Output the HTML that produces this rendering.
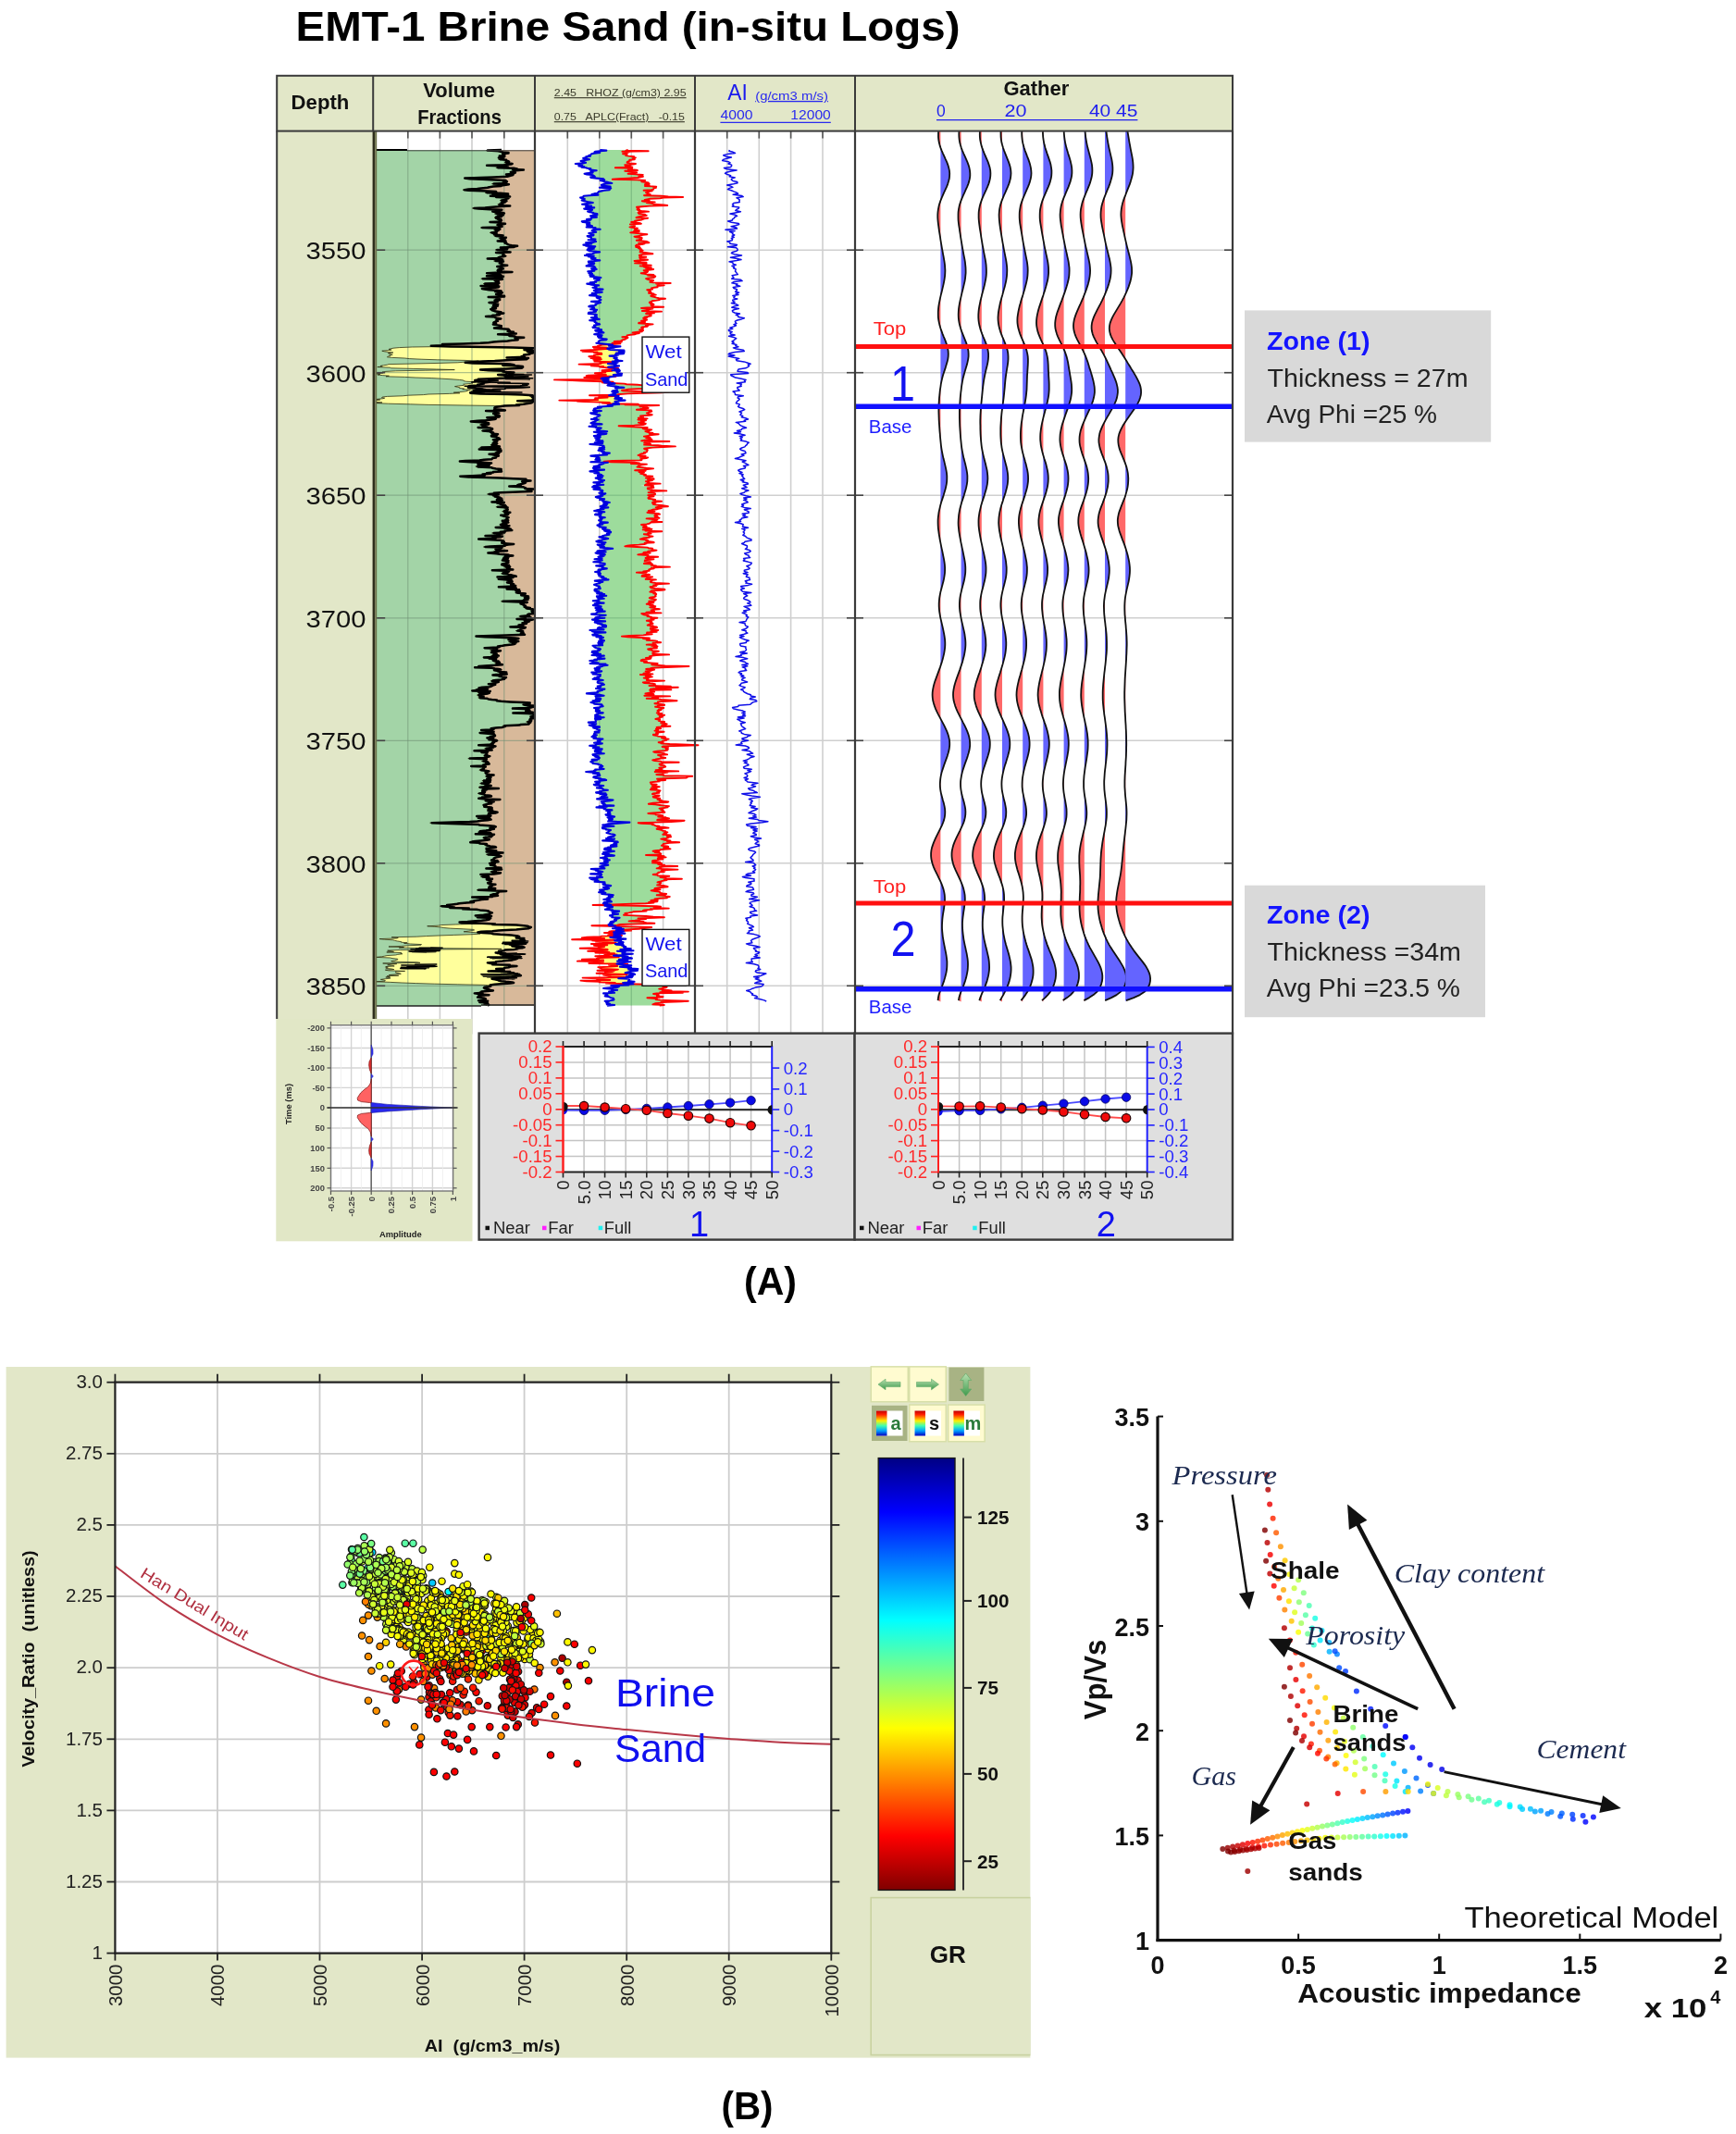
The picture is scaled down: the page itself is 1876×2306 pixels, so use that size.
<!DOCTYPE html>
<html lang="en"><head><meta charset="utf-8"><title>EMT-1 Brine Sand (in-situ Logs)</title>
<style>
html,body{margin:0;padding:0;background:#fff;}
body{width:1876px;height:2306px;overflow:hidden;font-family:"Liberation Sans",sans-serif;}
svg{display:block;filter:blur(0.55px);}
</style></head><body>
<svg width="1876" height="2306" viewBox="0 0 1876 2306">
<rect width="1876" height="2306" fill="#fff"/>
<text x="319.5" y="43.8" font-size="44" fill="#000" font-family='"Liberation Sans", sans-serif' font-weight="bold" textLength="718.0" lengthAdjust="spacingAndGlyphs">EMT-1 Brine Sand (in-situ Logs)</text>
<rect x="299.2" y="81.8" width="1032.8" height="59.8" fill="#e2e7c8" stroke="none" stroke-width="1" />
<rect x="299.2" y="141.6" width="104.0" height="959.4" fill="#e2e7c8" stroke="none" stroke-width="1" />
<rect x="403.2" y="141.6" width="928.8" height="976.0" fill="#fff" stroke="none" stroke-width="1" />
<line x1="403.2" y1="270.2" x2="1332.0" y2="270.2" stroke="#cfcfcf" stroke-width="1.6" />
<line x1="403.2" y1="402.7" x2="1332.0" y2="402.7" stroke="#cfcfcf" stroke-width="1.6" />
<line x1="403.2" y1="535.2" x2="1332.0" y2="535.2" stroke="#cfcfcf" stroke-width="1.6" />
<line x1="403.2" y1="667.8" x2="1332.0" y2="667.8" stroke="#cfcfcf" stroke-width="1.6" />
<line x1="403.2" y1="800.3" x2="1332.0" y2="800.3" stroke="#cfcfcf" stroke-width="1.6" />
<line x1="403.2" y1="932.8" x2="1332.0" y2="932.8" stroke="#cfcfcf" stroke-width="1.6" />
<line x1="403.2" y1="1065.3" x2="1332.0" y2="1065.3" stroke="#cfcfcf" stroke-width="1.6" />
<line x1="440.8" y1="141.6" x2="440.8" y2="1117.6" stroke="#cfcfcf" stroke-width="1.6" />
<line x1="475.4" y1="141.6" x2="475.4" y2="1117.6" stroke="#cfcfcf" stroke-width="1.6" />
<line x1="510.0" y1="141.6" x2="510.0" y2="1117.6" stroke="#cfcfcf" stroke-width="1.6" />
<line x1="544.8" y1="141.6" x2="544.8" y2="1117.6" stroke="#cfcfcf" stroke-width="1.6" />
<line x1="613.3" y1="141.6" x2="613.3" y2="1117.6" stroke="#cfcfcf" stroke-width="1.6" />
<line x1="647.8" y1="141.6" x2="647.8" y2="1117.6" stroke="#cfcfcf" stroke-width="1.6" />
<line x1="682.3" y1="141.6" x2="682.3" y2="1117.6" stroke="#cfcfcf" stroke-width="1.6" />
<line x1="716.6" y1="141.6" x2="716.6" y2="1117.6" stroke="#cfcfcf" stroke-width="1.6" />
<line x1="785.7" y1="141.6" x2="785.7" y2="1117.6" stroke="#cfcfcf" stroke-width="1.6" />
<line x1="820.3" y1="141.6" x2="820.3" y2="1117.6" stroke="#cfcfcf" stroke-width="1.6" />
<line x1="854.6" y1="141.6" x2="854.6" y2="1117.6" stroke="#cfcfcf" stroke-width="1.6" />
<line x1="889.0" y1="141.6" x2="889.0" y2="1117.6" stroke="#cfcfcf" stroke-width="1.6" />
<rect x="403.2" y="162.0" width="174.8" height="925.0" fill="#fff" stroke="none" stroke-width="1" />
<rect x="406.4" y="162.0" width="171.1" height="925.0" fill="#a3d4a7" stroke="none" stroke-width="1" />
<path d="M542,162l-17,.6 15,.6-1.6,.6 3.4,.6 7.7,.6 0,.6-6.3,.6 2.1,.6-1.5,.6 1.5,.6-5.5,.6 5.5,.6-4.1,.6-2.3,.6 5.2,.6-4.1,.6-1.4,.6 8.5,.6-.2,.6-.4,.6 3.6,.6-3.4,.6-1.5,.6 4.9,.6 3.5,.6-3.6,.6-5.2,.6-18.7,.6 19.3,.6 .4,.6 3.4,.6-13.3,.6 17.3,.6 5.5,.6-4.7,.6 11.9,.6-7.9,.6-2.8,.6-.9,.6-2.5,.6 5.1,.6-2.6,.6 .8,.6-8.1,.6 7.4,.6-1.8,.6-4.6,.6-.1,.6-14,.6-17.4,.6-14.2,.6 5.3,.6 12.1,.6 15.8,.6 9,.6 2.1,.6 1.3,.6-4.1,.6 1.8,.6 1.6,.6-15.7,.6 18.4,.6-3.2,.6-5,.6-2.2,.6-6.5,.6-6.1,.6-.1,.6-8.7,.6-4.5,.6-7.4,.6-6.2,.6 6.5,.6 18,.6 11.5,.6 .3,.6-12.3,.6 14.5,.6 10.6,.6-16.7,.6 16.7,.6-1.8,.6-17.4,.6 21.2,.6-15.1,.6 13.2,.6 .3,.6-4.1,.6 1.7,.6-1.1,.6-5.9,.6 7.4,.6-3.6,.6 2.1,.6-4.2,.6-.4,.6 1.9,.6-5.5,.6 1.9,.6 4.6,.6 6.9,.6-12.4,.6-6.6,.6-8,.6-13.9,.6 6.7,.6 12.7,.6 12.7,.6-3.1,.6-2,.6-5,.6 4,.6 4.1,.6 4.5,.6-10.5,.6 8.9,.6 .6,.6-.9,.6-4.9,.6 3.9,.6-5.8,.6-2.2,.6 2.1,.6 1.6,.6 3.7,.6-4,.6 4.6,.6-1.5,.6 .7,.6-11.7,.6 11.6,.6-3.3,.6 8.2,.6-2.9,.6-7.1,.6 2,.6 2.5,.6 2.1,.6-5.4,.6-18,.6 15.9,.6 3.4,.6 1.8,.6-6.8,.6 5.2,.6-2.4,.6-2.3,.6 2.7,.6-7.5,.6 4.2,.6 1.1,.6-.6,.6 2.8,.6 6.9,.6-9.7,.6 8,.6-.5,.6 5.5,.6-8.1,.6 3,.6 1.5,.6 .5,.6 2.4,.6-8.5,.6 8.5,.6-1.5,.6 .7,.6 .4,.6 2.2,.6 .3,.6 2,.6 2.6,.6 6.2,.6-4.5,.6-1.6,.6-12.1,.6 7.7,.6-3.8,.6 3.2,.6-12.9,.6 10,.6-1,.6 .4,.6 7.1,.6-15.6,.6 8,.6-.4,.6 .5,.6-1.5,.6 .8,.6 2.9,.6-2.9,.6-5.6,.6 .9,.6 0,.6-11.9,.6 15.9,.6-1.6,.6-2.6,.6-4.9,.6 10.3,.6-3.4,.6-.5,.6-.2,.6 2.7,.6 .4,.6-1.2,.6 6.5,.6-5.8,.6-5.1,.6 2.1,.6 3.1,.6-.7,.6 0,.6-.3,.6-3.3,.6-.5,.6 4.1,.6-1.4,.6 13.1,.6-13.7,.6-13.7,.6 13.8,.6-2.6,.6 1.1,.6 3.5,.6-15.9,.6 18,.6-1.3,.6-.6,.6-4.8,.6-17.5,.6 23.2,.6-6,.6-2.4,.6 .9,.6 3.3,.6-2.2,.6-.6,.6 3.3,.6-17.2,.6 16.1,.6-4.3,.6-2.8,.6-11.6,.6 19.8,.6-2.5,.6-1.6,.6-7.2,.6-7.1,.6 1.2,.6 6.3,.6 8.5,.6 4.7,.6-6.6,.6 4.9,.6 .7,.6 1.4,.6-4.8,.6-1.1,.6 5.2,.6-3.4,.6 7.1,.6 .1,.6-17.4,.6 10.8,.6-1.2,.6-.9,.6-1,.6 4.8,.6-5.6,.6 1.5,.6-.2,.6-.4,.6-7,.6 4.8,.6 1,.6 3.9,.6-3.6,.6-1.6,.6 4.9,.6-3.5,.6-1.1,.6-1.3,.6 4,.6-2.6,.6-3.2,.6 1.3,.6 .5,.6 2.3,.6-.3,.6 5.4,.6-.6,.6 3.4,.6-1.7,.6-3.5,.6 2.8,.6-7.5,.6-1.1,.6-6.2,.6 10.2,.6 .2,.6-.8,.6 6.7,.6-3.8,.6-.9,.6-1.3,.6 .6,.6-1.9,.6-1.2,.6 .6,.6 2.5,.6 .2,.6-3.2,.6 3.1,.6 2.4,.6 3.4,.6-.8,.6 .7,.6-1.5,.6-6.2,.6 8.1,.6 7.5,.6 .3,.6 .7,.6-1.7,.6-1.5,.6 7.6,.6-2.6,.6-.9,.6 6.3,.6-19.7,.6 9.9,.6 2.4,.6 .1,.6 6.2,.6 .7,.6 6.7,.6-7.6,.6 1.9,.6-1.7,.6 2.9,.6-8.4,.6-2.7,.6-9.3,.6-6.1,.6-7.1,.6-7.1,.6-18,.6-23,.6-.1,.6-.1,.6-11.9,.6 21.1,.6-41.5,.6-14.1,.6-6.3,.6-2.7,.6-2.2,.6 3,.6-3.5,.6-6.8,.6 2.6,.6 4.2,.6 5.3,.6-5.6,.6 .9,.6 2.2,.6 1.8,.6-3.3,.6 1,.6-2.8,.6-.7,.6 5.1,.6 13.8,.6 5,.6 12.8,.6 17.7,.6 29.2,.6 15.3,.6-4.6,.6-11.1,.6-6.8,.6-20.7,.6-25,.6-29.1,.6-1.5,.6-4.1,.6-3.3,.6 2.2,.6-5.5,.6 14,.6 .5,.6 23.8,.6 25.3,.6 19.9,.6-32.1,.6-31.5,.6-10.8,.6-3.7,.6 1,.6-.3,.6-7.5,.6 4.5,.6-2.9,.6 5.5,.6 6.9,.6-3.4,.6 20.3,.6 11.8,.6 17.8,.6 10.9,.6 10.2,.6 8.4,.6 4.5,.6 .2,.6 2.4,.6 10.6,.6-4.6,.6 1.5,.6-4,.6-6.3,.6 .9,.6-.4,.6-5.7,.6-4,.6 2.7,.6 2.7,.6-.4,.6 5,.6-1.7,.6 8.7,.6-3.6,.6 .3,.6-2.5,.6-6,.6-6.5,.6 6.7,.6-11.2,.6-22.7,.6-5.5,.6-16.3,.6-6,.6-16.7,.6-5,.6-1,.6 3.2,.6-2.5,.6-6.3,.6 3.9,.6-4.4,.6 .1,.6 .1,.6-.2,.6 6.6,.6-6.6,.6 13.1,.6 23.8,.6 19.8,.6 39.9,.6 42.1,.6-4.9,.6-5.5,.6-.3,.6 .9,.6 .7,.6-1.9,.6 7.3,.6 4.5,.6-20.8,.6 10,.6 .3,.6-.7,.6 4.6,.6-6.2,.6 3.7,.6-1.6,.6 1.3,.6 3.4,.6-.2,.6-.4,.6-13,.6 7.4,.6 .2,.6 .7,.6-6,.6-3.8,.6-8.7,.6-7.3,.6 7.4,.6 7.3,.6 4.6,.6-5.3,.6 5.5,.6-10,.6 2.4,.6 2,.6-1.4,.6 5.2,.6-9.9,.6 13.3,.6 .2,.6 0,.6-.4,.6 .5,.6-10.2,.6 10.2,.6-.2,.6 .9,.6 2.4,.6-1.7,.6 6.4,.6-1.9,.6 .7,.6-5.9,.6 .4,.6 5.1,.6 .4,.6 2.5,.6 .4,.6 .5,.6-7.3,.6 4.1,.6 .4,.6-3.1,.6 2.3,.6-1.7,.6-2.1,.6 4.4,.6-.9,.6-6.4,.6 1.9,.6 4,.6 4.1,.6-.3,.6-21.1,.6 15.2,.6 6.9,.6-22.8,.6 17.9,.6 5.8,.6-1.6,.6-.5,.6-2.8,.6-2,.6 4.8,.6-.9,.6-9.9,.6 6,.6-2,.6 6.3,.6-2.6,.6 0,.6-.3,.6-3.6,.6-.4,.6-.7,.6-8.2,.6-5,.6-15.2,.6-6,.6 9.7,.6 14.1,.6 10.4,.6-3.8,.6-10.8,.6 11.4,.6 .8,.6-3.1,.6-11.8,.6 1.1,.6 14.6,.6 2.4,.6 2.1,.6 7.6,.6-.2,.6 .2,.6-2.9,.6 3.3,.6-9.1,.6 .1,.6-7,.6 4.5,.6-8.9,.6 2.4,.6-.3,.6-15.7,.6-10.7,.6 9.1,.6 16.6,.6 17.7,.6 14.2,.6 13.5,.6 0,.6-1.2,.6 4.3,.6-7.3,.6 .2,.6 3.8,.6-3.1,.6-1.7,.6-.5,.6-2.7,.6-1.1,.6 1.7,.6-10.5,.6 15,.6 1.5,.6 1.4,.6-.8,.6 7.3,.6-5.1,.6 .4,.6 1.2,.6 1.3,.6-12.2,.6-18.7,.6-7.8,.6 1.4,.6-8.7,.6 12.3,.6-6.1,.6 4.1,.6-2.3,.6 3.2,.6 .8,.6-.9,.6 4.6,.6-1.3,.6-4,.6 5.8,.6-.2,.6-.9,.6-10.2,.6 13.4,.6-7.6,.6 2,.6 1.4,.6 2.6,.6 2.8,.6-1,.6 2,.6-11.1,.6 12.7,.6-2.2,.6-.9,.6 3.2,.6-2.1,.6 .8,.6-2.2,.6-2.6,.6 1.8,.6 6.9,.6-5.5,.6 2,.6 1.5,.6-.6,.6-7.4,.6 2,.6 3.3,.6 .2,.6 2.8,.6-1.1,.6-.8,.6 .2,.6-1.5,.6 2.8,.6-6.4,.6-.1,.6 5.9,.6-1.4,.6-3.8,.6 4.3,.6-6.7,.6-.1,.6 3.4,.6 4.1,.6 .3,.6-3.1,.6-9.9,.6 7.1,.6 5.3,.6 3.8,.6-3.3,.6 4.7,.6-7.7,.6 .6,.6-5.4,.6 2.6,.6-11.8,.6 11.5,.6-7.1,.6 4,.6-2,.6-13.5,.6 16.3,.6 .2,.6-8.7,.6 1.5,.6-8.9,.6-7.7,.6 11.4,.6 9.8,.6 5.4,.6 .6,.6 .4,.6-2.6,.6 .1,.6 3.7,.6 9.2,.6-6,.6-4.4,.6 .9,.6-17.7,.6-5.6,.6 20.3,.6-.8,.6-2.9,.6-5,.6 7,.6-3.6,.6 10.7,.6-14.6,.6 5,.6-5.3,.6-5.8,.6 9.1,.6 3.4,.6 9,.6 1.3,.6 2.1,.6-6.3,.6 3.8,.6-4.9,.6-.5,.6 4.5,.6-5.1,.6 0,.6-.9,.6 6.6,.6-5.2,.6 4.3,.6 .8,.6-1.7,.6-.2,.6-5.1,.6-.2,.6 7.8,.6-7.2,.6 4.8,.6 3.5,.6-5.6,.6 4.4,.6 .5,.6-1.6,.6 5.5,.6-22.4,.6 13.9,.6 2.3,.6-1,.6-.8,.6-2.7,.6-2.1,.6 7,.6 1,.6 1.8,.6 4.6,.6 1.9,.6-20.3,.6 17.2,.6-5.2,.6 2.9,.6-13.7,.6 10,.6-1.8,.6 4.3,.6-.7,.6 3.1,.6-5.6,.6 1.9,.6 2.6,.6 2.7,.6-3,.6 .6,.6 4.4,.6-1.9,.6-16.4,.6 16.3,.6 2.6,.6-.2,.6-9.9,.6 13.5,.6-4,.6 1.9,.6 .7,.6-1.7,.6-.3,.6 2.4,.6 7.6,.6-4.6,.6 2.4,.6-2.3,.6 4.2,.6 1.4,.6 .7,.6-2.7,.6 2.4,.6-2.1,.6 .5,.6 2.8,.6-6.6,.6 3.2,.6-25.7,.6 20.2,.6 8.2,.6-6.4,.6-.7,.6-1,.6 2.3,.6 .1,.6 3.9,.6 0,.6-1.4,.6 1.1,.6 5.2,.6-5.6,.6 8.2,.6-.6,.6 1.9,.6-2.3,.6 .8,.6-.3,.6 2.5,.6 0,.6 0,.6-6.2,.6-1.1,.6-.1,.6-2.3,.6-7,.6 11.3,.6 1.5,.6-3.3,.6-3.5,.6-8.3,.6 15.3,.6-1.8,.6-5.2,.6 5.3,.6-1.7,.6-1.2,.6-4.7,.6 4.4,.6-2.4,.6-2.6,.6-3.3,.6 4.8,.6-2.6,.6-11.4,.6 16.5,.6-.7,.6-2.5,.6-3.8,.6-.3,.6 1.1,.6-4.5,.6 5.9,.6-.4,.6 2.2,.6 .7,.6-2.9,.6-.2,.6 4.5,.6-19.9,.6-18.3,.6-14.3,.6 9.6,.6 16,.6 14.4,.6 5.9,.6-2.9,.6-8,.6 1.7,.6 4.8,.6 4.3,.6-10.8,.6 8.6,.6-4.4,.6 3.3,.6-1.1,.6-3,.6-7,.6-2.8,.6-5.1,.6 2.1,.6-4.7,.6-11.8,.6 13.6,.6-4.6,.6 1.4,.6-4.3,.6 11.3,.6-5.4,.6-5.7,.6 1.1,.6 3.1,.6 2.5,.6-2.9,.6-1.9,.6 3.7,.6 3.3,.6-8.8,.6 7.5,.6-14.6,.6 13.5,.6-7.8,.6 5.4,.6 .1,.6-1.4,.6 .8,.6 3.1,.6-2,.6 5.2,.6-1.8,.6-3.3,.6 5.1,.6 3.1,.6-8.4,.6-10.3,.6-6.9,.6 6.6,.6-10.8,.6 18.4,.6 3.4,.6 4.2,.6 2.2,.6-7.3,.6 1.8,.6 .2,.6 4.6,.6 6.6,.6-1,.6-7,.6 8.6,.6-13.9,.6-1.4,.6 7.3,.6-.5,.6 2.9,.6 4.8,.6-.9,.6-1.5,.6 .3,.6-3.3,.6-5.5,.6-5.7,.6 1.5,.6 4.9,.6 .4,.6-4.4,.6 .6,.6-5.5,.6 7.3,.6-2.1,.6-1.3,.6-.8,.6-1.7,.6-10.5,.6-1.3,.6 .4,.6 7,.6-11.5,.6 3.3,.6-6.4,.6 19.5,.6-5.9,.6-8,.6 11,.6 .3,.6-4.5,.6-6.8,.6-.5,.6 3.2,.6 4,.6-5.8,.6 5.8,.6-5.7,.6 9.6,.6 1.3,.6 3.6,.6 5.5,.6-.1,.6 4.8,.6 9.4,.6 14.1,.6 7.6,.6-1.5,.6 1.3,.6-6.9,.6 2.5,.6 8.3,.6 1.1,.6-1.2,.6-4.1,.6-3.1,.6-15.1,.6 14.1,.6 2.6,.6-.4,.6-2.1,.6 4.3,.6-1.1,.6 4.4,.6-21.4,.6 16,.6 5.2,.6 1.9,.6 0,.6-.1,.6-.9,.6-3,.6 .4,.6 2.4,.6-2.3,.6-1.1,.6-.4,.6 1.5,.6-1.8,.6 .4,.6-4,.6 2.9,.6-.2,.6 .7,.6-.5,.6-8.8,.6-1.5,.6-17.9,.6 1,.6 .2,.6-2,.6-6.8,.6-5,.6 3,.6-3.5,.6-10.1,.6 12,.6-7.9,.6 7.4,.6-2.9,.6-10.1,.6 6.5,.6 8.8,.6 .1,.6 .8,.6 .2,.6-.6,.6-4.9,.6 .5,.6-3.6,.6 6.9,.6-3.8,.6-1.1,.6 7.6,.6 1.1,.6-3.8,.6-.6,.6 1.3,.6-2.1,.6 .9,.6-2.3,.6 2.1,.6-15.4,.6 15.1,.6 1.1,.6-3.7,.6 3.6,.6-4.1,.6-5.6,.6 5.2,.6-.4,.6 1.2,.6-17.1,.6 14.8,.6-.3,.6-6.6,.6 3.7,.6 1.1,.6 .1,.6 1,.6-1.5,.6-1,.6 5.5,.6-1.6,.6-5,.6 2.1,.6-19,.6 18,.6 1.8,.6-.6,.6-1.3,.6-3.3,.6 6.1,.6 1.1,.6-2.1,.6-.5,.6 3.7,.6-5,.6-1.7,.6 0,.6-12.8,.6 15.6,.6-2.6,.6-1.1,.6 1.7,.6-2.1,.6-2.3,.6-.5,.6 6.7,.6 3.9,.6-2,.6-1.7,.6-1.4,.6 1.7,.6 1.7,.6 2,.6 4.8,.6-5,.6-2.9,.6 3.5,.6-.7,.6 1.5,.6-1.8,.6-2,.6 2.3,.6 1.6,.6-9.2,.6 2.2,.6 6.7,.6-.7,.6-1.1,.6-9.5,.6 8.9,.6-2.8,.6 3.7,.6 .4,.6-4.9,.6-.5,.6-6.3,.6 6.5,.6 13.3,.6-11.6,.6 .9,.6-4.6,.6 .9,.6-1.2,.6 .1,.6 .4,.6-.9,.6-4.7,.6 5.4,.6 1.9,.6 .9,.6 5.7,.6-1.1,.6-2.8,.6-5.1,.6-1.4,.6-2.3,.6 8,.6 15.1,.6-11.3,.6-4.4,.6 1.9,.6 5.1,.6-3.5,.6-.1,.6 3.1,.6-4.5,.6-2,.6-2.1,.6-.2,.6 3.2,.6-2.3,.6 7.4,.6 1,.6-3.6,.6-1.6,.6-.3,.6 3.8,.6-2.5,.6 2.3,.6 5.3,.6 .5,.6-1.8,.6-5.8,.6 1.1,.6 .7,.6-2.4,.6 1,.6-13.2,.6 14.2,.6-8.7,.6-3.9,.6 7.4,.6 5.2,.6 1.2,.6-3.6,.6-6.6,.6-6.5,.6-8.4,.6-15.7,.6-25.1,.6 12.9,.6 25.2,.6 14.5,.6 .9,.6 10,.6 5.8,.6 1.8,.6-7.3,.6 3,.6-2.1,.6 4.5,.6-3.2,.6-.8,.6-4.8,.6-6.3,.6 .1,.6-1.2,.6 11.4,.6 1.7,.6-16.9,.6 18,.6-.7,.6 1.1,.6-3.6,.6 2.3,.6-6.7,.6-1.5,.6 2.7,.6-1.1,.6 4.5,.6-2.9,.6-8.1,.6-4.2,.6-3.5,.6-2,.6 10.2,.6 0,.6 7.5,.6 .2,.6-2.7,.6 1.5,.6 4.8,.6 3.3,.6 3,.6-4.8,.6-5.6,.6 1.3,.6-1.2,.6 .3,.6 10.2,.6-.4,.6-10.2,.6 12,.6 3.9,.6-12.2,.6 6.6,.6-10.6,.6 14,.6-.4,.6 2.7,.6-2.6,.6-2.6,.6-1.6,.6-1.2,.6-.2,.6 .4,.6-2.8,.6 6.5,.6-3.4,.6 4.4,.6-8.5,.6 5.2,.6-6.1,.6 5.6,.6-1.4,.6-3.3,.6 1.2,.6 2.1,.6 1.8,.6 .5,.6 5.9,.6-16.1,.6 11.2,.6 5.5,.6-8.5,.6 1.7,.6-1.6,.6-4.1,.6 4.4,.6 7,.6-4.3,.6-3,.6-14.3,.6 5.9,.6 2.6,.6-1.9,.6-6.7,.6 9.2,.6-2.9,.6 .3,.6 4,.6-4,.6 4.6,.6-3.3,.6 1.7,.6 1.3,.6-.9,.6-2.2,.6 3.4,.6-3.9,.6 8.8,.6-5,.6 1.5,.6-3.6,.6 .5,.6-.3,.6-.3,.6 7,.6-.2,.6-1.3,.6-18.6,.6 20.1,.6 12,.6-9.3,.6 .9,.6-2.6,.6 1.2,.6-3.8,.6-1.5,.6-1.9,.6 7.8,.6-6,.6 0,.6-21.8,.6 14.4,.6-3.8,.6 6.4,.6-6.7,.6-2.5,.6-6.5,.6-2.6,.6-.8,.6 3.8,.6-9.4,.6-6.1,.6-2.5,.6-5.2,.6-5.6,.6 3.9,.6-11.7,.6 8.1,.6 7.5,.6-4.6,.6 18.4,.6-4.9,.6 15.2,.6 3.5,.6 6.4,.6 3.1,.6-1.3,.6 3,.6 .1,.6-.9,.6 .8,.6-4.1,.6-3.1,.6-8.7,.6 17.3,.6-2.6,.6-12.7,.6 8.9,.6 5.5,.6-4.8,.6 3.4,.6-3.7,.6-4.7,.6-11.3,.6-3.9,.6-8.6,.6 2.4,.6 21.8,.6-9.8,.6-18.2,.6-16.1,.6-3,.6-12,.6 8.2,.6 6.7,.6 3.2,.6 7,.6 13.3,.6 11.3,.6 1.2,.6-2.3,.6-4,.6-5.2,.6 7.7,.6 9.4,.6 1.3,.6-.5,.6-10.7,.6-17.6,.6-15.8,.6-14.4,.6-10.2,.6-27.1,.6 7.1,.6-1.8,.6-18.4,.6 5.2,.6 9.5,.6 1.7,.6 2.9,.6 4.1,.6-.2,.6 6.8,.6-3.5,.6 6.9,.6 12,.6-.6,.6-14.2,.6-7,.6-13.7,.6 16.5,.6-5.2,.6 50.8,.6 60,.6-70.9,.6-39,.6-13.5,.6 4.7,.6 2.1,.6-7.7,.6 15.9,.6-.9,.6 2,.6-5,.6-2.2,.6-9.5,.6-2.5,.6-3.3,.6-5.9,.6 15.1,.6 2.5,.6 5.6,.6 .4,.6-2,.6-1.2,.6-4.1,.6 1.5,.6 26.6,.6 3.2,.6-40.3,.6 15.1,.6-6.7,.6-3.4,.6 4.7,.6 2.8,.6-9.5,.6 2.6,.6-2.7,.6 .5,.6 6.2,.6 2.5,.6-9.4,.6 3.3,.6 17.9,.6-10.4,.6 .5,.6 0,.6 3.7,.6 1.9,.6-6.5,.6-6.5,.6 10.5,.6-12.7,.6 3.3,.6-4.6,.6 4.8,.6 .2,.6-5.6,.6-4.8,.6 3.3,.6 1.7,.6-.4,.6-9.6,.6 15.4,.6 12.3,.6 15.4,.6 19.7,.6 25,.6 30,.6 6.3,.6-2.1,.6-.1,.6-4.6,.6-.8,.6 .6,.6 1.5,.6 3.5,.6-.1,.6 4.5,.6-6.5,.6-8,.6 .8,.6 2.3,.6-8.7,.6 4.6,.6 .3,.6 10.8,.6-11.1,.6 2.8,.6-3,.6-1.1,.6 4.8,.6 2.8,.6 1.2,.6-2.9,.6 2.6,.6-7.6,.6 10.2,.6-7.2,.6-1.7,.6 7.7,.6 1,.6-3.5,.6 2.5,.6 .1,.6-1.1,.6 2,0 1.2-.6-.2-.6-4.5-.6 3.5-.6-1-.6-7.7-.6 1.7-.6 7.2-.6-10.2-.6 7.6-.6-2.6-.6 2.9-.6-1.2-.6-2.8-.6-4.8-.6 1.1-.6 3-.6-2.8-.6 11.1-.6-8.8-.6-2.3-.6-4.6-.6 8.7-.6-.2-.6-.9-.6 6-.6 6.5-.6-4.5-.6 .1-.6-3.5-.6-1.5-.6-.6-.6 .8-.6 4.6-.6 2.2-.6 0-.6-.8-.6 4.8-.6 6.6-.6 10.4-.6 3.6-.6-1.6-.6-6.7-.6-5.3-.6-2.5-.6-1-.6-3.3-.6-3.1-.6 11.4-.6 6-.6-2.4-.6 6.1-.6 4.1-.6 6.1-.6-4.6-.6 3-.6-4.6-.6-1-.6-1-.6-5.6-.6 2.1-.6-23.6-.6 14.3-.6 2.8-.6-4.9-.6-3.6-.6 8.3-.6 .6-.6 5.1-.6 1.3-.6 7-.6-8.5-.6 .9-.6-18.8-.6 3.7-.6-5.8-.6-3.1-.6 9.3-.6-.3-.6 6.9-.6 4.4-.6 6.4-.6 2.3-.6 2.1-.6 1.2-.6-10-.6 12.3-.6-7.4-.6 0-.6-2.1-.6-5.5-.6-4.7-.6-1.4-.6 5.8-.6-10.5-.6 5.9-.6-.3-.6-2.3-.6 6-.6 .5-.6 9.8-.6 4.3-.6-1.7-.6 7-.6 1.7-.6-2.2-.6-11.1-.6 7-.6-5.7-.6-3.8-.6 13.6-.6-11.6-.6 5.9-.6 5.2-.6-1.5-.6 3.6-.6 1.3-.6-1.6-.6-3.2-.6 2.9-.6 1-.6-8.6-.6 2.4-.6 1-.6-1.3-.6-4.1-.6-3.6-.6-11.6-.6-7.5-.6-2-.6-9.6-.6-5.2-.6 3.7-.6 12-.6 6.7-.6 8.5-.6 10.7-.6 7.2-.6 6.3-.6 1.4-.6 1.1-.6-2.1-.6-1.8-.6-4.4-.6-7.6-.6-26-.6 3-.6-14.2-.6-21.8-.6-2.4-.6 8.6-.6 6-.6 9.2-.6 4.7-.6 3.7-.6-1.3-.6 2.7-.6-3.5-.6-10.9-.6 12.7-.6 2.6-.6-17.3-.6 8.7-.6 3.1-.6 4.1-.6-.8-.6 3-.6-2.2-.6-.9-.6-.8-.6-3.1-.6-6.4-.6-3.5-.6-15.2-.6 7-.6-20.5-.6 4.6-.6-7.5-.6-6.1-.6 9.7-.6-3.9-.6 5.6-.6 5.2-.6 2.5-.6 8.1-.6 7.4-.6-3.8-.6 2.9-.6 2.6-.6 4.4-.6 2.5-.6 6.7-.6-6.4-.6 3.8-.6-14.4-.6 21.8-.6 0-.6 6-.6-7.8-.6 1.9-.6 3.6-.6 1.7-.6 .8-.6 .6-.6-.9-.6 9.3-.6-12-.6-18-.6 16.5-.6 1.3-.6 .2-.6-7-.6 2.3-.6-1.7-.6 1.5-.6 1.6-.6 .5-.6 3-.6-6.8-.6 1.9-.6-3.4-.6 2.2-.6 .9-.6 .8-.6-1.7-.6 1.2-.6-4.6-.6 6.1-.6-6.1-.6-.3-.6 2.9-.6-7.1-.6 4.6-.6 1.9-.6-2.6-.6-5.9-.6 14.3-.6 5.1-.6 2.2-.6-7-.6-2.4-.6 4.1-.6-.4-.6-1.7-.6 8.5-.6-3.5-.6-13.2-.6 16.1-.6-5.9-.6-.5-.6 .3-.6-2.1-.6-3.3-.6 3.3-.6 1.4-.6-5.6-.6 6.1-.6-3.2-.6 6.5-.6-2.3-.6 1.3-.6-6.5-.6 2.8-.6-.4-.6 .2-.6 1.2-.6 1.6-.6 2.6-.6 2.6-.6-2.7-.6 .4-.6-11.9-.6 8.5-.6-4.5-.6 12.1-.6-5.9-.6-12-.6 10.2-.6 .4-.6-8.1-.6-2.4-.6 1.2-.6-1.3-.6 5.6-.6 4.8-.6-.9-.6-5.4-.6-2.7-.6-1.6-.6 .7-.6-.2-.6-7.5-.6 0-.6-10.2-.6 2-.6 3.5-.6 6.3-.6 6-.6 2.9-.6-4.5-.6 1.1-.6-2.7-.6 1.5-.6 6.7-.6-2.3-.6 3.6-.6-1.1-.6 2.8-.6-20.1-.6 16.9-.6-1.7-.6-11.4-.6 3.3-.6-2.2-.6 6.3-.6 4.8-.6 .8-.6 3.2-.6-4.5-.6 2.1-.6-.9-.6 5.2-.6-1.8-.6-5.8-.6-10-.6-.9-.6-14.5-.6-23.2-.6-12.8-.6 23-.6 17.7-.6 8.5-.6 4.4-.6 6.6-.6 3.6-.6-1.2-.6-3.1-.6-9.5-.6 3.9-.6 8.7-.6-14.2-.6 15.2-.6-3-.6 2.4-.6-.7-.6-1.1-.6 7.8-.6 1.8-.6-2.5-.6-5.3-.6-2.3-.6 4.6-.6-3.8-.6 .2-.6-.4-.6 3.6-.6-1-.6-7.4-.6 2.3-.6-1.2-.6-1.8-.6 2.1-.6 2-.6 4.5-.6-3.1-.6 2.1-.6 3.5-.6-5-.6-4-.6 4.4-.6 11.3-.6-15.1-.6-8-.6 4.3-.6-.6-.6 5.1-.6 4.9-.6-1-.6-5.7-.6-.9-.6-1.9-.6-3.4-.6 4.7-.6 1-.6-.4-.6-2.2-.6 3.3-.6-3-.6 4.6-.6-.9-.6 13.7-.6-15.4-.6-4.5-.6 4.3-.6 .5-.6 6.9-.6-2.4-.6-3.7-.6 2.8-.6-6.9-.6 7.5-.6 1.1-.6 .7-.6-6.7-.6-.1-.6 7.1-.6-1.6-.6-2.3-.6 2-.6 1.8-.6 .5-.6-1.3-.6-3.5-.6 2.9-.6 5-.6-4.8-.6-2-.6-1.7-.6 .4-.6-.7-.6 1.7-.6 2-.6-3.9-.6-4.7-.6 .6-.6 2.2-.6 .1-.6 .4-.6-1-.6 2.6-.6-15.6-.6 12.8-.6 0-.6 1.7-.6 5-.6-3.7-.6 2.5-.6 .1-.6-1.1-.6-4.1-.6 1.3-.6 1.3-.6 .6-.6 .3-.6-18.1-.6 17-.6-.1-.6 3-.6 1.6-.6-5.5-.6 1-.6 1.5-.6-1-.6-.1-.6 1-.6-5.8-.6 6.6-.6 .3-.6-14.8-.6 19.2-.6-3.3-.6 2.5-.6-5.3-.6 3.6-.6 4.1-.6-3.6-.6 5.8-.6-3.2-.6-15.1-.6 15.4-.6-2.1-.6 2.3-.6-.9-.6 2.1-.6-1.3-.6 2.7-.6 1.7-.6-1.1-.6-7.6-.6 3.1-.6 1.8-.6-6.9-.6 3.6-.6-.5-.6 4.9-.6 .6-.6-.2-.6-.8-.6-.1-.6-8.8-.6-6.5-.6 12.1-.6 2.9-.6-7.3-.6 5.8-.6-12-.6 10.1-.6 3.5-.6-3-.6 5-.6 6.8-.6 2-.6 1.8-.6-1-.6 15.9-.6 1.5-.6 8.8-.6 .5-.6-.7-.6 2.2-.6-2.9-.6 2-.6 1.6-.6-.2-.6-1.5-.6 .4-.6 3.1-.6 .3-.6-2.4-.6-.4-.6 3-.6 .9-.6 .1-.6 0-.6-1.9-.6-5.2-.6-16-.6 21.4-.6-4.4-.6 1.1-.6-4.3-.6 4.2-.6-1.7-.6-.5-.6-16.2-.6 15.1-.6 5.1-.6 2.1-.6 1.2-.6-1.1-.6-8.3-.6-2.5-.6 6.9-.6-1.3-.6 1.5-.6-7.6-.6-14.1-.6-9.4-.6-4.8-.6 .1-.6-5.5-.6-3.6-.6-1.3-.6-7.5-.6 3.6-.6-3.7-.6 3.7-.6-4-.6-1.2-.6 .5-.6 4.8-.6 4.5-.6 1.7-.6-11-.6 6-.6 5.9-.6-19.5-.6 8.5-.6-3.4-.6 11.6-.6-7-.6-2.5-.6 3.3-.6 8.5-.6 1.7-.6 .8-.6 1.3-.6 2.1-.6-7.3-.6 7.5-.6-.6-.6 2.4-.6 1.6-.6-6.9-.6 .6-.6 3.6-.6 5.5-.6 3.3-.6-.3-.6 1.5-.6 .9-.6-4.8-.6-2.9-.6 2.5-.6-9.3-.6 3.5-.6 11.8-.6-6.6-.6 5-.6 1-.6-6.6-.6-2.6-.6-.2-.6-3.8-.6 7.3-.6-2.2-.6-4.2-.6-3.4-.6-18.4-.6 12.8-.6-8.6-.6 6.9-.6 12.3-.6 6.4-.6-3.1-.6-3.1-.6 1.3-.6 1.8-.6-3.2-.6 2-.6-5.1-.6-.8-.6 1.4-.6 2-.6-7.5-.6 7.8-.6-13.5-.6 14.6-.6-5.5-.6 6.8-.6-1.2-.6-3.8-.6-.1-.6 2.9-.6-.4-.6-5.2-.6 .9-.6 5.7-.6 3.4-.6-9.2-.6 4.3-.6-1.5-.6 2.6-.6-13.6-.6 13.9-.6 2.6-.6-2.1-.6 5.1-.6 2.8-.6 7-.6 3-.6 1.1-.6-3.3-.6 4.4-.6-6.5-.6 8.7-.6-4.3-.6-2.8-.6-3.7-.6 8-.6 2.9-.6-3.8-.6-16.5-.6-16-.6-9.6-.6 16.3-.6 16.3-.6 19.9-.6-4.5-.6 2.2-.6 .9-.6-.7-.6-2.2-.6 2.5-.6-5.9-.6 2.4-.6 1-.6 .2-.6 1.8-.6 2.5-.6 .7-.6-16.5-.6 11.4-.6 2.6-.6-4.8-.6 3.3-.6 2.6-.6 2.4-.6-4.4-.6 4.7-.6 1.2-.6 1.7-.6-5.3-.6 5.2-.6 3.8-.6-17.3-.6 10.4-.6 1.4-.6 3.3-.6-1.5-.6-9.3-.6 5-.6 4.3-.6-1.9-.6 1.1-.6 6.2-.6 0-.6 0-.6-2.5-.6 .3-.6-.8-.6 2.3-.6 .1-.6-1.4-.6-6.2-.6 3.6-.6-3.1-.6-3.2-.6 1.4-.6 0-.6-1.9-.6 0-.6-2.3-.6-1.1-.6 .7-.6 6.4-.6-8.2-.6-18.1-.6 23.6-.6-1.2-.6 4.6-.6-2.8-.6-.5-.6 4.1-.6-4.4-.6 2.7-.6 1.4-.6-3.5-.6-4.2-.6 2.3-.6-2.4-.6 4.6-.6-7.6-.6-2.4-.6 2.4-.6 1.7-.6-2.8-.6-1.9-.6 4-.6-13.5-.6 9.9-.6 .2-.6-2.6-.6-16.3-.6 16.4-.6 1.9-.6-2.4-.6-2.6-.6 3-.6-2.7-.6-.5-.6-4-.6 5.6-.6-3.1-.6 2.7-.6-4.2-.6-.3-.6-10-.6 13.7-.6-2.9-.6 5.2-.6-17.2-.6 20.3-.6-1.9-.6-2.5-.6-3.9-.6-1-.6-5-.6 .1-.6 4.7-.6 .8-.6 1.1-.6-4.4-.6-13.9-.6 22.4-.6-5.5-.6 1.6-.6-.5-.6-2.3-.6 3.5-.6-3.5-.6-2.8-.6 5.2-.6-7.8-.6 .2-.6 5.1-.6 .2-.6 1.7-.6-.8-.6-2.2-.6 3.1-.6-6.6-.6 2.9-.6-2-.6 5.1-.6-4.5-.6 .5-.6 4.9-.6-3.8-.6 8.3-.6-4.1-.6-1.3-.6-9-.6-3.4-.6-9.1-.6 5.8-.6 5.3-.6-2.9-.6 12.5-.6-10.7-.6 3.6-.6-5-.6 3-.6 2.9-.6 .8-.6-18.2-.6 5.5-.6 15.7-.6-.9-.6 4.4-.6 6-.6-7.1-.6-5.8-.6-.1-.6 2.6-.6-.4-.6-.6-.6-3.3-.6-9.9-.6-13.4-.6 9.7-.6 8.9-.6-3.5-.6 8.7-.6 1.9-.6-18.4-.6 15.6-.6-.1-.6-4-.6 7.1-.6-9.4-.6 11.7-.6-4.6-.6 5.4-.6-.6-.6 7.7-.6-2.7-.6 1.3-.6-1.7-.6-5.4-.6-9.1-.6 9.9-.6 3.1-.6 1.7-.6-6.1-.6-3.4-.6 2.1-.6 4.7-.6-4.3-.6 5.9-.6-.7-.6-3.9-.6-1.9-.6 6.4-.6-2.8-.6 1.5-.6-.2-.6 .8-.6 1.1-.6-2.8-.6-.2-.6-3.3-.6-2-.6 7.4-.6 .6-.6-1.5-.6-2-.6 5.5-.6-4.8-.6-1.8-.6 .5-.6 2.2-.6 1.3-.6 0-.6-1.1-.6-1.2-.6 2.2-.6-10.6-.6 9-.6-2-.6 1-.6-2.8-.6-2.6-.6 .6-.6-4-.6 7.6-.6-13.4-.6 10.2-.6 .9-.6 .2-.6-5.8-.6 4-.6 1.3-.6-4.6-.6 2.9-.6-2.8-.6-3.2-.6 2.3-.6-4.1-.6 6.1-.6-10.2-.6 6.6-.6-1.4-.6 7.8-.6 18.7-.6 14.2-.6-3.3-.6-1.2-.6-.4-.6 7.1-.6-9.3-.6 .8-.6-1.4-.6-1.5-.6-15-.6 12.6-.6-3.8-.6 1.1-.6 2.7-.6 2.5-.6 1.8-.6 1-.6-3.8-.6-.2-.6 9.3-.6-6.3-.6 1.2-.6 0-.6-13.5-.6-14.2-.6-15.6-.6-18.7-.6-9.1-.6 12.8-.6 13.6-.6 .3-.6-2.4-.6 8.9-.6-4.5-.6 7-.6-.1-.6 9.1-.6-3.3-.6 2.9-.6-.2-.6 .2-.6-5.6-.6-4.1-.6-.3-.6-14.6-.6-1.1-.6 9.7-.6 3.1-.6-.8-.6-11.4-.6 12.8-.6 1.8-.6-8.3-.6-14.1-.6-11.8-.6 6-.6 15.2-.6 5-.6 8.2-.6 .7-.6 .4-.6 3.6-.6 .3-.6 0-.6 2.6-.6-4.2-.6-.1-.6-6-.6 9.9-.6 .9-.6-2.8-.6 2.1-.6 2.8-.6-1.6-.6 1.6-.6-5.8-.6-17.9-.6 22.8-.6-6.9-.6-13.2-.6 19.1-.6 .3-.6-4.1-.6-4-.6 .2-.6 4.3-.6 .9-.6-4.4-.6 2.1-.6 1.7-.6-2.3-.6 3.1-.6-.4-.6-4.1-.6 7.3-.6-.5-.6-.4-.6-2.5-.6-.4-.6-5.1-.6-.4-.6 5.9-.6-.7-.6 1.9-.6-6.4-.6 1.7-.6-.3-.6-3-.6 .2-.6-8.2-.6 8.2-.6 1.5-.6 .4-.6 0-.6-2.2-.6-13.3-.6 9.9-.6-5.2-.6 1.4-.6 .1-.6-2.4-.6 7.9-.6-3.5-.6 3.3-.6-4.6-.6-7.3-.6-7.4-.6 7.3-.6 8.7-.6 5.8-.6 4-.6 1.3-.6-.1-.6-9.5-.6 13-.6 .4-.6 .2-.6-3.4-.6-1.3-.6 1.6-.6-3.7-.6 6.2-.6-4.6-.6 .7-.6-.3-.6-10-.6 20.8-.6-4.5-.6-7.3-.6 1.9-.6-.7-.6-.9-.6 2.3-.6 3.5-.6 4.9-.6 16.1-.6-3.3-.6 7.6-.6 3.2-.6 4.6-.6 1.6-.6 .4-.6 2.2-.6-18.3-.6 18.3-.6-2-.6 .3-.6 .7-.6 1-.6-.1-.6-2.5-.6 1.8-.6-3.6-.6 2.5-.6-11.5-.6-15.7-.6-29.2-.6-10.8-.6-.2-.6 6.4-.6 8.8-.6 2.4-.6 6.1-.6-6.8-.6-3-.6-5.3-.6-4.5-.6-6.3-.6 7.3-.6-6.9-.6 .8-.6 10.4-.6-1.4-.6 3.3-.6 3.3-.6-1.3-.6 1.5-.6 6-.6-12.5-.6 1.3-.6-4.5-.6 3.1-.6 .3-.6 14.7-.6 13.3-.6 8.9-.6-.9-.6 1.1-.6-6.6-.6-3.1-.6-6-.6 9.8-.6-.7-.6 5.1-.6 3.1-.6-7.8-.6-4.4-.6 1.4-.6-16.5-.6-9-.6 11.3-.6 17.6-.6 15.7-.6 .8-.6 .6-.6-.2-.6-5-.6-16.7-.6 12.3-.6-4.4-.6-10.3-.6-29.6-.6-8.5-.6 8.3-.6 10.5-.6 13.1-.6 8.7-.6 12-.6 13.7-.6 .8-.6 1.2-.6-23.4-.6 19-.6-3.1-.6 3.6-.6-.4-.6-.6-.6 6.4-.6-.8-.6 3.9-.6 .5-.6-3.2-.6-3.1-.6 6.5-.6-4-.6-5.9-.6 8.3-.6-1.2-.6 3.3-.6-23.1-.6-29.8-.6-37-.6-21.1-.6 11.9-.6 .1-.6 .1-.6 23-.6 18-.6 9.2-.6 5-.6 6.1-.6 9.3-.6 4.8-.6 6.3-.6-.8-.6-.4-.6-1.9-.6 9.7-.6-8.8-.6-.7-.6-6.2-.6 1.9-.6-2.3-.6-12-.6 19.7-.6-6.3-.6 .9-.6 2.6-.6-5.6-.6-.5-.6 1.7-.6-.7-.6-.3-.6-7.5-.6-8.1-.6 6.2-.6 1.5-.6-.7-.6 .8-.6-3.4-.6-2.4-.6-3.1-.6 3.2-.6-.2-.6-2.5-.6 1.5-.6 1.1-.6 2-.6-.6-.6-.8-.6 .9-.6 3.8-.6-4.7-.6-1.2-.6-.2-.6-10.2-.6 6.2-.6 1.1-.6 7.5-.6-2.8-.6 3.5-.6 3.8-.6-5.5-.6 2.6-.6-5.3-.6-1.8-.6-2.3-.6-.5-.6-1.3-.6 5.3-.6 .5-.6-4-.6 1.3-.6 1.1-.6 3.5-.6-4.9-.6 3.6-.6 1.6-.6-3.9-.6-1-.6-4.8-.6 7-.6 2.4-.6 .3-.6-3.6-.6 5.6-.6-2.8-.6-1-.6 .9-.6 3.2-.6-12.8-.6 17.4-.6-.1-.6-7.1-.6 3.4-.6-5.2-.6 3.1-.6 2.8-.6 .7-.6-.8-.6-6.9-.6 6.6-.6-4.7-.6-8.5-.6-4.3-.6-3.2-.6 7.1-.6 7.2-.6 3.7-.6 .4-.6-19.8-.6 11.6-.6 2.8-.6 4.3-.6-14-.6 15.1-.6-3.3-.6 2.6-.6 .2-.6-3.3-.6-.9-.6 2.4-.6 6-.6-21.1-.6 17.4-.6 2.8-.6 .6-.6 1.3-.6-18-.6 15.9-.6-1.5-.6-1.1-.6 .6-.6-13.8-.6 13.7-.6 13.7-.6-13.1-.6 1.4-.6-4.1-.6 .5-.6 3.3-.6 2.4-.6-2.1-.6 .7-.6-3.1-.6-2.1-.6 5.1-.6 5.8-.6-6.5-.6 1.2-.6-.4-.6-2.7-.6 .2-.6 .5-.6 3.4-.6-8.2-.6 4.8-.6 2.6-.6-.4-.6-15.9-.6 11.9-.6 0-.6 1.2-.6 3.5-.6 2.9-.6-2.9-.6 1.3-.6-.6-.6-.5-.6 .4-.6-8-.6 15.6-.6-7.1-.6-.4-.6 1-.6-7.9-.6 10.8-.6-1.1-.6 1.7-.6-7.7-.6 14.1-.6 1.7-.6 2.4-.6-6.2-.6-2.6-.6-2-.6-.3-.6-2.2-.6-.4-.6 1.4-.6-.6-.6-8.5-.6 8.5-.6-.3-.6-2.6-.6-1.5-.6-1-.6 6.1-.6-5.5-.6 .5-.6-6-.6 7.7-.6-6.9-.6-2.8-.6 2.7-.6-3.2-.6-2.2-.6 5.5-.6-.7-.6 .3-.6 2.4-.6-3.2-.6 4.8-.6-1.8-.6-3.4-.6-13.9-.6 18.1-.6 3.3-.6-2.1-.6-.5-.6-2-.6 5.1-.6 2.9-.6-6.2-.6 1.3-.6-11.6-.6 11.7-.6-.7-.6 1.5-.6-2.6-.6 2-.6-3.7-.6-1.6-.6 0-.6 .1-.6 5.8-.6-3.9-.6 4.9-.6 .9-.6-.6-.6-6.9-.6 8.5-.6-2.5-.6-6.1-.6-4-.6 5-.6 2-.6 3.1-.6-12.7-.6-12.7-.6-4.6-.6 11.8-.6 8-.6 6.6-.6 12.4-.6-6.9-.6-4.6-.6 .2-.6 3.4-.6 .2-.6-1.7-.6 4.2-.6-2.1-.6 3.6-.6-5.3-.6 3.8-.6 1.1-.6 .3-.6 2.1-.6-.3-.6-13.2-.6 15.1-.6-21.2-.6 17.4-.6 1.8-.6-16.7-.6 16.7-.6-8.5-.6-14.5-.6 10.2-.6-.3-.6-9.5-.6-20-.6-4.5-.6 4.2-.6 9.5-.6 4.5-.6 6.6-.6 2.2-.6 4-.6 8.6-.6 .1-.6 5-.6 3.2-.6-16.3-.6 13.6-.6-1.6-.6-1.8-.6 4.1-.6-1.3-.6-.1-.6-11-.6-13.8-.6-14.1-.6-5.3-.6 16.2-.6 15.4-.6 14-.6 2.1-.6 2.6-.6 1.8-.6-7.4-.6 8.1-.6-.8-.6 2.6-.6-5.1-.6 2.5-.6 .9-.6 2.8-.6 7.9-.6-11.9-.6 4.7-.6-3.5-.6-17.2-.6 11.2-.6-1.3-.6-.4-.6-21.4-.6 18.7-.6 7.2-.6 1.6-.6-3.5-.6-2.9-.6-.5-.6 3.4-.6-1.5-.6-1.7-.6 .2-.6-6.4-.6-.7-.6 4.1-.6-5.2-.6 2.3-.6 4.1-.6-5.5-.6 5.5-.6-1.5-.6 1.5-.6-2.1-.6 6.3-.6 0-.6-5.6-.6-3.5-.6-.4-.6-13-.6 15-.6z" fill="#ffff9c" stroke="none" stroke-width="1" />
<path d="M577.5,162l-35.5,0-15,.6 13,.6 .4,.6 3.5,.6 5.6,.6 0,.6-6.3,.6 2.1,.6-1.5,.6 1.5,.6-5.5,.6 5.5,.6-4.1,.6-2.3,.6 5.2,.6-4.1,.6 .7,.6 6.4,.6-.2,.6 1.7,.6 1.5,.6-3.4,.6 .5,.6 2.9,.6 3.5,.6-1.6,.6-7.2,.6-18.7,.6 21.4,.6 .4,.6 1.3,.6-11.2,.6 17.2,.6 3.5,.6-4.7,.6 11.9,.6-7.9,.6-2.8,.6-.9,.6-2.5,.6 5.1,.6-2.6,.6 .8,.6-8.1,.6 7.4,.6-1.8,.6-2.6,.6-2.1,.6-14,.6-15.4,.6-16.2,.6 5.3,.6 14.1,.6 13.8,.6 11,.6 .1,.6 1.3,.6-4.1,.6 1.8,.6 1.6,.6-13.6,.6 16.3,.6-3.2,.6-5,.6-.1,.6-8.6,.6-4,.6-2.2,.6-6.6,.6-4.5,.6-9.5,.6-4.2,.6 4.5,.6 20,.6 9.5,.6 .3,.6-10.2,.6 14.5,.6 8.5,.6-16.7,.6 16.7,.6-1.8,.6-17.4,.6 21.2,.6-15.1,.6 13.2,.6 .3,.6-2.1,.6-.3,.6-1.1,.6-3.8,.6 5.3,.6-3.6,.6 2.1,.6-4.2,.6 1.7,.6-.2,.6-3.4,.6-.2,.6 4.6,.6 6.9,.6-12.4,.6-6.6,.6-8,.6-11.8,.6 4.6,.6 12.7,.6 12.7,.6-3.1,.6-2,.6-5,.6 4,.6 6.1,.6 2.5,.6-8.5,.6 6.9,.6 .6,.6-.9,.6-4.9,.6 3.9,.6-5.8,.6-.1,.6 0,.6 1.6,.6 3.7,.6-2,.6 2.6,.6-1.5,.6 .7,.6-11.7,.6 11.6,.6-1.3,.6 6.2,.6-2.9,.6-5.1,.6 2,.6 .5,.6 2.1,.6-3.3,.6-18.1,.6 13.9,.6 3.4,.6 1.8,.6-4.8,.6 3.2,.6-2.4,.6-.3,.6 .7,.6-5.5,.6 2.2,.6 3.2,.6-2.7,.6 2.8,.6 6.9,.6-7.7,.6 6,.6-.5,.6 5.5,.6-6.1,.6 1,.6 1.5,.6 2.6,.6 .3,.6-8.5,.6 8.5,.6 .6,.6-1.4,.6 .4,.6 2.2,.6 .3,.6 2,.6 2.6,.6 6.2,.6-2.4,.6-1.7,.6-14.1,.6 7.7,.6-1.7,.6 1.1,.6-10.8,.6 7.9,.6-1,.6 .4,.6 7.1,.6-15.6,.6 8,.6-.4,.6 .5,.6 .6,.6-1.3,.6 2.9,.6-2.9,.6-3.5,.6-1.2,.6 0,.6-11.9,.6 15.9,.6 .4,.6-2.6,.6-4.8,.6 8.2,.6-3.4,.6-.5,.6-.2,.6 2.7,.6 .4,.6-1.2,.6 6.5,.6-5.8,.6-5.1,.6 2.1,.6 3.1,.6-.7,.6 2.1,.6-2.4,.6-3.3,.6-.5,.6 4.1,.6-1.4,.6 13.1,.6-13.7,.6-13.7,.6 13.8,.6-.6,.6 1.1,.6 1.5,.6-15.9,.6 18,.6-1.3,.6-.6,.6-2.8,.6-17.4,.6 21.1,.6-6,.6-2.4,.6 .9,.6 3.3,.6-.2,.6-2.6,.6 3.3,.6-15.1,.6 14,.6-4.3,.6-2.8,.6-11.6,.6 19.8,.6-.4,.6-3.7,.6-7.2,.6-7.1,.6 3.2,.6 4.3,.6 8.5,.6 4.7,.6-6.6,.6 6.9,.6 .8,.6-.7,.6-2.8,.6-3.1,.6 5.2,.6-3.4,.6 7.1,.6 .1,.6-17.4,.6 12.8,.6-3.2,.6-.9,.6 1,.6 2.8,.6-5.6,.6 3.6,.6-.3,.6-2.4,.6-7,.6 4.8,.6 1,.6 3.9,.6-1.6,.6-3.6,.6 4.9,.6-3.5,.6-1.1,.6-1.3,.6 4,.6-.5,.6-5.3,.6 1.3,.6 .5,.6 2.3,.6 1.8,.6 5.3,.6-2.6,.6 5.5,.6-3.8,.6-3.5,.6 2.8,.6-7.5,.6-1.1,.6-6.2,.6 10.2,.6 .2,.6 1.2,.6 4.7,.6-3.8,.6-.9,.6 .8,.6 .6,.6-2,.6-1.1,.6-1.5,.6 2.5,.6 .2,.6-3.2,.6 3.1,.6 2.4,.6 3.4,.6-.8,.6 .7,.6-1.5,.6-6.2,.6 8.1,.6 7.5,.6 .3,.6 .7,.6-1.7,.6 .5,.6 5.6,.6-2.6,.6-.9,.6 6.3,.6-19.7,.6 12,.6 2.3,.6-1.9,.6 6.2,.6 .7,.6 8.8,.6-9.7,.6 1.9,.6 .4,.6 .8,.6-6.3,.6-4.8,.6-9.3,.6-6.1,.6-5,.6-9.2,.6-18,.6-23,.6-.1,.6-.1,.6-11.9,.6 21.1,.6 37,.6 29.8,.6 23.1,.6-3.3,.6 1.2,.6-8.3,.6 5.9,.6 4,.6-6.5,.6 3.1,.6 3.2,.6-.5,.6-3.9,.6 .8,.6-6.4,.6 .6,.6 .4,.6-3.6,.6 3.1,.6-19,.6 23.4,.6-1.2,.6-.8,.6-13.7,.6-12,.6-8.7,.6-13.1,.6-10.5,.6-8.3,.6 8.5,.6 29.6,.6 10.3,.6 4.4,.6-12.3,.6 16.7,.6 5,.6 .2,.6-.6,.6-.8,.6-15.7,.6-17.6,.6-11.3,.6 9,.6 16.5,.6-1.4,.6 4.4,.6 7.8,.6-3.1,.6-5.1,.6 .7,.6-9.8,.6 6,.6 3.1,.6 6.6,.6-1.1,.6 .9,.6-8.9,.6-13.3,.6-14.7,.6-.3,.6-3.1,.6 4.5,.6-1.3,.6 12.5,.6-6,.6-1.5,.6 1.3,.6-3.3,.6-3.3,.6 1.4,.6-10.4,.6-.8,.6 6.9,.6-7.3,.6 6.3,.6 4.5,.6 5.3,.6 3,.6 6.8,.6-6.1,.6-2.4,.6-8.8,.6-6.4,.6 .2,.6 10.8,.6 29.2,.6 15.7,.6 11.5,.6-2.5,.6 3.6,.6-1.8,.6 2.5,.6 .1,.6-1,.6-.7,.6-.3,.6 2,.6-18.3,.6 18.3,.6-2.2,.6-.4,.6-1.6,.6-4.6,.6-3.2,.6-7.6,.6 3.3,.6-16.1,.6-4.9,.6-3.5,.6-2.3,.6 .9,.6 .7,.6-1.9,.6 7.3,.6 4.5,.6-20.8,.6 10,.6 .3,.6-.7,.6 4.6,.6-6.2,.6 3.7,.6-1.6,.6 1.3,.6 3.4,.6-.2,.6-.4,.6-13,.6 9.5,.6 .1,.6-1.3,.6-4,.6-5.8,.6-8.7,.6-7.3,.6 7.4,.6 7.3,.6 4.6,.6-3.3,.6 3.5,.6-7.9,.6 2.4,.6-.1,.6-1.4,.6 5.2,.6-9.9,.6 13.3,.6 2.2,.6 0,.6-.4,.6-1.5,.6-8.2,.6 8.2,.6-.2,.6 3,.6 .3,.6-1.7,.6 6.4,.6-1.9,.6 .7,.6-5.9,.6 .4,.6 5.1,.6 .4,.6 2.5,.6 .4,.6 .5,.6-7.3,.6 4.1,.6 .4,.6-3.1,.6 2.3,.6-1.7,.6-2.1,.6 4.4,.6-.9,.6-4.3,.6-.2,.6 4,.6 4.1,.6-.3,.6-19.1,.6 13.2,.6 6.9,.6-22.8,.6 17.9,.6 5.8,.6-1.6,.6 1.6,.6-2.8,.6-2.1,.6 2.8,.6-.9,.6-9.9,.6 6,.6 .1,.6 4.2,.6-2.6,.6 0,.6-.3,.6-3.6,.6-.4,.6-.7,.6-8.2,.6-5,.6-15.2,.6-6,.6 11.8,.6 14.1,.6 8.3,.6-1.8,.6-12.8,.6 11.4,.6 .8,.6-3.1,.6-9.7,.6 1.1,.6 14.6,.6 .3,.6 4.1,.6 5.6,.6-.2,.6 .2,.6-2.9,.6 3.3,.6-9.1,.6 .1,.6-7,.6 4.5,.6-8.9,.6 2.4,.6-.3,.6-13.6,.6-12.8,.6 9.1,.6 18.7,.6 15.6,.6 14.2,.6 13.5,.6 0,.6-1.2,.6 6.3,.6-9.3,.6 .2,.6 3.8,.6-1,.6-1.8,.6-2.5,.6-2.7,.6-1.1,.6 3.8,.6-12.6,.6 15,.6 1.5,.6 1.4,.6-.8,.6 9.3,.6-7.1,.6 .4,.6 1.2,.6 3.3,.6-14.2,.6-18.7,.6-7.8,.6 1.4,.6-6.6,.6 10.2,.6-6.1,.6 4.1,.6-2.3,.6 3.2,.6 2.8,.6-2.9,.6 4.6,.6-1.3,.6-4,.6 5.8,.6-.2,.6-.9,.6-10.2,.6 13.4,.6-7.6,.6 4,.6-.6,.6 2.6,.6 2.8,.6-1,.6 2,.6-9,.6 10.6,.6-2.2,.6 1.2,.6 1.1,.6 0,.6-1.3,.6-2.2,.6-.5,.6 1.8,.6 4.8,.6-5.5,.6 2,.6 1.5,.6-.6,.6-7.4,.6 2,.6 3.3,.6 .2,.6 2.8,.6-1.1,.6-.8,.6 .2,.6-1.5,.6 2.8,.6-6.4,.6 1.9,.6 3.9,.6 .7,.6-5.9,.6 4.3,.6-4.7,.6-2.1,.6 3.4,.6 6.1,.6-1.7,.6-3.1,.6-9.9,.6 9.1,.6 5.4,.6 1.7,.6-1.3,.6 2.7,.6-7.7,.6 .6,.6-5.4,.6 4.6,.6-11.7,.6 9.4,.6-7.1,.6 4,.6 .1,.6-15.6,.6 18.4,.6-1.9,.6-8.7,.6 3.5,.6-8.9,.6-9.7,.6 13.4,.6 9.9,.6 3.3,.6 .6,.6 .4,.6-2.6,.6 .1,.6 5.8,.6 7.1,.6-6,.6-4.4,.6 .9,.6-15.7,.6-5.5,.6 18.2,.6-.8,.6-2.9,.6-3,.6 5,.6-3.6,.6 10.7,.6-12.5,.6 2.9,.6-5.3,.6-5.8,.6 9.1,.6 3.4,.6 9,.6 1.3,.6 4.1,.6-8.3,.6 3.8,.6-4.9,.6-.5,.6 4.5,.6-5.1,.6 2,.6-2.9,.6 6.6,.6-3.1,.6 2.2,.6 .8,.6-1.7,.6-.2,.6-5.1,.6-.2,.6 7.8,.6-5.2,.6 2.8,.6 3.5,.6-3.5,.6 2.3,.6 .5,.6-1.6,.6 5.5,.6-22.4,.6 13.9,.6 4.4,.6-1.1,.6-.8,.6-4.7,.6-.1,.6 5,.6 1,.6 3.9,.6 2.5,.6 1.9,.6-20.3,.6 17.2,.6-5.2,.6 2.9,.6-13.7,.6 10,.6 .3,.6 4.2,.6-2.7,.6 3.1,.6-5.6,.6 4,.6 .5,.6 2.7,.6-3,.6 2.6,.6 2.4,.6-1.9,.6-16.4,.6 16.3,.6 2.6,.6-.2,.6-9.9,.6 13.5,.6-4,.6 1.9,.6 2.8,.6-1.7,.6-2.4,.6 2.4,.6 7.6,.6-4.6,.6 2.4,.6-2.3,.6 4.2,.6 3.5,.6-1.4,.6-2.7,.6 4.4,.6-4.1,.6 .5,.6 2.8,.6-4.6,.6 1.2,.6-23.6,.6 18.1,.6 8.2,.6-6.4,.6-.7,.6 1.1,.6 2.3,.6 0,.6 1.9,.6 0,.6-1.4,.6 3.2,.6 3.1,.6-3.6,.6 6.2,.6 1.4,.6-.1,.6-2.3,.6 .8,.6-.3,.6 2.5,.6 0,.6 0,.6-6.2,.6-1.1,.6 1.9,.6-4.3,.6-5,.6 9.3,.6 1.5,.6-3.3,.6-1.4,.6-10.4,.6 17.3,.6-3.8,.6-5.2,.6 5.3,.6-1.7,.6-1.2,.6-4.7,.6 4.4,.6-2.4,.6-2.6,.6-3.3,.6 4.8,.6-2.6,.6-11.4,.6 16.5,.6-.7,.6-2.5,.6-1.8,.6-.2,.6-1,.6-2.4,.6 5.9,.6-2.5,.6 2.2,.6 .7,.6-.9,.6-2.2,.6 4.5,.6-19.9,.6-16.3,.6-16.3,.6 9.6,.6 16,.6 16.5,.6 3.8,.6-2.9,.6-8,.6 3.7,.6 2.8,.6 4.3,.6-8.7,.6 6.5,.6-4.4,.6 3.3,.6-1.1,.6-3,.6-7,.6-2.8,.6-5.1,.6 2.1,.6-2.6,.6-13.9,.6 13.6,.6-2.6,.6 1.5,.6-4.3,.6 9.2,.6-3.4,.6-5.7,.6-.9,.6 5.2,.6 .4,.6-2.9,.6 .1,.6 3.8,.6 1.2,.6-6.8,.6 5.5,.6-14.6,.6 13.5,.6-7.8,.6 7.5,.6-2,.6-1.4,.6 .8,.6 5.1,.6-2,.6 3.2,.6-1.8,.6-1.3,.6 3.1,.6 3.1,.6-6.4,.6-12.3,.6-6.9,.6 8.6,.6-12.8,.6 18.4,.6 3.4,.6 4.2,.6 2.2,.6-7.3,.6 3.8,.6 .2,.6 2.6,.6 6.6,.6-1,.6-5,.6 6.6,.6-11.8,.6-3.5,.6 9.3,.6-2.5,.6 2.9,.6 4.8,.6-.9,.6-1.5,.6 .3,.6-3.3,.6-5.5,.6-3.6,.6-.6,.6 6.9,.6-1.6,.6-2.4,.6 .6,.6-7.5,.6 7.3,.6-2.1,.6-1.3,.6-.8,.6-1.7,.6-8.5,.6-3.3,.6 2.5,.6 7,.6-11.6,.6 3.4,.6-8.5,.6 19.5,.6-5.9,.6-6,.6 11,.6-1.7,.6-4.5,.6-4.8,.6-.5,.6 1.2,.6 4,.6-3.7,.6 3.7,.6-3.6,.6 7.5,.6 1.3,.6 3.6,.6 5.5,.6-.1,.6 4.8,.6 9.4,.6 14.1,.6 7.6,.6-1.5,.6 1.3,.6-6.9,.6 2.5,.6 8.3,.6 1.1,.6-1.2,.6-2.1,.6-5.1,.6-15.1,.6 16.2,.6 .5,.6 1.7,.6-4.2,.6 4.3,.6-1.1,.6 4.4,.6-21.4,.6 16,.6 5.2,.6 1.9,.6 0,.6-.1,.6-.9,.6-3,.6 .4,.6 2.4,.6-.3,.6-3.1,.6-.4,.6 1.5,.6 .2,.6-1.6,.6-2,.6 2.9,.6-2.2,.6 .7,.6-.5,.6-8.8,.6-1.5,.6-15.9,.6 1,.6-1.8,.6-2,.6-6.8,.6-5,.6 3,.6-3.5,.6-10.1,.6 12,.6-5.8,.6 7.3,.6-2.9,.6-12.1,.6 6.5,.6 8.8,.6 .1,.6 .8,.6 .2,.6-.6,.6-4.9,.6 .5,.6-3.6,.6 6.9,.6-1.8,.6-3.1,.6 7.6,.6 1.1,.6-1.7,.6-2.7,.6 1.3,.6-2.1,.6 .9,.6-2.3,.6 2.1,.6-15.4,.6 15.1,.6 3.2,.6-5.8,.6 3.6,.6-4.1,.6-3.6,.6 5.3,.6-2.5,.6 3.3,.6-19.2,.6 14.8,.6-.3,.6-6.6,.6 5.8,.6-1,.6 .1,.6 1,.6-1.5,.6-1,.6 5.5,.6-1.6,.6-3,.6 .1,.6-17,.6 18.1,.6-.3,.6-.6,.6-1.3,.6-1.3,.6 4.1,.6 1.1,.6-.1,.6-2.5,.6 3.7,.6-5,.6-1.7,.6 0,.6-12.8,.6 15.6,.6-2.6,.6 1,.6-.4,.6-.1,.6-2.2,.6-.6,.6 4.7,.6 3.9,.6-2,.6-1.7,.6 .7,.6-.4,.6 1.7,.6 2,.6 4.8,.6-5,.6-2.9,.6 3.5,.6 1.3,.6-.5,.6-1.8,.6-2,.6 2.3,.6 1.6,.6-7.1,.6 .1,.6 6.7,.6-.7,.6-1.1,.6-7.5,.6 6.9,.6-2.8,.6 3.7,.6 2.4,.6-6.9,.6-.5,.6-4.3,.6 4.5,.6 15.4,.6-13.7,.6 .9,.6-4.6,.6 3,.6-3.3,.6 2.2,.6 .4,.6-1,.6-4.7,.6 3.4,.6 1.9,.6 .9,.6 5.7,.6 1,.6-4.9,.6-5.1,.6 .6,.6-4.3,.6 8,.6 15.1,.6-11.3,.6-4.4,.6 4,.6 5,.6-3.5,.6-2.1,.6 3.1,.6-4.5,.6-2,.6-2.1,.6 1.8,.6 1.2,.6-2.3,.6 7.4,.6 1,.6-3.6,.6 .4,.6-.2,.6 3.8,.6-4.6,.6 2.3,.6 5.3,.6 2.5,.6-1.8,.6-7.8,.6 1.1,.6 .7,.6-2.4,.6 3,.6-15.2,.6 14.2,.6-8.7,.6-3.9,.6 9.5,.6 3.1,.6 1.2,.6-3.6,.6-6.6,.6-4.4,.6-8.5,.6-17.7,.6-23,.6 12.8,.6 23.2,.6 14.5,.6 .9,.6 10,.6 5.8,.6 1.8,.6-5.2,.6 .9,.6-2.1,.6 4.5,.6-3.2,.6-.8,.6-4.8,.6-6.3,.6 2.2,.6-3.3,.6 11.4,.6 1.7,.6-16.9,.6 20.1,.6-2.8,.6 1.1,.6-3.6,.6 2.3,.6-6.7,.6-1.5,.6 2.7,.6-1.1,.6 4.5,.6-2.9,.6-6,.6-6.3,.6-3.5,.6-2,.6 10.2,.6 0,.6 7.5,.6 .2,.6-.7,.6 1.6,.6 2.7,.6 5.4,.6 .9,.6-4.8,.6-5.6,.6 1.3,.6-1.2,.6 2.4,.6 8.1,.6-.4,.6-10.2,.6 12,.6 5.9,.6-12.1,.6 4.5,.6-8.5,.6 11.9,.6-.4,.6 2.7,.6-2.6,.6-2.6,.6-1.6,.6-1.2,.6-.2,.6 .4,.6-2.8,.6 6.5,.6-1.3,.6 2.3,.6-6.5,.6 3.2,.6-6.1,.6 5.6,.6-1.4,.6-3.3,.6 3.3,.6 2.1,.6-.3,.6 .5,.6 5.9,.6-16.1,.6 13.2,.6 3.5,.6-8.5,.6 1.7,.6 .4,.6-4.1,.6 2.4,.6 7,.6-2.2,.6-5.1,.6-14.3,.6 5.9,.6 2.6,.6-1.9,.6-4.6,.6 7.1,.6-2.9,.6 .3,.6 6.1,.6-6.1,.6 4.6,.6-1.2,.6 1.7,.6-.8,.6-.9,.6-2.2,.6 3.4,.6-1.9,.6 6.8,.6-3,.6-.5,.6-1.6,.6-1.5,.6 1.7,.6-2.3,.6 7,.6-.2,.6-1.3,.6-16.5,.6 18,.6 12,.6-9.3,.6 .9,.6-.6,.6-.8,.6-1.7,.6-3.6,.6-1.9,.6 7.8,.6-6,.6 0,.6-21.8,.6 14.4,.6-3.8,.6 6.4,.6-6.7,.6-2.5,.6-4.4,.6-2.6,.6-2.9,.6 3.8,.6-7.4,.6-8.1,.6-2.5,.6-5.2,.6-5.6,.6 3.9,.6-9.7,.6 6.1,.6 7.5,.6-4.6,.6 20.5,.6-7,.6 15.2,.6 3.5,.6 6.4,.6 3.1,.6 .8,.6 .9,.6 2.2,.6-3,.6 .8,.6-4.1,.6-3.1,.6-8.7,.6 17.3,.6-2.6,.6-12.7,.6 10.9,.6 3.5,.6-2.7,.6 1.3,.6-3.7,.6-4.7,.6-9.2,.6-6,.6-8.6,.6 2.4,.6 21.8,.6 14.2,.6-3,.6 26,.6 7.6,.6 4.4,.6 1.8,.6 2.1,.6-1.1,.6-1.4,.6-6.3,.6-7.2,.6-10.7,.6-8.5,.6-6.7,.6-12,.6-3.7,.6 5.2,.6 9.6,.6 2,.6 7.5,.6 11.6,.6 3.6,.6 4.1,.6 1.3,.6-1,.6-2.4,.6 8.6,.6-1,.6-2.9,.6 3.2,.6 1.6,.6-1.3,.6-3.6,.6 1.5,.6-5.2,.6-5.9,.6 11.6,.6-13.6,.6 3.8,.6 5.7,.6-7,.6 11.1,.6 2.2,.6-1.7,.6-7,.6 1.7,.6-4.3,.6-9.8,.6-.5,.6-6,.6 2.3,.6 .3,.6-5.9,.6 10.5,.6-5.8,.6 1.4,.6 4.7,.6 5.5,.6 2.1,.6 0,.6 7.4,.6-12.3,.6 10,.6-1.2,.6-2.1,.6-2.3,.6-6.4,.6-4.4,.6-6.9,.6 .3,.6-9.3,.6 3.1,.6 5.8,.6-3.7,.6 18.8,.6-.9,.6 8.5,.6-7,.6-1.3,.6-5.1,.6-.6,.6-8.3,.6 3.6,.6 4.9,.6-2.8,.6-14.3,.6 23.6,.6-2.1,.6 5.6,.6 1,.6 1,.6 4.6,.6-3,.6 4.6,.6-6.1,.6-4.1,.6-6.1,.6 2.4,.6-6,.6-11.4,.6 3.1,.6 3.3,.6 1,.6 2.5,.6 5.3,.6 6.7,.6 1.6,.6-3.6,.6-10.4,.6-6.6,.6-4.8,.6 .8,.6 0,.6-2.2,.6-4.6,.6-.8,.6 .6,.6 1.5,.6 3.5,.6-.1,.6 4.5,.6-6.5,.6-6,.6 .9,.6 .2,.6-8.7,.6 4.6,.6 2.3,.6 8.8,.6-11.1,.6 2.8,.6-3,.6-1.1,.6 4.8,.6 2.8,.6 1.2,.6-2.9,.6 2.6,.6-7.6,.6 10.2,.6-7.2,.6-1.7,.6 7.7,.6 1,.6-3.5,.6 4.5,.6 .2,.6-1.2,.6 50.5,.4z" fill="#d8b99a" stroke="none" stroke-width="1" />
<line x1="440.8" y1="162.0" x2="440.8" y2="1087.0" stroke="#6f8f74" stroke-width="1.2" opacity="0.55"/>
<line x1="475.4" y1="162.0" x2="475.4" y2="1087.0" stroke="#6f8f74" stroke-width="1.2" opacity="0.55"/>
<line x1="510.0" y1="162.0" x2="510.0" y2="1087.0" stroke="#6f8f74" stroke-width="1.2" opacity="0.55"/>
<line x1="544.8" y1="162.0" x2="544.8" y2="1087.0" stroke="#6f8f74" stroke-width="1.2" opacity="0.55"/>
<line x1="406.4" y1="270.2" x2="577.5" y2="270.2" stroke="#6f8f74" stroke-width="1.2" opacity="0.55"/>
<line x1="406.4" y1="402.7" x2="577.5" y2="402.7" stroke="#6f8f74" stroke-width="1.2" opacity="0.55"/>
<line x1="406.4" y1="535.2" x2="577.5" y2="535.2" stroke="#6f8f74" stroke-width="1.2" opacity="0.55"/>
<line x1="406.4" y1="667.8" x2="577.5" y2="667.8" stroke="#6f8f74" stroke-width="1.2" opacity="0.55"/>
<line x1="406.4" y1="800.3" x2="577.5" y2="800.3" stroke="#6f8f74" stroke-width="1.2" opacity="0.55"/>
<line x1="406.4" y1="932.8" x2="577.5" y2="932.8" stroke="#6f8f74" stroke-width="1.2" opacity="0.55"/>
<line x1="406.4" y1="1065.3" x2="577.5" y2="1065.3" stroke="#6f8f74" stroke-width="1.2" opacity="0.55"/>
<path d="M542,162l-17,.6 15,.6-1.6,.6 3.4,.6 7.7,.6 0,.6-6.3,.6 2.1,.6-1.5,.6 1.5,.6-5.5,.6 5.5,.6-4.1,.6-2.3,.6 5.2,.6-4.1,.6-1.4,.6 8.5,.6-.2,.6-.4,.6 3.6,.6-3.4,.6-1.5,.6 4.9,.6 3.5,.6-3.6,.6-5.2,.6-18.7,.6 19.3,.6 .4,.6 3.4,.6-13.3,.6 17.3,.6 5.5,.6-4.7,.6 11.9,.6-7.9,.6-2.8,.6-.9,.6-2.5,.6 5.1,.6-2.6,.6 .8,.6-8.1,.6 7.4,.6-1.8,.6-4.6,.6-.1,.6-14,.6-17.4,.6-14.2,.6 5.3,.6 12.1,.6 15.8,.6 9,.6 2.1,.6 1.3,.6-4.1,.6 1.8,.6 1.6,.6-15.7,.6 18.4,.6-3.2,.6-5,.6-2.2,.6-6.5,.6-6.1,.6-.1,.6-8.7,.6-4.5,.6-7.4,.6-6.2,.6 6.5,.6 18,.6 11.5,.6 .3,.6-12.3,.6 14.5,.6 10.6,.6-16.7,.6 16.7,.6-1.8,.6-17.4,.6 21.2,.6-15.1,.6 13.2,.6 .3,.6-4.1,.6 1.7,.6-1.1,.6-5.9,.6 7.4,.6-3.6,.6 2.1,.6-4.2,.6-.4,.6 1.9,.6-5.5,.6 1.9,.6 4.6,.6 6.9,.6-12.4,.6-6.6,.6-8,.6-13.9,.6 6.7,.6 12.7,.6 12.7,.6-3.1,.6-2,.6-5,.6 4,.6 4.1,.6 4.5,.6-10.5,.6 8.9,.6 .6,.6-.9,.6-4.9,.6 3.9,.6-5.8,.6-2.2,.6 2.1,.6 1.6,.6 3.7,.6-4,.6 4.6,.6-1.5,.6 .7,.6-11.7,.6 11.6,.6-3.3,.6 8.2,.6-2.9,.6-7.1,.6 2,.6 2.5,.6 2.1,.6-5.4,.6-18,.6 15.9,.6 3.4,.6 1.8,.6-6.8,.6 5.2,.6-2.4,.6-2.3,.6 2.7,.6-7.5,.6 4.2,.6 1.1,.6-.6,.6 2.8,.6 6.9,.6-9.7,.6 8,.6-.5,.6 5.5,.6-8.1,.6 3,.6 1.5,.6 .5,.6 2.4,.6-8.5,.6 8.5,.6-1.5,.6 .7,.6 .4,.6 2.2,.6 .3,.6 2,.6 2.6,.6 6.2,.6-4.5,.6-1.6,.6-12.1,.6 7.7,.6-3.8,.6 3.2,.6-12.9,.6 10,.6-1,.6 .4,.6 7.1,.6-15.6,.6 8,.6-.4,.6 .5,.6-1.5,.6 .8,.6 2.9,.6-2.9,.6-5.6,.6 .9,.6 0,.6-11.9,.6 15.9,.6-1.6,.6-2.6,.6-4.9,.6 10.3,.6-3.4,.6-.5,.6-.2,.6 2.7,.6 .4,.6-1.2,.6 6.5,.6-5.8,.6-5.1,.6 2.1,.6 3.1,.6-.7,.6 0,.6-.3,.6-3.3,.6-.5,.6 4.1,.6-1.4,.6 13.1,.6-13.7,.6-13.7,.6 13.8,.6-2.6,.6 1.1,.6 3.5,.6-15.9,.6 18,.6-1.3,.6-.6,.6-4.8,.6-17.5,.6 23.2,.6-6,.6-2.4,.6 .9,.6 3.3,.6-2.2,.6-.6,.6 3.3,.6-17.2,.6 16.1,.6-4.3,.6-2.8,.6-11.6,.6 19.8,.6-2.5,.6-1.6,.6-7.2,.6-7.1,.6 1.2,.6 6.3,.6 8.5,.6 4.7,.6-6.6,.6 4.9,.6 .7,.6 1.4,.6-4.8,.6-1.1,.6 5.2,.6-3.4,.6 7.1,.6 .1,.6-17.4,.6 10.8,.6-1.2,.6-.9,.6-1,.6 4.8,.6-5.6,.6 1.5,.6-.2,.6-.4,.6-7,.6 4.8,.6 1,.6 3.9,.6-3.6,.6-1.6,.6 4.9,.6-3.5,.6-1.1,.6-1.3,.6 4,.6-2.6,.6-3.2,.6 1.3,.6 .5,.6 2.3,.6-.3,.6 5.4,.6-.6,.6 3.4,.6-1.7,.6-3.5,.6 2.8,.6-7.5,.6-1.1,.6-6.2,.6 10.2,.6 .2,.6-.8,.6 6.7,.6-3.8,.6-.9,.6-1.3,.6 .6,.6-1.9,.6-1.2,.6 .6,.6 2.5,.6 .2,.6-3.2,.6 3.1,.6 2.4,.6 3.4,.6-.8,.6 .7,.6-1.5,.6-6.2,.6 8.1,.6 7.5,.6 .3,.6 .7,.6-1.7,.6-1.5,.6 7.6,.6-2.6,.6-.9,.6 6.3,.6-19.7,.6 9.9,.6 2.4,.6 .1,.6 6.2,.6 .7,.6 6.7,.6-7.6,.6 1.9,.6-1.7,.6 2.9,.6-8.4,.6-2.7,.6-9.3,.6-6.1,.6-7.1,.6-7.1,.6-18,.6-23,.6-.1,.6-.1,.6-11.9,.6 21.1,.6-41.5,.6-14.1,.6-6.3,.6-2.7,.6-2.2,.6 3,.6-3.5,.6-6.8,.6 2.6,.6 4.2,.6 5.3,.6-5.6,.6 .9,.6 2.2,.6 1.8,.6-3.3,.6 1,.6-2.8,.6-.7,.6 5.1,.6 13.8,.6 5,.6 12.8,.6 17.7,.6 29.2,.6 15.3,.6-4.6,.6-11.1,.6-6.8,.6-20.7,.6-25,.6-29.1,.6-1.5,.6-4.1,.6-3.3,.6 2.2,.6-5.5,.6 14,.6 .5,.6 23.8,.6 25.3,.6 19.9,.6-32.1,.6-31.5,.6-10.8,.6-3.7,.6 1,.6-.3,.6-7.5,.6 4.5,.6-2.9,.6 5.5,.6 6.9,.6-3.4,.6 20.3,.6 11.8,.6 17.8,.6 10.9,.6 10.2,.6 8.4,.6 4.5,.6 .2,.6 2.4,.6 10.6,.6-4.6,.6 1.5,.6-4,.6-6.3,.6 .9,.6-.4,.6-5.7,.6-4,.6 2.7,.6 2.7,.6-.4,.6 5,.6-1.7,.6 8.7,.6-3.6,.6 .3,.6-2.5,.6-6,.6-6.5,.6 6.7,.6-11.2,.6-22.7,.6-5.5,.6-16.3,.6-6,.6-16.7,.6-5,.6-1,.6 3.2,.6-2.5,.6-6.3,.6 3.9,.6-4.4,.6 .1,.6 .1,.6-.2,.6 6.6,.6-6.6,.6 13.1,.6 23.8,.6 19.8,.6 39.9,.6 42.1,.6-4.9,.6-5.5,.6-.3,.6 .9,.6 .7,.6-1.9,.6 7.3,.6 4.5,.6-20.8,.6 10,.6 .3,.6-.7,.6 4.6,.6-6.2,.6 3.7,.6-1.6,.6 1.3,.6 3.4,.6-.2,.6-.4,.6-13,.6 7.4,.6 .2,.6 .7,.6-6,.6-3.8,.6-8.7,.6-7.3,.6 7.4,.6 7.3,.6 4.6,.6-5.3,.6 5.5,.6-10,.6 2.4,.6 2,.6-1.4,.6 5.2,.6-9.9,.6 13.3,.6 .2,.6 0,.6-.4,.6 .5,.6-10.2,.6 10.2,.6-.2,.6 .9,.6 2.4,.6-1.7,.6 6.4,.6-1.9,.6 .7,.6-5.9,.6 .4,.6 5.1,.6 .4,.6 2.5,.6 .4,.6 .5,.6-7.3,.6 4.1,.6 .4,.6-3.1,.6 2.3,.6-1.7,.6-2.1,.6 4.4,.6-.9,.6-6.4,.6 1.9,.6 4,.6 4.1,.6-.3,.6-21.1,.6 15.2,.6 6.9,.6-22.8,.6 17.9,.6 5.8,.6-1.6,.6-.5,.6-2.8,.6-2,.6 4.8,.6-.9,.6-9.9,.6 6,.6-2,.6 6.3,.6-2.6,.6 0,.6-.3,.6-3.6,.6-.4,.6-.7,.6-8.2,.6-5,.6-15.2,.6-6,.6 9.7,.6 14.1,.6 10.4,.6-3.8,.6-10.8,.6 11.4,.6 .8,.6-3.1,.6-11.8,.6 1.1,.6 14.6,.6 2.4,.6 2.1,.6 7.6,.6-.2,.6 .2,.6-2.9,.6 3.3,.6-9.1,.6 .1,.6-7,.6 4.5,.6-8.9,.6 2.4,.6-.3,.6-15.7,.6-10.7,.6 9.1,.6 16.6,.6 17.7,.6 14.2,.6 13.5,.6 0,.6-1.2,.6 4.3,.6-7.3,.6 .2,.6 3.8,.6-3.1,.6-1.7,.6-.5,.6-2.7,.6-1.1,.6 1.7,.6-10.5,.6 15,.6 1.5,.6 1.4,.6-.8,.6 7.3,.6-5.1,.6 .4,.6 1.2,.6 1.3,.6-12.2,.6-18.7,.6-7.8,.6 1.4,.6-8.7,.6 12.3,.6-6.1,.6 4.1,.6-2.3,.6 3.2,.6 .8,.6-.9,.6 4.6,.6-1.3,.6-4,.6 5.8,.6-.2,.6-.9,.6-10.2,.6 13.4,.6-7.6,.6 2,.6 1.4,.6 2.6,.6 2.8,.6-1,.6 2,.6-11.1,.6 12.7,.6-2.2,.6-.9,.6 3.2,.6-2.1,.6 .8,.6-2.2,.6-2.6,.6 1.8,.6 6.9,.6-5.5,.6 2,.6 1.5,.6-.6,.6-7.4,.6 2,.6 3.3,.6 .2,.6 2.8,.6-1.1,.6-.8,.6 .2,.6-1.5,.6 2.8,.6-6.4,.6-.1,.6 5.9,.6-1.4,.6-3.8,.6 4.3,.6-6.7,.6-.1,.6 3.4,.6 4.1,.6 .3,.6-3.1,.6-9.9,.6 7.1,.6 5.3,.6 3.8,.6-3.3,.6 4.7,.6-7.7,.6 .6,.6-5.4,.6 2.6,.6-11.8,.6 11.5,.6-7.1,.6 4,.6-2,.6-13.5,.6 16.3,.6 .2,.6-8.7,.6 1.5,.6-8.9,.6-7.7,.6 11.4,.6 9.8,.6 5.4,.6 .6,.6 .4,.6-2.6,.6 .1,.6 3.7,.6 9.2,.6-6,.6-4.4,.6 .9,.6-17.7,.6-5.6,.6 20.3,.6-.8,.6-2.9,.6-5,.6 7,.6-3.6,.6 10.7,.6-14.6,.6 5,.6-5.3,.6-5.8,.6 9.1,.6 3.4,.6 9,.6 1.3,.6 2.1,.6-6.3,.6 3.8,.6-4.9,.6-.5,.6 4.5,.6-5.1,.6 0,.6-.9,.6 6.6,.6-5.2,.6 4.3,.6 .8,.6-1.7,.6-.2,.6-5.1,.6-.2,.6 7.8,.6-7.2,.6 4.8,.6 3.5,.6-5.6,.6 4.4,.6 .5,.6-1.6,.6 5.5,.6-22.4,.6 13.9,.6 2.3,.6-1,.6-.8,.6-2.7,.6-2.1,.6 7,.6 1,.6 1.8,.6 4.6,.6 1.9,.6-20.3,.6 17.2,.6-5.2,.6 2.9,.6-13.7,.6 10,.6-1.8,.6 4.3,.6-.7,.6 3.1,.6-5.6,.6 1.9,.6 2.6,.6 2.7,.6-3,.6 .6,.6 4.4,.6-1.9,.6-16.4,.6 16.3,.6 2.6,.6-.2,.6-9.9,.6 13.5,.6-4,.6 1.9,.6 .7,.6-1.7,.6-.3,.6 2.4,.6 7.6,.6-4.6,.6 2.4,.6-2.3,.6 4.2,.6 1.4,.6 .7,.6-2.7,.6 2.4,.6-2.1,.6 .5,.6 2.8,.6-6.6,.6 3.2,.6-25.7,.6 20.2,.6 8.2,.6-6.4,.6-.7,.6-1,.6 2.3,.6 .1,.6 3.9,.6 0,.6-1.4,.6 1.1,.6 5.2,.6-5.6,.6 8.2,.6-.6,.6 1.9,.6-2.3,.6 .8,.6-.3,.6 2.5,.6 0,.6 0,.6-6.2,.6-1.1,.6-.1,.6-2.3,.6-7,.6 11.3,.6 1.5,.6-3.3,.6-3.5,.6-8.3,.6 15.3,.6-1.8,.6-5.2,.6 5.3,.6-1.7,.6-1.2,.6-4.7,.6 4.4,.6-2.4,.6-2.6,.6-3.3,.6 4.8,.6-2.6,.6-11.4,.6 16.5,.6-.7,.6-2.5,.6-3.8,.6-.3,.6 1.1,.6-4.5,.6 5.9,.6-.4,.6 2.2,.6 .7,.6-2.9,.6-.2,.6 4.5,.6-19.9,.6-18.3,.6-14.3,.6 9.6,.6 16,.6 14.4,.6 5.9,.6-2.9,.6-8,.6 1.7,.6 4.8,.6 4.3,.6-10.8,.6 8.6,.6-4.4,.6 3.3,.6-1.1,.6-3,.6-7,.6-2.8,.6-5.1,.6 2.1,.6-4.7,.6-11.8,.6 13.6,.6-4.6,.6 1.4,.6-4.3,.6 11.3,.6-5.4,.6-5.7,.6 1.1,.6 3.1,.6 2.5,.6-2.9,.6-1.9,.6 3.7,.6 3.3,.6-8.8,.6 7.5,.6-14.6,.6 13.5,.6-7.8,.6 5.4,.6 .1,.6-1.4,.6 .8,.6 3.1,.6-2,.6 5.2,.6-1.8,.6-3.3,.6 5.1,.6 3.1,.6-8.4,.6-10.3,.6-6.9,.6 6.6,.6-10.8,.6 18.4,.6 3.4,.6 4.2,.6 2.2,.6-7.3,.6 1.8,.6 .2,.6 4.6,.6 6.6,.6-1,.6-7,.6 8.6,.6-13.9,.6-1.4,.6 7.3,.6-.5,.6 2.9,.6 4.8,.6-.9,.6-1.5,.6 .3,.6-3.3,.6-5.5,.6-5.7,.6 1.5,.6 4.9,.6 .4,.6-4.4,.6 .6,.6-5.5,.6 7.3,.6-2.1,.6-1.3,.6-.8,.6-1.7,.6-10.5,.6-1.3,.6 .4,.6 7,.6-11.5,.6 3.3,.6-6.4,.6 19.5,.6-5.9,.6-8,.6 11,.6 .3,.6-4.5,.6-6.8,.6-.5,.6 3.2,.6 4,.6-5.8,.6 5.8,.6-5.7,.6 9.6,.6 1.3,.6 3.6,.6 5.5,.6-.1,.6 4.8,.6 9.4,.6 14.1,.6 7.6,.6-1.5,.6 1.3,.6-6.9,.6 2.5,.6 8.3,.6 1.1,.6-1.2,.6-4.1,.6-3.1,.6-15.1,.6 14.1,.6 2.6,.6-.4,.6-2.1,.6 4.3,.6-1.1,.6 4.4,.6-21.4,.6 16,.6 5.2,.6 1.9,.6 0,.6-.1,.6-.9,.6-3,.6 .4,.6 2.4,.6-2.3,.6-1.1,.6-.4,.6 1.5,.6-1.8,.6 .4,.6-4,.6 2.9,.6-.2,.6 .7,.6-.5,.6-8.8,.6-1.5,.6-17.9,.6 1,.6 .2,.6-2,.6-6.8,.6-5,.6 3,.6-3.5,.6-10.1,.6 12,.6-7.9,.6 7.4,.6-2.9,.6-10.1,.6 6.5,.6 8.8,.6 .1,.6 .8,.6 .2,.6-.6,.6-4.9,.6 .5,.6-3.6,.6 6.9,.6-3.8,.6-1.1,.6 7.6,.6 1.1,.6-3.8,.6-.6,.6 1.3,.6-2.1,.6 .9,.6-2.3,.6 2.1,.6-15.4,.6 15.1,.6 1.1,.6-3.7,.6 3.6,.6-4.1,.6-5.6,.6 5.2,.6-.4,.6 1.2,.6-17.1,.6 14.8,.6-.3,.6-6.6,.6 3.7,.6 1.1,.6 .1,.6 1,.6-1.5,.6-1,.6 5.5,.6-1.6,.6-5,.6 2.1,.6-19,.6 18,.6 1.8,.6-.6,.6-1.3,.6-3.3,.6 6.1,.6 1.1,.6-2.1,.6-.5,.6 3.7,.6-5,.6-1.7,.6 0,.6-12.8,.6 15.6,.6-2.6,.6-1.1,.6 1.7,.6-2.1,.6-2.3,.6-.5,.6 6.7,.6 3.9,.6-2,.6-1.7,.6-1.4,.6 1.7,.6 1.7,.6 2,.6 4.8,.6-5,.6-2.9,.6 3.5,.6-.7,.6 1.5,.6-1.8,.6-2,.6 2.3,.6 1.6,.6-9.2,.6 2.2,.6 6.7,.6-.7,.6-1.1,.6-9.5,.6 8.9,.6-2.8,.6 3.7,.6 .4,.6-4.9,.6-.5,.6-6.3,.6 6.5,.6 13.3,.6-11.6,.6 .9,.6-4.6,.6 .9,.6-1.2,.6 .1,.6 .4,.6-.9,.6-4.7,.6 5.4,.6 1.9,.6 .9,.6 5.7,.6-1.1,.6-2.8,.6-5.1,.6-1.4,.6-2.3,.6 8,.6 15.1,.6-11.3,.6-4.4,.6 1.9,.6 5.1,.6-3.5,.6-.1,.6 3.1,.6-4.5,.6-2,.6-2.1,.6-.2,.6 3.2,.6-2.3,.6 7.4,.6 1,.6-3.6,.6-1.6,.6-.3,.6 3.8,.6-2.5,.6 2.3,.6 5.3,.6 .5,.6-1.8,.6-5.8,.6 1.1,.6 .7,.6-2.4,.6 1,.6-13.2,.6 14.2,.6-8.7,.6-3.9,.6 7.4,.6 5.2,.6 1.2,.6-3.6,.6-6.6,.6-6.5,.6-8.4,.6-15.7,.6-25.1,.6 12.9,.6 25.2,.6 14.5,.6 .9,.6 10,.6 5.8,.6 1.8,.6-7.3,.6 3,.6-2.1,.6 4.5,.6-3.2,.6-.8,.6-4.8,.6-6.3,.6 .1,.6-1.2,.6 11.4,.6 1.7,.6-16.9,.6 18,.6-.7,.6 1.1,.6-3.6,.6 2.3,.6-6.7,.6-1.5,.6 2.7,.6-1.1,.6 4.5,.6-2.9,.6-8.1,.6-4.2,.6-3.5,.6-2,.6 10.2,.6 0,.6 7.5,.6 .2,.6-2.7,.6 1.5,.6 4.8,.6 3.3,.6 3,.6-4.8,.6-5.6,.6 1.3,.6-1.2,.6 .3,.6 10.2,.6-.4,.6-10.2,.6 12,.6 3.9,.6-12.2,.6 6.6,.6-10.6,.6 14,.6-.4,.6 2.7,.6-2.6,.6-2.6,.6-1.6,.6-1.2,.6-.2,.6 .4,.6-2.8,.6 6.5,.6-3.4,.6 4.4,.6-8.5,.6 5.2,.6-6.1,.6 5.6,.6-1.4,.6-3.3,.6 1.2,.6 2.1,.6 1.8,.6 .5,.6 5.9,.6-16.1,.6 11.2,.6 5.5,.6-8.5,.6 1.7,.6-1.6,.6-4.1,.6 4.4,.6 7,.6-4.3,.6-3,.6-14.3,.6 5.9,.6 2.6,.6-1.9,.6-6.7,.6 9.2,.6-2.9,.6 .3,.6 4,.6-4,.6 4.6,.6-3.3,.6 1.7,.6 1.3,.6-.9,.6-2.2,.6 3.4,.6-3.9,.6 8.8,.6-5,.6 1.5,.6-3.6,.6 .5,.6-.3,.6-.3,.6 7,.6-.2,.6-1.3,.6-18.6,.6 20.1,.6 12,.6-9.3,.6 .9,.6-2.6,.6 1.2,.6-3.8,.6-1.5,.6-1.9,.6 7.8,.6-6,.6 0,.6-21.8,.6 14.4,.6-3.8,.6 6.4,.6-6.7,.6-2.5,.6-6.5,.6-2.6,.6-.8,.6 3.8,.6-9.4,.6-6.1,.6-2.5,.6-5.2,.6-5.6,.6 3.9,.6-11.7,.6 8.1,.6 7.5,.6-4.6,.6 18.4,.6-4.9,.6 15.2,.6 3.5,.6 6.4,.6 3.1,.6-1.3,.6 3,.6 .1,.6-.9,.6 .8,.6-4.1,.6-3.1,.6-8.7,.6 17.3,.6-2.6,.6-12.7,.6 8.9,.6 5.5,.6-4.8,.6 3.4,.6-3.7,.6-4.7,.6-11.3,.6-3.9,.6-8.6,.6 2.4,.6 21.8,.6-9.8,.6-18.2,.6-16.1,.6-3,.6-12,.6 8.2,.6 6.7,.6 3.2,.6 7,.6 13.3,.6 11.3,.6 1.2,.6-2.3,.6-4,.6-5.2,.6 7.7,.6 9.4,.6 1.3,.6-.5,.6-10.7,.6-17.6,.6-15.8,.6-14.4,.6-10.2,.6-27.1,.6 7.1,.6-1.8,.6-18.4,.6 5.2,.6 9.5,.6 1.7,.6 2.9,.6 4.1,.6-.2,.6 6.8,.6-3.5,.6 6.9,.6 12,.6-.6,.6-14.2,.6-7,.6-13.7,.6 16.5,.6-5.2,.6 50.8,.6 60,.6-70.9,.6-39,.6-13.5,.6 4.7,.6 2.1,.6-7.7,.6 15.9,.6-.9,.6 2,.6-5,.6-2.2,.6-9.5,.6-2.5,.6-3.3,.6-5.9,.6 15.1,.6 2.5,.6 5.6,.6 .4,.6-2,.6-1.2,.6-4.1,.6 1.5,.6 26.6,.6 3.2,.6-40.3,.6 15.1,.6-6.7,.6-3.4,.6 4.7,.6 2.8,.6-9.5,.6 2.6,.6-2.7,.6 .5,.6 6.2,.6 2.5,.6-9.4,.6 3.3,.6 17.9,.6-10.4,.6 .5,.6 0,.6 3.7,.6 1.9,.6-6.5,.6-6.5,.6 10.5,.6-12.7,.6 3.3,.6-4.6,.6 4.8,.6 .2,.6-5.6,.6-4.8,.6 3.3,.6 1.7,.6-.4,.6-9.6,.6 15.4,.6 12.3,.6 15.4,.6 19.7,.6 25,.6 30,.6 6.3,.6-2.1,.6-.1,.6-4.6,.6-.8,.6 .6,.6 1.5,.6 3.5,.6-.1,.6 4.5,.6-6.5,.6-8,.6 .8,.6 2.3,.6-8.7,.6 4.6,.6 .3,.6 10.8,.6-11.1,.6 2.8,.6-3,.6-1.1,.6 4.8,.6 2.8,.6 1.2,.6-2.9,.6 2.6,.6-7.6,.6 10.2,.6-7.2,.6-1.7,.6 7.7,.6 1,.6-3.5,.6 2.5,.6 .1,.6-1.1,.6" fill="none" stroke="#2a2a10" stroke-width="0.9" stroke-linejoin="round" opacity="0.85"/>
<path d="M542,162l-15,.6 13,.6 .4,.6 3.5,.6 5.6,.6 0,.6-6.3,.6 2.1,.6-1.5,.6 1.5,.6-5.5,.6 5.5,.6-4.1,.6-2.3,.6 5.2,.6-4.1,.6 .7,.6 6.4,.6-.2,.6 1.7,.6 1.5,.6-3.4,.6 .5,.6 2.9,.6 3.5,.6-1.6,.6-7.2,.6-18.7,.6 21.4,.6 .4,.6 1.3,.6-11.2,.6 17.2,.6 3.5,.6-4.7,.6 11.9,.6-7.9,.6-2.8,.6-.9,.6-2.5,.6 5.1,.6-2.6,.6 .8,.6-8.1,.6 7.4,.6-1.8,.6-2.6,.6-2.1,.6-14,.6-15.4,.6-16.2,.6 5.3,.6 14.1,.6 13.8,.6 11,.6 .1,.6 1.3,.6-4.1,.6 1.8,.6 1.6,.6-13.6,.6 16.3,.6-3.2,.6-5,.6-.1,.6-8.6,.6-4,.6-2.2,.6-6.6,.6-4.5,.6-9.5,.6-4.2,.6 4.5,.6 20,.6 9.5,.6 .3,.6-10.2,.6 14.5,.6 8.5,.6-16.7,.6 16.7,.6-1.8,.6-17.4,.6 21.2,.6-15.1,.6 13.2,.6 .3,.6-2.1,.6-.3,.6-1.1,.6-3.8,.6 5.3,.6-3.6,.6 2.1,.6-4.2,.6 1.7,.6-.2,.6-3.4,.6-.2,.6 4.6,.6 6.9,.6-12.4,.6-6.6,.6-8,.6-11.8,.6 4.6,.6 12.7,.6 12.7,.6-3.1,.6-2,.6-5,.6 4,.6 6.1,.6 2.5,.6-8.5,.6 6.9,.6 .6,.6-.9,.6-4.9,.6 3.9,.6-5.8,.6-.1,.6 0,.6 1.6,.6 3.7,.6-2,.6 2.6,.6-1.5,.6 .7,.6-11.7,.6 11.6,.6-1.3,.6 6.2,.6-2.9,.6-5.1,.6 2,.6 .5,.6 2.1,.6-3.3,.6-18.1,.6 13.9,.6 3.4,.6 1.8,.6-4.8,.6 3.2,.6-2.4,.6-.3,.6 .7,.6-5.5,.6 2.2,.6 3.2,.6-2.7,.6 2.8,.6 6.9,.6-7.7,.6 6,.6-.5,.6 5.5,.6-6.1,.6 1,.6 1.5,.6 2.6,.6 .3,.6-8.5,.6 8.5,.6 .6,.6-1.4,.6 .4,.6 2.2,.6 .3,.6 2,.6 2.6,.6 6.2,.6-2.4,.6-1.7,.6-14.1,.6 7.7,.6-1.7,.6 1.1,.6-10.8,.6 7.9,.6-1,.6 .4,.6 7.1,.6-15.6,.6 8,.6-.4,.6 .5,.6 .6,.6-1.3,.6 2.9,.6-2.9,.6-3.5,.6-1.2,.6 0,.6-11.9,.6 15.9,.6 .4,.6-2.6,.6-4.8,.6 8.2,.6-3.4,.6-.5,.6-.2,.6 2.7,.6 .4,.6-1.2,.6 6.5,.6-5.8,.6-5.1,.6 2.1,.6 3.1,.6-.7,.6 2.1,.6-2.4,.6-3.3,.6-.5,.6 4.1,.6-1.4,.6 13.1,.6-13.7,.6-13.7,.6 13.8,.6-.6,.6 1.1,.6 1.5,.6-15.9,.6 18,.6-1.3,.6-.6,.6-2.8,.6-17.4,.6 21.1,.6-6,.6-2.4,.6 .9,.6 3.3,.6-.2,.6-2.6,.6 3.3,.6-15.1,.6 14,.6-4.3,.6-2.8,.6-11.6,.6 19.8,.6-.4,.6-3.7,.6-7.2,.6-7.1,.6 3.2,.6 4.3,.6 8.5,.6 4.7,.6-6.6,.6 6.9,.6 .8,.6-.7,.6-2.8,.6-3.1,.6 5.2,.6-3.4,.6 7.1,.6 .1,.6-17.4,.6 12.8,.6-3.2,.6-.9,.6 1,.6 2.8,.6-5.6,.6 3.6,.6-.3,.6-2.4,.6-7,.6 4.8,.6 1,.6 3.9,.6-1.6,.6-3.6,.6 4.9,.6-3.5,.6-1.1,.6-1.3,.6 4,.6-.5,.6-5.3,.6 1.3,.6 .5,.6 2.3,.6 1.8,.6 5.3,.6-2.6,.6 5.5,.6-3.8,.6-3.5,.6 2.8,.6-7.5,.6-1.1,.6-6.2,.6 10.2,.6 .2,.6 1.2,.6 4.7,.6-3.8,.6-.9,.6 .8,.6 .6,.6-2,.6-1.1,.6-1.5,.6 2.5,.6 .2,.6-3.2,.6 3.1,.6 2.4,.6 3.4,.6-.8,.6 .7,.6-1.5,.6-6.2,.6 8.1,.6 7.5,.6 .3,.6 .7,.6-1.7,.6 .5,.6 5.6,.6-2.6,.6-.9,.6 6.3,.6-19.7,.6 12,.6 2.3,.6-1.9,.6 6.2,.6 .7,.6 8.8,.6-9.7,.6 1.9,.6 .4,.6 .8,.6-6.3,.6-4.8,.6-9.3,.6-6.1,.6-5,.6-9.2,.6-18,.6-23,.6-.1,.6-.1,.6-11.9,.6 21.1,.6 37,.6 29.8,.6 23.1,.6-3.3,.6 1.2,.6-8.3,.6 5.9,.6 4,.6-6.5,.6 3.1,.6 3.2,.6-.5,.6-3.9,.6 .8,.6-6.4,.6 .6,.6 .4,.6-3.6,.6 3.1,.6-19,.6 23.4,.6-1.2,.6-.8,.6-13.7,.6-12,.6-8.7,.6-13.1,.6-10.5,.6-8.3,.6 8.5,.6 29.6,.6 10.3,.6 4.4,.6-12.3,.6 16.7,.6 5,.6 .2,.6-.6,.6-.8,.6-15.7,.6-17.6,.6-11.3,.6 9,.6 16.5,.6-1.4,.6 4.4,.6 7.8,.6-3.1,.6-5.1,.6 .7,.6-9.8,.6 6,.6 3.1,.6 6.6,.6-1.1,.6 .9,.6-8.9,.6-13.3,.6-14.7,.6-.3,.6-3.1,.6 4.5,.6-1.3,.6 12.5,.6-6,.6-1.5,.6 1.3,.6-3.3,.6-3.3,.6 1.4,.6-10.4,.6-.8,.6 6.9,.6-7.3,.6 6.3,.6 4.5,.6 5.3,.6 3,.6 6.8,.6-6.1,.6-2.4,.6-8.8,.6-6.4,.6 .2,.6 10.8,.6 29.2,.6 15.7,.6 11.5,.6-2.5,.6 3.6,.6-1.8,.6 2.5,.6 .1,.6-1,.6-.7,.6-.3,.6 2,.6-18.3,.6 18.3,.6-2.2,.6-.4,.6-1.6,.6-4.6,.6-3.2,.6-7.6,.6 3.3,.6-16.1,.6-4.9,.6-3.5,.6-2.3,.6 .9,.6 .7,.6-1.9,.6 7.3,.6 4.5,.6-20.8,.6 10,.6 .3,.6-.7,.6 4.6,.6-6.2,.6 3.7,.6-1.6,.6 1.3,.6 3.4,.6-.2,.6-.4,.6-13,.6 9.5,.6 .1,.6-1.3,.6-4,.6-5.8,.6-8.7,.6-7.3,.6 7.4,.6 7.3,.6 4.6,.6-3.3,.6 3.5,.6-7.9,.6 2.4,.6-.1,.6-1.4,.6 5.2,.6-9.9,.6 13.3,.6 2.2,.6 0,.6-.4,.6-1.5,.6-8.2,.6 8.2,.6-.2,.6 3,.6 .3,.6-1.7,.6 6.4,.6-1.9,.6 .7,.6-5.9,.6 .4,.6 5.1,.6 .4,.6 2.5,.6 .4,.6 .5,.6-7.3,.6 4.1,.6 .4,.6-3.1,.6 2.3,.6-1.7,.6-2.1,.6 4.4,.6-.9,.6-4.3,.6-.2,.6 4,.6 4.1,.6-.3,.6-19.1,.6 13.2,.6 6.9,.6-22.8,.6 17.9,.6 5.8,.6-1.6,.6 1.6,.6-2.8,.6-2.1,.6 2.8,.6-.9,.6-9.9,.6 6,.6 .1,.6 4.2,.6-2.6,.6 0,.6-.3,.6-3.6,.6-.4,.6-.7,.6-8.2,.6-5,.6-15.2,.6-6,.6 11.8,.6 14.1,.6 8.3,.6-1.8,.6-12.8,.6 11.4,.6 .8,.6-3.1,.6-9.7,.6 1.1,.6 14.6,.6 .3,.6 4.1,.6 5.6,.6-.2,.6 .2,.6-2.9,.6 3.3,.6-9.1,.6 .1,.6-7,.6 4.5,.6-8.9,.6 2.4,.6-.3,.6-13.6,.6-12.8,.6 9.1,.6 18.7,.6 15.6,.6 14.2,.6 13.5,.6 0,.6-1.2,.6 6.3,.6-9.3,.6 .2,.6 3.8,.6-1,.6-1.8,.6-2.5,.6-2.7,.6-1.1,.6 3.8,.6-12.6,.6 15,.6 1.5,.6 1.4,.6-.8,.6 9.3,.6-7.1,.6 .4,.6 1.2,.6 3.3,.6-14.2,.6-18.7,.6-7.8,.6 1.4,.6-6.6,.6 10.2,.6-6.1,.6 4.1,.6-2.3,.6 3.2,.6 2.8,.6-2.9,.6 4.6,.6-1.3,.6-4,.6 5.8,.6-.2,.6-.9,.6-10.2,.6 13.4,.6-7.6,.6 4,.6-.6,.6 2.6,.6 2.8,.6-1,.6 2,.6-9,.6 10.6,.6-2.2,.6 1.2,.6 1.1,.6 0,.6-1.3,.6-2.2,.6-.5,.6 1.8,.6 4.8,.6-5.5,.6 2,.6 1.5,.6-.6,.6-7.4,.6 2,.6 3.3,.6 .2,.6 2.8,.6-1.1,.6-.8,.6 .2,.6-1.5,.6 2.8,.6-6.4,.6 1.9,.6 3.9,.6 .7,.6-5.9,.6 4.3,.6-4.7,.6-2.1,.6 3.4,.6 6.1,.6-1.7,.6-3.1,.6-9.9,.6 9.1,.6 5.4,.6 1.7,.6-1.3,.6 2.7,.6-7.7,.6 .6,.6-5.4,.6 4.6,.6-11.7,.6 9.4,.6-7.1,.6 4,.6 .1,.6-15.6,.6 18.4,.6-1.9,.6-8.7,.6 3.5,.6-8.9,.6-9.7,.6 13.4,.6 9.9,.6 3.3,.6 .6,.6 .4,.6-2.6,.6 .1,.6 5.8,.6 7.1,.6-6,.6-4.4,.6 .9,.6-15.7,.6-5.5,.6 18.2,.6-.8,.6-2.9,.6-3,.6 5,.6-3.6,.6 10.7,.6-12.5,.6 2.9,.6-5.3,.6-5.8,.6 9.1,.6 3.4,.6 9,.6 1.3,.6 4.1,.6-8.3,.6 3.8,.6-4.9,.6-.5,.6 4.5,.6-5.1,.6 2,.6-2.9,.6 6.6,.6-3.1,.6 2.2,.6 .8,.6-1.7,.6-.2,.6-5.1,.6-.2,.6 7.8,.6-5.2,.6 2.8,.6 3.5,.6-3.5,.6 2.3,.6 .5,.6-1.6,.6 5.5,.6-22.4,.6 13.9,.6 4.4,.6-1.1,.6-.8,.6-4.7,.6-.1,.6 5,.6 1,.6 3.9,.6 2.5,.6 1.9,.6-20.3,.6 17.2,.6-5.2,.6 2.9,.6-13.7,.6 10,.6 .3,.6 4.2,.6-2.7,.6 3.1,.6-5.6,.6 4,.6 .5,.6 2.7,.6-3,.6 2.6,.6 2.4,.6-1.9,.6-16.4,.6 16.3,.6 2.6,.6-.2,.6-9.9,.6 13.5,.6-4,.6 1.9,.6 2.8,.6-1.7,.6-2.4,.6 2.4,.6 7.6,.6-4.6,.6 2.4,.6-2.3,.6 4.2,.6 3.5,.6-1.4,.6-2.7,.6 4.4,.6-4.1,.6 .5,.6 2.8,.6-4.6,.6 1.2,.6-23.6,.6 18.1,.6 8.2,.6-6.4,.6-.7,.6 1.1,.6 2.3,.6 0,.6 1.9,.6 0,.6-1.4,.6 3.2,.6 3.1,.6-3.6,.6 6.2,.6 1.4,.6-.1,.6-2.3,.6 .8,.6-.3,.6 2.5,.6 0,.6 0,.6-6.2,.6-1.1,.6 1.9,.6-4.3,.6-5,.6 9.3,.6 1.5,.6-3.3,.6-1.4,.6-10.4,.6 17.3,.6-3.8,.6-5.2,.6 5.3,.6-1.7,.6-1.2,.6-4.7,.6 4.4,.6-2.4,.6-2.6,.6-3.3,.6 4.8,.6-2.6,.6-11.4,.6 16.5,.6-.7,.6-2.5,.6-1.8,.6-.2,.6-1,.6-2.4,.6 5.9,.6-2.5,.6 2.2,.6 .7,.6-.9,.6-2.2,.6 4.5,.6-19.9,.6-16.3,.6-16.3,.6 9.6,.6 16,.6 16.5,.6 3.8,.6-2.9,.6-8,.6 3.7,.6 2.8,.6 4.3,.6-8.7,.6 6.5,.6-4.4,.6 3.3,.6-1.1,.6-3,.6-7,.6-2.8,.6-5.1,.6 2.1,.6-2.6,.6-13.9,.6 13.6,.6-2.6,.6 1.5,.6-4.3,.6 9.2,.6-3.4,.6-5.7,.6-.9,.6 5.2,.6 .4,.6-2.9,.6 .1,.6 3.8,.6 1.2,.6-6.8,.6 5.5,.6-14.6,.6 13.5,.6-7.8,.6 7.5,.6-2,.6-1.4,.6 .8,.6 5.1,.6-2,.6 3.2,.6-1.8,.6-1.3,.6 3.1,.6 3.1,.6-6.4,.6-12.3,.6-6.9,.6 8.6,.6-12.8,.6 18.4,.6 3.4,.6 4.2,.6 2.2,.6-7.3,.6 3.8,.6 .2,.6 2.6,.6 6.6,.6-1,.6-5,.6 6.6,.6-11.8,.6-3.5,.6 9.3,.6-2.5,.6 2.9,.6 4.8,.6-.9,.6-1.5,.6 .3,.6-3.3,.6-5.5,.6-3.6,.6-.6,.6 6.9,.6-1.6,.6-2.4,.6 .6,.6-7.5,.6 7.3,.6-2.1,.6-1.3,.6-.8,.6-1.7,.6-8.5,.6-3.3,.6 2.5,.6 7,.6-11.6,.6 3.4,.6-8.5,.6 19.5,.6-5.9,.6-6,.6 11,.6-1.7,.6-4.5,.6-4.8,.6-.5,.6 1.2,.6 4,.6-3.7,.6 3.7,.6-3.6,.6 7.5,.6 1.3,.6 3.6,.6 5.5,.6-.1,.6 4.8,.6 9.4,.6 14.1,.6 7.6,.6-1.5,.6 1.3,.6-6.9,.6 2.5,.6 8.3,.6 1.1,.6-1.2,.6-2.1,.6-5.1,.6-15.1,.6 16.2,.6 .5,.6 1.7,.6-4.2,.6 4.3,.6-1.1,.6 4.4,.6-21.4,.6 16,.6 5.2,.6 1.9,.6 0,.6-.1,.6-.9,.6-3,.6 .4,.6 2.4,.6-.3,.6-3.1,.6-.4,.6 1.5,.6 .2,.6-1.6,.6-2,.6 2.9,.6-2.2,.6 .7,.6-.5,.6-8.8,.6-1.5,.6-15.9,.6 1,.6-1.8,.6-2,.6-6.8,.6-5,.6 3,.6-3.5,.6-10.1,.6 12,.6-5.8,.6 7.3,.6-2.9,.6-12.1,.6 6.5,.6 8.8,.6 .1,.6 .8,.6 .2,.6-.6,.6-4.9,.6 .5,.6-3.6,.6 6.9,.6-1.8,.6-3.1,.6 7.6,.6 1.1,.6-1.7,.6-2.7,.6 1.3,.6-2.1,.6 .9,.6-2.3,.6 2.1,.6-15.4,.6 15.1,.6 3.2,.6-5.8,.6 3.6,.6-4.1,.6-3.6,.6 5.3,.6-2.5,.6 3.3,.6-19.2,.6 14.8,.6-.3,.6-6.6,.6 5.8,.6-1,.6 .1,.6 1,.6-1.5,.6-1,.6 5.5,.6-1.6,.6-3,.6 .1,.6-17,.6 18.1,.6-.3,.6-.6,.6-1.3,.6-1.3,.6 4.1,.6 1.1,.6-.1,.6-2.5,.6 3.7,.6-5,.6-1.7,.6 0,.6-12.8,.6 15.6,.6-2.6,.6 1,.6-.4,.6-.1,.6-2.2,.6-.6,.6 4.7,.6 3.9,.6-2,.6-1.7,.6 .7,.6-.4,.6 1.7,.6 2,.6 4.8,.6-5,.6-2.9,.6 3.5,.6 1.3,.6-.5,.6-1.8,.6-2,.6 2.3,.6 1.6,.6-7.1,.6 .1,.6 6.7,.6-.7,.6-1.1,.6-7.5,.6 6.9,.6-2.8,.6 3.7,.6 2.4,.6-6.9,.6-.5,.6-4.3,.6 4.5,.6 15.4,.6-13.7,.6 .9,.6-4.6,.6 3,.6-3.3,.6 2.2,.6 .4,.6-1,.6-4.7,.6 3.4,.6 1.9,.6 .9,.6 5.7,.6 1,.6-4.9,.6-5.1,.6 .6,.6-4.3,.6 8,.6 15.1,.6-11.3,.6-4.4,.6 4,.6 5,.6-3.5,.6-2.1,.6 3.1,.6-4.5,.6-2,.6-2.1,.6 1.8,.6 1.2,.6-2.3,.6 7.4,.6 1,.6-3.6,.6 .4,.6-.2,.6 3.8,.6-4.6,.6 2.3,.6 5.3,.6 2.5,.6-1.8,.6-7.8,.6 1.1,.6 .7,.6-2.4,.6 3,.6-15.2,.6 14.2,.6-8.7,.6-3.9,.6 9.5,.6 3.1,.6 1.2,.6-3.6,.6-6.6,.6-4.4,.6-8.5,.6-17.7,.6-23,.6 12.8,.6 23.2,.6 14.5,.6 .9,.6 10,.6 5.8,.6 1.8,.6-5.2,.6 .9,.6-2.1,.6 4.5,.6-3.2,.6-.8,.6-4.8,.6-6.3,.6 2.2,.6-3.3,.6 11.4,.6 1.7,.6-16.9,.6 20.1,.6-2.8,.6 1.1,.6-3.6,.6 2.3,.6-6.7,.6-1.5,.6 2.7,.6-1.1,.6 4.5,.6-2.9,.6-6,.6-6.3,.6-3.5,.6-2,.6 10.2,.6 0,.6 7.5,.6 .2,.6-.7,.6 1.6,.6 2.7,.6 5.4,.6 .9,.6-4.8,.6-5.6,.6 1.3,.6-1.2,.6 2.4,.6 8.1,.6-.4,.6-10.2,.6 12,.6 5.9,.6-12.1,.6 4.5,.6-8.5,.6 11.9,.6-.4,.6 2.7,.6-2.6,.6-2.6,.6-1.6,.6-1.2,.6-.2,.6 .4,.6-2.8,.6 6.5,.6-1.3,.6 2.3,.6-6.5,.6 3.2,.6-6.1,.6 5.6,.6-1.4,.6-3.3,.6 3.3,.6 2.1,.6-.3,.6 .5,.6 5.9,.6-16.1,.6 13.2,.6 3.5,.6-8.5,.6 1.7,.6 .4,.6-4.1,.6 2.4,.6 7,.6-2.2,.6-5.1,.6-14.3,.6 5.9,.6 2.6,.6-1.9,.6-4.6,.6 7.1,.6-2.9,.6 .3,.6 6.1,.6-6.1,.6 4.6,.6-1.2,.6 1.7,.6-.8,.6-.9,.6-2.2,.6 3.4,.6-1.9,.6 6.8,.6-3,.6-.5,.6-1.6,.6-1.5,.6 1.7,.6-2.3,.6 7,.6-.2,.6-1.3,.6-16.5,.6 18,.6 12,.6-9.3,.6 .9,.6-.6,.6-.8,.6-1.7,.6-3.6,.6-1.9,.6 7.8,.6-6,.6 0,.6-21.8,.6 14.4,.6-3.8,.6 6.4,.6-6.7,.6-2.5,.6-4.4,.6-2.6,.6-2.9,.6 3.8,.6-7.4,.6-8.1,.6-2.5,.6-5.2,.6-5.6,.6 3.9,.6-9.7,.6 6.1,.6 7.5,.6-4.6,.6 20.5,.6-7,.6 15.2,.6 3.5,.6 6.4,.6 3.1,.6 .8,.6 .9,.6 2.2,.6-3,.6 .8,.6-4.1,.6-3.1,.6-8.7,.6 17.3,.6-2.6,.6-12.7,.6 10.9,.6 3.5,.6-2.7,.6 1.3,.6-3.7,.6-4.7,.6-9.2,.6-6,.6-8.6,.6 2.4,.6 21.8,.6 14.2,.6-3,.6 26,.6 7.6,.6 4.4,.6 1.8,.6 2.1,.6-1.1,.6-1.4,.6-6.3,.6-7.2,.6-10.7,.6-8.5,.6-6.7,.6-12,.6-3.7,.6 5.2,.6 9.6,.6 2,.6 7.5,.6 11.6,.6 3.6,.6 4.1,.6 1.3,.6-1,.6-2.4,.6 8.6,.6-1,.6-2.9,.6 3.2,.6 1.6,.6-1.3,.6-3.6,.6 1.5,.6-5.2,.6-5.9,.6 11.6,.6-13.6,.6 3.8,.6 5.7,.6-7,.6 11.1,.6 2.2,.6-1.7,.6-7,.6 1.7,.6-4.3,.6-9.8,.6-.5,.6-6,.6 2.3,.6 .3,.6-5.9,.6 10.5,.6-5.8,.6 1.4,.6 4.7,.6 5.5,.6 2.1,.6 0,.6 7.4,.6-12.3,.6 10,.6-1.2,.6-2.1,.6-2.3,.6-6.4,.6-4.4,.6-6.9,.6 .3,.6-9.3,.6 3.1,.6 5.8,.6-3.7,.6 18.8,.6-.9,.6 8.5,.6-7,.6-1.3,.6-5.1,.6-.6,.6-8.3,.6 3.6,.6 4.9,.6-2.8,.6-14.3,.6 23.6,.6-2.1,.6 5.6,.6 1,.6 1,.6 4.6,.6-3,.6 4.6,.6-6.1,.6-4.1,.6-6.1,.6 2.4,.6-6,.6-11.4,.6 3.1,.6 3.3,.6 1,.6 2.5,.6 5.3,.6 6.7,.6 1.6,.6-3.6,.6-10.4,.6-6.6,.6-4.8,.6 .8,.6 0,.6-2.2,.6-4.6,.6-.8,.6 .6,.6 1.5,.6 3.5,.6-.1,.6 4.5,.6-6.5,.6-6,.6 .9,.6 .2,.6-8.7,.6 4.6,.6 2.3,.6 8.8,.6-11.1,.6 2.8,.6-3,.6-1.1,.6 4.8,.6 2.8,.6 1.2,.6-2.9,.6 2.6,.6-7.6,.6 10.2,.6-7.2,.6-1.7,.6 7.7,.6 1,.6-3.5,.6 4.5,.6 .2,.6-1.2,.6" fill="none" stroke="#000" stroke-width="2.5" stroke-linejoin="round"/>
<path d="M549.6,404l0,.2 16.3,.3-11,.2 19.5,.3-23.1,.2 .4,.2-2.2,.3-1.3,.2 18.4,.3-3.5,.2-11.2,.2 19.1,.3-4.6,.2-8.5,.3 6.2,.2 1.6,.2-7.3,.3-12,.2 9.4,.3 19.9,.2-19.6,.2 9,.3-18.8,.2 23.5,.3 3.1,.2" fill="none" stroke="#000" stroke-width="1.6" stroke-linejoin="round"/>
<path d="M528,410l-.1,.6 10.3,.5-19.1,.6-3.2,.5-5.9,.6 41.1,.6-13.1,.5 32.9,.6 .4,.5-6.5,.6 5.2,.6-7.8,.5-59.9,.6 7.7,.5 62.3,.6-7.5,.6-19,.5 .3,.6-13.5,.5-.8,.6-20.6,.6 29.6,.5-20.1,.6-11.2,.5 55,.6" fill="none" stroke="#000" stroke-width="1.6" stroke-linejoin="round"/>
<path d="M465.2,1024l12.9,.2-24.9,.2 12.1,.2-12.8,.2 23.7,.2-26.6,.2 18.7,.2-3.9,.2-9.9,.2-10.5,.2 17.4,.2 1.6,.2 12.6,.2-26.3,.2-.7,.2 5.1,.2 21.2,.2-24.3,.2 17.1,.2-25.7,.2 2.1,.2 26.8,.2-9,.2-16.5,.2 15.5,.2" fill="none" stroke="#000" stroke-width="1.6" stroke-linejoin="round"/>
<path d="M472.3,1042l-23.5,.2 7.1,.2-5.9,.2 3.7,.2-19.8,.2 35.9,.2-12.9,.2-10,.2-2.7,.2-4.1,.2 31.9,.2-4,.2-19.7,.2 9.6,.2-2.2,.2-15.1,.2-7.1,.2 30,.2-24.5,.2 17.2,.2-23.4,.2 .2,.2 6.1,.2 20.9,.2-1.7,.2" fill="none" stroke="#000" stroke-width="1.6" stroke-linejoin="round"/>
<path d="M560,1052l-13.6,.2-5.6,.3-20.9,.2 38.8,.3-19.3,.2 15.2,.2-33.5,.3 32.5,.2-14.7,.3-10.7,.2 7.8,.2-13.6,.3 20.8,.2-14.9,.3 19.8,.2-21.6,.2 21.2,.3-3,.2 3.9,.3 9.8,.2-26.9,.2 15.9,.3-11.8,.2 20.4,.3-2.8,.2" fill="none" stroke="#000" stroke-width="1.6" stroke-linejoin="round"/>
<path d="M558.8,1030l-7,.2-14.4,.3 27.6,.2 2.6,.3-.8,.2-26.2,.2 20.7,.3-6.1,.2 6.9,.3-1.6,.2-14.9,.2-2.5,.3 17.1,.2-6,.3-4.9,.2 14.2,.2-36,.3-.8,.2 19.3,.3-15.7,.2 31.9,.2-32.3,.3 34,.2-28.1,.3-3.9,.2" fill="none" stroke="#000" stroke-width="1.6" stroke-linejoin="round"/>
<path d="M564.4,1016l-2.5,.2-8.7,.2 6,.2-1.4,.2 12.9,.2-14.3,.2 1,.2-2.5,.2-1.7,.2 9.1,.2-18.8,.2 18.9,.2 7.6,.2-5.4,.2-7.1,.2-6.2,.2-8.3,.2-.1,.2 14.5,.2 11.1,.2-.5,.2-22.2,.2 18.4,.2 1.9,.2-10.6,.2" fill="none" stroke="#000" stroke-width="1.6" stroke-linejoin="round"/>
<line x1="406.4" y1="162.0" x2="440.0" y2="162.0" stroke="#000" stroke-width="2.2" />
<line x1="440.0" y1="162.8" x2="577.5" y2="162.8" stroke="#444" stroke-width="1.0" />
<line x1="406.4" y1="1087.0" x2="520.0" y2="1087.0" stroke="#222" stroke-width="1.6" />
<line x1="520.0" y1="1086.0" x2="577.5" y2="1086.0" stroke="#222" stroke-width="1.4" />
<rect x="402.6" y="141.6" width="2.6" height="959.4" fill="#2e2e1c" stroke="none" stroke-width="1" />
<rect x="405.2" y="141.6" width="2.0" height="959.4" fill="#6b7048" stroke="none" stroke-width="1" />
<defs><path id="gfill" d="M648.3,162l7,.6-7,.6-5.1,.6-.7,.6 5.7,.6-6.1,.6-2.8,.6-.6,.6-.5,.6-1.9,.6 1.7,.6-4.7,.6 1.2,.6-2.7,.6-1.6,.6 3.8,.6 2.9,.6-3,.6-4.2,.6-2.1,.6 1.9,.6 1.8,.6 1.7,.6-2.9,.6-8.3,.6 5.9,.6-1.4,.6 2.9,.6-3.8,.6 5.9,.6-3,.6 5,.6 1.2,.6 3.9,.6-1.6,.6 1.6,.6 6.3,.6-3.5,.6-2.8,.6-.1,.6 2.3,.6-6.5,.6-2.5,.6 2.5,.6 5.4,.6 1.7,.6 .9,.6 .7,.6-4.6,.6 .5,.6 5.9,.6 7.5,.6 .1,.6 1,.6-4.6,.6 3.2,.6 1.6,.6 3.1,.6 1.9,.6 2.9,.6-8.6,.6-1.1,.6-1.7,.6 .1,.6 4.9,.6 4.7,.6-9.4,.6-2.3,.6 12.3,.6-2.1,.6 .9,.6-.4,.6-5.6,.6-2.9,.6-3.1,.6-.2,.6-.6,.6-.9,.6-3.3,.6-2.5,.6 6.9,.6-9.5,.6-6.2,.6-.4,.6-.2,.6-3,.6 1.7,.6 2.9,.6-1.6,.6 1.5,.6-2.9,.6 2.4,.6 2.6,.6 2.6,.6 4.5,.6-4.2,.6-4.4,.6-3.1,.6 6.1,.6-2.3,.6 6.2,.6-4.4,.6-1.5,.6 9,.6-7.5,.6-3.5,.6 4.4,.6 4.5,.6-2.1,.6 .7,.6-3.6,.6 2,.6 3.9,.6-.7,.6 5.1,.6-1.2,.6 1.2,.6-4.3,.6-3,.6 .8,.6 6,.6-5.6,.6-.3,.6 .1,.6-5.1,.6 4.3,.6-2.1,.6-4.3,.6-3.1,.6 1.1,.6 7.3,.6-3.5,.6 2.9,.6 .9,.6-3.4,.6 3,.6 2.9,.6-4.5,.6-1.8,.6 9.8,.6-2.5,.6 3,.6 4.6,.6-6.5,.6-2.5,.6 1.5,.6 1.3,.6 1.8,.6-3.5,.6-4.4,.6 1.8,.6 .4,.6 3,.6-.2,.6-6.7,.6 .6,.6 3.7,.6 0,.6-.3,.6 .5,.6 4.4,.6-7.9,.6 7.2,.6-1.5,.6 2.8,.6-2.3,.6-8.7,.6 5.2,.6 1,.6-3.7,.6-5.2,.6 4.5,.6-1.6,.6 9.9,.6-.8,.6-3.7,.6-3.2,.6 6.3,.6-3.6,.6-3.6,.6 1.1,.6 1.5,.6 6.8,.6 4.1,.6-5.4,.6-.6,.6-2.1,.6-5.9,.6 3.1,.6-5.3,.6 9.8,.6-6,.6 2.9,.6 1.4,.6 3.6,.6-4.7,.6 3.8,.6-.8,.6 6.3,.6-5.3,.6-7.1,.6 .9,.6-.6,.6 6.1,.6-.7,.6 .2,.6-6.1,.6 1.6,.6-3.6,.6 8.8,.6 .1,.6 .8,.6 .2,.6-4.4,.6 5.6,.6-3.6,.6-1.3,.6 2.5,.6-7,.6 3.8,.6-1,.6-1.8,.6 3.7,.6-2.3,.6-.4,.6 4.3,.6-3.4,.6-.3,.6 5.9,.6 5.6,.6-5.6,.6-1.8,.6 5.5,.6 .4,.6-1.5,.6-1.8,.6-2,.6 1.5,.6-6.4,.6 4.4,.6-7.8,.6 3.5,.6 1.6,.6 7.6,.6-4.3,.6 1.2,.6 .7,.6-4.1,.6 4.1,.6-.6,.6 7.5,.6-7.3,.6-2.4,.6 1.2,.6 1.7,.6 6,.6-3.8,.6-7,.6 3.3,.6 1.2,.6-5.4,.6-2,.6 6.6,.6 3.1,.6 2.5,.6-4.5,.6 1.1,.6 2,.6 .5,.6 1.1,.6-.8,.6-2,.6-7.6,.6 4.5,.6 5.5,.6-2.1,.6-2.2,.6-1.2,.6 .8,.6-1.4,.6-5.6,.6-1,.6 2.6,.6 3.1,.6-1.9,.6 2.3,.6-4.3,.6 7,.6-3.5,.6 .2,.6 2.2,.6-3.5,.6-4.4,.6 1.2,.6-1.6,.6 7.6,.6 1.6,.6-2.1,.6 .4,.6-.1,.6 1.9,.6-6.2,.6 4.9,.6 2.3,.6 1.7,.6-6.9,.6-3.7,.6 5.9,.6-.8,.6 .4,.6 2,.6-.5,.6 2.7,.6 1.3,.6-3,.6-3.1,.6 1,.6 .3,.6-2.8,.6 .3,.6 6.1,.6-.6,.6 .5,.6 3.3,.6-6.9,.6 .7,.6 6.6,.6-.8,.6 2.7,.6-5.8,.6-1.4,.6-3,.6 4,.6 4.4,.6-.5,.6-4.1,.6 3.7,.6-2.9,.6 2.9,.6 2.4,.6 3.6,.6-.5,.6-6.4,.6-1.3,.6-.8,.6 .1,.6 .7,.6-3.1,.6 5.9,.6 6.1,.6 5.7,.6-4.4,.6 .3,.6 12.4,.6-4.9,.6-1.8,.6-6,.6-1.3,.6 1.1,.6 2.4,.6 14.5,.6-3.6,.6 3.8,.6-5.8,.6 5.7,.6-8.6,.6 8,.6-8.8,.6 3.3,.6-2.3,.6-7.5,.6 5.5,.6 1,.6 1.6,.6-3.3,.6 1.9,.6 1.6,.6 .6,.6-2.7,.6 7.7,.6-10.8,.6 2.6,.6 3.3,.6-3.7,.6-7,.6 6.1,.6 3,.6-2.2,.6 5.2,.6-3.9,.6-7.9,.6 3.6,.6 3.1,.6-.1,.6 4.6,.6 .9,.6-7.9,.6 8.5,.6-1.8,.6-1.7,.6 .8,.6 .4,.6 4.5,.6-2.1,.6-7.2,.6 8.9,.6-6.4,.6-1.8,.6-4.7,.6-.5,.6-7.6,.6-1,.6 3.9,.6 4.1,.6-1,.6-5.1,.6 2.5,.6 4.8,.6-5.9,.6 9.1,.6 2.3,.6-6.3,.6-.8,.6-.8,.6 4.2,.6 4.8,.6 3.7,.6 5.1,.6-9.4,.6 2,.6-.2,.6 0,.6 .2,.6-4.8,.6-.8,.6 6.5,.6-3.7,.6-1.8,.6 3.1,.6-.2,.6-4.9,.6-2.1,.6 10.4,.6-2.2,.6-1.5,.6 2.5,.6 4.6,.6-7.6,.6 5.4,.6-1,.6 6.7,.6-7.5,.6-3.6,.6 1.7,.6 .6,.6 1.7,.6-6,.6 6.7,.6-7.6,.6-4.9,.6 5.3,.6-9.9,.6-6.2,.6 4.1,.6-4.3,.6-3.4,.6-.4,.6 1.7,.6-2.4,.6 8.8,.6-7.4,.6-.9,.6 3.6,.6-7,.6 1.2,.6 4.2,.6 3.9,.6 .9,.6-.9,.6-1.3,.6-1.5,.6 0,.6-2.5,.6 2.6,.6-5.9,.6 7.7,.6-2,.6-1.6,.6 .6,.6-2.2,.6-1.6,.6-1.3,.6 6.1,.6 5.9,.6-10.4,.6 3,.6 1.2,.6-7.7,.6 6.6,.6 .6,.6 5.9,.6-1.6,.6-1.4,.6-2,.6 1.7,.6 3.2,.6 6.6,.6-14.4,.6 4.2,.6 2.1,.6 7.3,.6-2.8,.6-6.9,.6 3.3,.6-7.2,.6 .6,.6 6.4,.6-2.9,.6-2.5,.6 4.3,.6-.5,.6-2.3,.6-.8,.6 7.2,.6-4.6,.6 4.8,.6-8.7,.6 5.3,.6 3,.6-13.7,.6 9.5,.6 2.3,.6 3.3,.6-1.3,.6 1.7,.6 .2,.6-5.6,.6 2.9,.6 2.8,.6-6.1,.6-.5,.6 4.8,.6-1.7,.6 3.4,.6-1.9,.6 7.6,.6-7.3,.6 3.7,.6 .9,.6-12.1,.6-5.6,.6 4.6,.6 3.1,.6 1.3,.6 .3,.6-3.6,.6 3.7,.6-4.4,.6 5,.6-2.6,.6 .2,.6-7.7,.6 18.6,.6-5.1,.6 .6,.6-1.9,.6-3.3,.6 1,.6-2,.6-4.6,.6 5.5,.6 1,.6-7.2,.6 1.8,.6-.6,.6 10.9,.6-8.5,.6-3.6,.6-3.5,.6 7.3,.6 2.1,.6-4.5,.6 5.1,.6-1.4,.6 4,.6-4.1,.6 5.7,.6-5.4,.6-.5,.6 5.2,.6-7.2,.6 3.3,.6 2.3,.6-2.6,.6 6.4,.6-3.7,.6-.9,.6 2.9,.6-10,.6 6.6,.6-.3,.6-2.5,.6 7,.6-6.5,.6-4.2,.6 5,.6-6.4,.6 6.7,.6 1.6,.6-5.3,.6-1.6,.6 5.8,.6 3.6,.6 .4,.6-1.9,.6 1.5,.6-.1,.6-3.4,.6 6.9,.6-1.2,.6-2.5,.6-2,.6 2.7,.6-5.3,.6-2.2,.6 1.2,.6 4.3,.6 .9,.6 3,.6-5.1,.6 4.3,.6-1.1,.6 0,.6 4.3,.6 3.2,.6-6.4,.6 1.2,.6 2.6,.6-4.1,.6 3.4,.6-5.4,.6-1.3,.6 1.9,.6 6.6,.6-5.5,.6-2.7,.6 3.3,.6-4.3,.6-3.4,.6-2.5,.6 5.1,.6 6,.6-6.1,.6 3.1,.6-.8,.6-6,.6-.4,.6 6.1,.6-.4,.6-1.2,.6 .4,.6 5.8,.6-5.1,.6 2,.6-2.1,.6 1.5,.6-3,.6 1.2,.6 1.1,.6-.4,.6 7.8,.6-5.6,.6-3.4,.6 3.6,.6-3.7,.6-2.2,.6 3,.6-1.2,.6 .8,.6 6.7,.6-4,.6 3.1,.6-2.7,.6 3.6,.6 3.9,.6-5.6,.6 2,.6 5,.6-.2,.6-3.2,.6-.8,.6 2.4,.6 .1,.6-4.7,.6-2.4,.6 .6,.6-4.5,.6 1.6,.6 5.4,.6 2.8,.6-3.2,.6-3.7,.6 .7,.6-4.9,.6-1.7,.6 1.4,.6 8.7,.6-4.3,.6 1.1,.6 2,.6-7.6,.6 1.1,.6 5.5,.6-4.2,.6 5,.6-4.4,.6 7.7,.6 5.8,.6-6.7,.6-2,.6-1.3,.6-6.1,.6-.8,.6 9.3,.6-8.4,.6-2.6,.6 2.2,.6 7.3,.6 .7,.6-5.2,.6 4.2,.6-3.8,.6-2.5,.6 1.4,.6 2.7,.6-1.4,.6-6.7,.6 5.3,.6 3,.6-4.2,.6 1.3,.6-6.6,.6 7.5,.6-.7,.6 5.6,.6-.2,.6 .1,.6-2,.6-7.4,.6 5,.6 2.5,.6 0,.6-1.2,.6 5.3,.6-3.8,.6-5.4,.6 2.6,.6-2.6,.6-.9,.6-2.6,.6 5.1,.6-1.9,.6 2.7,.6-2.5,.6 1.8,.6 .3,.6-1.4,.6 2.9,.6 2.3,.6-2.8,.6 .8,.6 4.7,.6-2.5,.6 4.9,.6-10,.6-4.7,.6 4.8,.6 3.8,.6-2.7,.6-.5,.6-2,.6-2.3,.6-1.8,.6 1.8,.6 1.2,.6 2.4,.6 .7,.6-1.4,.6 0,.6 2,.6-5.8,.6-.5,.6 1.9,.6-1.8,.6 4.6,.6-3,.6 2.8,.6 3.6,.6-5.4,.6 8,.6-5.2,.6 3.5,.6 3.7,.6-10.3,.6 6,.6-5.5,.6 3.1,.6 4.2,.6-6.2,.6 .8,.6 0,.6-6.5,.6 5.3,.6 1.5,.6-2.8,.6 7.8,.6-9.9,.6 4.2,.6-3.2,.6-2.8,.6 2.2,.6 6.6,.6-5,.6 4.7,.6-6,.6 4.6,.6 2.7,.6 .2,.6-6.7,.6 5.3,.6 4.2,.6-6.5,.6-1.8,.6-.8,.6-1,.6-4.5,.6 5.1,.6 10.5,.6-6.7,.6-.3,.6-.4,.6-3.7,.6 9.8,.6-10.5,.6 .1,.6-3,.6 6.5,.6-3.7,.6 11.3,.6-9.9,.6-1.4,.6 2.8,.6 0,.6 5.1,.6-1.2,.6 5,.6 .5,.6-4.1,.6 4,.6-7.3,.6-1.5,.6-.3,.6 1.8,.6 4.9,.6-15.1,.6 6,.6-3.5,.6 2.4,.6 12.1,.6-11.9,.6 4.1,.6-1.1,.6-5.2,.6 .3,.6 8.4,.6 .9,.6-5.5,.6 7.6,.6-3.5,.6 1.8,.6-2,.6 .3,.6 3.7,.6 .7,.6-6,.6 2.9,.6 1.6,.6-5.1,.6 4.6,.6-3.9,.6 2.7,.6 1.3,.6-10.6,.6 2.6,.6-1,.6 .8,.6 1.5,.6 3.1,.6 1.5,.6-2.5,.6 1.5,.6-3,.6-4.9,.6 5.6,.6-6.1,.6 6.6,.6-4.8,.6 7.6,.6-6.1,.6-3.3,.6 13.2,.6-7.8,.6 4.3,.6-2.5,.6-.7,.6 7.3,.6-6.3,.6-4.8,.6 2.9,.6-7.9,.6 2.9,.6 1,.6-1,.6 6.3,.6-8.9,.6 16.9,.6-6.4,.6 8.5,.6-5.9,.6 .4,.6-4.7,.6-1.4,.6 3.3,.6-5.7,.6 5.2,.6-1.4,.6-3.1,.6 2.2,.6 4.7,.6-2.7,.6-8.2,.6 4.8,.6 .3,.6-3.8,.6 8.4,.6-1.4,.6 1.1,.6 0,.6-3.3,.6 1.5,.6-4.5,.6 4.7,.6-6.4,.6 6.3,.6 4.7,.6-4.1,.6-1.2,.6-.6,.6-.1,.6 .6,.6 5.3,.6-1.8,.6 3.1,.6-3.3,.6-.5,.6-3.4,.6 3.5,.6-3.1,.6 .8,.6-2.9,.6 9.4,.6-4.2,.6 1.9,.6-2.8,.6-2.8,.6 .7,.6-.1,.6-7.1,.6-5.1,.6 6.7,.6 6.3,.6 3.3,.6 2.4,.6-9.1,.6 .5,.6 1,.6 .7,.6 3.5,.6-5.4,.6 5.3,.6-2.6,.6-6,.6 7.4,.6-2.9,.6-6.6,.6 3.2,.6 .1,.6 .7,.6 8,.6 .3,.6-.8,.6 1.8,.6-3.1,.6-.5,.6-6.1,.6 5.3,.6-2.9,.6-.5,.6 .2,.6 4,.6-4.3,.6 1.4,.6 3.4,.6 3.1,.6-5.7,.6-1.4,.6 1.3,.6-2.8,.6 1.2,.6 4.3,.6-5.4,.6 9.5,.6-6.5,.6-3.2,.6 6.2,.6-6,.6 .9,.6-.2,.6 0,.6-.1,.6-8,.6 3.3,.6 1.7,.6 3.4,.6-1.3,.6-6.2,.6 2.1,.6 1.8,.6 7.3,.6 0,.6-6.7,.6 2.9,.6 .6,.6 1.5,.6 1.8,.6-.2,.6-1.6,.6-3.5,.6 4.7,.6-4.8,.6-.4,.6 .8,.6-1.1,.6 3,.6-4,.6-.3,.6-1.1,.6 4.4,.6-1.7,.6-.7,.6 9.9,.6-2.6,.6-3.1,.6 .1,.6 2.9,.6-.8,.6-2.9,.6-3,.6 8.8,.6-4.2,.6-3,.6 .5,.6-6.9,.6 4.5,.6 1.2,.6 4.4,.6-6.5,.6 4.4,.6 5.5,.6-7.1,.6 6.2,.6-7.1,.6 2.5,.6-2.2,.6 6.6,.6-4.9,.6 8.1,.6-7.7,.6-4.6,.6 .5,.6 1.4,.6 4.4,.6-3.5,.6 3.2,.6 1.3,.6-.6,.6-.1,.6-7.5,.6 5.7,.6-4.8,.6-1.2,.6-1,.6 1.8,.6 1.1,.6-.6,.6 6,.6 0,.6 3.3,.6-.8,.6 2.2,.6-2,.6-1.5,.6 .5,.6 2.3,.6 2,.6-9.4,.6 1.2,.6-2.6,.6 1,.6-9.6,.6 7.6,.6 6.3,.6-6,.6 6.5,.6-1.8,.6 2.4,.6 .1,.6-3.5,.6-3.2,.6-.3,.6 1.8,.6 6.1,.6-2.3,.6 7.1,.6 1.1,.6-6.6,.6-1.6,.6-3.8,.6 5.1,.6-1.2,.6-2.7,.6 2.9,.6-5.4,.6 1.1,.6 9.3,.6-4.4,.6 2,.6-.1,.6-4.8,.6 6.1,.6 .6,.6 .8,.6 4.4,.6-5,.6-3.7,.6 1.6,.6-5.6,.6 .2,.6 10.2,.6-6.1,.6 7,.6-.2,.6-3.2,.6-1.1,.6-.9,.6 6.4,.6-8,.6 0,.6-3.3,.6 12.1,.6 5.3,.6-2.7,.6-4.9,.6-5.1,.6 1.2,.6 1.5,.6-1.9,.6 3,.6-1.6,.6 3,.6 8.3,.6-15.8,.6 8.3,.6-11.3,.6 8.2,.6 1.4,.6-1.5,.6 3.5,.6 5.3,.6-6.3,.6 3.4,.6-.5,.6 1.2,.6-2.4,.6 .3,.6 2.4,.6-5,.6 .5,.6 4.4,.6 2.3,.6 2.4,.6-7.6,.6 .9,.6 1.2,.6 3.4,.6-3.9,.6 3.2,.6-3,.6-1.1,.6 10.6,.6 12.6,.6-6.3,.6-6.3,.6-11.1,.6-2.2,.6-3.3,.6 5,.6 7.2,.6-9.1,.6-3.4,.6 .2,.6 0,.6 3.8,.6 0,.6 5.1,.6-1,.6-1.2,.6-.3,.6-.8,.6-1.2,.6 1.9,.6 2.4,.6 3.9,.6 .9,.6-.9,.6-.2,.6-4.9,.6-1.4,.6 3.1,.6-5.3,.6 9.1,.6-1.6,.6-3.9,.6-7.4,.6 11.2,.6 5.1,.6 .2,.6-3.1,.6-1.3,.6 .9,.6 2.1,.6-5.9,.6-.4,.6 6.4,.6-5,.6-4.3,.6-.9,.6-2.8,.6 6.8,.6-7.1,.6 4,.6 .1,.6 6.6,.6-4.7,.6-7,.6 3.8,.6 1.9,.6-6.7,.6 4.6,.6 5.2,.6 3,.6-10.1,.6 1.3,.6-1.3,.6-4.8,.6 7.2,.6-1.3,.6-2.5,.6 6.4,.6-4.8,.6-.9,.6 1.1,.6 2.7,.6-3.2,.6-5.1,.6 1.5,.6 6.8,.6 .3,.6-3.6,.6-3.7,.6-1.5,.6 3.8,.6-2.9,.6 4.1,.6-14.7,.6 4.7,.6 2.5,.6-2.1,.6 4.1,.6 3.4,.6-5,.6 3.1,.6-3.5,.6-7.7,.6 12,.6-1.5,.6-.6,.6 1.4,.6-4.5,.6 6,.6-13.8,.6 8.5,.6-7.4,.6 2.4,.6 4.2,.6 1.4,.6 .7,.6-4.4,.6 10.9,.6-1.3,.6-.7,.6 2.5,.6-2.4,.6 3.5,.6 5.1,.6-1.1,.6-3.4,.6-3.8,.6 2,.6 4.2,.6-1.3,.6-5.9,.6-2.8,.6 2.6,.6 1.9,.6-2.7,.6-2.8,.6 7.3,.6-2.6,.6-1.6,.6 7.7,.6 4.9,.6-3.2,.6-1.8,.6 4.3,.6-2.4,.6-3.4,.6 3.2,.6-3,.6-4.2,.6 4.8,.6 2.6,.6-3.4,.6 4.6,.6-8.1,.6 3.4,.6-4.4,.6 2.5,.6 3.7,.6 2.4,.6-7,.6 4.8,.6 3.8,.6-.2,.6-5.5,.6 2.3,.6-2.6,.6-2.1,.6 8.2,.6-1.8,.6 8.8,.6-6.2,.6-1.2,.6 2,.6-1.9,.6 6.3,.6-5.3,.6-.5,.6-3.3,.6 2.5,.6 .4,.6-.6,.6 8.3,.6-1.4,.6-3.4,.6-.7,.6 2,.6-.3,.6-2.3,.6-3.4,.6 3.2,.6-4.2,.6 2.2,.6-1,.6-2.7,.6 5,.6-4.4,.6 6.9,.6-.5,.6 1.4,.6 5.1,.6-9.1,.6 11.8,.6-3.9,.6-1.4,.6-2.8,.6 8.2,.6-3.9,.6-6.8,.6 2.9,.6 9.2,.6-11.9,.6 6.8,.6-6.5,.6-.3,.6 5.7,.6 1.9,.6-11.7,.6 4.1,.6 4.5,.6 8.4,.6-9.8,.6 4.6,.6-6.9,.6 6,.6 1.1,.6 2.3,.6-4.9,.6 4.4,.6-8.4,.6 1.2,.6 7.9,.6-2,.6 1.9,.6 2.4,.6-2.2,.6 2.5,.6 .8,.6 4.5,.6-11.4,.6 1.9,.6 12.3,.6-17.5,.6 8.7,.6-3.3,.6 1.1,.6-1.1,.6 11.4,.6-9.5,.6 1.3,.6-12.5,.6 11.6,.6 3.8,.6-5.8,.6 8.4,.6 1.8,.6-10,.6-4,.6 9.4,.6-3.3,.6-7.9,.6 14.3,.6-5.1,.6-3.9,.6-2.8,.6-3.1,.6 5.1,.6 4.2,.6 6.4,.6-4.3,.6-8,.6 6.5,.6 5.7,.6-3.4,.6 10.7,.6-10.1,.6 2.8,.6 6.9,.6-5.5,.6-2.5,.6-2.6,.6-2.8,.6 3.9,.6 5.7,.6 .9,.6-5.5,.6-.9,.6 4.1,.6-6.9,.6 6.1,.6-6.3,.6-8.4,.6 11,.6 .5,.6 .6,.6-.9,.6-.6,.6 6.6,.6-4.1,.6-8.3,.6 2.3,.6 9.1,.6-5.9,.6 .9,.6-19.2,.6 8.9,.6-.7,.6-1,.6-7.8,.6-7.6,.6 8.9,.6 1.7,.6 4.4,.6-6.1,.6 1.1,.6-4,.6 4.4,.6 1.5,.6-11.9,.6 4.3,.6-1.8,.6 .5,.6 1.5,.6-2.9,.6 3.7,.6 1.5,.6 1.3,.6 2.7,.6 0,.6 .6,.6-.3,.6-4,.6-5.5,.6 4.2,.6-2.4,.6-.3,.6 .9,.6 2.9,.6-3.2,.6 8.3,.6-8,.6 56.6,0-3.6-.6-3.7-.6 1.9-.6 .8-.6 8-.6-1.8-.6 21.6-.6 7.9-.6-18.5-.6-11.9-.6-4.7-.6 1.2-.6-4-.6 3.1-.6 6.9-.6 .6-.6-6.6-.6 0-.6 1.9-.6-2.1-.6-3.6-.6 3.5-.6 5.2-.6-1.5-.6 7.7-.6-5.5-.6 10.1-.6-5.6-.6-4-.6-3.8-.6 4.4-.6-.2-.6 4.2-.6-4.2-.6 2.8-.6 .1-.6-23.8-.6 3.7-.6-14.7-.6-9.1-.6-2.3-.6 8.3-.6 4.1-.6-6.6-.6 .6-.6 .9-.6-.6-.6-.5-.6-11-.6 8.4-.6 6.3-.6-6.1-.6 6.9-.6-4.1-.6 .9-.6 5.5-.6-.9-.6-5.7-.6-3.9-.6 2.8-.6 2.6-.6 2.5-.6 5.5-.6-6.9-.6-2.8-.6 10.1-.6-10.7-.6 3.4-.6-5.7-.6-6.5-.6 8-.6 4.3-.6-6.4-.6-4.2-.6 6.5-.6-8.5-.6 2.8-.6 3.9-.6 5.1-.6-14.3-.6 7.9-.6 3.3-.6-9.4-.6 4-.6 10-.6-1.8-.6-8.4-.6 5.8-.6-3.8-.6-11.6-.6 12.5-.6-1.3-.6 9.5-.6-11.4-.6 1.1-.6-1.1-.6 3.3-.6-8.7-.6 17.5-.6-12.3-.6-1.9-.6 11.4-.6-4.5-.6-.8-.6-2.5-.6 2.2-.6-2.4-.6-1.9-.6 2-.6-7.9-.6-1.2-.6 8.4-.6-4.4-.6 4.9-.6-2.3-.6-1.1-.6-6-.6 6.9-.6-4.6-.6 9.8-.6-8.4-.6-4.5-.6-4.1-.6 11.7-.6-1.9-.6 2.9-.6-8.3-.6 6.5-.6-6.8-.6 11.9-.6-9.2-.6-2.9-.6 6.8-.6 3.9-.6-2.1-.6 .6-.6 5.7-.6 12.7-.6 3.6-.6 5.9-.6 3.9-.6-23.1-.6-16-.6-6.9-.6 4.4-.6 7.6-.6 18.7-.6 18.5-.6-8.9-.6-2.2-.6-1-.6-15.7-.6 6.6-.6 4.7-.6 1.3-.6 6-.6-.5-.6 8.7-.6 11.5-.6-11.9-.6-7.8-.6-12.7-.6-11.5-.6 3.5-.6-1.4-.6-.8-.6 4.2-.6 3.3-.6 1.8-.6 14-.6-3.7-.6 1.5-.6 8.7-.6-2.2-.6 1.5-.6 3.5-.6-1.4-.6 7.5-.6-4.5-.6-30.7-.6-18.4-.6 2.7-.6 19.4-.6 15.2-.6 8.7-.6-5.3-.6 8.7-.6 .8-.6-7.3-.6 1.5-.6 6.1-.6-3.4-.6 5.4-.6 8.2-.6-.7-.6 3.4-.6-4.5-.6-1.6-.6-8-.6 9.3-.6 1.2-.6-4.3-.6-2.7-.6 .2-.6-.9-.6-4.6-.6-4.3-.6 3.1-.6 6.9-.6-6.1-.6 .1-.6 3.3-.6 5.4-.6 5.3-.6-1.4-.6-3.4-.6-6.7-.6 3.5-.6-.8-.6 .2-.6 1.5-.6-4-.6 2.3-.6 2-.6 2.4-.6 3.4-.6-2.8-.6-1.5-.6 1.9-.6 1.4-.6-6.2-.6 2.6-.6 7.3-.6-12.6-.6-.4-.6-4.6-.6 3.9-.6 1-.6 1.5-.6-.8-.6 6.6-.6-3.6-.6 4.6-.6-4.1-.6-5.5-.6 6.1-.6-5.8-.6 3.2-.6 2-.6-2.1-.6 7.3-.6-4.7-.6 2.8-.6-5.8-.6-1.4-.6 4.2-.6-10.1-.6 8.4-.6-3.7-.6-4.8-.6 .6-.6 4.9-.6 1.7-.6 4.4-.6-5.7-.6 1.8-.6 7-.6-8.4-.6 6.4-.6 1.1-.6-7.3-.6 2.5-.6 .4-.6-.5-.6-1.4-.6-4.9-.6 4.8-.6-6.7-.6 2.7-.6 5.3-.6 0-.6 10.9-.6-2.5-.6-4.8-.6 .2-.6 4.8-.6-1.3-.6-6-.6 1-.6 .9-.6 0-.6 3.3-.6 3.2-.6 10.9-.6-8.3-.6-5-.6 3.4-.6-6.3-.6 .2-.6-3.9-.6 5.6-.6 2.2-.6-1-.6 4-.6-1.8-.6-2.7-.6 3.9-.6-8.2-.6 1.1-.6 2.7-.6-2.2-.6 3.5-.6-2.9-.6 .7-.6-3.6-.6-.3-.6-3-.6-2.7-.6 1.8-.6 11.1-.6-4.3-.6-8.2-.6 2.4-.6-4.4-.6-.4-.6-3.1-.6 1.2-.6-12.5-.6-3.6-.6 20.7-.6 14.9-.6 11-.6 3.4-.6-16.6-.6-12.5-.6 5.4-.6 7.2-.6-3.3-.6-.3-.6-8.3-.6 2.6-.6 2.5-.6-2.8-.6-5.1-.6 .1-.6 1.9-.6-4.6-.6 12.6-.6-2.7-.6 1.6-.6-.6-.6-2.4-.6 1-.6 1.2-.6-4-.6 5-.6 4-.6-1.6-.6 3.1-.6-4.9-.6-5.2-.6-4.6-.6-7.5-.6 2.5-.6 2.8-.6 15-.6 1.2-.6-5.4-.6-4.3-.6 2.1-.6-4.2-.6 .3-.6 2.4-.6-2.9-.6-4.1-.6-.5-.6 5.1-.6 1.8-.6-4.5-.6-.8-.6-2.4-.6 1-.6 6.4-.6-2.5-.6 2.6-.6 .3-.6 .8-.6-3-.6-7.7-.6 5-.6 1.8-.6-5.7-.6 3.8-.6 5-.6-5.7-.6-2.2-.6 2.5-.6 2.4-.6-6.1-.6 .9-.6-1.5-.6-.2-.6 5.2-.6 4.9-.6-1.9-.6 8.2-.6-5.1-.6-4.1-.6 7.5-.6 13.1-.6 12.1-.6-14.2-.6-4.3-.6-6.5-.6-1.3-.6-7.1-.6 7.3-.6-.6-.6 1.1-.6 4.4-.6-13.8-.6 2.1-.6 .1-.6-1.3-.6 6.6-.6 .1-.6-1.2-.6-1.8-.6 4.7-.6 2.2-.6-.6-.6-.4-.6-4.2-.6-1.2-.6-.3-.6 3.5-.6 .1-.6 1.7-.6-2.9-.6-.9-.6-6.5-.6-2.3-.6 2.9-.6 2.2-.6 4.1-.6 4.8-.6-2.9-.6-2.7-.6 .4-.6 .2-.6-3.2-.6 10.1-.6-2.1-.6-1.3-.6-3.2-.6-6.9-.6-1.4-.6 4.2-.6 7.7-.6 3.3-.6-1.7-.6 2.2-.6-1.5-.6-1.5-.6 3.1-.6-6.4-.6 2.3-.6 19.1-.6 6.3-.6 .2-.6-19.8-.6-9.5-.6 2.4-.6-5-.6 4.7-.6-.6-.6 2.4-.6 2.2-.6-1.3-.6 3.6-.6-5.3-.6-2.4-.6 4.3-.6-1.1-.6-7.1-.6-.8-.6-4.2-.6-.1-.6 5-.6 0-.6-1.9-.6 3.8-.6 4.8-.6-6.8-.6-3.3-.6 3.6-.6-.1-.6-2.1-.6 5.2-.6-2.4-.6-2.1-.6 5-.6 1.2-.6-.7-.6 .3-.6 4.1-.6 1.2-.6-2.6-.6-3.9-.6 2.1-.6 1.8-.6-4.2-.6-2.3-.6 0-.6 1.5-.6-4.7-.6 2-.6 3-.6-.7-.6 3.4-.6-3.2-.6 1.1-.6 4.1-.6-6.8-.6 1.4-.6 2.6-.6-5.5-.6 2.1-.6-.5-.6 .6-.6-1.5-.6 3.8-.6-2.6-.6 2.9-.6 .9-.6 1.8-.6-4.3-.6-4.9-.6 4.3-.6-1.7-.6 7.4-.6-.1-.6-5.3-.6-5.3-.6 3.1-.6 1-.6-.7-.6 10.1-.6 10.7-.6-5.7-.6-11.4-.6-2.7-.6-13.1-.6 12.4-.6-2.9-.6-3.6-.6-2.2-.6-6-.6 3-.6 7.1-.6-.3-.6-8.8-.6 4.2-.6 1.3-.6 4.3-.6-4-.6 .8-.6-1.9-.6 2.6-.6-1.8-.6 5.3-.6 10.6-.6 14-.6-24-.6-6.6-.6-.7-.6 6.7-.6-.5-.6 .1-.6-2.6-.6-8.8-.6-1.6-.6 6.7-.6 1.9-.6-.9-.6-3.7-.6 1.9-.6-1.8-.6 1.6-.6-4.8-.6 5-.6 4.2-.6-6.9-.6-.3-.6 5.4-.6-11.2-.6 13.5-.6-1.9-.6-4.3-.6 0-.6 2.9-.6 1.7-.6-.5-.6 1.7-.6 2.2-.6-9-.6 4.2-.6 2.6-.6 9.4-.6 18-.6 12.1-.6-25.7-.6-9.9-.6-4.7-.6 3.9-.6 2.6-.6-7.5-.6-7.2-.6 2.8-.6 .1-.6-6.3-.6 .2-.6 1.3-.6 7.5-.6 1.7-.6-5.4-.6 5.8-.6-1.7-.6 0-.6 3.1-.6 3.9-.6 .4-.6-3.9-.6 .2-.6-.5-.6 1.4-.6 3.4-.6 1.8-.6-7.1-.6-.1-.6-3.7-.6-.8-.6 3.6-.6 6.3-.6-3.6-.6 2.2-.6 1.9-.6-6.4-.6 5.1-.6-10.5-.6 9.4-.6-.2-.6-2.4-.6 8.7-.6-4-.6 .1-.6-2.3-.6-9.3-.6 3.2-.6-2.4-.6 5.3-.6-3-.6-13.4-.6-9.9-.6-6.6-.6 8.4-.6 14.9-.6 3.9-.6 5.7-.6-5.9-.6 .2-.6 0-.6 10.6-.6-6.4-.6 2-.6 6-.6-5.3-.6-3.1-.6-.1-.6 5.1-.6 2.2-.6-.5-.6-6.8-.6 2.9-.6-6-.6 1.5-.6 1.3-.6 3.1-.6-1.9-.6-1.2-.6 1.9-.6-1.1-.6-4.5-.6 3.6-.6 4.2-.6-.1-.6-3.2-.6 7.1-.6-7.7-.6 1.2-.6-4.5-.6 1.5-.6-1-.6-4.2-.6-1.4-.6-1-.6 11.1-.6-6-.6 6.1-.6 2.6-.6-3.2-.6-.3-.6 2.4-.6 6.8-.6-3.8-.6-1.6-.6-5.1-.6 3.9-.6 2.1-.6-4-.6-2.1-.6 3.5-.6-7-.6 4.4-.6-2.6-.6 6-.6-.9-.6-4.3-.6 5.6-.6 1.1-.6 .9-.6-1.7-.6-3.7-.6-1.7-.6 .8-.6 4.5-.6 1.5-.6-.5-.6 .3-.6 .5-.6 .3-.6-2.9-.6 2.1-.6-1.1-.6-5-.6 3-.6-1.7-.6 11.2-.6 3.7-.6-.6-.6-9.9-.6-4-.6-1-.6-.5-.6 3.9-.6 2.9-.6-3.2-.6 4.6-.6-2-.6-1.6-.6 1.4-.6-4-.6-1.7-.6 .8-.6 .9-.6-1.2-.6 5.6-.6-11.2-.6 1.5-.6 2.6-.6 1.2-.6 2.1-.6-11.5-.6 4.4-.6-3.9-.6 7.9-.6-3.8-.6-.1-.6-2.5-.6 2.4-.6 1-.6-3.7-.6 6.4-.6 .1-.6-.6-.6 1-.6 4.5-.6-2.8-.6 3.3-.6-2.9-.6 2.6-.6 2.1-.6-5.3-.6 1.3-.6 .2-.6-9.3-.6 7.8-.6-4-.6 3-.6-6-.6 .9-.6-.8-.6 5.9-.6 3.8-.6-4.5-.6-4.4-.6 2.9-.6 10.6-.6-11.5-.6-.6-.6 1.6-.6-11.3-.6 3.9-.6 1.7-.6 7.8-.6-7.1-.6 4.1-.6 .5-.6 5.8-.6 3.5-.6-5.1-.6 .9-.6-.1-.6-4.7-.6-.5-.6-11.7-.6-13-.6 2.6-.6 3.8-.6 8.7-.6 5.9-.6 2.2-.6-1.9-.6 10.1-.6-1.1-.6-5.5-.6-1.9-.6 2-.6-1.6-.6-6.8-.6 2.5-.6 1-.6 6.6-.6-.5-.6 4.1-.6-4.1-.6-.3-.6-1.8-.6-3.5-.6 7.8-.6-3.5-.6 1.4-.6 2.3-.6-4.1-.6-2.2-.6 5.1-.6 2.3-.6-.5-.6-3.8-.6 1.3-.6-7-.6 1.1-.6 2.6-.6-.2-.6-4.1-.6-1.3-.6 5.8-.6 3-.6 .9-.6 0-.6-1.9-.6 3.4-.6 5.2-.6-1.1-.6 2.2-.6-5.1-.6-6.8-.6 13.9-.6-4.5-.6 2.9-.6-2.5-.6-1.1-.6 3-.6-2.2-.6 4.9-.6-1.6-.6-8.8-.6-3.2-.6 2.3-.6 5.8-.6-6.7-.6 2.6-.6 1.7-.6 5.2-.6 2.3-.6 2.4-.6-6.3-.6 3-.6 10.2-.6-2.6-.6-4.8-.6-6.4-.6-2.2-.6-.5-.6 3.1-.6-3.5-.6 4.3-.6 5.7-.6-7.1-.6-2.2-.6 2.4-.6-2.7-.6-4.5-.6-.5-.6 .5-.6 .9-.6 4.7-.6-4.1-.6-2.2-.6 7.2-.6 .7-.6-.1-.6-1.2-.6-6.2-.6 5.1-.6-2.6-.6 2.3-.6 .3-.6-1.3-.6-4.1-.6-.5-.6 0-.6 6.6-.6-.3-.6-2.4-.6-12-.6 5.2-.6 .5-.6 1.2-.6 2-.6 .5-.6-1.2-.6 1.4-.6-3.4-.6 4.6-.6 2.6-.6 .7-.6 .8-.6-.1-.6-8.6-.6 1.2-.6 2.8-.6 3.4-.6-6.7-.6-2.5-.6 1.8-.6-3.1-.6-2.6-.6 .1-.6 3.7-.6-5.5-.6 2.2-.6 5-.6-11.6-.6 9.8-.6 3.8-.6 6.4-.6-7.6-.6-4.5-.6-5.6-.6 2.5-.6-1.1-.6 2.7-.6 2.1-.6 4.3-.6-6-.6-2-.6-5.3-.6-24.6-.6-8.3-.6 9.2-.6 30.9-.6 .8-.6-1.2-.6 .8-.6 5.7-.6 1.3-.6-8.3-.6 4.2-.6 1.5-.6-8-.6 2.6-.6-.5-.6 2.2-.6 3.4-.6-1.4-.6 2.9-.6 .4-.6 .1-.6 .5-.6-.2-.6-2.9-.6-.6-.6 3.5-.6 5.9-.6 11.5-.6 12.9-.6-14.7-.6-4.2-.6-14.9-.6 7-.6-.9-.6-6.1-.6 3.7-.6-3-.6 4.9-.6-3.2-.6-1.7-.6 7.7-.6-.4-.6-1.5-.6-4.4-.6 4.4-.6-1.9-.6-4.8-.6 4.7-.6 1.2-.6 4.7-.6-5.4-.6 .6-.6 3.8-.6-3.7-.6-2.3-.6-2.1-.6 4.2-.6 .4-.6 2.1-.6-7-.6-2.4-.6 4.4-.6 .6-.6-14.3-.6-8-.6-8.8-.6 16.8-.6 9.5-.6 2.3-.6 .6-.6-5.1-.6-2.8-.6 6-.6-1-.6-2-.6 5.2-.6-8.7-.6 5.7-.6 4.5-.6-9.8-.6 3.7-.6 1.6-.6-1.7-.6-1.4-.6 9.7-.6 3-.6-1.8-.6-2.8-.6-1.2-.6 1.8-.6 .6-.6 3-.6-3-.6 2.6-.6-16-.6 3.4-.6 3-.6 6.4-.6-5.9-.6 4.6-.6-7.9-.6 2.9-.6 17.7-.6-36.5-.6 14.2-.6-27.4-.6 6-.6-1.7-.6-.6-.6-1.7-.6 3.6-.6 7.5-.6-6.7-.6 1-.6-5.4-.6 7.6-.6-4.6-.6-2.5-.6 1.5-.6 2.2-.6-10.4-.6 8.6-.6 2.5-.6 9.1-.6 18.5-.6 17.3-.6 8.7-.6-32.9-.6-16.7-.6-1.3-.6 4.3-.6 2.7-.6 15.7-.6 5.6-.6 10.6-.6-13.6-.6 14.8-.6-8.4-.6-8.8-.6-6-.6-11.8-.6-2.5-.6-12.5-.6-9.1-.6 9.6-.6-8.5-.6-2.5-.6 5.1-.6 1-.6-2.3-.6-5.7-.6 7.6-.6 1-.6 .5-.6 6.6-.6-.1-.6 6.4-.6-8.9-.6 7.2-.6 2.1-.6-4.5-.6-.4-.6-.8-.6 1.7-.6 1.8-.6-8.5-.6 7.9-.6-.9-.6-4.6-.6 4.2-.6-7.2-.6-3.6-.6 7.9-.6 3.9-.6-5.2-.6 2.2-.6-3-.6-6.1-.6 7-.6 3.7-.6-3.3-.6-2.6-.6 10.8-.6-7.7-.6 2.7-.6-.6-.6-1.6-.6-1.9-.6 3.3-.6-1.6-.6-1-.6-5.5-.6 7.5-.6 2.3-.6-3.3-.6 8.8-.6-8-.6 8.6-.6-5.7-.6 5.8-.6-3.8-.6 3.6-.6-14.5-.6-2.4-.6 1-.6-.8-.6 6-.6 1.8-.6 4.9-.6-12.4-.6-.3-.6 4.4-.6-.1-.6 8.3-.6-8.7-.6 3.4-.6 6.7-.6-8-.6 8.3-.6-.5-.6 1.7-.6 2.8-.6 0-.6 1.9-.6 .6-.6-6.2-.6 4.5-.6 1-.6-.2-.6 3.8-.6 4.8-.6 1.5-.6 3.2-.6-7.3-.6 5.5-.6 4.8-.6-.6-.6 1.8-.6-4-.6 3.3-.6 .3-.6 .5-.6-2.1-.6 .7-.6 5.8-.6 .4-.6-2.2-.6 2.6-.6 5.2-.6-9.2-.6-6.3-.6 .5-.6 6.6-.6-.9-.6-3.3-.6 4.4-.6 1.8-.6-2.6-.6-1-.6-.4-.6 4.1-.6-2.8-.6 3.8-.6 3.3-.6-1.5-.6 1.6-.6-1.2-.6-4.5-.6 8.9-.6-7.7-.6 2.3-.6-.4-.6-7.2-.6 3.6-.6 3.5-.6 .1-.6 4.3-.6 .5-.6-6.8-.6 4.1-.6 1.4-.6 .7-.6-1.7-.6 2.9-.6-.1-.6-3.4-.6 1.7-.6-2.9-.6 .4-.6 2-.6 .3-.6 4.8-.6 3.3-.6 .8-.6 5.6-.6-6.9-.6-2.7-.6-1.8-.6-3.2-.6-1.1-.6 .8-.6 4.7-.6-4.2-.6 1.9-.6-5.5-.6 2.8-.6-2.4-.6 1.5-.6 0-.6-2.4-.6-1.3-.6 5.8-.6-.4-.6-.8-.6 2.9-.6 3.9-.6 0-.6-.3-.6 7.4-.6-4.6-.6-1-.6-3-.6-3.3-.6 .4-.6-3.8-.6 1.5-.6-1-.6 3.2-.6-4.4-.6-1.9-.6-1.7-.6 1.8-.6 7-.6-.1-.6 1.5-.6-.5-.6-7.8-.6 6.4-.6-7.7-.6-2.2-.6-3.8-.6 5-.6 1.8-.6 .6-.6-3.9-.6-.6-.6 7-.6 3.6-.6-4.7-.6-3.7-.6 6.1-.6-8-.6 2.5-.6-6.7-.6 12.1-.6-8.6-.6-.2-.6 3.6-.6-2.8-.6 2.7-.6-5.8-.6-2.4-.6-4.8-.6 5.1-.6 9.4-.6-3.9-.6-4.4-.6 2.1-.6-2.6-.6 7.1-.6-6.9-.6 1.8-.6-2.4-.6 1.5-.6 2.3-.6 10.8-.6-3-.6-5.1-.6-5.8-.6 1.1-.6-.5-.6 2.6-.6-3-.6 1.6-.6-2-.6-1.4-.6 1.9-.6-4.5-.6 3.7-.6-4.1-.6 1-.6-.3-.6 6.3-.6 2.6-.6-6.4-.6 11.3-.6-1-.6-1.3-.6-4.5-.6-6.8-.6 2.8-.6 2.6-.6-2.1-.6 2.6-.6-.2-.6-6.5-.6-1.5-.6 5.6-.6 1.1-.6 2.6-.6 4.6-.6-5.4-.6-5-.6-7.8-.6 3.5-.6 6.1-.6-5.7-.6 5.6-.6-3.3-.6-1.6-.6 .1-.6 3.1-.6-4.6-.6-3.9-.6 4.8-.6 .8-.6-.5-.6-.5-.6-4.2-.6 12-.6-.9-.6-3.7-.6-6.1-.6 4.5-.6-.7-.6 2.7-.6 4.5-.6 1.1-.6 1.9-.6 3.9-.6-12.6-.6 1.3-.6 2.5-.6 4.7-.6 2.7-.6-4-.6 2.3-.6-6.6-.6-.3-.6-.5-.6 1.4-.6-5.4-.6 7.8-.6-4-.6 1.8-.6-2.7-.6 .3-.6 1.7-.6-1.3-.6-1.2-.6 5.8-.6 8.1-.6 19.3-.6-3.9-.6-10.4-.6-1.8-.6-2.1-.6-4.3-.6-1.3-.6-.4-.6-3.2-.6 7.9-.6-5-.6 2.6-.6 3.3-.6 10.7-.6 3.7-.6 21.1-.6-15.9-.6-7.4-.6-18.8-.6 3.3-.6 3.4-.6-3.4-.6 1.2-.6-2.5-.6 3.2-.6-.5-.6 4-.6 3.3-.6-4.2-.6 2.3-.6 .2-.6 .3-.6 2.4-.6-3.1-.6 3.3-.6-12.4-.6 4.9-.6-1.8-.6-3-.6 4.8-.6-3.6-.6 2.7-.6-4-.6-3.6-.6 1.3-.6 2.7-.6-8.6-.6-26.8-.6 6.6-.6 10.7-.6 10.2-.6 3-.6 2.6-.6-4.6-.6 .1-.6 4.4-.6-7.9-.6-8.3-.6 3.8-.6 5.7-.6-1.7-.6-5.1-.6-6-.6 13.6-.6-8.8-.6-1.4-.6 3.3-.6 1.2-.6-10.9-.6 11.1-.6-2.7-.6-5-.6 5.3-.6-5.8-.6 8.7-.6 3.1-.6-6.1-.6-3.3-.6 0-.6 .9-.6 1.3-.6 2.1-.6-1.6-.6 5.5-.6-2-.6 .7-.6 2.4-.6-3.6-.6 1.9-.6-5.9-.6-3.2-.6 .8-.6 .4-.6-4.3-.6 4.9-.6-1.4-.6 3.5-.6-7.6-.6 4.8-.6-.8-.6 2.3-.6z"/><clipPath id="gclip"><use href="#gfill"/></clipPath></defs>
<use href="#gfill" fill="#9ddc9c"/>
<path d="M648.3,162l7,.6-7,.6-5.1,.6-.7,.6 5.7,.6-6.1,.6-2.8,.6-.6,.6-.5,.6-1.9,.6 1.7,.6-4.7,.6 1.2,.6-2.7,.6-1.6,.6 3.8,.6 2.9,.6-3,.6-4.2,.6-2.1,.6 1.9,.6 1.8,.6 1.7,.6-2.9,.6-8.3,.6 5.9,.6-1.4,.6 2.9,.6-3.8,.6 5.9,.6-3,.6 5,.6 1.2,.6 3.9,.6-1.6,.6 1.6,.6 6.3,.6-3.5,.6-2.8,.6-.1,.6 2.3,.6-6.5,.6-2.5,.6 2.5,.6 5.4,.6 1.7,.6 .9,.6 .7,.6-4.6,.6 .5,.6 5.9,.6 7.5,.6 .1,.6 1,.6-4.6,.6 3.2,.6 1.6,.6 3.1,.6 1.9,.6 2.9,.6-8.6,.6-1.1,.6-1.7,.6 .1,.6 4.9,.6 4.7,.6-9.4,.6-2.3,.6 12.3,.6-2.1,.6 .9,.6-.4,.6-5.6,.6-2.9,.6-3.1,.6-.2,.6-.6,.6-.9,.6-3.3,.6-2.5,.6 6.9,.6-9.5,.6-6.2,.6-.4,.6-.2,.6-3,.6 1.7,.6 2.9,.6-1.6,.6 1.5,.6-2.9,.6 2.4,.6 2.6,.6 2.6,.6 4.5,.6-4.2,.6-4.4,.6-3.1,.6 6.1,.6-2.3,.6 6.2,.6-4.4,.6-1.5,.6 9,.6-7.5,.6-3.5,.6 4.4,.6 4.5,.6-2.1,.6 .7,.6-3.6,.6 2,.6 3.9,.6-.7,.6 5.1,.6-1.2,.6 1.2,.6-4.3,.6-3,.6 .8,.6 6,.6-5.6,.6-.3,.6 .1,.6-5.1,.6 4.3,.6-2.1,.6-4.3,.6-3.1,.6 1.1,.6 7.3,.6-3.5,.6 2.9,.6 .9,.6-3.4,.6 3,.6 2.9,.6-4.5,.6-1.8,.6 9.8,.6-2.5,.6 3,.6 4.6,.6-6.5,.6-2.5,.6 1.5,.6 1.3,.6 1.8,.6-3.5,.6-4.4,.6 1.8,.6 .4,.6 3,.6-.2,.6-6.7,.6 .6,.6 3.7,.6 0,.6-.3,.6 .5,.6 4.4,.6-7.9,.6 7.2,.6-1.5,.6 2.8,.6-2.3,.6-8.7,.6 5.2,.6 1,.6-3.7,.6-5.2,.6 4.5,.6-1.6,.6 9.9,.6-.8,.6-3.7,.6-3.2,.6 6.3,.6-3.6,.6-3.6,.6 1.1,.6 1.5,.6 6.8,.6 4.1,.6-5.4,.6-.6,.6-2.1,.6-5.9,.6 3.1,.6-5.3,.6 9.8,.6-6,.6 2.9,.6 1.4,.6 3.6,.6-4.7,.6 3.8,.6-.8,.6 6.3,.6-5.3,.6-7.1,.6 .9,.6-.6,.6 6.1,.6-.7,.6 .2,.6-6.1,.6 1.6,.6-3.6,.6 8.8,.6 .1,.6 .8,.6 .2,.6-4.4,.6 5.6,.6-3.6,.6-1.3,.6 2.5,.6-7,.6 3.8,.6-1,.6-1.8,.6 3.7,.6-2.3,.6-.4,.6 4.3,.6-3.4,.6-.3,.6 5.9,.6 5.6,.6-5.6,.6-1.8,.6 5.5,.6 .4,.6-1.5,.6-1.8,.6-2,.6 1.5,.6-6.4,.6 4.4,.6-7.8,.6 3.5,.6 1.6,.6 7.6,.6-4.3,.6 1.2,.6 .7,.6-4.1,.6 4.1,.6-.6,.6 7.5,.6-7.3,.6-2.4,.6 1.2,.6 1.7,.6 6,.6-3.8,.6-7,.6 3.3,.6 1.2,.6-5.4,.6-2,.6 6.6,.6 3.1,.6 2.5,.6-4.5,.6 1.1,.6 2,.6 .5,.6 1.1,.6-.8,.6-2,.6-7.6,.6 4.5,.6 5.5,.6-2.1,.6-2.2,.6-1.2,.6 .8,.6-1.4,.6-5.6,.6-1,.6 2.6,.6 3.1,.6-1.9,.6 2.3,.6-4.3,.6 7,.6-3.5,.6 .2,.6 2.2,.6-3.5,.6-4.4,.6 1.2,.6-1.6,.6 7.6,.6 1.6,.6-2.1,.6 .4,.6-.1,.6 1.9,.6-6.2,.6 4.9,.6 2.3,.6 1.7,.6-6.9,.6-3.7,.6 5.9,.6-.8,.6 .4,.6 2,.6-.5,.6 2.7,.6 1.3,.6-3,.6-3.1,.6 1,.6 .3,.6-2.8,.6 .3,.6 6.1,.6-.6,.6 .5,.6 3.3,.6-6.9,.6 .7,.6 6.6,.6-.8,.6 2.7,.6-5.8,.6-1.4,.6-3,.6 4,.6 4.4,.6-.5,.6-4.1,.6 3.7,.6-2.9,.6 2.9,.6 2.4,.6 3.6,.6-.5,.6-6.4,.6-1.3,.6-.8,.6 .1,.6 .7,.6-3.1,.6 5.9,.6 6.1,.6-5.7,.6-2.5,.6-2.4,.6 0,.6-5,.6 15.1,.6-14,.6 14.5,.6-4.9,.6-8.1,.6-15.5,.6 12.9,.6-11.4,.6 16.1,.6-3.8,.6 8.4,.6-2.9,.6 3.2,.6-7,.6-1.6,.6 1,.6-6.5,.6 10.5,.6 2,.6-10.4,.6 8.7,.6 2.7,.6-8.5,.6 2.9,.6 4.2,.6-6,.6 18.9,.6-8,.6-4.7,.6 1,.6-24,.6 16.8,.6 4.3,.6-7.9,.6 13.3,.6-3.9,.6 7.1,.6 8.6,.6-5.6,.6 3.3,.6-5.2,.6-6,.6 10.8,.6-7.1,.6-3.8,.6 4,.6-11.4,.6 7.4,.6-5.7,.6 10.3,.6-19.4,.6-1.9,.6 29.9,.6-14.4,.6-17.8,.6 19.4,.6-10,.6 12.9,.6-54.6,.6 19.3,.6 9.5,.6 24.5,.6 6.6,.6-8.2,.6 8.9,.6 4.8,.6-6.3,.6-.8,.6-.8,.6 4.2,.6 4.8,.6 3.7,.6 5.1,.6-9.4,.6 2,.6-.2,.6 0,.6 .2,.6-4.8,.6-.8,.6 6.5,.6-3.7,.6-1.8,.6 3.1,.6-.2,.6-4.9,.6-23.3,.6 30.8,.6-10.6,.6-10,.6 9.3,.6-13.4,.6 1.1,.6-1.6,.6 3.6,.6-41.9,.6 25.7,.6-5.9,.6 17.4,.6 17.3,.6-7.9,.6 9.5,.6 8.7,.6-7.6,.6-4.9,.6 5.3,.6-9.9,.6-6.2,.6 4.1,.6-4.3,.6-3.4,.6-.4,.6 1.7,.6-2.4,.6 8.8,.6-7.4,.6-.9,.6 3.6,.6-7,.6 1.2,.6 4.2,.6 3.9,.6 .9,.6-.9,.6-1.3,.6-1.5,.6 0,.6-2.5,.6 2.6,.6-5.9,.6 7.7,.6-2,.6-1.6,.6 .6,.6-2.2,.6-1.6,.6-1.3,.6 6.1,.6 5.9,.6-10.4,.6 3,.6 1.2,.6-7.7,.6 6.6,.6 .6,.6 5.9,.6-1.6,.6-1.4,.6-2,.6 1.7,.6 3.2,.6 6.6,.6-14.4,.6 4.2,.6 2.1,.6 7.3,.6-2.8,.6-6.9,.6 3.3,.6-7.2,.6 .6,.6 6.4,.6-2.9,.6-2.5,.6 4.3,.6-.5,.6-2.3,.6-.8,.6 7.2,.6-4.6,.6 4.8,.6-8.7,.6 5.3,.6 3,.6-13.7,.6 9.5,.6 2.3,.6 3.3,.6-1.3,.6 1.7,.6 .2,.6-5.6,.6 2.9,.6 2.8,.6-6.1,.6-.5,.6 4.8,.6-1.7,.6 3.4,.6-1.9,.6 7.6,.6-7.3,.6 3.7,.6 .9,.6-12.1,.6-5.6,.6 4.6,.6 3.1,.6 1.3,.6 .3,.6-3.6,.6 3.7,.6-4.4,.6 5,.6-2.6,.6 .2,.6-7.7,.6 18.6,.6-5.1,.6 .6,.6-1.9,.6-3.3,.6 1,.6-2,.6-4.6,.6 5.5,.6 1,.6-7.2,.6 1.8,.6-.6,.6 10.9,.6-8.5,.6-3.6,.6-3.5,.6 7.3,.6 2.1,.6-4.5,.6 5.1,.6-1.4,.6 4,.6-4.1,.6 5.7,.6-5.4,.6-.5,.6 5.2,.6-7.2,.6 3.3,.6 2.3,.6-2.6,.6 6.4,.6-3.7,.6-.9,.6 2.9,.6-10,.6 6.6,.6-.3,.6-2.5,.6 7,.6-6.5,.6-4.2,.6 5,.6-6.4,.6 6.7,.6 1.6,.6-5.3,.6-1.6,.6 5.8,.6 3.6,.6 .4,.6-1.9,.6 1.5,.6-.1,.6-3.4,.6 6.9,.6-1.2,.6-2.5,.6-2,.6 2.7,.6-5.3,.6-2.2,.6 1.2,.6 4.3,.6 .9,.6 3,.6-5.1,.6 4.3,.6-1.1,.6 0,.6 4.3,.6 3.2,.6-6.4,.6 1.2,.6 2.6,.6-4.1,.6 3.4,.6-5.4,.6-1.3,.6 1.9,.6 6.6,.6-5.5,.6-2.7,.6 3.3,.6-4.3,.6-3.4,.6-2.5,.6 5.1,.6 6,.6-6.1,.6 3.1,.6-.8,.6-6,.6-.4,.6 6.1,.6-.4,.6-1.2,.6 .4,.6 5.8,.6-5.1,.6 2,.6-2.1,.6 1.5,.6-3,.6 1.2,.6 1.1,.6-.4,.6 7.8,.6-5.6,.6-3.4,.6 3.6,.6-3.7,.6-2.2,.6 3,.6-1.2,.6 .8,.6 6.7,.6-4,.6 3.1,.6-2.7,.6 3.6,.6 3.9,.6-5.6,.6 2,.6 5,.6-.2,.6-3.2,.6-.8,.6 2.4,.6 .1,.6-4.7,.6-2.4,.6 .6,.6-4.5,.6 1.6,.6 5.4,.6 2.8,.6-3.2,.6-3.7,.6 .7,.6-4.9,.6-1.7,.6 1.4,.6 8.7,.6-4.3,.6 1.1,.6 2,.6-7.6,.6 1.1,.6 5.5,.6-4.2,.6 5,.6-4.4,.6 7.7,.6 5.8,.6-6.7,.6-2,.6-1.3,.6-6.1,.6-.8,.6 9.3,.6-8.4,.6-2.6,.6 2.2,.6 7.3,.6 .7,.6-5.2,.6 4.2,.6-3.8,.6-2.5,.6 1.4,.6 2.7,.6-1.4,.6-6.7,.6 5.3,.6 3,.6-4.2,.6 1.3,.6-6.6,.6 7.5,.6-.7,.6 5.6,.6-.2,.6 .1,.6-2,.6-7.4,.6 5,.6 2.5,.6 0,.6-1.2,.6 5.3,.6-3.8,.6-5.4,.6 2.6,.6-2.6,.6-.9,.6-2.6,.6 5.1,.6-1.9,.6 2.7,.6-2.5,.6 1.8,.6 .3,.6-1.4,.6 2.9,.6 2.3,.6-2.8,.6 .8,.6 4.7,.6-2.5,.6 4.9,.6-10,.6-4.7,.6 4.8,.6 3.8,.6-2.7,.6-.5,.6-2,.6-2.3,.6-1.8,.6 1.8,.6 1.2,.6 2.4,.6 .7,.6-1.4,.6 0,.6 2,.6-5.8,.6-.5,.6 1.9,.6-1.8,.6 4.6,.6-3,.6 2.8,.6 3.6,.6-5.4,.6 8,.6-5.2,.6 3.5,.6 3.7,.6-10.3,.6 6,.6-5.5,.6 3.1,.6 4.2,.6-6.2,.6 .8,.6 0,.6-6.5,.6 5.3,.6 1.5,.6-2.8,.6 7.8,.6-9.9,.6 4.2,.6-3.2,.6-2.8,.6 2.2,.6 6.6,.6-5,.6 4.7,.6-6,.6 4.6,.6 2.7,.6 .2,.6-6.7,.6 5.3,.6 4.2,.6-6.5,.6-1.8,.6-.8,.6-1,.6-4.5,.6 5.1,.6 10.5,.6-6.7,.6-.3,.6-.4,.6-3.7,.6 9.8,.6-10.5,.6 .1,.6-3,.6 6.5,.6-3.7,.6 11.3,.6-9.9,.6-1.4,.6 2.8,.6 0,.6 5.1,.6-1.2,.6 5,.6 .5,.6-4.1,.6 4,.6-7.3,.6-1.5,.6-.3,.6 1.8,.6 4.9,.6-15.1,.6 6,.6-3.5,.6 2.4,.6 12.1,.6-11.9,.6 4.1,.6-1.1,.6-5.2,.6 .3,.6 8.4,.6 .9,.6-5.5,.6 7.6,.6-3.5,.6 1.8,.6-2,.6 .3,.6 3.7,.6 .7,.6-6,.6 2.9,.6 1.6,.6-5.1,.6 4.6,.6-3.9,.6 2.7,.6 1.3,.6-10.6,.6 2.6,.6-1,.6 .8,.6 1.5,.6 3.1,.6 1.5,.6-2.5,.6 1.5,.6-3,.6-4.9,.6 5.6,.6-6.1,.6 6.6,.6-4.8,.6 7.6,.6-6.1,.6-3.3,.6 13.2,.6-7.8,.6 4.3,.6-2.5,.6-.7,.6 7.3,.6-6.3,.6-4.8,.6 2.9,.6-7.9,.6 2.9,.6 1,.6-1,.6 6.3,.6-8.9,.6 16.9,.6-6.4,.6 8.5,.6-5.9,.6 .4,.6-4.7,.6-1.4,.6 3.3,.6-5.7,.6 5.2,.6-1.4,.6-3.1,.6 2.2,.6 4.7,.6-2.7,.6-8.2,.6 4.8,.6 .3,.6-3.8,.6 8.4,.6-1.4,.6 1.1,.6 0,.6-3.3,.6 1.5,.6-4.5,.6 4.7,.6-6.4,.6 6.3,.6 4.7,.6-4.1,.6-1.2,.6-.6,.6-.1,.6 .6,.6 5.3,.6-1.8,.6 3.1,.6-3.3,.6-.5,.6-3.4,.6 3.5,.6-3.1,.6 .8,.6-2.9,.6 9.4,.6-4.2,.6 1.9,.6-2.8,.6-2.8,.6 .7,.6-.1,.6-7.1,.6-5.1,.6 6.7,.6 6.3,.6 3.3,.6 2.4,.6-9.1,.6 .5,.6 1,.6 .7,.6 3.5,.6-5.4,.6 5.3,.6-2.6,.6-6,.6 7.4,.6-2.9,.6-6.6,.6 3.2,.6 .1,.6 .7,.6 8,.6 .3,.6-.8,.6 1.8,.6-3.1,.6-.5,.6-6.1,.6 5.3,.6-2.9,.6-.5,.6 .2,.6 4,.6-4.3,.6 1.4,.6 3.4,.6 3.1,.6-5.7,.6-1.4,.6 1.3,.6-2.8,.6 1.2,.6 4.3,.6-5.4,.6 9.5,.6-6.5,.6-3.2,.6 6.2,.6-6,.6 .9,.6-.2,.6 0,.6-.1,.6-8,.6 3.3,.6 1.7,.6 3.4,.6-1.3,.6-6.2,.6 2.1,.6 1.8,.6 7.3,.6 0,.6-6.7,.6 2.9,.6 .6,.6 1.5,.6 1.8,.6-.2,.6-1.6,.6-3.5,.6 4.7,.6-4.8,.6-.4,.6 .8,.6-1.1,.6 3,.6-4,.6-.3,.6-1.1,.6 4.4,.6-1.7,.6-.7,.6 9.9,.6-2.6,.6-3.1,.6 .1,.6 2.9,.6-.8,.6-2.9,.6-3,.6 8.8,.6-4.2,.6-3,.6 .5,.6-6.9,.6 4.5,.6 1.2,.6 4.4,.6-6.5,.6 4.4,.6 5.5,.6-7.1,.6 6.2,.6-7.1,.6 2.5,.6-2.2,.6 6.6,.6-4.9,.6 8.1,.6-7.7,.6-4.6,.6 .5,.6 1.4,.6 4.4,.6-3.5,.6 3.2,.6 1.3,.6-.6,.6-.1,.6-7.5,.6 5.7,.6-4.8,.6-1.2,.6-1,.6 1.8,.6 1.1,.6-.6,.6 6,.6 0,.6 3.3,.6-.8,.6 2.2,.6-2,.6-1.5,.6 .5,.6 2.3,.6 2,.6-9.4,.6 1.2,.6-2.6,.6 1,.6-9.6,.6 7.6,.6 6.3,.6-6,.6 6.5,.6-1.8,.6 2.4,.6 .1,.6-3.5,.6-3.2,.6-.3,.6 1.8,.6 6.1,.6-2.3,.6 7.1,.6 1.1,.6-6.6,.6-1.6,.6-3.8,.6 5.1,.6-1.2,.6-2.7,.6 2.9,.6-5.4,.6 1.1,.6 9.3,.6-4.4,.6 2,.6-.1,.6-4.8,.6 6.1,.6 .6,.6 .8,.6 4.4,.6-5,.6-3.7,.6 1.6,.6-5.6,.6 .2,.6 10.2,.6-6.1,.6 7,.6-.2,.6-3.2,.6-1.1,.6-.9,.6 6.4,.6-8,.6 0,.6-3.3,.6 12.1,.6 5.3,.6-2.7,.6-4.9,.6-5.1,.6 1.2,.6 1.5,.6-1.9,.6 3,.6-1.6,.6 3,.6 8.3,.6-15.8,.6 8.3,.6-11.3,.6 8.2,.6 1.4,.6-1.5,.6 3.5,.6 5.3,.6-6.3,.6 3.4,.6-.5,.6 1.2,.6-2.4,.6 .3,.6 2.4,.6-5,.6 .5,.6 4.4,.6 2.3,.6 2.4,.6-7.6,.6 .9,.6 1.2,.6 3.4,.6-3.9,.6 3.2,.6-3,.6-1.1,.6 10.6,.6 12.6,.6-6.3,.6-6.3,.6-11.1,.6-2.2,.6-3.3,.6 5,.6 7.2,.6-9.1,.6-3.4,.6 .2,.6 0,.6 3.8,.6 0,.6 5.1,.6-1,.6-1.2,.6-.3,.6-.8,.6-1.2,.6 1.9,.6 2.4,.6 3.9,.6 .9,.6-.9,.6-.2,.6-4.9,.6-1.4,.6 3.1,.6-5.3,.6 9.1,.6-1.6,.6-3.9,.6-7.4,.6 11.2,.6 5.1,.6 .2,.6-3.1,.6-1.3,.6 .9,.6 2.1,.6-5.9,.6-.4,.6 6.4,.6-5,.6-4.3,.6-.9,.6-2.8,.6 6.8,.6-7.1,.6 4,.6 .1,.6 6.6,.6-4.7,.6-7,.6 3.8,.6 1.9,.6-6.7,.6 4.6,.6 5.2,.6 3,.6-10.1,.6 1.3,.6-1.3,.6-4.8,.6 7.2,.6-1.3,.6-2.5,.6 6.4,.6-4.8,.6-.9,.6 1.1,.6 2.7,.6-3.2,.6-5.1,.6 1.5,.6 6.8,.6 .3,.6-3.6,.6-3.7,.6-1.5,.6 3.8,.6-2.9,.6 4.1,.6-14.7,.6 4.7,.6 2.5,.6-2.1,.6 4.1,.6 3.4,.6-5,.6 3.1,.6-3.5,.6-7.7,.6 12,.6-1.5,.6-.6,.6 1.4,.6-4.5,.6 6,.6-13.8,.6 8.5,.6-7.4,.6 2.4,.6 4.2,.6 1.4,.6 .7,.6-4.4,.6 10.9,.6-1.3,.6-.7,.6 2.5,.6-2.4,.6 3.5,.6 5.1,.6-1.1,.6-3.4,.6-3.8,.6 2,.6 4.2,.6-1.3,.6-5.9,.6-2.8,.6 2.6,.6 1.9,.6-2.7,.6-2.8,.6 7.3,.6-2.6,.6-1.6,.6 7.7,.6 4.9,.6-3.2,.6-1.8,.6 4.3,.6-2.4,.6-3.4,.6 3.2,.6-3,.6-4.2,.6 4.8,.6 2.6,.6-3.4,.6 4.6,.6-8.1,.6 3.4,.6-4.4,.6 2.5,.6 3.7,.6-17.4,.6 12.8,.6 4.8,.6 3.8,.6-.2,.6-5.5,.6 2.3,.6-2.6,.6-2.1,.6 8.2,.6-1.8,.6 8.8,.6-6.2,.6-1.2,.6 2,.6-1.9,.6 6.3,.6-5.3,.6-.5,.6-3.3,.6 2.5,.6 .4,.6-.6,.6 8.3,.6-1.4,.6-3.4,.6-.7,.6 2,.6-.3,.6-2.3,.6-3.4,.6 3.2,.6-4.2,.6 2.2,.6-1,.6-2.7,.6-11.6,.6-6.6,.6 19.6,.6 5.6,.6 1.4,.6 5.1,.6-9.1,.6 11.8,.6-3.9,.6-1.4,.6-2.8,.6-4.8,.6-2.6,.6 2.4,.6-7.7,.6 16.8,.6-7.7,.6-1.8,.6-3.1,.6 6.2,.6-13.2,.6-1.3,.6-14.6,.6-5.6,.6 24.4,.6-21.8,.6-13.2,.6 45.6,.6-23.4,.6 7.1,.6-3.7,.6 12.6,.6 9.1,.6-4.1,.6-22.4,.6 6.3,.6 11.1,.6-14.3,.6 4.7,.6 6.5,.6-3.2,.6-3.8,.6-19.5,.6 23,.6 6.9,.6 0,.6-16.1,.6-5.3,.6 18.3,.6 4.9,.6-15,.6 20.6,.6-4.9,.6 7.6,.6-13.5,.6 5.3,.6-15.2,.6 12.4,.6 12.9,.6-21,.6-2.6,.6 1.9,.6-18,.6 23.2,.6-21.6,.6-6.6,.6 28.1,.6-11.4,.6-.1,.6-4.2,.6 30.2,.6-8,.6-.5,.6 4.7,.6 4.6,.6-8.6,.6-12.4,.6 2.4,.6 .3,.6 1.4,.6 17.6,.6-2.9,.6-19.6,.6 18,.6-1.6,.6-8,.6 .4,.6-9.7,.6 13,.6 20.2,.6-25.8,.6 3,.6 4.6,.6-1.3,.6 21.6,.6-50.3,.6 13.9,.6 1.6,.6 7.6,.6 6.6,.6-31.9,.6 6.3,.6 14.8,.6-.9,.6 17.2,.6-9.8,.6 24.3,.6-.7,.6 .9,.6-19.2,.6 8.9,.6-.7,.6-1,.6-7.8,.6-7.6,.6 8.9,.6 1.7,.6 4.4,.6-6.1,.6 1.1,.6-4,.6 4.4,.6 1.5,.6-11.9,.6 4.3,.6-1.8,.6 .5,.6 1.5,.6-2.9,.6 3.7,.6 1.5,.6 1.3,.6 2.7,.6 0,.6 .6,.6-.3,.6-4,.6-5.5,.6 4.2,.6-2.4,.6-.3,.6 .9,.6 2.9,.6-3.2,.6 8.3,.6-8,.6 8-.6-8.3-.6 3.2-.6-2.9-.6-.9-.6 .3-.6 2.4-.6-4.2-.6 5.5-.6 4-.6 .3-.6-.6-.6 0-.6-2.7-.6-1.3-.6-1.5-.6-3.7-.6 2.9-.6-1.5-.6-.5-.6 1.8-.6-4.3-.6 11.9-.6-1.5-.6-4.4-.6 4-.6-1.1-.6 6.1-.6-4.4-.6-1.7-.6-8.9-.6 7.6-.6 7.8-.6 1-.6 .7-.6-8.9-.6 19.2-.6-.9-.6 5.9-.6-9.1-.6-2.3-.6 8.3-.6 4.1-.6-6.6-.6 .6-.6 .9-.6-.6-.6-.5-.6-11-.6 8.4-.6 6.3-.6-6.1-.6 6.9-.6-4.1-.6 .9-.6 5.5-.6-.9-.6-5.7-.6-3.9-.6 2.8-.6 2.6-.6 2.5-.6 5.5-.6-6.9-.6-2.8-.6 10.1-.6-10.7-.6 3.4-.6-5.7-.6-6.5-.6 8-.6 4.3-.6-6.4-.6-4.2-.6-5.1-.6 3.1-.6 2.8-.6 3.9-.6 5.1-.6-14.3-.6 7.9-.6 3.3-.6-9.4-.6 4-.6 10-.6-1.8-.6-8.4-.6 5.8-.6-3.8-.6-11.6-.6 12.5-.6-1.3-.6 9.5-.6-11.4-.6 1.1-.6-1.1-.6 3.3-.6-8.7-.6 17.5-.6-12.3-.6-1.9-.6 11.4-.6-4.5-.6-.8-.6-2.5-.6 2.2-.6-2.4-.6-1.9-.6 2-.6-7.9-.6-1.2-.6 8.4-.6-4.4-.6 4.9-.6-2.3-.6-1.1-.6-6-.6 6.9-.6-4.6-.6 9.8-.6-8.4-.6-4.5-.6-4.1-.6 11.7-.6-1.9-.6-5.7-.6 .3-.6 6.5-.6-6.8-.6 11.9-.6-9.2-.6-2.9-.6 6.8-.6 3.9-.6-8.2-.6 2.8-.6 1.4-.6 3.9-.6-11.8-.6 9.1-.6-5.1-.6-1.4-.6 .5-.6-6.9-.6 4.4-.6-5-.6 2.7-.6 1-.6-2.2-.6 4.2-.6-3.2-.6 3.4-.6 2.3-.6 .3-.6-2-.6 .7-.6 3.4-.6 1.4-.6-8.3-.6 .6-.6-.4-.6-2.5-.6 3.3-.6 .5-.6 5.3-.6-6.3-.6 1.9-.6-2-.6 1.2-.6 6.2-.6-8.8-.6 1.8-.6-8.2-.6 2.1-.6 2.6-.6-2.3-.6 5.5-.6 .2-.6-3.8-.6-4.8-.6 7-.6-2.4-.6-3.7-.6-2.5-.6 4.4-.6-3.4-.6 8.1-.6-4.6-.6 3.4-.6-2.6-.6-4.8-.6 4.2-.6 3-.6-3.2-.6 3.4-.6 2.4-.6-4.3-.6 1.8-.6 3.2-.6-4.9-.6-7.7-.6 1.6-.6 2.6-.6-7.3-.6 2.8-.6 2.7-.6-1.9-.6-2.6-.6 2.8-.6 5.9-.6 1.3-.6-4.2-.6-2-.6 3.8-.6 3.4-.6 1.1-.6-5.1-.6-3.5-.6 2.4-.6-2.5-.6 .7-.6 1.3-.6-10.9-.6 4.4-.6-.7-.6-1.4-.6-4.2-.6-2.4-.6 7.4-.6-8.5-.6 13.8-.6-6-.6 4.5-.6-1.4-.6 .6-.6 1.5-.6-12-.6 7.7-.6 3.5-.6-3.1-.6 5-.6-3.4-.6-4.1-.6 2.1-.6-2.5-.6-4.7-.6 14.7-.6-4.1-.6 2.9-.6-3.8-.6 1.5-.6 3.7-.6 3.6-.6-.3-.6-6.8-.6-1.5-.6 5.1-.6 3.2-.6-2.7-.6-1.1-.6 .9-.6 4.8-.6-6.4-.6 2.5-.6 1.3-.6-7.2-.6 4.8-.6 1.3-.6-1.3-.6 10.1-.6-3-.6-5.2-.6-4.6-.6 6.7-.6-1.9-.6-3.8-.6 7-.6 4.7-.6-6.6-.6-.1-.6-4-.6 7.1-.6-6.8-.6 2.8-.6 .9-.6 4.3-.6 5-.6-6.4-.6 .4-.6 5.9-.6-2.1-.6-.9-.6 1.3-.6 3.1-.6-.2-.6-5.1-.6-11.2-.6 7.4-.6 3.9-.6 1.6-.6-9.1-.6 5.3-.6-3.1-.6 1.4-.6 4.9-.6 .2-.6 .9-.6-.9-.6-3.9-.6-2.4-.6-1.9-.6 1.2-.6 .8-.6 .3-.6 1.2-.6 1-.6-5.1-.6 0-.6-3.8-.6 0-.6-.2-.6 3.4-.6 9.1-.6-7.2-.6-5-.6 3.3-.6 2.2-.6 11.1-.6 6.3-.6 6.3-.6-12.6-.6-10.6-.6 1.1-.6 3-.6-3.2-.6 3.9-.6-3.4-.6-1.2-.6-.9-.6 7.6-.6-2.4-.6-2.3-.6-4.4-.6-.5-.6 5-.6-2.4-.6-.3-.6 2.4-.6-1.2-.6 .5-.6-3.4-.6 6.3-.6-5.3-.6-3.5-.6 1.5-.6-1.4-.6-8.2-.6 11.3-.6-8.3-.6 15.8-.6-8.3-.6-3-.6 1.6-.6-3-.6 1.9-.6-1.5-.6-1.2-.6 5.1-.6 4.9-.6 2.7-.6-5.3-.6-12.1-.6 3.3-.6 0-.6 8-.6-6.4-.6 .9-.6 1.1-.6 3.2-.6 .2-.6-7-.6 6.1-.6-10.2-.6-.2-.6 5.6-.6-1.6-.6 3.7-.6 5-.6-4.4-.6-.8-.6-.6-.6-6.1-.6 4.8-.6 .1-.6-2-.6 4.4-.6-9.3-.6-1.1-.6 5.4-.6-2.9-.6 2.7-.6 1.2-.6-5.1-.6 3.8-.6 1.6-.6 6.6-.6-1.1-.6-7.1-.6 2.3-.6-6.1-.6-1.8-.6 .3-.6 3.2-.6 3.5-.6-.1-.6-2.4-.6 1.8-.6-6.5-.6 6-.6-6.3-.6-7.6-.6 9.6-.6-1-.6 2.6-.6-1.2-.6 9.4-.6-2-.6-2.3-.6-.5-.6 1.5-.6 2-.6-2.2-.6 .8-.6-3.3-.6 0-.6-6-.6 .6-.6-1.1-.6-1.8-.6 1-.6 1.2-.6 4.8-.6-5.7-.6 7.5-.6 .1-.6 .6-.6-1.3-.6-3.2-.6 3.5-.6-4.4-.6-1.4-.6-.5-.6 4.6-.6 7.7-.6-8.1-.6 4.9-.6-6.6-.6 2.2-.6-2.5-.6 7.1-.6-6.2-.6 7.1-.6-5.5-.6-4.4-.6 6.5-.6-4.4-.6-1.2-.6-4.5-.6 6.9-.6-.5-.6 3-.6 4.2-.6-8.8-.6 3-.6 2.9-.6 .8-.6-2.9-.6-.1-.6 3.1-.6 2.6-.6-9.9-.6 .7-.6 1.7-.6-4.4-.6 1.1-.6 .3-.6 4-.6-3-.6 1.1-.6-.8-.6 .4-.6 4.8-.6-4.7-.6 3.5-.6 1.6-.6 .2-.6-1.8-.6-1.5-.6-.6-.6-2.9-.6 6.7-.6 0-.6-7.3-.6-1.8-.6-2.1-.6 6.2-.6 1.3-.6-3.4-.6-1.7-.6-3.3-.6 8-.6 .1-.6 0-.6 .2-.6-.9-.6 6-.6-6.2-.6 3.2-.6 6.5-.6-9.5-.6 5.4-.6-4.3-.6-1.2-.6 2.8-.6-1.3-.6 1.4-.6 5.7-.6-3.1-.6-3.4-.6-1.4-.6 4.3-.6-4-.6-.2-.6 .5-.6 2.9-.6-5.3-.6 6.1-.6 .5-.6 3.1-.6-1.8-.6 .8-.6-.3-.6-8-.6-.7-.6-.1-.6-3.2-.6 6.6-.6 2.9-.6-7.4-.6 6-.6 2.6-.6-5.3-.6 5.4-.6-3.5-.6-.7-.6-1-.6-.5-.6 9.1-.6-2.4-.6-3.3-.6-6.3-.6-6.7-.6 5.1-.6 7.1-.6 .1-.6-.7-.6 2.8-.6 2.8-.6-1.9-.6 4.2-.6-9.4-.6 2.9-.6-.8-.6 3.1-.6-3.5-.6 3.4-.6 .5-.6 3.3-.6-3.1-.6 1.8-.6-5.3-.6-.6-.6 .1-.6 .6-.6 1.2-.6 4.1-.6-4.7-.6-6.3-.6 6.4-.6-4.7-.6 4.5-.6-1.5-.6 3.3-.6 0-.6-1.1-.6 1.4-.6-8.4-.6 3.8-.6-.3-.6-4.8-.6 8.2-.6 2.7-.6-4.7-.6-2.2-.6 3.1-.6 1.4-.6-5.2-.6 5.7-.6-3.3-.6 1.4-.6 4.7-.6-.4-.6 5.9-.6-8.5-.6 6.4-.6-16.9-.6 8.9-.6-6.3-.6 1-.6-1-.6-2.9-.6 7.9-.6-2.9-.6 4.8-.6 6.3-.6-7.3-.6 .7-.6 2.5-.6-4.3-.6 7.8-.6-13.2-.6 3.3-.6 6.1-.6-7.6-.6 4.8-.6-6.6-.6 6.1-.6-5.6-.6 4.9-.6 3-.6-1.5-.6 2.5-.6-1.5-.6-3.1-.6-1.5-.6-.8-.6 1-.6-2.6-.6 10.6-.6-1.3-.6-2.7-.6 3.9-.6-4.6-.6 5.1-.6-1.6-.6-2.9-.6 6-.6-.7-.6-3.7-.6-.3-.6 2-.6-1.8-.6 3.5-.6-7.6-.6 5.5-.6-.9-.6-8.4-.6-.3-.6 5.2-.6 1.1-.6-4.1-.6 11.9-.6-12.1-.6-2.4-.6 3.5-.6-6-.6 15.1-.6-4.9-.6-1.8-.6 .3-.6 1.5-.6 7.3-.6-4-.6 4.1-.6-.5-.6-5-.6 1.2-.6-5.1-.6 0-.6-2.8-.6 1.4-.6 9.9-.6-11.3-.6 3.7-.6-6.5-.6 3-.6-.1-.6 10.5-.6-9.8-.6 3.7-.6 .4-.6 .3-.6 6.7-.6-10.5-.6-5.1-.6 4.5-.6 1-.6 .8-.6 1.8-.6 6.5-.6-4.2-.6-5.3-.6 6.7-.6-.2-.6-2.7-.6-4.6-.6 6-.6-4.7-.6 5-.6-6.6-.6-2.2-.6 2.8-.6 3.2-.6-4.2-.6 9.9-.6-7.8-.6 2.8-.6-1.5-.6-5.3-.6 6.5-.6 0-.6-.8-.6 6.2-.6-4.2-.6-3.1-.6 5.5-.6-6-.6 10.3-.6-3.7-.6-3.5-.6 5.2-.6-8-.6 5.4-.6-3.6-.6-2.8-.6 3-.6-4.6-.6 1.8-.6-1.9-.6 .5-.6 5.8-.6-2-.6 0-.6 1.4-.6-.7-.6-2.4-.6-1.2-.6-1.8-.6 1.8-.6 2.3-.6 2-.6 .5-.6 2.7-.6-3.8-.6-4.8-.6 4.7-.6 10-.6-4.9-.6 2.5-.6-4.7-.6-.8-.6 2.8-.6-2.3-.6-2.9-.6 1.4-.6-.3-.6-1.8-.6 2.5-.6-2.7-.6 1.9-.6-5.1-.6 2.6-.6 .9-.6 2.6-.6-2.6-.6 5.4-.6 3.8-.6-5.3-.6 1.2-.6 0-.6-2.5-.6-5-.6 7.4-.6 2-.6-.1-.6 .2-.6-5.6-.6 .7-.6-7.5-.6 6.6-.6-1.3-.6 4.2-.6-3-.6-5.3-.6 6.7-.6 1.4-.6-2.7-.6-1.4-.6 2.5-.6 3.8-.6-4.2-.6 5.2-.6-.7-.6-7.3-.6-2.2-.6 2.6-.6 8.4-.6-9.3-.6 .8-.6 6.1-.6 1.3-.6 2-.6 6.7-.6-5.8-.6-7.7-.6 4.4-.6-5-.6 4.2-.6-5.5-.6-1.1-.6 7.6-.6-2-.6-1.1-.6 4.3-.6-8.7-.6-1.4-.6 1.7-.6 4.9-.6-.7-.6 3.7-.6 3.2-.6-2.8-.6-5.4-.6-1.6-.6 4.5-.6-.6-.6 2.4-.6 4.7-.6-.1-.6-2.4-.6 .8-.6 3.2-.6 .2-.6-5-.6-2-.6 5.6-.6-3.9-.6-3.6-.6 2.7-.6-3.1-.6 4-.6-6.7-.6-.8-.6 1.2-.6-3-.6 2.2-.6 3.7-.6-3.6-.6 3.4-.6 5.6-.6-7.8-.6 .4-.6-1.1-.6-1.2-.6 3-.6-1.5-.6 2.1-.6-2-.6 5.1-.6-5.8-.6-.4-.6 1.2-.6 .4-.6-6.1-.6 .4-.6 6-.6 .8-.6-3.1-.6 6.1-.6-6-.6-5.1-.6 2.5-.6 3.4-.6 4.3-.6-3.3-.6 2.7-.6 5.5-.6-6.6-.6-1.9-.6 1.3-.6 5.4-.6-3.4-.6 4.1-.6-2.6-.6-1.2-.6 6.4-.6-3.2-.6-4.3-.6 0-.6 1.1-.6-4.3-.6 5.1-.6-3-.6-.9-.6-4.3-.6-1.2-.6 2.2-.6 5.3-.6-2.7-.6 2-.6 2.5-.6 1.2-.6-6.9-.6 3.4-.6 .1-.6-1.5-.6 1.9-.6-.4-.6-3.6-.6-5.8-.6 1.6-.6 5.3-.6-1.6-.6-6.7-.6 6.4-.6-5-.6 4.2-.6 6.5-.6-7-.6 2.5-.6 .3-.6-6.6-.6 10-.6-2.9-.6 .9-.6 3.7-.6-6.4-.6 2.6-.6-2.3-.6-3.3-.6 7.2-.6-5.2-.6 .5-.6 5.4-.6-5.7-.6 4.1-.6-4-.6 1.4-.6-5.1-.6 4.5-.6-2.1-.6-7.3-.6 3.5-.6 3.6-.6 8.5-.6-10.9-.6 .6-.6-1.8-.6 7.2-.6-1-.6-5.5-.6 4.6-.6 2-.6-1-.6 3.3-.6 1.9-.6-.6-.6 5.1-.6-18.6-.6 7.7-.6-.2-.6 2.6-.6-5-.6 4.4-.6-3.7-.6 3.6-.6-.3-.6-1.3-.6-3.1-.6-4.6-.6 5.6-.6 12.1-.6-.9-.6-3.7-.6 7.3-.6-7.6-.6 1.9-.6-3.4-.6 1.7-.6-4.8-.6 .5-.6 6.1-.6-2.8-.6-2.9-.6 5.6-.6-.2-.6-1.7-.6 1.3-.6-3.3-.6-2.3-.6-9.5-.6 13.7-.6-3-.6-5.3-.6 8.7-.6-4.8-.6 4.6-.6-7.2-.6 .8-.6 2.3-.6 .5-.6-4.3-.6 2.5-.6 2.9-.6-6.4-.6-.6-.6 7.2-.6-3.3-.6 6.9-.6 2.8-.6-7.3-.6-2.1-.6-4.2-.6 14.4-.6-6.6-.6-3.2-.6-1.7-.6 2-.6 1.4-.6 1.6-.6-5.9-.6-.6-.6-6.6-.6 7.7-.6-1.2-.6-3-.6 10.4-.6-5.9-.6-6.1-.6 1.3-.6 1.6-.6 2.2-.6-.6-.6 1.6-.6 2-.6-7.7-.6 5.9-.6-2.6-.6 2.5-.6 0-.6 1.5-.6 1.3-.6 .9-.6-.9-.6-3.9-.6-4.2-.6-1.2-.6 7-.6-3.6-.6 .9-.6 7.4-.6-8.8-.6 2.4-.6-1.7-.6 .4-.6 3.4-.6 4.3-.6-4.1-.6 6.2-.6 9.9-.6-5.3-.6 4.9-.6 7.6-.6-6.7-.6 6-.6-1.7-.6-.6-.6-1.7-.6 3.6-.6 7.5-.6-6.7-.6 1-.6-5.4-.6 7.6-.6-4.6-.6-2.5-.6 1.5-.6 2.2-.6-10.4-.6 2.1-.6 4.9-.6 .2-.6-3.1-.6 1.8-.6 3.7-.6-6.5-.6 .8-.6 4.8-.6-.2-.6 0-.6 .2-.6-2-.6 9.4-.6-5.1-.6-3.7-.6-4.8-.6-4.2-.6 .8-.6 .8-.6 6.3-.6-2.3-.6-9.1-.6 5.9-.6-4.8-.6-2.5-.6 5.1-.6 1-.6-4.1-.6-3.9-.6 1-.6 7.6-.6 .5-.6 4.7-.6 1.8-.6 6.4-.6-8.9-.6 7.2-.6 2.1-.6-4.5-.6-.4-.6-.8-.6 1.7-.6 1.8-.6-8.5-.6 7.9-.6-.9-.6-4.6-.6 .1-.6-3.1-.6-3.6-.6 7.9-.6 3.9-.6-5.2-.6 2.2-.6-3-.6-6.1-.6 7-.6 3.7-.6-3.3-.6-2.6-.6 10.8-.6-7.7-.6 2.7-.6-.6-.6-1.6-.6-1.9-.6 3.3-.6-1.6-.6-1-.6-5.5-.6 7.5-.6 2.3-.6-3.3-.6 8.8-.6-8-.6 8.6-.6-5.7-.6 5.8-.6-3.8-.6 3.6-.6-14.5-.6-2.4-.6-1.1-.6 1.3-.6 6-.6 1.8-.6 4.9-.6-12.4-.6-.3-.6 4.4-.6-5.7-.6-6.1-.6-5.9-.6 3.1-.6-.7-.6-.1-.6 .8-.6 1.3-.6 6.4-.6 .5-.6-3.6-.6-2.4-.6-2.9-.6 2.9-.6-3.7-.6 4.1-.6 .5-.6-4.4-.6-4-.6 3-.6 1.4-.6 5.8-.6-2.7-.6 .8-.6-6.6-.6-.7-.6 6.9-.6-3.3-.6-.5-.6 .6-.6-6.1-.6-.3-.6 2.8-.6-.3-.6-1-.6 3.1-.6 3-.6-1.3-.6-2.7-.6 .5-.6-2-.6-.4-.6 .8-.6-5.9-.6 3.7-.6 6.9-.6-1.7-.6-2.3-.6-4.9-.6 6.2-.6-1.9-.6 .1-.6-.4-.6 2.1-.6-1.6-.6-7.6-.6 1.6-.6-1.2-.6 4.4-.6 3.5-.6-2.2-.6-.2-.6 3.5-.6-7-.6 4.3-.6-2.3-.6 1.9-.6-3.1-.6-2.6-.6 1-.6 5.6-.6 1.4-.6-.8-.6 1.2-.6 2.2-.6 2.1-.6-5.5-.6-4.5-.6 7.6-.6 2-.6 .8-.6-1.1-.6-.5-.6-2-.6-1.1-.6 4.5-.6-2.5-.6-3.1-.6-6.6-.6 2-.6 5.4-.6-1.2-.6-3.3-.6 7-.6 3.8-.6-6-.6-1.7-.6-1.2-.6 2.4-.6 7.3-.6-7.5-.6 .6-.6-4.1-.6 4.1-.6-.7-.6-1.2-.6 4.3-.6-7.6-.6-1.6-.6-3.5-.6 7.8-.6-4.4-.6 6.4-.6-1.5-.6 2-.6 1.8-.6 1.5-.6-.4-.6-5.5-.6 1.8-.6 5.6-.6-5.6-.6-5.9-.6 .3-.6 3.4-.6-4.3-.6 .4-.6 2.3-.6-3.7-.6 1.8-.6 1-.6-3.8-.6 7-.6-2.5-.6 1.3-.6 3.6-.6-5.6-.6 4.4-.6-.2-.6-.8-.6-.1-.6-8.8-.6 3.6-.6-1.6-.6 6.1-.6-.2-.6 .7-.6-6.1-.6 .6-.6-.9-.6 7.1-.6 5.3-.6-6.3-.6 .8-.6-3.8-.6 4.7-.6-3.6-.6-1.4-.6-2.9-.6 6-.6-9.8-.6 5.3-.6-3.1-.6 5.9-.6 2.1-.6 .6-.6 5.4-.6-4.1-.6-6.8-.6-1.5-.6-1.1-.6 3.6-.6 3.6-.6-6.3-.6 3.2-.6 3.7-.6 .8-.6-9.9-.6 1.6-.6-4.5-.6 5.2-.6 3.7-.6-1-.6-5.2-.6 8.7-.6 2.3-.6-2.8-.6 1.5-.6-7.2-.6 7.9-.6-4.4-.6-.5-.6 .3-.6 0-.6-3.7-.6-.6-.6 6.7-.6 .2-.6-3-.6-.4-.6-1.8-.6 4.4-.6 3.5-.6-1.8-.6-1.3-.6-1.5-.6 2.5-.6 6.5-.6-4.6-.6-3-.6 2.5-.6-9.8-.6 1.8-.6 4.5-.6-2.9-.6-3-.6 3.4-.6-.9-.6-2.9-.6 3.5-.6-7.3-.6-1.1-.6 3.1-.6 4.3-.6 2.1-.6-4.3-.6 5.1-.6-.1-.6 .3-.6 5.6-.6-6-.6-.8-.6 3-.6 4.3-.6-1.2-.6 1.2-.6-5.1-.6 .7-.6-3.9-.6-2-.6 3.6-.6-.7-.6 2.1-.6-4.5-.6-4.4-.6 3.5-.6 7.5-.6-9-.6 1.5-.6 4.4-.6-6.2-.6 2.3-.6-6.1-.6 3.1-.6 4.4-.6 4.2-.6-4.5-.6-2.6-.6-2.6-.6-2.4-.6 2.9-.6-1.5-.6 1.6-.6-2.9-.6-1.7-.6 3-.6 .2-.6 .4-.6 6.2-.6 9.5-.6-6.9-.6 2.5-.6 3.3-.6 .9-.6 .6-.6 .2-.6 3.1-.6 2.9-.6 5.6-.6 .4-.6-.9-.6 2.1-.6-12.3-.6 2.3-.6 9.4-.6-4.7-.6-4.9-.6-.1-.6 1.7-.6 1.1-.6 8.6-.6-2.9-.6-1.9-.6-3.1-.6-1.6-.6-3.2-.6 4.6-.6-1-.6-.1-.6-7.5-.6-5.9-.6-.5-.6 4.6-.6-.7-.6-.9-.6-1.7-.6-5.4-.6-2.5-.6 2.5-.6 6.5-.6-2.3-.6 .1-.6 2.8-.6 3.5-.6-6.3-.6-1.6-.6 1.6-.6-3.9-.6-1.2-.6-5-.6 3-.6-5.9-.6 3.8-.6-2.9-.6 1.4-.6-5.9-.6 8.3-.6 2.9-.6-1.7-.6-1.8-.6-1.9-.6 2.1-.6 4.2-.6 3-.6-2.9-.6-3.8-.6 1.6-.6 2.7-.6-1.2-.6 4.7-.6-1.7-.6 1.9-.6 .5-.6 .6-.6 2.8-.6 6.1-.6-5.7-.6 .7-.6 5.1-.6 7-.6-7-.6z" fill="#ffff78" stroke="none" stroke-width="1" />
<g clip-path="url(#gclip)">
<line x1="613.3" y1="162.0" x2="613.3" y2="1087.0" stroke="#6fae78" stroke-width="1.4" opacity="0.6"/>
<line x1="647.8" y1="162.0" x2="647.8" y2="1087.0" stroke="#6fae78" stroke-width="1.4" opacity="0.6"/>
<line x1="682.3" y1="162.0" x2="682.3" y2="1087.0" stroke="#6fae78" stroke-width="1.4" opacity="0.6"/>
<line x1="716.6" y1="162.0" x2="716.6" y2="1087.0" stroke="#6fae78" stroke-width="1.4" opacity="0.6"/>
<line x1="578.0" y1="270.2" x2="751.0" y2="270.2" stroke="#6fae78" stroke-width="1.4" opacity="0.5"/>
<line x1="578.0" y1="402.7" x2="751.0" y2="402.7" stroke="#6fae78" stroke-width="1.4" opacity="0.5"/>
<line x1="578.0" y1="535.2" x2="751.0" y2="535.2" stroke="#6fae78" stroke-width="1.4" opacity="0.5"/>
<line x1="578.0" y1="667.8" x2="751.0" y2="667.8" stroke="#6fae78" stroke-width="1.4" opacity="0.5"/>
<line x1="578.0" y1="800.3" x2="751.0" y2="800.3" stroke="#6fae78" stroke-width="1.4" opacity="0.5"/>
<line x1="578.0" y1="932.8" x2="751.0" y2="932.8" stroke="#6fae78" stroke-width="1.4" opacity="0.5"/>
<line x1="578.0" y1="1065.3" x2="751.0" y2="1065.3" stroke="#6fae78" stroke-width="1.4" opacity="0.5"/>
</g>
<path d="M678.7,162l-2.3,.6 24.3,.6-28.3,.6 7.6,.6-3.5,.6 1.4,.6-4.9,.6 4.3,.6-.4,.6-.8,.6 3.2,.6 5.9,.6-1.9,.6 3.6,.6-2.4,.6-.7,.6 2,.6-5.5,.6 1.6,.6-2.1,.6-1.3,.6-.9,.6 0,.6 3.3,.6 6.1,.6-3.1,.6-8.7,.6 5.8,.6-5.3,.6 5,.6 2.7,.6-18.6,.6 18.4,.6-1.2,.6-3.3,.6 9.1,.6 1.1,.6-13.6,.6 6,.6 5.1,.6 1.7,.6-5.7,.6-3.8,.6 8.3,.6 7.9,.6-4.4,.6-.1,.6 4.6,.6-2.6,.6-3,.6-10.2,.6-10.7,.6-6.6,.6 26.8,.6 8.6,.6-2.7,.6-1.3,.6 3.6,.6 4,.6-2.7,.6 3.6,.6-4.8,.6 3,.6 1.8,.6-4.9,.6 12.4,.6-3.3,.6 3.1,.6-2.4,.6-.3,.6-.2,.6-2.3,.6-8.2,.6 9.1,.6-4,.6 .5,.6-3.2,.6 2.5,.6-1.2,.6 3.4,.6-3.4,.6-3.3,.6 18.8,.6 7.4,.6 15.9,.6-21.1,.6-3.7,.6-10.7,.6-3.3,.6-2.6,.6 5,.6-7.9,.6 3.2,.6 10.7,.6-9,.6 4.3,.6 2.1,.6 1.8,.6 10.4,.6 3.9,.6-19.3,.6-8.1,.6-5.8,.6 1.2,.6 1.3,.6-1.7,.6-.3,.6 2.7,.6-1.8,.6 4,.6 7.6,.6-10,.6-1.4,.6 .5,.6 .3,.6 6.6,.6-2.3,.6 4,.6-2.7,.6-4.7,.6-2.5,.6-1.3,.6 12.6,.6-3.9,.6-1.9,.6-1.1,.6-4.5,.6-2.7,.6 .7,.6-4.5,.6 6.1,.6 3.7,.6 .9,.6-12,.6 4.2,.6 .5,.6 .5,.6-.8,.6-4.8,.6 3.9,.6 4.6,.6-3.1,.6-.1,.6 1.6,.6 3.3,.6-5.6,.6 5.7,.6-6.1,.6-3.5,.6 7.8,.6 5,.6 5.4,.6-4.6,.6-2.6,.6-1.1,.6-5.6,.6 1.5,.6 6.5,.6 .2,.6-2.6,.6 2.1,.6-2.6,.6-2.8,.6 6.8,.6 4.5,.6 1.3,.6 1,.6-11.3,.6 6.4,.6-2.6,.6-6.3,.6 .3,.6-1,.6 4.1,.6-3.7,.6 4.5,.6-1.9,.6 1.4,.6 2,.6-1.6,.6 3,.6-2.6,.6 .5,.6-1.1,.6 5.8,.6 5.1,.6 3,.6-10.8,.6-2.3,.6-1.5,.6 2.4,.6-1.8,.6 6.9,.6-7.1,.6 2.6,.6-2.1,.6 4.4,.6 3.9,.6-9.4,.6-5.1,.6 4.8,.6 2.4,.6 5.8,.6-12.4,.6 12.5,.6-3.6,.6 .2,.6 8.6,.6-12.1,.6 6.7,.6-2.5,.6 8,.6-6.1,.6 3.7,.6 4.7,.6-3.6,.6-7,.6 .6,.6 3.9,.6-.6,.6-1.8,.6-5,.6 3.8,.6 2.2,.6 7.7,.6-6.4,.6 7.8,.6 .5,.6-1.5,.6 .1,.6-7,.6-1.8,.6 1.7,.6 1.9,.6 4.4,.6-3.2,.6 1,.6-1.5,.6 3.8,.6 18.5,.6-15.6,.6 3,.6 1,.6 4.6,.6-7.4,.6 .3,.6 0,.6-3.9,.6-2.9,.6 .8,.6 .4,.6-5.8,.6 1.3,.6 2.4,.6 0,.6-1.5,.6 2.4,.6-2.8,.6 5.5,.6-1.9,.6 4.2,.6-4.7,.6-.8,.6 1.1,.6 3.2,.6 1.8,.6 2.7,.6 6.9,.6-5.6,.6-.8,.6-3.3,.6-4.8,.6-.3,.6-2,.6-.4,.6 2.9,.6-1.7,.6 3.4,.6 .1,.6-2.9,.6 1.7,.6-.7,.6 12.5,.6-18,.6-6.1,.6 12.4,.6-4.3,.6-.1,.6-3.5,.6-3.6,.6 21.1,.6-13.5,.6-2.3,.6 7.7,.6-8.9,.6 4.5,.6 1.2,.6-1.6,.6 1.5,.6-3.3,.6-3.8,.6 2.8,.6-4.1,.6 .4,.6 1,.6 2.6,.6-1.8,.6-4.4,.6 3.3,.6 .9,.6-6.6,.6-.5,.6 6.3,.6 9.2,.6-5.2,.6-2.6,.6 2.2,.6-.4,.6-5.8,.6-.7,.6 2.1,.6-.5,.6-.3,.6-3.3,.6 4,.6-1.8,.6 .6,.6-4.8,.6-5.5,.6 7.3,.6-3.2,.6-1.5,.6-4.8,.6-3.8,.6 .2,.6-1,.6-4.5,.6 6.2,.6-.6,.6-1.9,.6 0,.6-2.8,.6-1.7,.6 .5,.6-8.3,.6 8,.6-6.7,.6-3.4,.6 8.7,.6-8.3,.6-11.3,.6-2.5,.6-2.4,.6 0,.6-5,.6 15.1,.6-14,.6 16.6,.6-7,.6-8.1,.6-15.5,.6 12.9,.6-11.4,.6 16.1,.6-3.8,.6 8.4,.6-2.9,.6 3.2,.6-7,.6-1.6,.6 1,.6-6.5,.6 10.5,.6 2,.6-10.4,.6 8.7,.6 2.7,.6-8.5,.6 2.9,.6 4.2,.6-6,.6 18.9,.6-8,.6-4.7,.6 1,.6-24,.6 16.8,.6 4.3,.6-7.9,.6 13.3,.6-3.9,.6 7.1,.6 12.7,.6-9.7,.6 3.3,.6-5.2,.6-6,.6 10.8,.6-7.1,.6-3.8,.6 4,.6-11.4,.6 7.4,.6-5.7,.6 10.3,.6-19.4,.6-1.9,.6 31.8,.6-16.3,.6-17.8,.6 26,.6-16.6,.6 14.7,.6-56.4,.6 19.3,.6 9.5,.6 24.5,.6 10.3,.6-11.9,.6 8.9,.6 15,.6 2.5,.6 11.8,.6 6,.6 8.8,.6 8.4,.6-14.8,.6 13.6,.6-10.6,.6-5.6,.6-15.7,.6-2.7,.6-4.3,.6 1.3,.6 16.7,.6 32.9,.6-8.7,.6-17.3,.6-18.5,.6-9.1,.6-2.5,.6-29.8,.6 30.8,.6-10.6,.6-10,.6 9.3,.6-13.4,.6 1.1,.6-1.6,.6 3.6,.6-41.9,.6 25.7,.6-5.9,.6 17.4,.6 17.3,.6-7.9,.6 9.5,.6 29.4,.6-14.2,.6 36.5,.6-17.7,.6-2.9,.6 7.9,.6-4.6,.6 5.9,.6-6.4,.6-3,.6-3.4,.6 16,.6-2.6,.6 3,.6-3,.6-.6,.6-1.8,.6 1.2,.6 2.8,.6 1.8,.6-3,.6-9.7,.6 1.4,.6 1.7,.6-1.6,.6-3.7,.6 9.8,.6-4.5,.6-5.7,.6 8.7,.6-5.2,.6 2,.6 1,.6-6,.6 2.8,.6 5.1,.6-.6,.6-2.3,.6-9.5,.6-16.8,.6 8.8,.6 8,.6 14.3,.6-.6,.6-4.4,.6 2.4,.6 7,.6-2.1,.6-.4,.6-4.2,.6 2.1,.6 2.3,.6 3.7,.6-3.8,.6 10,.6-5.2,.6-4.7,.6-1.2,.6-4.7,.6 4.8,.6 1.9,.6-4.4,.6 4.4,.6 1.5,.6 .4,.6-7.7,.6-3.7,.6 30.3,.6-26.6,.6 3,.6-3.7,.6 6.1,.6 .9,.6-7,.6 14.9,.6 4.2,.6 14.7,.6-12.9,.6-11.5,.6-5.9,.6-3.5,.6 .6,.6 2.9,.6 .2,.6-.5,.6-.1,.6-.4,.6-2.9,.6 1.4,.6-3.4,.6-2.2,.6 .5,.6-2.6,.6 8,.6-1.5,.6-4.2,.6 8.3,.6-1.3,.6-5.7,.6-.8,.6 1.2,.6-.8,.6-30.9,.6-9.2,.6 8.3,.6 24.6,.6 5.3,.6-9,.6 17,.6-4.3,.6-2.1,.6-2.7,.6 1.1,.6-2.5,.6 5.6,.6 4.5,.6 7.6,.6-6.4,.6-3.8,.6-9.8,.6 11.6,.6-5,.6-2.2,.6 5.5,.6-3.7,.6-.1,.6 2.6,.6 3.1,.6-1.8,.6 2.5,.6 6.7,.6-3.4,.6-2.8,.6-1.2,.6 8.6,.6 .1,.6-6.6,.6 5.1,.6-2.6,.6-4.6,.6 3.4,.6-1.4,.6 1.2,.6 12.5,.6-15,.6-1.2,.6-.5,.6 9.1,.6-2.3,.6 2.4,.6 .3,.6-6.6,.6 0,.6 .5,.6 4.1,.6 1.3,.6 14.6,.6-17.2,.6 2.6,.6-5.1,.6 6.2,.6 1.2,.6 .1,.6-.7,.6-7.2,.6 2.2,.6 4.1,.6-4.7,.6-.9,.6-.5,.6 .5,.6 4.5,.6 2.7,.6-2.4,.6 2.2,.6 7.1,.6-5.7,.6-4.3,.6 3.5,.6-3.1,.6 .5,.6 2.2,.6 6.4,.6 4.8,.6 2.6,.6-10.2,.6-3,.6 6.3,.6-2.4,.6-2.3,.6-5.2,.6-1.7,.6-2.6,.6 6.7,.6-5.8,.6-2.3,.6 3.2,.6 8.8,.6 1.6,.6-4.9,.6 2.2,.6-3,.6 1.1,.6 2.5,.6-2.9,.6 4.5,.6-13.9,.6 6.8,.6 5.1,.6-2.2,.6 1.1,.6-5.2,.6 11.2,.6-12.7,.6 0,.6-.9,.6-3,.6-5.8,.6 1.3,.6 4.1,.6 .2,.6-2.6,.6-1.1,.6 7,.6-1.3,.6 3.8,.6-9.7,.6 7.9,.6-5.1,.6 17.8,.6-11.5,.6-2.3,.6-1.4,.6 3.5,.6-7.8,.6 3.5,.6 1.8,.6 .3,.6 4.1,.6-4.1,.6 .5,.6-6.6,.6-1,.6-2.5,.6 6.8,.6 1.6,.6-2,.6 1.9,.6 5.5,.6 1.1,.6-10.1,.6 1.9,.6-2.2,.6-5.9,.6-8.7,.6-3.8,.6-2.6,.6 13,.6 11.7,.6 .5,.6 4.7,.6 .1,.6-.9,.6 5.1,.6-3.5,.6-5.8,.6-.5,.6-4.1,.6 7.1,.6-7.8,.6-1.7,.6-3.9,.6 11.3,.6-1.6,.6 .6,.6 11.5,.6-10.6,.6-2.9,.6 4.4,.6 4.5,.6-3.8,.6-5.9,.6 .8,.6-.9,.6 6,.6-3,.6 4,.6-7.8,.6 9.3,.6-.2,.6-1.3,.6 5.3,.6-2.1,.6 17,.6-16.7,.6-3.3,.6 2.8,.6-4.5,.6-1,.6 .6,.6-.1,.6-6.4,.6 3.7,.6-11.1,.6 7.7,.6 2.5,.6 .1,.6 3.8,.6-7.9,.6 3.9,.6-4.4,.6 11.5,.6-2.1,.6-1.2,.6-2.6,.6-1.5,.6 11.2,.6-5.6,.6 1.2,.6-.9,.6-.8,.6 1.7,.6 4,.6 14.4,.6-14.2,.6 2,.6-4.6,.6 3.2,.6-2.9,.6-3.9,.6 .5,.6 1,.6 4,.6 9.9,.6 .6,.6-3.7,.6-11.2,.6 1.7,.6-3,.6 5,.6 1.1,.6-2.1,.6 2.9,.6-.3,.6-.5,.6-.3,.6 .5,.6-1.5,.6-4.5,.6-.8,.6 1.7,.6 3.7,.6 1.7,.6-.9,.6-1.1,.6-5.6,.6 4.3,.6 .9,.6-6,.6 2.6,.6-4.4,.6 7,.6-3.5,.6 2.1,.6 4,.6-2.1,.6-3.9,.6 5.1,.6 1.6,.6 3.8,.6-6.8,.6-2.4,.6 .3,.6 3.2,.6-2.6,.6-6.1,.6 16.1,.6-21.2,.6 1,.6 1.4,.6 4.2,.6 1,.6-1.5,.6 4.5,.6-1.2,.6 7.7,.6-7.1,.6 3.2,.6 .1,.6-4.2,.6-3.6,.6 4.5,.6 1.1,.6-1.9,.6 1.2,.6 1.9,.6-3.1,.6-1.3,.6-1.5,.6 6,.6-2.9,.6 6.8,.6 .5,.6-2.2,.6-5.1,.6 .1,.6 3.1,.6 5.3,.6-6,.6-2,.6 6.4,.6-10.6,.6 0,.6-.2,.6 5.9,.6-5.7,.6-3.9,.6-14.9,.6-8.4,.6 6.6,.6 9.9,.6 13.4,.6-6.9,.6 4.6,.6 2.4,.6-3.2,.6 9.3,.6 2.3,.6-.1,.6 4,.6-8.7,.6 2.4,.6 .2,.6-9.4,.6 10.5,.6-5.1,.6 6.4,.6-1.9,.6-2.2,.6 3.6,.6-6.3,.6-3.6,.6 .8,.6 3.7,.6 .1,.6 7.1,.6-1.8,.6-3.4,.6-1.4,.6 .5,.6-.2,.6 17.6,.6-14.1,.6-3.9,.6-3.1,.6 0,.6 1.7,.6-5.8,.6 5.4,.6-1.7,.6-7.5,.6-1.3,.6-.2,.6 6.3,.6-.1,.6-2.8,.6 7.2,.6 7.5,.6-2.6,.6-3.9,.6 4.7,.6 9.9,.6 25.7,.6-12.1,.6-18,.6-9.4,.6-2.6,.6-4.2,.6 9,.6-2.2,.6-1.7,.6-5.7,.6 4.5,.6-2.9,.6 0,.6-3.8,.6 10,.6-13.5,.6 11.2,.6-5.4,.6 .3,.6 6.9,.6-4.2,.6-5,.6 4.8,.6-1.6,.6 1.8,.6-1.9,.6 19.2,.6-14.6,.6-1.9,.6-6.7,.6 1.6,.6 8.8,.6 2.6,.6-.1,.6 .5,.6-6.7,.6 23.3,.6-16,.6 24,.6-14,.6-10.6,.6-5.3,.6 22.5,.6-23.3,.6 1.9,.6-.8,.6 4,.6-4.3,.6-1.3,.6-4.2,.6 8.8,.6 .3,.6-7.1,.6-3,.6 27.7,.6-19.5,.6 3.6,.6 2.9,.6-12.4,.6 13.1,.6 2.7,.6 11.4,.6 5.7,.6-10.7,.6-10.1,.6 .7,.6-1,.6-3.1,.6 5.3,.6 5.3,.6 .1,.6-7.4,.6 1.7,.6-4.3,.6 4.9,.6 4.3,.6-1.8,.6-.9,.6-2.9,.6 2.6,.6-3.8,.6 1.5,.6-.6,.6 .5,.6-2.1,.6 5.5,.6-2.6,.6-1.4,.6 6.8,.6-4.1,.6-1.1,.6 3.2,.6-3.4,.6 .7,.6-3,.6-2,.6 4.7,.6-1.5,.6 0,.6 2.3,.6 4.2,.6-1.8,.6-2.1,.6 3.9,.6 2.6,.6-1.2,.6-4.1,.6-.3,.6 9.3,.6-9.8,.6-5,.6 2.1,.6 2.4,.6-5.2,.6 2.1,.6 .1,.6-3.6,.6 3.3,.6 6.8,.6-4.8,.6-3.8,.6 1.9,.6 0,.6-5,.6 .1,.6 4.2,.6 .8,.6 7.1,.6 1.1,.6-4.3,.6 2.4,.6 5.3,.6-3.6,.6 1.3,.6-2.2,.6-2.4,.6 .6,.6-4.7,.6 5,.6-2.4,.6 9.5,.6 19.8,.6 11,.6-17.5,.6-19.1,.6-2.3,.6 6.4,.6-3.1,.6 1.5,.6 1.5,.6-2.2,.6 1.7,.6-3.3,.6-7.7,.6-4.2,.6 1.4,.6 6.9,.6 3.2,.6 1.3,.6 2.1,.6-10.1,.6 3.2,.6-.2,.6-.4,.6 2.7,.6 2.9,.6-4.8,.6-4.1,.6-2.2,.6-2.9,.6 2.3,.6 6.5,.6 .9,.6 18.8,.6-17.6,.6-.1,.6-3.5,.6 .3,.6 1.2,.6 4.2,.6 .4,.6 .6,.6-2.2,.6-4.7,.6 1.8,.6 1.2,.6-.1,.6-6.6,.6 1.3,.6 23.3,.6-25.5,.6 13.8,.6-4.4,.6-1.1,.6 .6,.6-7.3,.6 7.1,.6 1.3,.6 30.5,.6-5.1,.6-.4,.6-1.2,.6-24,.6-7.5,.6 4.1,.6 5.1,.6-8.2,.6 1.9,.6-4.9,.6-5.2,.6 .2,.6 1.5,.6-.9,.6 6.1,.6-2.4,.6-2.5,.6 2.2,.6 5.7,.6-5,.6-3.8,.6 5.7,.6-1.8,.6-5,.6 7.7,.6 3,.6-.8,.6-.3,.6-2.6,.6 2.5,.6-6.4,.6-1,.6 2.4,.6 .8,.6 4.5,.6-1.8,.6-5.1,.6 .5,.6 4.1,.6 2.9,.6-2.4,.6-.3,.6 4.2,.6-2.1,.6 4.3,.6 5.4,.6-1.2,.6-15,.6-2.8,.6-2.5,.6 7.5,.6 4.6,.6 5.2,.6 4.9,.6-3.1,.6 1.6,.6-4,.6-5,.6 4,.6-1.2,.6-1,.6 2.4,.6 .6,.6-1.6,.6 2.7,.6-12.6,.6-5.5,.6 8.2,.6-.1,.6 5.1,.6 2.8,.6-2.5,.6-2.6,.6 8.3,.6 .3,.6 3.3,.6-7.2,.6-5.4,.6-.3,.6 29.4,.6-3.4,.6-11,.6-14.9,.6-20.7,.6 3.6,.6 12.5,.6-1.2,.6 3.1,.6 .4,.6 4.4,.6-2.4,.6 8.2,.6 4.3,.6-11.1,.6-1.8,.6 2.7,.6 3,.6 .3,.6 3.6,.6-.7,.6 2.9,.6-3.5,.6 2.2,.6-2.7,.6-1.1,.6 8.2,.6-3.9,.6 2.7,.6 1.8,.6-4,.6 1,.6-2.2,.6-5.6,.6 3.9,.6-.2,.6 6.3,.6-3.4,.6 5,.6 8.3,.6-10.9,.6-3.2,.6-3.3,.6 0,.6-.9,.6-1,.6 6,.6 1.3,.6-4.8,.6-.2,.6 4.8,.6 2.5,.6-10.9,.6 0,.6-5.3,.6-2.7,.6 6.7,.6-4.8,.6 4.9,.6 1.4,.6 .5,.6-.4,.6-15.9,.6 13.8,.6 5.8,.6-6.4,.6 8.4,.6-7,.6-1.8,.6 5.7,.6-4.4,.6-1.7,.6-4.9,.6-.6,.6 4.8,.6 3.7,.6-8.4,.6 10.1,.6-4.2,.6 1.4,.6 5.8,.6-2.8,.6 16.9,.6-19.5,.6 2.1,.6-2,.6-3.2,.6 5.8,.6 17.1,.6-17.7,.6 4.1,.6-4.6,.6 3.6,.6-6.6,.6 .8,.6-1.5,.6-1,.6-3.9,.6 4.6,.6 .4,.6 12.6,.6-7.3,.6-2.6,.6 6.2,.6-1.4,.6 18.7,.6-19.1,.6 2.8,.6-3.4,.6-2.4,.6-2,.6-2.3,.6 4,.6-1.5,.6-.2,.6 .8,.6-3.5,.6 6.7,.6 3.4,.6 1.4,.6-5.3,.6-5.4,.6-3.3,.6-.1,.6 6.1,.6-6.9,.6-3.1,.6 4.3,.6 4.6,.6 .9,.6-.2,.6 2.7,.6 4.3,.6-1.2,.6-9.3,.6 8,.6 1.6,.6 4.5,.6-3.4,.6 .7,.6-8.2,.6-5.4,.6 3.4,.6-6.1,.6-1.5,.6 7.3,.6-.8,.6-8.7,.6 5.3,.6-8.7,.6-15.2,.6-19.4,.6-22.5,.6 38.2,.6 30.7,.6 4.5,.6-7.5,.6 1.4,.6 14.9,.6-19.9,.6 2.2,.6-8.7,.6-1.5,.6 3.7,.6-14,.6-1.8,.6-3.3,.6-4.2,.6 .8,.6 1.4,.6-3.5,.6 11.5,.6 12.7,.6 7.8,.6 11.9,.6-11.5,.6-16.9,.6 8.7,.6-6,.6-1.3,.6-4.7,.6-6.6,.6 15.7,.6 1,.6 2.2,.6 8.9,.6-18.5,.6-18.7,.6-3.1,.6-27.7,.6 19.6,.6 22.1,.6 23.1,.6-3.9,.6-5.9,.6-3.6,.6-12.7,.6-5.7,.6 9.7,.6-21.2,.6-2.6,.6 13.2,.6-18.5,.6 16.8,.6-7.7,.6-1.8,.6-3.1,.6 14.8,.6-21.8,.6-1.3,.6-14.6,.6-5.6,.6 24.4,.6-21.8,.6-13.2,.6 45.6,.6-23.4,.6 7.1,.6-3.7,.6 12.6,.6 9.1,.6-4.1,.6-22.4,.6 6.3,.6 11.1,.6-14.3,.6 4.7,.6 6.5,.6-3.2,.6-3.8,.6-19.5,.6 23,.6 6.9,.6 0,.6-16.1,.6-5.3,.6 18.3,.6 4.9,.6-15,.6 20.6,.6-4.9,.6 7.6,.6-13.5,.6 5.3,.6-15.2,.6 12.4,.6 12.9,.6-21,.6-2.6,.6 1.9,.6-18,.6 23.2,.6-21.6,.6-6.6,.6 28.1,.6-11.4,.6-.1,.6-4.2,.6 41.8,.6-19.6,.6-.5,.6 4.7,.6 4.6,.6-8.6,.6-12.4,.6 2.4,.6 .3,.6 1.4,.6 17.6,.6-2.9,.6-19.6,.6 18,.6-1.6,.6-8,.6 .4,.6-9.7,.6 13,.6 20.2,.6-25.8,.6 3,.6 4.6,.6-1.3,.6 21.6,.6-50.3,.6 13.9,.6 1.6,.6 7.6,.6 6.6,.6-31.9,.6 6.3,.6 14.8,.6-.9,.6 17.2,.6-9.8,.6 24.3,.6 19.9,.6-3.7,.6 23.8,.6-.1,.6-2.8,.6 4.2,.6-4.2,.6 .2,.6-4.4,.6 3.8,.6 4,.6 5.6,.6-10.1,.6 28.4,.6-30.6,.6 24.6,.6-28.3,.6-3.5,.6 3.6,.6 2.1,.6-1.9,.6 0,.6 6.6,.6-.6,.6-16.5,.6 6.5,.6 4,.6-1.2,.6 4.7,.6 11.9,.6 18.5,.6-7.9,.6-21.6,.6 1.8,.6-8,.6-.8,.6-1.9,.6 12.4,.6-5.1,.6" fill="none" stroke="#ff0000" stroke-width="1.9" stroke-linejoin="round"/>
<path d="M648.3,162l7,.6-7,.6-5.1,.6-.7,.6 5.7,.6-6.1,.6-2.8,.6-.6,.6-.5,.6-1.9,.6 1.7,.6-4.7,.6 1.2,.6-2.7,.6-1.6,.6 3.8,.6 2.9,.6-3,.6-4.2,.6-2.1,.6 1.9,.6 1.8,.6 1.7,.6-2.9,.6-8.3,.6 5.9,.6-1.4,.6 2.9,.6-3.8,.6 5.9,.6-3,.6 5,.6 1.2,.6 3.9,.6-1.6,.6 1.6,.6 6.3,.6-3.5,.6-2.8,.6-.1,.6 2.3,.6-6.5,.6-2.5,.6 2.5,.6 5.4,.6 1.7,.6 .9,.6 .7,.6-4.6,.6 .5,.6 5.9,.6 7.5,.6 .1,.6 1,.6-4.6,.6 3.2,.6 1.6,.6 3.1,.6 1.9,.6 2.9,.6-8.6,.6-1.1,.6-1.7,.6 .1,.6 4.9,.6 4.7,.6-9.4,.6-2.3,.6 12.3,.6-2.1,.6 .9,.6-.4,.6-5.6,.6-2.9,.6-3.1,.6-.2,.6-.6,.6-.9,.6-3.3,.6-2.5,.6 6.9,.6-9.5,.6-6.2,.6-.4,.6-.2,.6-3,.6 1.7,.6 2.9,.6-1.6,.6 1.5,.6-2.9,.6 2.4,.6 2.6,.6 2.6,.6 4.5,.6-4.2,.6-4.4,.6-3.1,.6 6.1,.6-2.3,.6 6.2,.6-4.4,.6-1.5,.6 9,.6-7.5,.6-3.5,.6 4.4,.6 4.5,.6-2.1,.6 .7,.6-3.6,.6 2,.6 3.9,.6-.7,.6 5.1,.6-1.2,.6 1.2,.6-4.3,.6-3,.6 .8,.6 6,.6-5.6,.6-.3,.6 .1,.6-5.1,.6 4.3,.6-2.1,.6-4.3,.6-3.1,.6 1.1,.6 7.3,.6-3.5,.6 2.9,.6 .9,.6-3.4,.6 3,.6 2.9,.6-4.5,.6-1.8,.6 9.8,.6-2.5,.6 3,.6 4.6,.6-6.5,.6-2.5,.6 1.5,.6 1.3,.6 1.8,.6-3.5,.6-4.4,.6 1.8,.6 .4,.6 3,.6-.2,.6-6.7,.6 .6,.6 3.7,.6 0,.6-.3,.6 .5,.6 4.4,.6-7.9,.6 7.2,.6-1.5,.6 2.8,.6-2.3,.6-8.7,.6 5.2,.6 1,.6-3.7,.6-5.2,.6 4.5,.6-1.6,.6 9.9,.6-.8,.6-3.7,.6-3.2,.6 6.3,.6-3.6,.6-3.6,.6 1.1,.6 1.5,.6 6.8,.6 4.1,.6-5.4,.6-.6,.6-2.1,.6-5.9,.6 3.1,.6-5.3,.6 9.8,.6-6,.6 2.9,.6 1.4,.6 3.6,.6-4.7,.6 3.8,.6-.8,.6 6.3,.6-5.3,.6-7.1,.6 .9,.6-.6,.6 6.1,.6-.7,.6 .2,.6-6.1,.6 1.6,.6-3.6,.6 8.8,.6 .1,.6 .8,.6 .2,.6-4.4,.6 5.6,.6-3.6,.6-1.3,.6 2.5,.6-7,.6 3.8,.6-1,.6-1.8,.6 3.7,.6-2.3,.6-.4,.6 4.3,.6-3.4,.6-.3,.6 5.9,.6 5.6,.6-5.6,.6-1.8,.6 5.5,.6 .4,.6-1.5,.6-1.8,.6-2,.6 1.5,.6-6.4,.6 4.4,.6-7.8,.6 3.5,.6 1.6,.6 7.6,.6-4.3,.6 1.2,.6 .7,.6-4.1,.6 4.1,.6-.6,.6 7.5,.6-7.3,.6-2.4,.6 1.2,.6 1.7,.6 6,.6-3.8,.6-7,.6 3.3,.6 1.2,.6-5.4,.6-2,.6 6.6,.6 3.1,.6 2.5,.6-4.5,.6 1.1,.6 2,.6 .5,.6 1.1,.6-.8,.6-2,.6-7.6,.6 4.5,.6 5.5,.6-2.1,.6-2.2,.6-1.2,.6 .8,.6-1.4,.6-5.6,.6-1,.6 2.6,.6 3.1,.6-1.9,.6 2.3,.6-4.3,.6 7,.6-3.5,.6 .2,.6 2.2,.6-3.5,.6-4.4,.6 1.2,.6-1.6,.6 7.6,.6 1.6,.6-2.1,.6 .4,.6-.1,.6 1.9,.6-6.2,.6 4.9,.6 2.3,.6 1.7,.6-6.9,.6-3.7,.6 5.9,.6-.8,.6 .4,.6 2,.6-.5,.6 2.7,.6 1.3,.6-3,.6-3.1,.6 1,.6 .3,.6-2.8,.6 .3,.6 6.1,.6-.6,.6 .5,.6 3.3,.6-6.9,.6 .7,.6 6.6,.6-.8,.6 2.7,.6-5.8,.6-1.4,.6-3,.6 4,.6 4.4,.6-.5,.6-4.1,.6 3.7,.6-2.9,.6 2.9,.6 2.4,.6 3.6,.6-.5,.6-6.4,.6-1.3,.6-.8,.6 .1,.6 .7,.6-3.1,.6 5.9,.6 6.1,.6 5.7,.6-4.4,.6 .3,.6 12.4,.6-4.9,.6-1.8,.6-6,.6-1.3,.6 1.1,.6 2.4,.6 14.5,.6-3.6,.6 3.8,.6-5.8,.6 5.7,.6-8.6,.6 8,.6-8.8,.6 3.3,.6-2.3,.6-7.5,.6 5.5,.6 1,.6 1.6,.6-3.3,.6 1.9,.6 1.6,.6 .6,.6-2.7,.6 7.7,.6-10.8,.6 2.6,.6 3.3,.6-3.7,.6-7,.6 6.1,.6 3,.6-2.2,.6 5.2,.6-3.9,.6-7.9,.6 3.6,.6 3.1,.6-.1,.6 4.6,.6 .9,.6-7.9,.6 8.5,.6-1.8,.6-1.7,.6 .8,.6 .4,.6 4.5,.6-2.1,.6-7.2,.6 8.9,.6-6.4,.6-1.8,.6-4.7,.6-.5,.6-7.6,.6-1,.6 3.9,.6 4.1,.6-1,.6-5.1,.6 2.5,.6 4.8,.6-5.9,.6 9.1,.6 2.3,.6-6.3,.6-.8,.6-.8,.6 4.2,.6 4.8,.6 3.7,.6 5.1,.6-9.4,.6 2,.6-.2,.6 0,.6 .2,.6-4.8,.6-.8,.6 6.5,.6-3.7,.6-1.8,.6 3.1,.6-.2,.6-4.9,.6-2.1,.6 10.4,.6-2.2,.6-1.5,.6 2.5,.6 4.6,.6-7.6,.6 5.4,.6-1,.6 6.7,.6-7.5,.6-3.6,.6 1.7,.6 .6,.6 1.7,.6-6,.6 6.7,.6-7.6,.6-4.9,.6 5.3,.6-9.9,.6-6.2,.6 4.1,.6-4.3,.6-3.4,.6-.4,.6 1.7,.6-2.4,.6 8.8,.6-7.4,.6-.9,.6 3.6,.6-7,.6 1.2,.6 4.2,.6 3.9,.6 .9,.6-.9,.6-1.3,.6-1.5,.6 0,.6-2.5,.6 2.6,.6-5.9,.6 7.7,.6-2,.6-1.6,.6 .6,.6-2.2,.6-1.6,.6-1.3,.6 6.1,.6 5.9,.6-10.4,.6 3,.6 1.2,.6-7.7,.6 6.6,.6 .6,.6 5.9,.6-1.6,.6-1.4,.6-2,.6 1.7,.6 3.2,.6 6.6,.6-14.4,.6 4.2,.6 2.1,.6 7.3,.6-2.8,.6-6.9,.6 3.3,.6-7.2,.6 .6,.6 6.4,.6-2.9,.6-2.5,.6 4.3,.6-.5,.6-2.3,.6-.8,.6 7.2,.6-4.6,.6 4.8,.6-8.7,.6 5.3,.6 3,.6-13.7,.6 9.5,.6 2.3,.6 3.3,.6-1.3,.6 1.7,.6 .2,.6-5.6,.6 2.9,.6 2.8,.6-6.1,.6-.5,.6 4.8,.6-1.7,.6 3.4,.6-1.9,.6 7.6,.6-7.3,.6 3.7,.6 .9,.6-12.1,.6-5.6,.6 4.6,.6 3.1,.6 1.3,.6 .3,.6-3.6,.6 3.7,.6-4.4,.6 5,.6-2.6,.6 .2,.6-7.7,.6 18.6,.6-5.1,.6 .6,.6-1.9,.6-3.3,.6 1,.6-2,.6-4.6,.6 5.5,.6 1,.6-7.2,.6 1.8,.6-.6,.6 10.9,.6-8.5,.6-3.6,.6-3.5,.6 7.3,.6 2.1,.6-4.5,.6 5.1,.6-1.4,.6 4,.6-4.1,.6 5.7,.6-5.4,.6-.5,.6 5.2,.6-7.2,.6 3.3,.6 2.3,.6-2.6,.6 6.4,.6-3.7,.6-.9,.6 2.9,.6-10,.6 6.6,.6-.3,.6-2.5,.6 7,.6-6.5,.6-4.2,.6 5,.6-6.4,.6 6.7,.6 1.6,.6-5.3,.6-1.6,.6 5.8,.6 3.6,.6 .4,.6-1.9,.6 1.5,.6-.1,.6-3.4,.6 6.9,.6-1.2,.6-2.5,.6-2,.6 2.7,.6-5.3,.6-2.2,.6 1.2,.6 4.3,.6 .9,.6 3,.6-5.1,.6 4.3,.6-1.1,.6 0,.6 4.3,.6 3.2,.6-6.4,.6 1.2,.6 2.6,.6-4.1,.6 3.4,.6-5.4,.6-1.3,.6 1.9,.6 6.6,.6-5.5,.6-2.7,.6 3.3,.6-4.3,.6-3.4,.6-2.5,.6 5.1,.6 6,.6-6.1,.6 3.1,.6-.8,.6-6,.6-.4,.6 6.1,.6-.4,.6-1.2,.6 .4,.6 5.8,.6-5.1,.6 2,.6-2.1,.6 1.5,.6-3,.6 1.2,.6 1.1,.6-.4,.6 7.8,.6-5.6,.6-3.4,.6 3.6,.6-3.7,.6-2.2,.6 3,.6-1.2,.6 .8,.6 6.7,.6-4,.6 3.1,.6-2.7,.6 3.6,.6 3.9,.6-5.6,.6 2,.6 5,.6-.2,.6-3.2,.6-.8,.6 2.4,.6 .1,.6-4.7,.6-2.4,.6 .6,.6-4.5,.6 1.6,.6 5.4,.6 2.8,.6-3.2,.6-3.7,.6 .7,.6-4.9,.6-1.7,.6 1.4,.6 8.7,.6-4.3,.6 1.1,.6 2,.6-7.6,.6 1.1,.6 5.5,.6-4.2,.6 5,.6-4.4,.6 7.7,.6 5.8,.6-6.7,.6-2,.6-1.3,.6-6.1,.6-.8,.6 9.3,.6-8.4,.6-2.6,.6 2.2,.6 7.3,.6 .7,.6-5.2,.6 4.2,.6-3.8,.6-2.5,.6 1.4,.6 2.7,.6-1.4,.6-6.7,.6 5.3,.6 3,.6-4.2,.6 1.3,.6-6.6,.6 7.5,.6-.7,.6 5.6,.6-.2,.6 .1,.6-2,.6-7.4,.6 5,.6 2.5,.6 0,.6-1.2,.6 5.3,.6-3.8,.6-5.4,.6 2.6,.6-2.6,.6-.9,.6-2.6,.6 5.1,.6-1.9,.6 2.7,.6-2.5,.6 1.8,.6 .3,.6-1.4,.6 2.9,.6 2.3,.6-2.8,.6 .8,.6 4.7,.6-2.5,.6 4.9,.6-10,.6-4.7,.6 4.8,.6 3.8,.6-2.7,.6-.5,.6-2,.6-2.3,.6-1.8,.6 1.8,.6 1.2,.6 2.4,.6 .7,.6-1.4,.6 0,.6 2,.6-5.8,.6-.5,.6 1.9,.6-1.8,.6 4.6,.6-3,.6 2.8,.6 3.6,.6-5.4,.6 8,.6-5.2,.6 3.5,.6 3.7,.6-10.3,.6 6,.6-5.5,.6 3.1,.6 4.2,.6-6.2,.6 .8,.6 0,.6-6.5,.6 5.3,.6 1.5,.6-2.8,.6 7.8,.6-9.9,.6 4.2,.6-3.2,.6-2.8,.6 2.2,.6 6.6,.6-5,.6 4.7,.6-6,.6 4.6,.6 2.7,.6 .2,.6-6.7,.6 5.3,.6 4.2,.6-6.5,.6-1.8,.6-.8,.6-1,.6-4.5,.6 5.1,.6 10.5,.6-6.7,.6-.3,.6-.4,.6-3.7,.6 9.8,.6-10.5,.6 .1,.6-3,.6 6.5,.6-3.7,.6 11.3,.6-9.9,.6-1.4,.6 2.8,.6 0,.6 5.1,.6-1.2,.6 5,.6 .5,.6-4.1,.6 4,.6-7.3,.6-1.5,.6-.3,.6 1.8,.6 4.9,.6-15.1,.6 6,.6-3.5,.6 2.4,.6 12.1,.6-11.9,.6 4.1,.6-1.1,.6-5.2,.6 .3,.6 8.4,.6 .9,.6-5.5,.6 7.6,.6-3.5,.6 1.8,.6-2,.6 .3,.6 3.7,.6 .7,.6-6,.6 2.9,.6 1.6,.6-5.1,.6 4.6,.6-3.9,.6 2.7,.6 1.3,.6-10.6,.6 2.6,.6-1,.6 .8,.6 1.5,.6 3.1,.6 1.5,.6-2.5,.6 1.5,.6-3,.6-4.9,.6 5.6,.6-6.1,.6 6.6,.6-4.8,.6 7.6,.6-6.1,.6-3.3,.6 13.2,.6-7.8,.6 4.3,.6-2.5,.6-.7,.6 7.3,.6-6.3,.6-4.8,.6 2.9,.6-7.9,.6 2.9,.6 1,.6-1,.6 6.3,.6-8.9,.6 16.9,.6-6.4,.6 8.5,.6-5.9,.6 .4,.6-4.7,.6-1.4,.6 3.3,.6-5.7,.6 5.2,.6-1.4,.6-3.1,.6 2.2,.6 4.7,.6-2.7,.6-8.2,.6 4.8,.6 .3,.6-3.8,.6 8.4,.6-1.4,.6 1.1,.6 0,.6-3.3,.6 1.5,.6-4.5,.6 4.7,.6-6.4,.6 6.3,.6 4.7,.6-4.1,.6-1.2,.6-.6,.6-.1,.6 .6,.6 5.3,.6-1.8,.6 3.1,.6-3.3,.6-.5,.6-3.4,.6 3.5,.6-3.1,.6 .8,.6-2.9,.6 9.4,.6-4.2,.6 1.9,.6-2.8,.6-2.8,.6 .7,.6-.1,.6-7.1,.6-5.1,.6 6.7,.6 6.3,.6 3.3,.6 2.4,.6-9.1,.6 .5,.6 1,.6 .7,.6 3.5,.6-5.4,.6 5.3,.6-2.6,.6-6,.6 7.4,.6-2.9,.6-6.6,.6 3.2,.6 .1,.6 .7,.6 8,.6 .3,.6-.8,.6 1.8,.6-3.1,.6-.5,.6-6.1,.6 5.3,.6-2.9,.6-.5,.6 .2,.6 4,.6-4.3,.6 1.4,.6 3.4,.6 3.1,.6-5.7,.6-1.4,.6 1.3,.6-2.8,.6 1.2,.6 4.3,.6-5.4,.6 9.5,.6-6.5,.6-3.2,.6 6.2,.6-6,.6 .9,.6-.2,.6 0,.6-.1,.6-8,.6 3.3,.6 1.7,.6 3.4,.6-1.3,.6-6.2,.6 2.1,.6 1.8,.6 7.3,.6 0,.6-6.7,.6 2.9,.6 .6,.6 1.5,.6 1.8,.6-.2,.6-1.6,.6-3.5,.6 4.7,.6-4.8,.6-.4,.6 .8,.6-1.1,.6 3,.6-4,.6-.3,.6-1.1,.6 4.4,.6-1.7,.6-.7,.6 9.9,.6-2.6,.6-3.1,.6 .1,.6 2.9,.6-.8,.6-2.9,.6-3,.6 8.8,.6-4.2,.6-3,.6 .5,.6-6.9,.6 4.5,.6 1.2,.6 4.4,.6-6.5,.6 4.4,.6 5.5,.6-7.1,.6 6.2,.6-7.1,.6 2.5,.6-2.2,.6 6.6,.6-4.9,.6 8.1,.6-7.7,.6-4.6,.6 .5,.6 1.4,.6 4.4,.6-3.5,.6 3.2,.6 1.3,.6-.6,.6-.1,.6-7.5,.6 5.7,.6-4.8,.6-1.2,.6-1,.6 1.8,.6 1.1,.6-.6,.6 6,.6 0,.6 3.3,.6-.8,.6 2.2,.6-2,.6-1.5,.6 .5,.6 2.3,.6 2,.6-9.4,.6 1.2,.6-2.6,.6 1,.6-9.6,.6 7.6,.6 6.3,.6-6,.6 6.5,.6-1.8,.6 2.4,.6 .1,.6-3.5,.6-3.2,.6-.3,.6 1.8,.6 6.1,.6-2.3,.6 7.1,.6 1.1,.6-6.6,.6-1.6,.6-3.8,.6 5.1,.6-1.2,.6-2.7,.6 2.9,.6-5.4,.6 1.1,.6 9.3,.6-4.4,.6 2,.6-.1,.6-4.8,.6 6.1,.6 .6,.6 .8,.6 4.4,.6-5,.6-3.7,.6 1.6,.6-5.6,.6 .2,.6 10.2,.6-6.1,.6 7,.6-.2,.6-3.2,.6-1.1,.6-.9,.6 6.4,.6-8,.6 0,.6-3.3,.6 12.1,.6 5.3,.6-2.7,.6-4.9,.6-5.1,.6 1.2,.6 1.5,.6-1.9,.6 3,.6-1.6,.6 3,.6 8.3,.6-15.8,.6 8.3,.6-11.3,.6 8.2,.6 1.4,.6-1.5,.6 3.5,.6 5.3,.6-6.3,.6 3.4,.6-.5,.6 1.2,.6-2.4,.6 .3,.6 2.4,.6-5,.6 .5,.6 4.4,.6 2.3,.6 2.4,.6-7.6,.6 .9,.6 1.2,.6 3.4,.6-3.9,.6 3.2,.6-3,.6-1.1,.6 10.6,.6 12.6,.6-6.3,.6-6.3,.6-11.1,.6-2.2,.6-3.3,.6 5,.6 7.2,.6-9.1,.6-3.4,.6 .2,.6 0,.6 3.8,.6 0,.6 5.1,.6-1,.6-1.2,.6-.3,.6-.8,.6-1.2,.6 1.9,.6 2.4,.6 3.9,.6 .9,.6-.9,.6-.2,.6-4.9,.6-1.4,.6 3.1,.6-5.3,.6 9.1,.6-1.6,.6-3.9,.6-7.4,.6 11.2,.6 5.1,.6 .2,.6-3.1,.6-1.3,.6 .9,.6 2.1,.6-5.9,.6-.4,.6 6.4,.6-5,.6-4.3,.6-.9,.6-2.8,.6 6.8,.6-7.1,.6 4,.6 .1,.6 6.6,.6-4.7,.6-7,.6 3.8,.6 1.9,.6-6.7,.6 4.6,.6 5.2,.6 3,.6-10.1,.6 1.3,.6-1.3,.6-4.8,.6 7.2,.6-1.3,.6-2.5,.6 6.4,.6-4.8,.6-.9,.6 1.1,.6 2.7,.6-3.2,.6-5.1,.6 1.5,.6 6.8,.6 .3,.6-3.6,.6-3.7,.6-1.5,.6 3.8,.6-2.9,.6 4.1,.6-14.7,.6 4.7,.6 2.5,.6-2.1,.6 4.1,.6 3.4,.6-5,.6 3.1,.6-3.5,.6-7.7,.6 12,.6-1.5,.6-.6,.6 1.4,.6-4.5,.6 6,.6-13.8,.6 8.5,.6-7.4,.6 2.4,.6 4.2,.6 1.4,.6 .7,.6-4.4,.6 10.9,.6-1.3,.6-.7,.6 2.5,.6-2.4,.6 3.5,.6 5.1,.6-1.1,.6-3.4,.6-3.8,.6 2,.6 4.2,.6-1.3,.6-5.9,.6-2.8,.6 2.6,.6 1.9,.6-2.7,.6-2.8,.6 7.3,.6-2.6,.6-1.6,.6 7.7,.6 4.9,.6-3.2,.6-1.8,.6 4.3,.6-2.4,.6-3.4,.6 3.2,.6-3,.6-4.2,.6 4.8,.6 2.6,.6-3.4,.6 4.6,.6-8.1,.6 3.4,.6-4.4,.6 2.5,.6 3.7,.6 2.4,.6-7,.6 4.8,.6 3.8,.6-.2,.6-5.5,.6 2.3,.6-2.6,.6-2.1,.6 8.2,.6-1.8,.6 8.8,.6-6.2,.6-1.2,.6 2,.6-1.9,.6 6.3,.6-5.3,.6-.5,.6-3.3,.6 2.5,.6 .4,.6-.6,.6 8.3,.6-1.4,.6-3.4,.6-.7,.6 2,.6-.3,.6-2.3,.6-3.4,.6 3.2,.6-4.2,.6 2.2,.6-1,.6-2.7,.6 5,.6-4.4,.6 6.9,.6-.5,.6 1.4,.6 5.1,.6-9.1,.6 11.8,.6-3.9,.6-1.4,.6-2.8,.6 8.2,.6-3.9,.6-6.8,.6 2.9,.6 9.2,.6-11.9,.6 6.8,.6-6.5,.6-.3,.6 5.7,.6 1.9,.6-11.7,.6 4.1,.6 4.5,.6 8.4,.6-9.8,.6 4.6,.6-6.9,.6 6,.6 1.1,.6 2.3,.6-4.9,.6 4.4,.6-8.4,.6 1.2,.6 7.9,.6-2,.6 1.9,.6 2.4,.6-2.2,.6 2.5,.6 .8,.6 4.5,.6-11.4,.6 1.9,.6 12.3,.6-17.5,.6 8.7,.6-3.3,.6 1.1,.6-1.1,.6 11.4,.6-9.5,.6 1.3,.6-12.5,.6 11.6,.6 3.8,.6-5.8,.6 8.4,.6 1.8,.6-10,.6-4,.6 9.4,.6-3.3,.6-7.9,.6 14.3,.6-5.1,.6-3.9,.6-2.8,.6-3.1,.6 5.1,.6 4.2,.6 6.4,.6-4.3,.6-8,.6 6.5,.6 5.7,.6-3.4,.6 10.7,.6-10.1,.6 2.8,.6 6.9,.6-5.5,.6-2.5,.6-2.6,.6-2.8,.6 3.9,.6 5.7,.6 .9,.6-5.5,.6-.9,.6 4.1,.6-6.9,.6 6.1,.6-6.3,.6-8.4,.6 11,.6 .5,.6 .6,.6-.9,.6-.6,.6 6.6,.6-4.1,.6-8.3,.6 2.3,.6 9.1,.6-5.9,.6 .9,.6-19.2,.6 8.9,.6-.7,.6-1,.6-7.8,.6-7.6,.6 8.9,.6 1.7,.6 4.4,.6-6.1,.6 1.1,.6-4,.6 4.4,.6 1.5,.6-11.9,.6 4.3,.6-1.8,.6 .5,.6 1.5,.6-2.9,.6 3.7,.6 1.5,.6 1.3,.6 2.7,.6 0,.6 .6,.6-.3,.6-4,.6-5.5,.6 4.2,.6-2.4,.6-.3,.6 .9,.6 2.9,.6-3.2,.6 8.3,.6-8,.6" fill="none" stroke="#0000e0" stroke-width="2.1" stroke-linejoin="round"/>
<rect x="694.0" y="364.1" width="50.8" height="60.1" fill="#fff" stroke="#111" stroke-width="1.4" />
<text x="697.4" y="386.9" font-size="21" fill="#1515ee" font-family='"Liberation Sans", sans-serif' textLength="39.3" lengthAdjust="spacingAndGlyphs">Wet</text>
<text x="696.9" y="416.7" font-size="21" fill="#1515ee" font-family='"Liberation Sans", sans-serif' textLength="46.5" lengthAdjust="spacingAndGlyphs">Sand</text>
<rect x="694.0" y="1004.4" width="50.8" height="60.9" fill="#fff" stroke="#111" stroke-width="1.4" />
<text x="697.4" y="1026.9" font-size="21" fill="#1515ee" font-family='"Liberation Sans", sans-serif' textLength="39.3" lengthAdjust="spacingAndGlyphs">Wet</text>
<text x="696.9" y="1056.4" font-size="21" fill="#1515ee" font-family='"Liberation Sans", sans-serif' textLength="46.5" lengthAdjust="spacingAndGlyphs">Sand</text>
<path d="M788.4,162l-.5,1.2 4.2,1.1 2.4,1.2-8.6,1.1-4.2,1.2 2.3,1.1 6.4,1.2-5,1.1-3.7,1.2-1.1,1.1 6.4,1.2 2.1,1.1-2.1,1.2 3.6,1.1 0,1.2-.8,1.1-7.4,1.2 2.9,1.1 10.8,1.2-6.1,1.1-5,1.2-1.5,1.1 2.6,1.2 3.5,1.1-1.4,1.2 6.1,1.1-3.8,1.2-.2,1.1 1.7,1.2 4.7,1.1 .3,1.2-4.3,1.1-7,1.2 4,1.1 2.2,1.2-3.6,1.1-1.9,1.2 3.8,1.1 2.7,1.2 2.7,1.1 2,1.2-5.4,1.1 9.2,1.2 1.8,1.1-7.2,1.2 2,1.1 1.3,1.2-.5,1.1 .5,1.2-6.5,1.1-1.3,1.2 1.3,1.1-1.5,1.2 7.4,1.1-.7,1.2-2,1.1-1.2,1.2 5.6,1.1-6,1.2-5.4,1.1 5.5,1.2 2.1,1.1-2.7,1.2-.3,1.1-2.1,1.2 0,1.1-4.9,1.2 3.8,1.1 7.9,1.2 .4,1.1-4.1,1.2-4.5,1.1 5.7,1.2 .7,1.1-12.6,1.2 10.2,1.1-5.5,1.2 3.4,1.1-.6,1.2 2.3,1.1-2.7,1.2 2.2,1.1-2.9,1.2 1.3,1.1-.4,1.2-5.5,1.1 3.2,1.2-.1,1.1 7.6,1.2-.7,1.1-9.3,1.2 9.2,1.1 1.3,1.2 .3,1.1-1.2,1.2-4.4,1.1-1.2,1.2 3.2,1.1 7.9,1.2-4.7,1.1-7.4,1.2 6,1.1 5.6,1.2-4.9,1.1-8,1.2 3.9,1.1 .1,1.2 3.2,1.1-4.4,1.2 2.6,1.1-.9,1.2 2.5,1.1-.2,1.2-.5,1.1 1.1,1.2 .8,1.1 1,1.2-6.2,1.1 .8,1.2 1.1,1.1-2.3,1.2 9.8,1.1 1.6,1.2-9.3,1.1-1.9,1.2 6.1,1.1-1.6,1.2 4.3,1.1-7.5,1.2 .8,1.1 3.4,1.2-.2,1.1-1.6,1.2 4.1,1.1-3.6,1.2 2.9,1.1-6.1,1.2 2.2,1.1-1.2,1.2 3.9,1.1-5.1,1.2 .4,1.1 1.9,1.2-3.7,1.1 5.6,1.2 1.9,1.1-4.7,1.2-2.3,1.1 7.6,1.2-4.7,1.1-2.3,1.2 .3,1.1 2.2,1.2 5.6,1.1-4.3,1.2 2.6,1.1 0,1.2 6.6,1.1-3.1,1.2-4.5,1.1-2.4,1.2 .3,1.1 1.3,1.2-3.1,1.1 2.5,1.2-2.6,1.1-4,1.2 3,1.1-4.4,1.2 .2,1.1 3.6,1.2-2.2,1.1 .4,1.2 4.7,1.1-6.5,1.2 5.3,1.1 2.8,1.2-1.4,1.1-1.5,1.2-1.7,1.1 2,1.2-2,1.1 4.8,1.2-1,1.1 3,1.2-5.5,1.1 3.3,1.2 7.6,1.1 1,1.2-10.2,1.1-5.6,1.2-1.4,1.1 6.7,1.2-6.6,1.1 5.7,1.2 5.9,1.1-3.4,1.2 .7,1.1 8,1.2 3.4,1.1 3.6,1.2-2.9,1.1 1.4,1.2-1.5,1.1-2.3,1.2-7.7,1.1-.7,1.2-.4,1.1 10.8,1.2 .8,1.1-18.9,1.2 .3,1.1 2.7,1.2 2,1.1 6.5,1.2 4.9,1.1-1.6,1.2 .9,1.1-9.2,1.2 5.2,1.1-1.2,1.2 1,1.1-4.3,1.2-.1,1.1 1.2,1.2 1.1,1.1-7,1.2 1.6,1.1 .8,1.2-.1,1.1 8.9,1.2-5.7,1.1-.5,1.2 2.1,1.1-.7,1.2-1.7,1.1-.9,1.2-.5,1.1 3.9,1.2-.5,1.1-1.3,1.2 1.5,1.1 4,1.2 1.7,1.1-2.6,1.2-3.2,1.1 2.7,1.2-.9,1.1-.8,1.2 2.8,1.1-1.4,1.2 4.2,1.1 3,1.2-4.3,1.1 1.4,1.2-10.3,1.1 3,1.2 .8,1.1 1.3,1.2 2.7,1.1 3.4,1.2-4.6,1.1-.9,1.2-4.5,1.1 4,1.2-7.2,1.1 7.5,1.2 4.3,1.1-6,1.2 3.1,1.1-2.2,1.2 1.7,1.1-1.4,1.2 5.9,1.1 3,1.2-1.6,1.1-.5,1.2-1.4,1.1-.9,1.2-3.3,1.1-1.9,1.2 1.2,1.1 4.1,1.2 .9,1.1 .1,1.2-4.8,1.1 2.9,1.2-3.1,1.1-2.5,1.2-4,1.1 6.8,1.2 4.8,1.1-3.8,1.2 2.6,1.1 2.1,1.2 2,1.1-5.5,1.2 2.2,1.1-.5,1.2-4.8,1.1-2.6,1.2 1,1.1 3.3,1.2-3.1,1.1 4.2,1.2-1.7,1.1 1.5,1.2 .1,1.1 1.7,1.2-4.5,1.1 3.5,1.2-1.4,1.1 5.7,1.2 .4,1.1-5.1,1.2 1.9,1.1 1.9,1.2-5.4,1.1 3,1.2 4.2,1.1-3.7,1.2-1.1,1.1-4.2,1.2 2.2,1.1 4.1,1.2 5.2,1.1-7.7,1.2 3.2,1.1-3.3,1.2 3.4,1.1 1.2,1.2-3.3,1.1-3.2,1.2 1.8,1.1-2.2,1.2 2.9,1.1 7,1.2-6.9,1.1 2.8,1.2 2,1.1 0,1.2-6.9,1.1 3,1.2-2.4,1.1 5,1.2-6.2,1.1-.6,1.2-1.9,1.1 1.4,1.2-6,1.1 6.2,1.2 2.5,1.1-.5,1.2-.2,1.1 6,1.2-6.8,1.1 3.3,1.2-.6,1.1-1.2,1.2 1.3,1.1-.5,1.2-1.2,1.1 2.9,1.2 .8,1.1 2.4,1.2 3.1,1.1-.1,1.2-6.8,1.1-1,1.2-2.5,1.1 3.1,1.2 2.6,1.1 .2,1.2-.5,1.1-1.6,1.2 4.4,1.1 1.4,1.2-1.5,1.1-5.1,1.2 1.2,1.1 3.3,1.2-.1,1.1 1.6,1.2-7,1.1 1.3,1.2-1.6,1.1 4.9,1.2 4,1.1-.4,1.2-1.3,1.1-3.7,1.2 1.7,1.1 1.7,1.2-1.2,1.1-4.7,1.2 .1,1.1 3.7,1.2-4.9,1.1 5,1.2-1.1,1.1-.8,1.2 3.6,1.1 .1,1.2 .5,1.1-5.2,1.2 1.5,1.1-.9,1.2 6.7,1.1-4.1,1.2-7.8,1.1 .5,1.2 3.2,1.1-3.8,1.2 .6,1.1 1.4,1.2 9.2,1.1-8.2,1.2 2.5,1.1 1.6,1.2-2.7,1.1-1.4,1.2 .5,1.1 3.7,1.2 2.4,1.1 .8,1.2-3.4,1.1 3,1.2 1.2,1.1-7.8,1.2 2.5,1.1 2.8,1.2 1,1.1-6.7,1.2 3.1,1.1-4.5,1.2 3.1,1.1 2,1.2-1.1,1.1 2.6,1.2-1.1,1.1-.8,1.2-.4,1.1-.8,1.2-6.6,1.1 6,1.2 0,1.1 .7,1.2 2.5,1.1-1,1.2-1.8,1.1-3.7,1.2 4.4,1.1-.2,1.2 1.8,1.1-3.6,1.2-4.7,1.1 4.5,1.2-4.7,1.1 2.3,1.2 3.2,1.1 4.4,1.2-2.9,1.1 0,1.2-6.5,1.1 0,1.2 .6,1.1 5.6,1.2-.4,1.1 .8,1.2 0,1.1-1.4,1.2-5.3,1.1 7.6,1.2-6.6,1.1 .4,1.2-6.1,1.1 8.5,1.2 4.2,1.1-5.7,1.2-2.3,1.1 5,1.2 1.6,1.1 2.1,1.2-6.5,1.1 5.8,1.2-5.5,1.1 3.5,1.2-.5,1.1 1.5,1.2-6.8,1.1-1.7,1.2 3.3,1.1-1.6,1.2 3.9,1.1-2.8,1.2 4.2,1.1-3.1,1.2-.5,1.1 3.1,1.2 2.9,1.1-6.5,1.2-.5,1.1-1.6,1.2 2.2,1.1 3.9,1.2-1.5,1.1-3.1,1.2 2.8,1.1 .3,1.2 1.9,1.1 2.5,1.2 3.3,1.1-.1,1.2 5.1,1.1-5.1,1.2-.9,1.1 6.6,1.2 .9,1.1-4.1,1.2-1.7,1.1-1.2,1.2-12.8,1.1-.2,1.2-6.2,1.1 .9,1.2 4.9,1.1 5.4,1.2 2.4,1.1-3.4,1.2 3.4,1.1-2.4,1.2 2.7,1.1-8.2,1.2 6.7,1.1-7.2,1.2 2.3,1.1 1.5,1.2 4.7,1.1-5,1.2 .7,1.1 .2,1.2 1.1,1.1 1.9,1.2 1.4,1.1-3.6,1.2-3.3,1.1 2.6,1.2 0,1.1 3,1.2 7,1.1-3.4,1.2-.9,1.1-5.1,1.2 .5,1.1 6.1,1.2-6.9,1.1-.8,1.2 1.2,1.1-6.8,1.2 10.2,1.1 3.3,1.2 .8,1.1-1.6,1.2-5.8,1.1 8,1.2 1.4,1.1 2.1,1.2-6.4,1.1 3.5,1.2 4.3,1.1-4.2,1.2-1.3,1.1-2.3,1.2-4,1.1 4.2,1.2-3.1,1.1 3.7,1.2 1,1.1-3.3,1.2-2.2,1.1 .6,1.2 8.1,1.1-4.3,1.2 3.7,1.1-3.1,1.2-3.6,1.1 2.3,1.2 .6,1.1-.5,1.2-3.2,1.1 4.3,1.2-3.1,1.1 1.6,1.2 1.3,1.1 10.7,1.2-5.1,1.1-1.8,1.2 4.5,1.1-3.1,1.2-4.8,1.1 1.3,1.2 4.2,1.1 1.9,1.2 2.3,1.1-16.5,1.2 5.2,1.1 5.5,1.2 8.9,1.1-8.4,1.2-3.7,1.1 3,1.2 .9,1.1-2.1,1.2 1,1.1-1.2,1.2-.6,1.1 5.8,1.2-4.3,1.1 7,1.2-1.8,1.1-3.5,1.2-2.3,1.1-2.2,1.2 6.3,1.1 1.7,1.2-3.5,1.1 4,1.2-8.2,1.1 9.2,1.2 1.5,1.1 9.9,1.2-6.2,1.1-11.8,1.2-5.3,1.1 1,1.2 9.4,1.1-5.5,1.2 6.9,1.1-4.5,1.2 4.2,1.1-3.2,1.2-1.1,1.1 3.4,1.2 0,1.1-5.9,1.2 4.2,1.1 7,1.2-7,1.1 2.9,1.2 1.1,1.1-2.4,1.2-1,1.1 4.4,1.2 0,1.1-5.2,1.2-4.7,1.1-1.9,1.2 1.2,1.1 5.5,1.2 1.2,1.1-1.2,1.2-1.6,1.1-.5,1.2-1.1,1.1-1.2,1.2 1.1,1.1 1.8,1.2 .1,1.1-8.4,1.2 8.8,1.1 1.3,1.2 1,1.1-3.5,1.2 2.7,1.1-1.4,1.2 2.1,1.1-.8,1.2-2.3,1.1 2.2,1.2-7.2,1.1-2.4,1.2 5.3,1.1-9,1.2 3.2,1.1 9.4,1.2-.1,1.1 .2,1.2-6.4,1.1 3.1,1.2-.2,1.1-4.1,1.2-.8,1.1 6.8,1.2 .5,1.1 .5,1.2-6.2,1.1-2.2,1.2 7.9,1.1 .7,1.2-2.9,1.1 .2,1.2 6.3,1.1-3.8,1.2-4.8,1.1 10.8,1.2-5.7,1.1-4.1,1.2-.5,1.1 2.1,1.2 .7,1.1-2.8,1.2 4,1.1 1.3,1.2-.3,1.1 2.4,1.2-7,1.1 .3,1.2 2,1.1 5.7,1.2-7.7,1.1 .5,1.2-5.5,1.1 1.7,1.2-1,1.1 1.6,1.2 .4,1.1-.9,1.2 2.2,1.1 3.1,1.2 1.4,1.1-5,1.2 2.7,1.1 1.4,1.2-4.3,1.1 .4,1.2-2.2,1.1 7.6,1.2 4.1,1.1 2.2,1.2-2.3,1.1-3.6,1.2-2.6,1.1-1.3,1.2 .8,1.1 .5,1.2-6.3,1.1 3.3,1.2 7,1.1 4.3,1.2-6.7,1.1 .7,1.2 2,1.1-.7,1.2 4.2,1.1-1,1.2-3.6,1.1 2.5,1.2-3.5,1.1 6.2,1.2-9.1,1.1 .1,1.2-.1,1.1 1.2,1.2-6.9,1.1 8.5,1.2 4.3,1.1 .7,1.2 .2,1.1-1.1,1.2 2.7,1.1-4.8,1.2-.6,1.1 1.7,1.2 9.8,1.1-3,1.2-2.7,1.1-7.5,1.2 5.3,1.1-3.6,1.2 3.8,1.1 2.7,1.2-4.5,1.1-2.6,1.2 9.4,1.1-.7,1.2-1.6,1.1-6.4,1.2-3.3,1.1-2.3,1.2-4.1,1.1 4.1,1.2 .7,1.1 2,1.2-.9,1.1 4.7,1.2 1.2,1.1-3,1.2 6,1.1 4.3,1.2 2.4,1.1" fill="none" stroke="#1010e8" stroke-width="1.5" stroke-linejoin="round"/>
<path d="M1016.4,142.1l0,3 0,3 0,3 0,3 0,3 .2,3 1.2,3 1.3,3 1.4,3 1.3,3 1.4,3 1.1,3 .9,3 .7,3 .3,3-.1,3-.3,3-.8,3-.9,3-1.2,3-1.4,3-1.4,3-1.3,3-1.3,3-1.1,3 0,3 0,3 0,3 0,3 0,3 0,3 0,3 0,3 0,3 0,3 0,3 0,3 0,3 0,3 .5,3 .5,3 .5,3 .6,3 .5,3 .6,3 .5,3 .5,3 .4,3 .2,3 .2,3-.1,3-.2,3-.4,3-.5,3-.6,3-.7,3-.7,3-.7,3-.8,3-.3,3 0,3 0,3 0,3 0,3 0,3 0,3 0,3 0,3 0,3 0,3 .1,3 1.1,3 1.1,3 1.2,3 1.3,3 1.1,3 1,3 .8,3 .5,3 .2,3-.1,3-.4,3-.7,3-.9,3-.9,3-1,3-1,3-.9,3-.8,3-.7,3-.6,3-.4,3 0,3 0,3 0,3 0,3 0,3 0,3 0,3 0,3 0,3 0,3 0,3 0,3 0,3 0,3 0,3 0,3 0,3 0,3 0,3 .2,3 .3,3 .4,3 .5,3 .6,3 .6,3 .7,3 .8,3 .7,3 .7,3 .6,3 .5,3 .3,3 0,3-.1,3-.4,3-.6,3-.7,3-.9,3-.9,3-1,3-1,3-.9,3-.4,3 0,3 0,3 0,3 0,3 0,3 0,3 0,3 0,3 0,3 0,3 0,3 0,3 0,3 .5,3 .6,3 .7,3 .6,3 .6,3 .6,3 .5,3 .4,3 .2,3 0,3-.1,3-.4,3-.5,3-.6,3-.8,3-.8,3-.8,3-.7,3 0,3 0,3 0,3 0,3 0,3 0,3 0,3 0,3 0,3 .5,3 .7,3 .7,3 .7,3 .6,3 .6,3 .5,3 .4,3 .2,3 0,3-.2,3-.4,3-.5,3-.7,3-.7,3-.9,3-1,3-.5,3 0,3 0,3 0,3 0,3 0,3 0,3 0,3 0,3 0,3 0,3 0,3 0,3 0,3 0,3 0,3 0,3 0,3 0,3 .8,3 1.6,3 1.6,3 1.4,3 1.4,3 1.1,3 .9,3 .7,3 .3,3 0,3-.3,3-.5,3-.8,3-.9,3-1.1,3-1.1,3-1.1,3-1,3-1,3-.9,3-.7,3-.4,3 0,3 0,3 0,3 0,3 .3,3 .7,3 .8,3 .8,3 .9,3 .7,3 .5,3 .2,3-.1,3-.4,3-.7,3-1.1,3-1.2,3-1.4,3 0,3 0,3 0,3 0,3 0,3 0,3 0,3 0,3 0,3 0,3 0,3 0,3 0,3 0,3 0,3 0,3 0,3 0,3 0,3 1.1,3 1.1,3 1,3 .7,3 .5,3 .2,3 0,3-.2,3-.4,3-.4,3-.5,3-.5,3-.4,3-.3,3-.2,3-.1,3 0,3 .2,3 .3,3 .3,3 .5,3 .5,3 .6,3 .6,3 .6,3 .6,3 .5,3 .4,3 .3,3 0,3-.1,3-.3,3-.5,3-.7,3-.8,3-.9,3-1.1,3-1.1,3-1.2,3-.3,3 0,3 0,3 0,3 0,1.4z" fill="#6464ff" stroke="none" stroke-width="1" />
<path d="M1016.4,142.1l-2.3,0-.1,3 0,3 .3,3 .5,3 .8,3 .8,3 0,3 0,3 0,3 0,3 0,3 0,3 0,3 0,3 0,3 0,3 0,3 0,3 0,3 0,3 0,3 0,3 0,3 0,3-.1,3-1,3-.8,3-.6,3-.4,3-.2,3 0,3 .2,3 .3,3 .4,3 .4,3 .4,3 .5,3 .5,3 .4,3 0,3 0,3 0,3 0,3 0,3 0,3 0,3 0,3 0,3 0,3 0,3 0,3 0,3 0,3 0,3 0,3 0,3 0,3 0,3 0,3-.4,3-.6,3-.6,3-.5,3-.3,3-.2,3 0,3 .1,3 .4,3 .6,3 .7,3 .8,3 0,3 0,3 0,3 0,3 0,3 0,3 0,3 0,3 0,3 0,3 0,3 0,3 0,3 0,3 0,3 0,3 0,3 0,3 0,3 0,3 0,3-.5,3-.3,3-.3,3-.3,3-.2,3-.2,3-.1,3-.1,3 0,3 .1,3 .1,3 .1,3 .2,3 .2,3 .2,3 .2,3 .3,3 .2,3 .3,3 .1,3 0,3 0,3 0,3 0,3 0,3 0,3 0,3 0,3 0,3 0,3 0,3 0,3 0,3 0,3 0,3 0,3 0,3 0,3 0,3 0,3 0,3 0,3-.4,3-.7,3-.7,3-.4,3-.4,3-.2,3 0,3 .1,3 .2,3 .4,3 .4,3 .5,3 .5,3 .6,3 .1,3 0,3 0,3 0,3 0,3 0,3 0,3 0,3 0,3 0,3 0,3 0,3 0,3 0,3 0,3 0,3 0,3-.1,3-.6,3-.5,3-.3,3-.2,3 0,3 .2,3 .3,3 .5,3 .5,3 .2,3 0,3 0,3 0,3 0,3 0,3 0,3 0,3 0,3 0,3 0,3 0,3 0,3 0,3 0,3 0,3 0,3-.5,3-1.1,3-1.1,3-1.1,3-1.1,3-1.1,3-.9,3-.8,3-.6,3-.4,3-.1,3 .2,3 .4,3 .8,3 1,3 1.1,3 1.4,3 1.5,3 1.6,3 .8,3 0,3 0,3 0,3 0,3 0,3 0,3 0,3 0,3 0,3 0,3 0,3 0,3 0,3 0,3 0,3 0,3 0,3 0,3 0,3 0,3-.1,3-.3,3-.2,3 .1,3 .3,3 .2,3 0,3 0,3 0,3 0,3 0,3 0,3 0,3 0,3 0,3 0,3 0,3 0,3-.1,3-1.5,3-1.5,3-1.5,3-1.4,3-1.3,3-1.1,3-1,3-.6,3-.3,3 0,3 .3,3 .6,3 .9,3 1.1,3 1.3,3 1.5,3 1.5,3 1.4,3 1.5,3 .2,3 0,3 0,3 0,3 0,3 0,3 0,3 0,3 0,3 0,3 0,3 0,3 0,3 0,3 0,3 0,3 0,3 0,3 0,3 0,3 0,3 0,3 0,3 0,3 0,3 0,3 0,3 0,3 0,3 0,3 0,3 0,3 0,3 0,3 0,3 0,3 0,3 0,3 0,3-.9,3-1,3-.6,3-.3,3 2.8,1.4z" fill="#ff6868" stroke="none" stroke-width="1" />
<path d="M1014.1,142.1l-.1,3 0,3 .3,3 .5,3 .8,3 1,3 1.2,3 1.3,3 1.4,3 1.3,3 1.4,3 1.1,3 .9,3 .7,3 .3,3-.1,3-.3,3-.8,3-.9,3-1.2,3-1.4,3-1.4,3-1.3,3-1.3,3-1.2,3-1,3-.8,3-.6,3-.4,3-.2,3 0,3 .2,3 .3,3 .4,3 .4,3 .4,3 .5,3 .5,3 .4,3 .5,3 .5,3 .5,3 .6,3 .5,3 .6,3 .5,3 .5,3 .4,3 .2,3 .2,3-.1,3-.2,3-.4,3-.5,3-.6,3-.7,3-.7,3-.7,3-.8,3-.7,3-.6,3-.6,3-.5,3-.3,3-.2,3 0,3 .1,3 .4,3 .6,3 .7,3 .9,3 1.1,3 1.1,3 1.2,3 1.3,3 1.1,3 1,3 .8,3 .5,3 .2,3-.1,3-.4,3-.7,3-.9,3-.9,3-1,3-1,3-.9,3-.8,3-.7,3-.6,3-.4,3-.5,3-.3,3-.3,3-.3,3-.2,3-.2,3-.1,3-.1,3 0,3 .1,3 .1,3 .1,3 .2,3 .2,3 .2,3 .2,3 .3,3 .2,3 .3,3 .3,3 .3,3 .4,3 .5,3 .6,3 .6,3 .7,3 .8,3 .7,3 .7,3 .6,3 .5,3 .3,3 0,3-.1,3-.4,3-.6,3-.7,3-.9,3-.9,3-1,3-1,3-.9,3-.8,3-.7,3-.7,3-.4,3-.4,3-.2,3 0,3 .1,3 .2,3 .4,3 .4,3 .5,3 .5,3 .6,3 .6,3 .6,3 .7,3 .6,3 .6,3 .6,3 .5,3 .4,3 .2,3 0,3-.1,3-.4,3-.5,3-.6,3-.8,3-.8,3-.8,3-.8,3-.6,3-.5,3-.3,3-.2,3 0,3 .2,3 .3,3 .5,3 .5,3 .7,3 .7,3 .7,3 .7,3 .6,3 .6,3 .5,3 .4,3 .2,3 0,3-.2,3-.4,3-.5,3-.7,3-.7,3-.9,3-1,3-1,3-1.1,3-1.1,3-1.1,3-1.1,3-1.1,3-.9,3-.8,3-.6,3-.4,3-.1,3 .2,3 .4,3 .8,3 1,3 1.1,3 1.4,3 1.5,3 1.6,3 1.6,3 1.6,3 1.6,3 1.4,3 1.4,3 1.1,3 .9,3 .7,3 .3,3 0,3-.3,3-.5,3-.8,3-.9,3-1.1,3-1.1,3-1.1,3-1,3-1,3-.9,3-.7,3-.5,3-.3,3-.2,3 .1,3 .3,3 .5,3 .7,3 .8,3 .8,3 .9,3 .7,3 .5,3 .2,3-.1,3-.4,3-.7,3-1.1,3-1.2,3-1.5,3-1.5,3-1.5,3-1.5,3-1.4,3-1.3,3-1.1,3-1,3-.6,3-.3,3 0,3 .3,3 .6,3 .9,3 1.1,3 1.3,3 1.5,3 1.5,3 1.4,3 1.5,3 1.3,3 1.1,3 1,3 .7,3 .5,3 .2,3 0,3-.2,3-.4,3-.4,3-.5,3-.5,3-.4,3-.3,3-.2,3-.1,3 0,3 .2,3 .3,3 .3,3 .5,3 .5,3 .6,3 .6,3 .6,3 .6,3 .5,3 .4,3 .3,3 0,3-.1,3-.3,3-.5,3-.7,3-.8,3-.9,3-1.1,3-1.1,3-1.2,3-1.2,3-1,3-.6,3-.3,3" fill="none" stroke="#111" stroke-width="1.8" stroke-linejoin="round"/>
<path d="M1038.6,142.1l0,3 0,3 0,3 0,3 0,3 .3,3 1.2,3 1.3,3 1.4,3 1.3,3 1.3,3 1.1,3 .9,3 .6,3 .3,3 0,3-.4,3-.7,3-1,3-1.2,3-1.4,3-1.3,3-1.4,3-1.3,3-1,3 0,3 0,3 0,3 0,3 0,3 0,3 0,3 0,3 0,3 0,3 0,3 0,3 0,3 0,3 .5,3 .5,3 .5,3 .6,3 .5,3 .6,3 .6,3 .5,3 .3,3 .3,3 .1,3 0,3-.3,3-.3,3-.5,3-.7,3-.7,3-.7,3-.8,3-.7,3-.3,3 0,3 0,3 0,3 0,3 0,3 0,3 0,3 0,3 0,3 0,3 0,3 .6,3 1.2,3 1.2,3 1.2,3 1.2,3 1,3 .8,3 .6,3 .2,3 0,3-.4,3-.6,3-.7,3-.9,3-.9,3-.9,3-.8,3-.8,3-.6,3-.5,3-.5,3-.3,3-.1,3 0,3 0,3 0,3 0,3 0,3 0,3 0,3 0,3 0,3 0,3 0,3 0,3 0,3 0,3 0,3 0,3 0,3 0,3 .3,3 .4,3 .5,3 .6,3 .6,3 .7,3 .8,3 .8,3 .7,3 .6,3 .5,3 .3,3 0,3-.1,3-.4,3-.6,3-.7,3-.9,3-.9,3-1,3-1,3-.9,3-.3,3 0,3 0,3 0,3 0,3 0,3 0,3 0,3 0,3 0,3 0,3 0,3 0,3 0,3 .5,3 .6,3 .7,3 .6,3 .6,3 .6,3 .5,3 .4,3 .2,3 0,3-.1,3-.4,3-.5,3-.6,3-.8,3-.8,3-.8,3-.7,3 0,3 0,3 0,3 0,3 0,3 0,3 0,3 0,3 0,3 .4,3 .7,3 .7,3 .7,3 .7,3 .6,3 .4,3 .4,3 .2,3 0,3-.2,3-.4,3-.5,3-.6,3-.8,3-.8,3-1,3-.5,3 0,3 0,3 0,3 0,3 0,3 0,3 0,3 0,3 0,3 0,3 0,3 0,3 0,3 0,3 0,3 0,3 0,3 0,3 .8,3 1.5,3 1.6,3 1.4,3 1.3,3 1.1,3 .9,3 .6,3 .3,3 .1,3-.3,3-.5,3-.8,3-.9,3-1,3-1.1,3-1.1,3-1,3-1,3-.8,3-.7,3-.4,3 0,3 0,3 0,3 0,3 .3,3 .6,3 .8,3 .9,3 .8,3 .7,3 .5,3 .2,3-.1,3-.4,3-.7,3-1,3-1.3,3-1.3,3 0,3 0,3 0,3 0,3 0,3 0,3 0,3 0,3 0,3 0,3 0,3 0,3 0,3 0,3 0,3 0,3 0,3 0,3 0,3 .8,3 1.1,3 .9,3 .7,3 .5,3 .2,3 0,3-.2,3-.4,3-.4,3-.5,3-.4,3-.4,3-.3,3-.2,3 0,3 .1,3 .2,3 .3,3 .4,3 .4,3 .6,3 .6,3 .7,3 .6,3 .7,3 .5,3 .5,3 .3,3 .1,3-.1,3-.2,3-.5,3-.6,3-.7,3-.9,3-1.1,3-1.1,3-1.3,3-.9,3 0,3 0,3 0,3 0,1.4z" fill="#6464ff" stroke="none" stroke-width="1" />
<path d="M1038.6,142.1l-2.2,0-.1,3 .1,3 .3,3 .5,3 .8,3 .6,3 0,3 0,3 0,3 0,3 0,3 0,3 0,3 0,3 0,3 0,3 0,3 0,3 0,3 0,3 0,3 0,3 0,3 0,3-.2,3-1,3-.8,3-.6,3-.4,3-.1,3 0,3 .1,3 .3,3 .4,3 .5,3 .4,3 .5,3 .4,3 .5,3 0,3 0,3 0,3 0,3 0,3 0,3 0,3 0,3 0,3 0,3 0,3 0,3 0,3 0,3 0,3 0,3 0,3 0,3 0,3 0,3-.4,3-.7,3-.6,3-.5,3-.4,3-.2,3-.1,3 .1,3 .3,3 .5,3 .7,3 .9,3 .4,3 0,3 0,3 0,3 0,3 0,3 0,3 0,3 0,3 0,3 0,3 0,3 0,3 0,3 0,3 0,3 0,3 0,3 0,3 0,3 0,3 0,3-.3,3-.3,3-.3,3-.2,3-.2,3-.2,3-.1,3-.1,3 0,3 0,3 .1,3 .1,3 .1,3 .2,3 .2,3 .2,3 .2,3 .3,3 .3,3 0,3 0,3 0,3 0,3 0,3 0,3 0,3 0,3 0,3 0,3 0,3 0,3 0,3 0,3 0,3 0,3 0,3 0,3 0,3 0,3 0,3 0,3-.5,3-.8,3-.6,3-.5,3-.3,3-.2,3-.1,3 .1,3 .3,3 .3,3 .5,3 .5,3 .6,3 .5,3 .2,3 0,3 0,3 0,3 0,3 0,3 0,3 0,3 0,3 0,3 0,3 0,3 0,3 0,3 0,3 0,3 0,3 0,3-.7,3-.5,3-.3,3-.2,3 0,3 .2,3 .3,3 .5,3 .5,3 .2,3 0,3 0,3 0,3 0,3 0,3 0,3 0,3 0,3 0,3 0,3 0,3 0,3 0,3 0,3 0,3 0,3-.5,3-1,3-1.1,3-1.1,3-1.1,3-1,3-.9,3-.8,3-.6,3-.4,3-.1,3 .2,3 .4,3 .8,3 .9,3 1.2,3 1.3,3 1.5,3 1.5,3 .8,3 0,3 0,3 0,3 0,3 0,3 0,3 0,3 0,3 0,3 0,3 0,3 0,3 0,3 0,3 0,3 0,3 0,3 0,3 0,3 0,3-.1,3-.4,3-.1,3 .1,3 .3,3 .2,3 0,3 0,3 0,3 0,3 0,3 0,3 0,3 0,3 0,3 0,3 0,3 0,3-.1,3-1.4,3-1.5,3-1.5,3-1.4,3-1.3,3-1.1,3-.8,3-.7,3-.3,3 0,3 .3,3 .6,3 .8,3 1.1,3 1.3,3 1.4,3 1.4,3 1.4,3 1.4,3 .4,3 0,3 0,3 0,3 0,3 0,3 0,3 0,3 0,3 0,3 0,3 0,3 0,3 0,3 0,3 0,3 0,3 0,3 0,3 0,3 0,3 0,3 0,3 0,3 0,3 0,3 0,3 0,3 0,3 0,3 0,3 0,3 0,3 0,3 0,3 0,3 0,3 0,3 0,3-.3,3-1,3-.9,3-.5,3 2.7,1.4z" fill="#ff6868" stroke="none" stroke-width="1" />
<path d="M1036.4,142.1l-.1,3 .1,3 .3,3 .5,3 .8,3 .9,3 1.2,3 1.3,3 1.4,3 1.3,3 1.3,3 1.1,3 .9,3 .6,3 .3,3 0,3-.4,3-.7,3-1,3-1.2,3-1.4,3-1.3,3-1.4,3-1.3,3-1.2,3-1,3-.8,3-.6,3-.4,3-.1,3 0,3 .1,3 .3,3 .4,3 .5,3 .4,3 .5,3 .4,3 .5,3 .5,3 .5,3 .5,3 .6,3 .5,3 .6,3 .6,3 .5,3 .3,3 .3,3 .1,3 0,3-.3,3-.3,3-.5,3-.7,3-.7,3-.7,3-.8,3-.7,3-.7,3-.7,3-.6,3-.5,3-.4,3-.2,3-.1,3 .1,3 .3,3 .5,3 .7,3 .9,3 1,3 1.2,3 1.2,3 1.2,3 1.2,3 1,3 .8,3 .6,3 .2,3 0,3-.4,3-.6,3-.7,3-.9,3-.9,3-.9,3-.8,3-.8,3-.6,3-.5,3-.5,3-.3,3-.4,3-.3,3-.3,3-.2,3-.2,3-.2,3-.1,3-.1,3 0,3 0,3 .1,3 .1,3 .1,3 .2,3 .2,3 .2,3 .2,3 .3,3 .3,3 .3,3 .4,3 .5,3 .6,3 .6,3 .7,3 .8,3 .8,3 .7,3 .6,3 .5,3 .3,3 0,3-.1,3-.4,3-.6,3-.7,3-.9,3-.9,3-1,3-1,3-.9,3-.8,3-.8,3-.6,3-.5,3-.3,3-.2,3-.1,3 .1,3 .3,3 .3,3 .5,3 .5,3 .6,3 .5,3 .7,3 .6,3 .7,3 .6,3 .6,3 .6,3 .5,3 .4,3 .2,3 0,3-.1,3-.4,3-.5,3-.6,3-.8,3-.8,3-.8,3-.7,3-.7,3-.5,3-.3,3-.2,3 0,3 .2,3 .3,3 .5,3 .5,3 .6,3 .7,3 .7,3 .7,3 .7,3 .6,3 .4,3 .4,3 .2,3 0,3-.2,3-.4,3-.5,3-.6,3-.8,3-.8,3-1,3-1,3-1,3-1.1,3-1.1,3-1.1,3-1,3-.9,3-.8,3-.6,3-.4,3-.1,3 .2,3 .4,3 .8,3 .9,3 1.2,3 1.3,3 1.5,3 1.5,3 1.6,3 1.5,3 1.6,3 1.4,3 1.3,3 1.1,3 .9,3 .6,3 .3,3 .1,3-.3,3-.5,3-.8,3-.9,3-1,3-1.1,3-1.1,3-1,3-1,3-.8,3-.7,3-.5,3-.4,3-.1,3 .1,3 .3,3 .5,3 .6,3 .8,3 .9,3 .8,3 .7,3 .5,3 .2,3-.1,3-.4,3-.7,3-1,3-1.3,3-1.4,3-1.4,3-1.5,3-1.5,3-1.4,3-1.3,3-1.1,3-.8,3-.7,3-.3,3 0,3 .3,3 .6,3 .8,3 1.1,3 1.3,3 1.4,3 1.4,3 1.4,3 1.4,3 1.2,3 1.1,3 .9,3 .7,3 .5,3 .2,3 0,3-.2,3-.4,3-.4,3-.5,3-.4,3-.4,3-.3,3-.2,3 0,3 .1,3 .2,3 .3,3 .4,3 .4,3 .6,3 .6,3 .7,3 .6,3 .7,3 .5,3 .5,3 .3,3 .1,3-.1,3-.2,3-.5,3-.6,3-.7,3-.9,3-1.1,3-1.1,3-1.3,3-1.2,3-1,3-.9,3-.5,3" fill="none" stroke="#111" stroke-width="1.8" stroke-linejoin="round"/>
<path d="M1060.8,142.1l0,3 0,3 0,3 0,3 0,3 .7,3 1.1,3 1.2,3 1.3,3 1.3,3 1.3,3 1,3 .9,3 .6,3 .2,3-.1,3-.4,3-.7,3-1,3-1.2,3-1.3,3-1.4,3-1.4,3-1.3,3-.8,3 0,3 0,3 0,3 0,3 0,3 0,3 0,3 0,3 0,3 0,3 0,3 0,3 0,3 0,3 .5,3 .5,3 .6,3 .5,3 .6,3 .6,3 .6,3 .5,3 .4,3 .2,3 .1,3 0,3-.2,3-.4,3-.6,3-.6,3-.7,3-.8,3-.8,3-.8,3-.2,3 0,3 0,3 0,3 0,3 0,3 0,3 0,3 0,3 0,3 0,3 0,3 0,3 .6,3 1.2,3 1.3,3 1.2,3 1.1,3 .9,3 .6,3 .4,3 0,3-.2,3-.4,3-.6,3-.7,3-.8,3-.7,3-.6,3-.6,3-.5,3-.4,3-.4,3-.3,3-.3,3-.3,3-.3,3-.2,3 0,3 0,3 0,3 0,3 0,3 0,3 0,3 0,3 0,3 0,3 0,3 0,3 0,3 0,3 0,3 0,3 .2,3 .6,3 .6,3 .7,3 .7,3 .8,3 .8,3 .7,3 .7,3 .4,3 .3,3 .1,3-.2,3-.3,3-.6,3-.7,3-.9,3-.9,3-1,3-1,3-.9,3-.1,3 0,3 0,3 0,3 0,3 0,3 0,3 0,3 0,3 0,3 0,3 0,3 0,3 0,3 .4,3 .6,3 .7,3 .7,3 .6,3 .6,3 .5,3 .4,3 .2,3 0,3-.1,3-.4,3-.5,3-.6,3-.8,3-.7,3-.8,3-.8,3 0,3 0,3 0,3 0,3 0,3 0,3 0,3 0,3 0,3 .4,3 .7,3 .6,3 .7,3 .6,3 .6,3 .4,3 .4,3 .1,3 .1,3-.2,3-.3,3-.5,3-.6,3-.8,3-.8,3-.9,3-.5,3 0,3 0,3 0,3 0,3 0,3 0,3 0,3 0,3 0,3 0,3 0,3 0,3 0,3 0,3 0,3 0,3 0,3 0,3 .7,3 1.5,3 1.4,3 1.4,3 1.2,3 1.1,3 .8,3 .6,3 .3,3 0,3-.2,3-.5,3-.7,3-.9,3-1,3-1,3-1,3-1,3-.9,3-.8,3-.7,3-.3,3 0,3 0,3 0,3 0,3 .2,3 .7,3 .7,3 .8,3 .8,3 .7,3 .5,3 .2,3-.1,3-.4,3-.7,3-.9,3-1.2,3-1.3,3 0,3 0,3 0,3 0,3 0,3 0,3 0,3 0,3 0,3 0,3 0,3 0,3 0,3 0,3 0,3 0,3 0,3 0,3 0,3 .3,3 1,3 .8,3 .6,3 .4,3 .2,3 0,3-.2,3-.3,3-.4,3-.4,3-.4,3-.3,3-.2,3-.1,3 0,3 .1,3 .3,3 .3,3 .5,3 .5,3 .7,3 .7,3 .7,3 .8,3 .7,3 .7,3 .6,3 .4,3 .2,3 .1,3-.1,3-.4,3-.5,3-.7,3-.8,3-1.1,3-1.1,3-1.3,3-1.3,3-1,3 0,3 0,3 0,1.4z" fill="#6464ff" stroke="none" stroke-width="1" />
<path d="M1060.8,142.1l-1.9,0-.1,3 .1,3 .3,3 .6,3 .7,3 .3,3 0,3 0,3 0,3 0,3 0,3 0,3 0,3 0,3 0,3 0,3 0,3 0,3 0,3 0,3 0,3 0,3 0,3 0,3-.3,3-1,3-.8,3-.6,3-.4,3-.1,3 0,3 .2,3 .3,3 .4,3 .4,3 .5,3 .5,3 .4,3 .5,3 0,3 0,3 0,3 0,3 0,3 0,3 0,3 0,3 0,3 0,3 0,3 0,3 0,3 0,3 0,3 0,3 0,3 0,3 0,3 0,3-.5,3-.8,3-.6,3-.6,3-.5,3-.3,3-.2,3 0,3 .2,3 .4,3 .6,3 .8,3 1,3 .5,3 0,3 0,3 0,3 0,3 0,3 0,3 0,3 0,3 0,3 0,3 0,3 0,3 0,3 0,3 0,3 0,3 0,3 0,3 0,3 0,3 0,3 0,3 0,3-.1,3-.3,3-.3,3-.2,3-.2,3-.2,3-.1,3-.1,3 0,3 .1,3 0,3 .1,3 .1,3 .2,3 .2,3 .3,3 .3,3 .2,3 0,3 0,3 0,3 0,3 0,3 0,3 0,3 0,3 0,3 0,3 0,3 0,3 0,3 0,3 0,3 0,3 0,3 0,3 0,3 0,3-.8,3-.7,3-.7,3-.5,3-.4,3-.2,3 0,3 .1,3 .3,3 .4,3 .5,3 .5,3 .6,3 .6,3 .3,3 0,3 0,3 0,3 0,3 0,3 0,3 0,3 0,3 0,3 0,3 0,3 0,3 0,3 0,3 0,3 0,3 0,3-.6,3-.5,3-.4,3-.1,3 0,3 .1,3 .3,3 .5,3 .5,3 .2,3 0,3 0,3 0,3 0,3 0,3 0,3 0,3 0,3 0,3 0,3 0,3 0,3 0,3 0,3 0,3 0,3-.4,3-1,3-1,3-1.1,3-1,3-1,3-.9,3-.7,3-.6,3-.3,3-.1,3 .1,3 .5,3 .7,3 .9,3 1.1,3 1.2,3 1.4,3 1.4,3 .8,3 0,3 0,3 0,3 0,3 0,3 0,3 0,3 0,3 0,3 0,3 0,3 0,3 0,3 0,3 0,3 0,3 0,3 0,3 0,3 0,3-.2,3-.3,3-.1,3 .1,3 .3,3 .2,3 0,3 0,3 0,3 0,3 0,3 0,3 0,3 0,3 0,3 0,3 0,3 0,3 0,3-1.4,3-1.5,3-1.4,3-1.3,3-1.2,3-1.1,3-.8,3-.6,3-.3,3-.1,3 .3,3 .5,3 .8,3 1,3 1.2,3 1.2,3 1.3,3 1.3,3 1.3,3 .8,3 0,3 0,3 0,3 0,3 0,3 0,3 0,3 0,3 0,3 0,3 0,3 0,3 0,3 0,3 0,3 0,3 0,3 0,3 0,3 0,3 0,3 0,3 0,3 0,3 0,3 0,3 0,3 0,3 0,3 0,3 0,3 0,3 0,3 0,3 0,3 0,3 0,3 0,3 0,3-.3,3-1.2,3-1,3 2.5,1.4z" fill="#ff6868" stroke="none" stroke-width="1" />
<path d="M1058.9,142.1l-.1,3 .1,3 .3,3 .6,3 .7,3 1,3 1.1,3 1.2,3 1.3,3 1.3,3 1.3,3 1,3 .9,3 .6,3 .2,3-.1,3-.4,3-.7,3-1,3-1.2,3-1.3,3-1.4,3-1.4,3-1.3,3-1.1,3-1,3-.8,3-.6,3-.4,3-.1,3 0,3 .2,3 .3,3 .4,3 .4,3 .5,3 .5,3 .4,3 .5,3 .5,3 .5,3 .6,3 .5,3 .6,3 .6,3 .6,3 .5,3 .4,3 .2,3 .1,3 0,3-.2,3-.4,3-.6,3-.6,3-.7,3-.8,3-.8,3-.8,3-.7,3-.8,3-.6,3-.6,3-.5,3-.3,3-.2,3 0,3 .2,3 .4,3 .6,3 .8,3 1,3 1.1,3 1.2,3 1.3,3 1.2,3 1.1,3 .9,3 .6,3 .4,3 0,3-.2,3-.4,3-.6,3-.7,3-.8,3-.7,3-.6,3-.6,3-.5,3-.4,3-.4,3-.3,3-.3,3-.3,3-.3,3-.3,3-.3,3-.3,3-.2,3-.2,3-.2,3-.1,3-.1,3 0,3 .1,3 0,3 .1,3 .1,3 .2,3 .2,3 .3,3 .3,3 .4,3 .6,3 .6,3 .7,3 .7,3 .8,3 .8,3 .7,3 .7,3 .4,3 .3,3 .1,3-.2,3-.3,3-.6,3-.7,3-.9,3-.9,3-1,3-1,3-.9,3-.9,3-.7,3-.7,3-.5,3-.4,3-.2,3 0,3 .1,3 .3,3 .4,3 .5,3 .5,3 .6,3 .6,3 .7,3 .6,3 .7,3 .7,3 .6,3 .6,3 .5,3 .4,3 .2,3 0,3-.1,3-.4,3-.5,3-.6,3-.8,3-.7,3-.8,3-.8,3-.6,3-.5,3-.4,3-.1,3 0,3 .1,3 .3,3 .5,3 .5,3 .6,3 .7,3 .6,3 .7,3 .6,3 .6,3 .4,3 .4,3 .1,3 .1,3-.2,3-.3,3-.5,3-.6,3-.8,3-.8,3-.9,3-.9,3-1,3-1,3-1.1,3-1,3-1,3-.9,3-.7,3-.6,3-.3,3-.1,3 .1,3 .5,3 .7,3 .9,3 1.1,3 1.2,3 1.4,3 1.4,3 1.5,3 1.5,3 1.4,3 1.4,3 1.2,3 1.1,3 .8,3 .6,3 .3,3 0,3-.2,3-.5,3-.7,3-.9,3-1,3-1,3-1,3-1,3-.9,3-.8,3-.7,3-.5,3-.3,3-.1,3 .1,3 .3,3 .4,3 .7,3 .7,3 .8,3 .8,3 .7,3 .5,3 .2,3-.1,3-.4,3-.7,3-.9,3-1.2,3-1.3,3-1.4,3-1.5,3-1.4,3-1.3,3-1.2,3-1.1,3-.8,3-.6,3-.3,3-.1,3 .3,3 .5,3 .8,3 1,3 1.2,3 1.2,3 1.3,3 1.3,3 1.3,3 1.1,3 1,3 .8,3 .6,3 .4,3 .2,3 0,3-.2,3-.3,3-.4,3-.4,3-.4,3-.3,3-.2,3-.1,3 0,3 .1,3 .3,3 .3,3 .5,3 .5,3 .7,3 .7,3 .7,3 .8,3 .7,3 .7,3 .6,3 .4,3 .2,3 .1,3-.1,3-.4,3-.5,3-.7,3-.8,3-1.1,3-1.1,3-1.3,3-1.3,3-1.3,3-1.2,3-1,3" fill="none" stroke="#111" stroke-width="1.8" stroke-linejoin="round"/>
<path d="M1083,142.1l0,3 0,3 0,3 0,3 .2,3 .9,3 1.1,3 1.2,3 1.2,3 1.2,3 1.2,3 1,3 .8,3 .5,3 .2,3-.2,3-.4,3-.8,3-1,3-1.2,3-1.3,3-1.3,3-1.4,3-1.2,3-.7,3 0,3 0,3 0,3 0,3 0,3 0,3 0,3 0,3 0,3 0,3 0,3 0,3 0,3 0,3 .5,3 .6,3 .5,3 .6,3 .6,3 .6,3 .6,3 .5,3 .4,3 .3,3 .1,3-.1,3-.2,3-.4,3-.5,3-.7,3-.7,3-.9,3-.8,3-.8,3-.2,3 0,3 0,3 0,3 0,3 0,3 0,3 0,3 0,3 0,3 0,3 0,3 0,3 0,3 .3,3 1.3,3 1.2,3 1.2,3 1,3 .8,3 .5,3 .2,3 0,3-.2,3-.4,3-.5,3-.5,3-.5,3-.4,3-.4,3-.3,3-.3,3-.2,3-.3,3-.3,3-.3,3-.3,3-.4,3-.4,3-.4,3-.4,3 0,3 0,3 0,3 0,3 0,3 0,3 0,3 0,3 0,3 0,3 0,3 0,3 0,3 0,3 .2,3 .7,3 .7,3 .8,3 .8,3 .8,3 .8,3 .6,3 .5,3 .3,3 .1,3-.2,3-.3,3-.6,3-.7,3-.8,3-1,3-1,3-.9,3-.8,3 0,3 0,3 0,3 0,3 0,3 0,3 0,3 0,3 0,3 0,3 0,3 0,3 0,3 0,3 .3,3 .7,3 .6,3 .7,3 .7,3 .6,3 .5,3 .3,3 .3,3 0,3-.1,3-.3,3-.5,3-.7,3-.7,3-.8,3-.8,3-.7,3-.1,3 0,3 0,3 0,3 0,3 0,3 0,3 0,3 0,3 .4,3 .6,3 .6,3 .6,3 .6,3 .6,3 .4,3 .3,3 .2,3 0,3-.2,3-.3,3-.4,3-.6,3-.7,3-.8,3-.8,3-.5,3 0,3 0,3 0,3 0,3 0,3 0,3 0,3 0,3 0,3 0,3 0,3 0,3 0,3 0,3 0,3 0,3 0,3 0,3 .7,3 1.3,3 1.3,3 1.3,3 1.1,3 1,3 .8,3 .5,3 .3,3 0,3-.2,3-.5,3-.7,3-.8,3-.9,3-.9,3-1,3-.9,3-.8,3-.7,3-.6,3-.3,3 0,3 0,3 0,3 0,3 .2,3 .6,3 .7,3 .7,3 .8,3 .6,3 .5,3 .2,3-.1,3-.3,3-.7,3-.9,3-1.1,3-1.2,3 0,3 0,3 0,3 0,3 0,3 0,3 0,3 0,3 0,3 0,3 0,3 0,3 0,3 0,3 0,3 0,3 0,3 0,3 0,3 0,3 .5,3 .7,3 .5,3 .3,3 .1,3 0,3-.2,3-.3,3-.3,3-.3,3-.3,3-.3,3-.1,3 0,3 .1,3 .3,3 .3,3 .4,3 .6,3 .6,3 .7,3 .8,3 .9,3 .9,3 .9,3 .8,3 .7,3 .6,3 .4,3 .3,3 0,3-.2,3-.4,3-.5,3-.8,3-1,3-1.2,3-1.3,3-1.5,3-1.5,3-1.2,3 0,3 0,1.4z" fill="#6464ff" stroke="none" stroke-width="1" />
<path d="M1083,142.1l-1.5,0 0,3 .1,3 .3,3 .5,3 .6,3 0,3 0,3 0,3 0,3 0,3 0,3 0,3 0,3 0,3 0,3 0,3 0,3 0,3 0,3 0,3 0,3 0,3 0,3 0,3-.5,3-1,3-.8,3-.6,3-.3,3-.2,3 .1,3 .2,3 .3,3 .4,3 .4,3 .5,3 .5,3 .5,3 .5,3 0,3 0,3 0,3 0,3 0,3 0,3 0,3 0,3 0,3 0,3 0,3 0,3 0,3 0,3 0,3 0,3 0,3 0,3 0,3 0,3-.7,3-.8,3-.8,3-.6,3-.6,3-.5,3-.3,3-.2,3 .1,3 .3,3 .5,3 .7,3 .9,3 1.1,3 .9,3 0,3 0,3 0,3 0,3 0,3 0,3 0,3 0,3 0,3 0,3 0,3 0,3 0,3 0,3 0,3 0,3 0,3 0,3 0,3 0,3 0,3 0,3 0,3 0,3 0,3 0,3-.4,3-.3,3-.3,3-.2,3-.2,3-.2,3-.1,3 0,3 0,3 .1,3 .2,3 .2,3 .4,3 .4,3 .4,3 0,3 0,3 0,3 0,3 0,3 0,3 0,3 0,3 0,3 0,3 0,3 0,3 0,3 0,3 0,3 0,3 0,3 0,3-.2,3-.9,3-.8,3-.7,3-.5,3-.4,3-.2,3-.1,3 .2,3 .3,3 .4,3 .6,3 .5,3 .7,3 .7,3 .4,3 0,3 0,3 0,3 0,3 0,3 0,3 0,3 0,3 0,3 0,3 0,3 0,3 0,3 0,3 0,3 0,3 0,3-.5,3-.5,3-.4,3-.2,3 0,3 .2,3 .3,3 .4,3 .5,3 .2,3 0,3 0,3 0,3 0,3 0,3 0,3 0,3 0,3 0,3 0,3 0,3 0,3 0,3 0,3 0,3 0,3-.4,3-.9,3-.9,3-1,3-.9,3-.9,3-.8,3-.7,3-.6,3-.3,3-.1,3 .2,3 .4,3 .6,3 .8,3 1.1,3 1.1,3 1.3,3 1.3,3 .7,3 0,3 0,3 0,3 0,3 0,3 0,3 0,3 0,3 0,3 0,3 0,3 0,3 0,3 0,3 0,3 0,3 0,3 0,3 0,3 0,3-.2,3-.3,3-.1,3 .1,3 .2,3 .3,3 0,3 0,3 0,3 0,3 0,3 0,3 0,3 0,3 0,3 0,3 0,3 0,3 0,3-1.3,3-1.4,3-1.3,3-1.2,3-1.1,3-1,3-.8,3-.6,3-.3,3-.1,3 .2,3 .5,3 .7,3 .9,3 1,3 1.1,3 1.1,3 1.2,3 1,3 1,3 .4,3 0,3 0,3 0,3 0,3 0,3 0,3 0,3 0,3 0,3 0,3 0,3 0,3 0,3 0,3 0,3 0,3 0,3 0,3 0,3 0,3 0,3 0,3 0,3 0,3 0,3 0,3 0,3 0,3 0,3 0,3 0,3 0,3 0,3 0,3 0,3 0,3 0,3 0,3 0,3-.6,3-1.6,3 2.2,1.4z" fill="#ff6868" stroke="none" stroke-width="1" />
<path d="M1081.5,142.1l0,3 .1,3 .3,3 .5,3 .8,3 .9,3 1.1,3 1.2,3 1.2,3 1.2,3 1.2,3 1,3 .8,3 .5,3 .2,3-.2,3-.4,3-.8,3-1,3-1.2,3-1.3,3-1.3,3-1.4,3-1.2,3-1.2,3-1,3-.8,3-.6,3-.3,3-.2,3 .1,3 .2,3 .3,3 .4,3 .4,3 .5,3 .5,3 .5,3 .5,3 .5,3 .6,3 .5,3 .6,3 .6,3 .6,3 .6,3 .5,3 .4,3 .3,3 .1,3-.1,3-.2,3-.4,3-.5,3-.7,3-.7,3-.9,3-.8,3-.8,3-.9,3-.8,3-.8,3-.6,3-.6,3-.5,3-.3,3-.2,3 .1,3 .3,3 .5,3 .7,3 .9,3 1.1,3 1.2,3 1.3,3 1.2,3 1.2,3 1,3 .8,3 .5,3 .2,3 0,3-.2,3-.4,3-.5,3-.5,3-.5,3-.4,3-.4,3-.3,3-.3,3-.2,3-.3,3-.3,3-.3,3-.3,3-.4,3-.4,3-.4,3-.4,3-.4,3-.3,3-.3,3-.2,3-.2,3-.2,3-.1,3 0,3 0,3 .1,3 .2,3 .2,3 .4,3 .4,3 .6,3 .7,3 .7,3 .8,3 .8,3 .8,3 .8,3 .6,3 .5,3 .3,3 .1,3-.2,3-.3,3-.6,3-.7,3-.8,3-1,3-1,3-.9,3-1,3-.9,3-.8,3-.7,3-.5,3-.4,3-.2,3-.1,3 .2,3 .3,3 .4,3 .6,3 .5,3 .7,3 .7,3 .7,3 .7,3 .6,3 .7,3 .7,3 .6,3 .5,3 .3,3 .3,3 0,3-.1,3-.3,3-.5,3-.7,3-.7,3-.8,3-.8,3-.7,3-.6,3-.5,3-.4,3-.2,3 0,3 .2,3 .3,3 .4,3 .5,3 .6,3 .6,3 .6,3 .6,3 .6,3 .6,3 .4,3 .3,3 .2,3 0,3-.2,3-.3,3-.4,3-.6,3-.7,3-.8,3-.8,3-.9,3-.9,3-.9,3-1,3-.9,3-.9,3-.8,3-.7,3-.6,3-.3,3-.1,3 .2,3 .4,3 .6,3 .8,3 1.1,3 1.1,3 1.3,3 1.3,3 1.4,3 1.3,3 1.3,3 1.3,3 1.1,3 1,3 .8,3 .5,3 .3,3 0,3-.2,3-.5,3-.7,3-.8,3-.9,3-.9,3-1,3-.9,3-.8,3-.7,3-.6,3-.5,3-.3,3-.1,3 .1,3 .2,3 .5,3 .6,3 .7,3 .7,3 .8,3 .6,3 .5,3 .2,3-.1,3-.3,3-.7,3-.9,3-1.1,3-1.2,3-1.3,3-1.4,3-1.3,3-1.2,3-1.1,3-1,3-.8,3-.6,3-.3,3-.1,3 .2,3 .5,3 .7,3 .9,3 1,3 1.1,3 1.1,3 1.2,3 1,3 1,3 .9,3 .7,3 .5,3 .3,3 .1,3 0,3-.2,3-.3,3-.3,3-.3,3-.3,3-.3,3-.1,3 0,3 .1,3 .3,3 .3,3 .4,3 .6,3 .6,3 .7,3 .8,3 .9,3 .9,3 .9,3 .8,3 .7,3 .6,3 .4,3 .3,3 0,3-.2,3-.4,3-.5,3-.8,3-1,3-1.2,3-1.3,3-1.5,3-1.5,3-1.8,3-1.6,3" fill="none" stroke="#111" stroke-width="1.8" stroke-linejoin="round"/>
<path d="M1105.2,142.1l0,3 0,3 0,3 0,3 .7,3 .9,3 1,3 1.2,3 1.1,3 1.2,3 1,3 .9,3 .7,3 .4,3 .2,3-.2,3-.5,3-.8,3-1,3-1.2,3-1.3,3-1.3,3-1.3,3-1.3,3-.4,3 0,3 0,3 0,3 0,3 0,3 0,3 0,3 0,3 0,3 0,3 0,3 0,3 0,3 0,3 .5,3 .6,3 .6,3 .6,3 .6,3 .6,3 .6,3 .6,3 .4,3 .3,3 .1,3-.1,3-.2,3-.4,3-.6,3-.7,3-.8,3-.8,3-.9,3-.9,3-.1,3 0,3 0,3 0,3 0,3 0,3 0,3 0,3 0,3 0,3 0,3 0,3 0,3 0,3 0,3 0,3 1,3 1.3,3 1.1,3 .9,3 .7,3 .5,3 .2,3 0,3-.1,3-.2,3-.2,3-.2,3-.2,3-.1,3-.1,3-.1,3-.1,3-.1,3-.3,3-.3,3-.4,3-.5,3-.5,3-.6,3-.5,3-.6,3-.6,3 0,3 0,3 0,3 0,3 0,3 0,3 0,3 0,3 0,3 0,3 0,3 0,3 0,3 .2,3 .8,3 .9,3 .8,3 .9,3 .7,3 .7,3 .5,3 .3,3 .1,3-.1,3-.4,3-.5,3-.7,3-.9,3-.9,3-1,3-1,3-.4,3 0,3 0,3 0,3 0,3 0,3 0,3 0,3 0,3 0,3 0,3 0,3 0,3 0,3 0,3 .1,3 .7,3 .8,3 .7,3 .6,3 .6,3 .6,3 .3,3 .3,3 0,3-.1,3-.3,3-.5,3-.6,3-.8,3-.7,3-.8,3-.7,3-.2,3 0,3 0,3 0,3 0,3 0,3 0,3 0,3 0,3 .3,3 .6,3 .6,3 .5,3 .6,3 .5,3 .4,3 .3,3 .1,3 0,3-.1,3-.3,3-.4,3-.5,3-.6,3-.7,3-.8,3-.5,3 0,3 0,3 0,3 0,3 0,3 0,3 0,3 0,3 0,3 0,3 0,3 0,3 0,3 0,3 0,3 0,3 0,3 0,3 .6,3 1.2,3 1.2,3 1.1,3 1,3 .9,3 .7,3 .4,3 .3,3 0,3-.2,3-.4,3-.6,3-.7,3-.8,3-.9,3-.8,3-.9,3-.7,3-.7,3-.5,3-.2,3 0,3 0,3 0,3 0,3 .1,3 .6,3 .6,3 .7,3 .7,3 .6,3 .4,3 .2,3 0,3-.4,3-.6,3-.8,3-1,3-1.1,3 0,3 0,3 0,3 0,3 0,3 0,3 0,3 0,3 0,3 0,3 0,3 0,3 0,3 0,3 0,3 0,3 0,3 0,3 0,3 0,3 0,3 0,3 .4,3 .2,3 .1,3-.1,3-.1,3-.3,3-.2,3 0,3 0,3 0,3 0,3 0,3 0,3 .1,3 .4,3 .6,3 .6,3 .8,3 .8,3 .9,3 1,3 1.1,3 1,3 1,3 1,3 .8,3 .6,3 .5,3 .2,3 0,3-.2,3-.5,3-.7,3-.9,3-1.2,3-1.4,3-1.6,3-2,3-2.3,3-.6,3 0,1.4z" fill="#6464ff" stroke="none" stroke-width="1" />
<path d="M1105.2,142.1l-1,0 0,3 .2,3 .3,3 .5,3 0,3 0,3 0,3 0,3 0,3 0,3 0,3 0,3 0,3 0,3 0,3 0,3 0,3 0,3 0,3 0,3 0,3 0,3 0,3 0,3-.7,3-1,3-.8,3-.5,3-.4,3-.1,3 0,3 .2,3 .3,3 .5,3 .5,3 .5,3 .5,3 .5,3 .5,3 0,3 0,3 0,3 0,3 0,3 0,3 0,3 0,3 0,3 0,3 0,3 0,3 0,3 0,3 0,3 0,3 0,3 0,3 0,3 0,3-.9,3-.9,3-.8,3-.9,3-.7,3-.6,3-.5,3-.4,3-.1,3 .1,3 .4,3 .6,3 .9,3 1,3 1.2,3 1.3,3 .3,3 0,3 0,3 0,3 0,3 0,3 0,3 0,3 0,3 0,3 0,3 0,3 0,3 0,3 0,3 0,3 0,3 0,3 0,3 0,3 0,3 0,3 0,3 0,3 0,3 0,3 0,3-.5,3-.4,3-.5,3-.3,3-.3,3-.2,3-.1,3 0,3 .1,3 .2,3 .4,3 .5,3 .6,3 .5,3 0,3 0,3 0,3 0,3 0,3 0,3 0,3 0,3 0,3 0,3 0,3 0,3 0,3 0,3 0,3 0,3 0,3-.6,3-.9,3-.9,3-.7,3-.6,3-.4,3-.2,3 0,3 .2,3 .3,3 .5,3 .6,3 .6,3 .7,3 .8,3 .6,3 0,3 0,3 0,3 0,3 0,3 0,3 0,3 0,3 0,3 0,3 0,3 0,3 0,3 0,3 0,3 0,3 0,3-.5,3-.5,3-.3,3-.2,3 0,3 .1,3 .3,3 .4,3 .5,3 .2,3 0,3 0,3 0,3 0,3 0,3 0,3 0,3 0,3 0,3 0,3 0,3 0,3 0,3 0,3 0,3 0,3-.3,3-.8,3-.9,3-.8,3-.9,3-.8,3-.7,3-.6,3-.5,3-.3,3-.1,3 .2,3 .3,3 .6,3 .7,3 .9,3 1.1,3 1.1,3 1.2,3 .6,3 0,3 0,3 0,3 0,3 0,3 0,3 0,3 0,3 0,3 0,3 0,3 0,3 0,3 0,3 0,3 0,3 0,3 0,3 0,3 0,3-.3,3-.2,3-.1,3 0,3 .3,3 .3,3 0,3 0,3 0,3 0,3 0,3 0,3 0,3 0,3 0,3 0,3 0,3 0,3 0,3-1.2,3-1.2,3-1.2,3-1.1,3-1.1,3-.9,3-.7,3-.5,3-.4,3 0,3 .1,3 .4,3 .6,3 .7,3 .8,3 1,3 .9,3 .9,3 .9,3 .8,3 .7,3 .5,3 0,3 0,3 0,3 0,3 0,3 0,3 0,3-.3,3-.2,3-.1,3 0,3 .1,3 .2,3 .3,3 0,3 0,3 0,3 0,3 0,3 0,3 0,3 0,3 0,3 0,3 0,3 0,3 0,3 0,3 0,3 0,3 0,3 0,3 0,3 0,3 0,3 0,3 0,3 0,3 0,3-1.8,3 1.8,1.4z" fill="#ff6868" stroke="none" stroke-width="1" />
<path d="M1104.2,142.1l0,3 .2,3 .3,3 .5,3 .7,3 .9,3 1,3 1.2,3 1.1,3 1.2,3 1,3 .9,3 .7,3 .4,3 .2,3-.2,3-.5,3-.8,3-1,3-1.2,3-1.3,3-1.3,3-1.3,3-1.3,3-1.1,3-1,3-.8,3-.5,3-.4,3-.1,3 0,3 .2,3 .3,3 .5,3 .5,3 .5,3 .5,3 .5,3 .5,3 .5,3 .6,3 .6,3 .6,3 .6,3 .6,3 .6,3 .6,3 .4,3 .3,3 .1,3-.1,3-.2,3-.4,3-.6,3-.7,3-.8,3-.8,3-.9,3-.9,3-1,3-.9,3-.8,3-.9,3-.7,3-.6,3-.5,3-.4,3-.1,3 .1,3 .4,3 .6,3 .9,3 1,3 1.2,3 1.3,3 1.3,3 1.3,3 1.1,3 .9,3 .7,3 .5,3 .2,3 0,3-.1,3-.2,3-.2,3-.2,3-.2,3-.1,3-.1,3-.1,3-.1,3-.1,3-.3,3-.3,3-.4,3-.5,3-.5,3-.6,3-.5,3-.6,3-.6,3-.5,3-.4,3-.5,3-.3,3-.3,3-.2,3-.1,3 0,3 .1,3 .2,3 .4,3 .5,3 .6,3 .7,3 .8,3 .9,3 .8,3 .9,3 .7,3 .7,3 .5,3 .3,3 .1,3-.1,3-.4,3-.5,3-.7,3-.9,3-.9,3-1,3-1,3-1,3-.9,3-.9,3-.7,3-.6,3-.4,3-.2,3 0,3 .2,3 .3,3 .5,3 .6,3 .6,3 .7,3 .8,3 .7,3 .7,3 .8,3 .7,3 .6,3 .6,3 .6,3 .3,3 .3,3 0,3-.1,3-.3,3-.5,3-.6,3-.8,3-.7,3-.8,3-.7,3-.7,3-.5,3-.3,3-.2,3 0,3 .1,3 .3,3 .4,3 .5,3 .5,3 .6,3 .6,3 .5,3 .6,3 .5,3 .4,3 .3,3 .1,3 0,3-.1,3-.3,3-.4,3-.5,3-.6,3-.7,3-.8,3-.8,3-.8,3-.9,3-.8,3-.9,3-.8,3-.7,3-.6,3-.5,3-.3,3-.1,3 .2,3 .3,3 .6,3 .7,3 .9,3 1.1,3 1.1,3 1.2,3 1.2,3 1.2,3 1.2,3 1.1,3 1,3 .9,3 .7,3 .4,3 .3,3 0,3-.2,3-.4,3-.6,3-.7,3-.8,3-.9,3-.8,3-.9,3-.7,3-.7,3-.5,3-.5,3-.2,3-.1,3 0,3 .3,3 .4,3 .6,3 .6,3 .7,3 .7,3 .6,3 .4,3 .2,3 0,3-.4,3-.6,3-.8,3-1,3-1.1,3-1.2,3-1.2,3-1.2,3-1.1,3-1.1,3-.9,3-.7,3-.5,3-.4,3 0,3 .1,3 .4,3 .6,3 .7,3 .8,3 1,3 .9,3 .9,3 .9,3 .8,3 .7,3 .5,3 .4,3 .2,3 .1,3-.1,3-.1,3-.3,3-.2,3-.3,3-.2,3-.1,3 0,3 .1,3 .2,3 .4,3 .4,3 .6,3 .6,3 .8,3 .8,3 .9,3 1,3 1.1,3 1,3 1,3 1,3 .8,3 .6,3 .5,3 .2,3 0,3-.2,3-.5,3-.7,3-.9,3-1.2,3-1.4,3-1.6,3-2,3-2.3,3-2.4,3" fill="none" stroke="#111" stroke-width="1.8" stroke-linejoin="round"/>
<path d="M1127.4,142.1l0,3 0,3 .2,3 .5,3 .7,3 .8,3 1,3 1,3 1.1,3 1,3 1,3 .8,3 .5,3 .4,3 0,3-.2,3-.5,3-.8,3-1,3-1.2,3-1.3,3-1.3,3-1.3,3-1.3,3-.1,3 0,3 0,3 0,3 0,3 0,3 0,3 0,3 0,3 0,3 0,3 0,3 0,3 0,3 0,3 .6,3 .5,3 .6,3 .7,3 .6,3 .7,3 .6,3 .6,3 .4,3 .3,3 .1,3 0,3-.3,3-.4,3-.6,3-.8,3-.8,3-.9,3-1,3-.9,3 0,3 0,3 0,3 0,3 0,3 0,3 0,3 0,3 0,3 0,3 0,3 0,3 0,3 0,3 0,3 0,3 0,3 .3,3 1.3,3 1.1,3 .9,3 .7,3 .5,3 .3,3 .2,3 .1,3 .1,3 .2,3 .1,3 .2,3 .2,3 .1,3 0,3 0,3-.2,3-.3,3-.5,3-.6,3-.6,3-.8,3-.8,3-.8,3-.8,3-.8,3-.1,3 0,3 0,3 0,3 0,3 0,3 0,3 0,3 0,3 0,3 0,3 0,3 0,3 .3,3 .9,3 1,3 .9,3 .7,3 .7,3 .5,3 .3,3 .1,3-.1,3-.3,3-.5,3-.7,3-.8,3-1,3-1,3-1,3 0,3 0,3 0,3 0,3 0,3 0,3 0,3 0,3 0,3 0,3 0,3 0,3 0,3 0,3 0,3 0,3 .7,3 .8,3 .7,3 .7,3 .6,3 .5,3 .4,3 .3,3 0,3-.1,3-.3,3-.5,3-.6,3-.7,3-.8,3-.7,3-.7,3-.3,3 0,3 0,3 0,3 0,3 0,3 0,3 0,3 0,3 .2,3 .5,3 .6,3 .5,3 .5,3 .5,3 .3,3 .3,3 .1,3 0,3-.1,3-.2,3-.4,3-.5,3-.5,3-.6,3-.7,3-.5,3 0,3 0,3 0,3 0,3 0,3 0,3 0,3 0,3 0,3 0,3 0,3 0,3 0,3 0,3 0,3 0,3 0,3 0,3 .5,3 1,3 1.1,3 .9,3 .9,3 .7,3 .6,3 .4,3 .3,3 0,3-.2,3-.4,3-.5,3-.6,3-.7,3-.7,3-.8,3-.7,3-.7,3-.6,3-.5,3 0,3 0,3 0,3 0,3 0,3 0,3 .5,3 .6,3 .7,3 .6,3 .5,3 .4,3 .2,3 0,3-.3,3-.6,3-.7,3-.9,3-1,3 0,3 0,3 0,3 0,3 0,3 0,3 0,3 0,3 0,3 0,3 0,3 0,3 0,3 0,3 0,3 0,3 0,3 0,3 0,3 0,3 0,3 0,3 0,3 0,3 0,3 0,3 0,3 0,3 0,3 0,3 0,3 0,3 0,3 0,3 0,3 0,3 0,3 .6,3 .8,3 .9,3 1,3 1,3 1.2,3 1.2,3 1.3,3 1.2,3 1.1,3 1.1,3 .9,3 .7,3 .5,3 .2,3-.1,3-.3,3-.6,3-.9,3-1.1,3-1.5,3-1.9,3-2.4,3-2.9,3-2,3 0,1.4z" fill="#6464ff" stroke="none" stroke-width="1" />
<path d="M1127.4,142.1l-.5,0 .1,3 .2,3 .2,3 0,3 0,3 0,3 0,3 0,3 0,3 0,3 0,3 0,3 0,3 0,3 0,3 0,3 0,3 0,3 0,3 0,3 0,3 0,3 0,3 0,3-1,3-.9,3-.8,3-.6,3-.3,3-.1,3 0,3 .2,3 .4,3 .5,3 .5,3 .5,3 .5,3 .6,3 .5,3 0,3 0,3 0,3 0,3 0,3 0,3 0,3 0,3 0,3 0,3 0,3 0,3 0,3 0,3 0,3 0,3 0,3 0,3 0,3 0,3-1.1,3-1,3-1,3-1,3-.9,3-.8,3-.7,3-.5,3-.3,3-.1,3 .2,3 .5,3 .7,3 1,3 1.2,3 1.3,3 1.4,3 1.1,3 0,3 0,3 0,3 0,3 0,3 0,3 0,3 0,3 0,3 0,3 0,3 0,3 0,3 0,3 0,3 0,3 0,3 0,3 0,3 0,3 0,3 0,3 0,3 0,3 0,3 0,3-.6,3-.7,3-.6,3-.5,3-.4,3-.3,3-.1,3 0,3 .3,3 .3,3 .6,3 .7,3 .7,3 .6,3 0,3 0,3 0,3 0,3 0,3 0,3 0,3 0,3 0,3 0,3 0,3 0,3 0,3 0,3 0,3 0,3-1,3-1,3-.9,3-.8,3-.6,3-.4,3-.3,3 0,3 .2,3 .4,3 .6,3 .6,3 .8,3 .7,3 .8,3 .8,3 .1,3 0,3 0,3 0,3 0,3 0,3 0,3 0,3 0,3 0,3 0,3 0,3 0,3 0,3 0,3 0,3 0,3-.4,3-.4,3-.4,3-.2,3 0,3 .1,3 .3,3 .3,3 .4,3 .3,3 0,3 0,3 0,3 0,3 0,3 0,3 0,3 0,3 0,3 0,3 0,3 0,3 0,3 0,3 0,3 0,3-.2,3-.7,3-.8,3-.7,3-.8,3-.7,3-.6,3-.5,3-.4,3-.3,3-.1,3 .2,3 .3,3 .4,3 .7,3 .8,3 .9,3 .9,3 1,3 .6,3 0,3 0,3 0,3 0,3 0,3 0,3 0,3 0,3 0,3 0,3 0,3 0,3 0,3 0,3 0,3 0,3 0,3 0,3 0,3 0,3-.3,3-.3,3-.1,3 .1,3 .2,3 .4,3 0,3 0,3 0,3 0,3 0,3 0,3 0,3 0,3 0,3 0,3 0,3 0,3 0,3-1,3-1.1,3-1.1,3-1,3-.9,3-.8,3-.7,3-.5,3-.3,3-.1,3 .1,3 .3,3 .4,3 .6,3 .6,3 .7,3 .7,3 .7,3 .6,3 .6,3 .5,3 .3,3 .3,3 .1,3 0,3-.1,3-.1,3-.2,3-.2,3-.1,3-.1,3 0,3 .2,3 .2,3 .3,3 .5,3 .6,3 0,3 0,3 0,3 0,3 0,3 0,3 0,3 0,3 0,3 0,3 0,3 0,3 0,3 0,3 0,3 0,3 0,3 0,3 0,3 0,3 0,3 0,3 0,3 0,3-1.4,3 1.4,1.4z" fill="#ff6868" stroke="none" stroke-width="1" />
<path d="M1126.9,142.1l.1,3 .2,3 .4,3 .5,3 .7,3 .8,3 1,3 1,3 1.1,3 1,3 1,3 .8,3 .5,3 .4,3 0,3-.2,3-.5,3-.8,3-1,3-1.2,3-1.3,3-1.3,3-1.3,3-1.3,3-1.1,3-.9,3-.8,3-.6,3-.3,3-.1,3 0,3 .2,3 .4,3 .5,3 .5,3 .5,3 .5,3 .6,3 .5,3 .6,3 .5,3 .6,3 .7,3 .6,3 .7,3 .6,3 .6,3 .4,3 .3,3 .1,3 0,3-.3,3-.4,3-.6,3-.8,3-.8,3-.9,3-1,3-.9,3-1.1,3-1,3-1,3-1,3-.9,3-.8,3-.7,3-.5,3-.3,3-.1,3 .2,3 .5,3 .7,3 1,3 1.2,3 1.3,3 1.4,3 1.4,3 1.3,3 1.1,3 .9,3 .7,3 .5,3 .3,3 .2,3 .1,3 .1,3 .2,3 .1,3 .2,3 .2,3 .1,3 0,3 0,3-.2,3-.3,3-.5,3-.6,3-.6,3-.8,3-.8,3-.8,3-.8,3-.8,3-.7,3-.7,3-.6,3-.5,3-.4,3-.3,3-.1,3 0,3 .3,3 .3,3 .6,3 .7,3 .7,3 .9,3 .9,3 1,3 .9,3 .7,3 .7,3 .5,3 .3,3 .1,3-.1,3-.3,3-.5,3-.7,3-.8,3-1,3-1,3-1,3-1,3-1,3-.9,3-.8,3-.6,3-.4,3-.3,3 0,3 .2,3 .4,3 .6,3 .6,3 .8,3 .7,3 .8,3 .8,3 .8,3 .8,3 .7,3 .7,3 .6,3 .5,3 .4,3 .3,3 0,3-.1,3-.3,3-.5,3-.6,3-.7,3-.8,3-.7,3-.7,3-.7,3-.4,3-.4,3-.2,3 0,3 .1,3 .3,3 .3,3 .4,3 .5,3 .5,3 .6,3 .5,3 .5,3 .5,3 .3,3 .3,3 .1,3 0,3-.1,3-.2,3-.4,3-.5,3-.5,3-.6,3-.7,3-.7,3-.7,3-.8,3-.7,3-.8,3-.7,3-.6,3-.5,3-.4,3-.3,3-.1,3 .2,3 .3,3 .4,3 .7,3 .8,3 .9,3 .9,3 1,3 1.1,3 1,3 1.1,3 .9,3 .9,3 .7,3 .6,3 .4,3 .3,3 0,3-.2,3-.4,3-.5,3-.6,3-.7,3-.7,3-.8,3-.7,3-.7,3-.6,3-.5,3-.3,3-.3,3-.1,3 .1,3 .2,3 .4,3 .5,3 .6,3 .7,3 .6,3 .5,3 .4,3 .2,3 0,3-.3,3-.6,3-.7,3-.9,3-1,3-1,3-1.1,3-1.1,3-1,3-.9,3-.8,3-.7,3-.5,3-.3,3-.1,3 .1,3 .3,3 .4,3 .6,3 .6,3 .7,3 .7,3 .7,3 .6,3 .6,3 .5,3 .3,3 .3,3 .1,3 0,3-.1,3-.1,3-.2,3-.2,3-.1,3-.1,3 0,3 .2,3 .2,3 .3,3 .5,3 .6,3 .6,3 .8,3 .9,3 1,3 1,3 1.2,3 1.2,3 1.3,3 1.2,3 1.1,3 1.1,3 .9,3 .7,3 .5,3 .2,3-.1,3-.3,3-.6,3-.9,3-1.1,3-1.5,3-1.9,3-2.4,3-2.9,3-3.4,3" fill="none" stroke="#111" stroke-width="1.8" stroke-linejoin="round"/>
<path d="M1149.6,142.1l.1,0 .2,3 .3,3 .4,3 .5,3 .7,3 .7,3 .9,3 .9,3 1,3 .9,3 .8,3 .7,3 .5,3 .2,3 0,3-.3,3-.6,3-.8,3-1.1,3-1.1,3-1.3,3-1.3,3-1.2,3-1.1,3 0,3 0,3 0,3 0,3 0,3 0,3 0,3 0,3 0,3 0,3 0,3 0,3 0,3 0,3 0,3 .6,3 .6,3 .6,3 .7,3 .7,3 .6,3 .7,3 .6,3 .4,3 .4,3 .1,3-.1,3-.2,3-.5,3-.6,3-.8,3-.9,3-1,3-1,3-.9,3 0,3 0,3 0,3 0,3 0,3 0,3 0,3 0,3 0,3 0,3 0,3 0,3 0,3 0,3 0,3 0,3 0,3 0,3 0,3 .8,3 1.1,3 1,3 .8,3 .7,3 .5,3 .5,3 .5,3 .5,3 .5,3 .5,3 .5,3 .4,3 .2,3 .1,3-.1,3-.4,3-.5,3-.7,3-.9,3-.9,3-1.1,3-1.1,3-1.1,3-1,3-.8,3 0,3 0,3 0,3 0,3 0,3 0,3 0,3 0,3 0,3 0,3 0,3 0,3 0,3 .5,3 1,3 1,3 .8,3 .7,3 .5,3 .3,3 .1,3-.1,3-.3,3-.5,3-.7,3-.8,3-.9,3-1,3-.6,3 0,3 0,3 0,3 0,3 0,3 0,3 0,3 0,3 0,3 0,3 0,3 0,3 0,3 0,3 0,3 0,3 .6,3 .8,3 .8,3 .7,3 .6,3 .5,3 .4,3 .3,3 .1,3-.2,3-.3,3-.4,3-.6,3-.7,3-.8,3-.7,3-.7,3-.4,3 0,3 0,3 0,3 0,3 0,3 0,3 0,3 0,3 .1,3 .5,3 .5,3 .5,3 .4,3 .4,3 .3,3 .3,3 .1,3 0,3-.1,3-.2,3-.3,3-.5,3-.4,3-.5,3-.6,3-.5,3 0,3 0,3 0,3 0,3 0,3 0,3 0,3 0,3 0,3 0,3 0,3 0,3 0,3 0,3 0,3 0,3 0,3 0,3 .4,3 .9,3 .8,3 .8,3 .7,3 .6,3 .5,3 .3,3 .2,3 0,3-.2,3-.2,3-.5,3-.5,3-.6,3-.6,3-.6,3-.6,3-.6,3-.5,3-.3,3 0,3 0,3 0,3 0,3 0,3 0,3 .4,3 .5,3 .6,3 .5,3 .5,3 .4,3 .1,3 0,3-.2,3-.5,3-.6,3-.8,3-.8,3-.1,3 0,3 0,3 0,3 0,3 0,3 0,3 0,3 0,3 0,3 0,3 0,3 0,3 0,3 0,3 0,3 0,3 0,3 0,3 0,3 0,3 0,3 0,3 0,3 0,3 0,3 0,3 0,3 0,3 0,3 0,3 0,3 0,3 0,3 0,3 0,3 0,3 .2,3 .9,3 1,3 1.1,3 1.3,3 1.3,3 1.4,3 1.5,3 1.4,3 1.5,3 1.3,3 1.2,3 1,3 .7,3 .5,3 .1,3-.1,3-.5,3-.8,3-1.2,3-1.6,3-2.1,3-2.8,3-3.8,3-3.5,3 0,1.4z" fill="#6464ff" stroke="none" stroke-width="1" />
<path d="M1149.6,142.1l0,3 0,3 0,3 0,3 0,3 0,3 0,3 0,3 0,3 0,3 0,3 0,3 0,3 0,3 0,3 0,3 0,3 0,3 0,3 0,3 0,3 0,3 0,3-.2,3-1.1,3-.9,3-.8,3-.5,3-.3,3-.2,3 .1,3 .3,3 .4,3 .4,3 .6,3 .5,3 .6,3 .5,3 .6,3 0,3 0,3 0,3 0,3 0,3 0,3 0,3 0,3 0,3 0,3 0,3 0,3 0,3 0,3 0,3 0,3 0,3 0,3 0,3-.2,3-1.1,3-1.1,3-1.2,3-1.1,3-1.1,3-1.1,3-.9,3-.8,3-.5,3-.3,3 0,3 .3,3 .7,3 .9,3 1.2,3 1.4,3 1.5,3 1.5,3 1.4,3 .5,3 0,3 0,3 0,3 0,3 0,3 0,3 0,3 0,3 0,3 0,3 0,3 0,3 0,3 0,3 0,3 0,3 0,3 0,3 0,3 0,3 0,3 0,3 0,3 0,3-.2,3-1,3-.9,3-.7,3-.6,3-.5,3-.2,3-.1,3 .2,3 .4,3 .6,3 .7,3 .9,3 1,3 .4,3 0,3 0,3 0,3 0,3 0,3 0,3 0,3 0,3 0,3 0,3 0,3 0,3 0,3 0,3-.4,3-1.1,3-1,3-1,3-.8,3-.7,3-.5,3-.2,3 0,3 .3,3 .4,3 .6,3 .7,3 .9,3 .8,3 .9,3 .8,3 .3,3 0,3 0,3 0,3 0,3 0,3 0,3 0,3 0,3 0,3 0,3 0,3 0,3 0,3 0,3 0,3 0,3-.2,3-.5,3-.4,3-.2,3 0,3 .1,3 .2,3 .3,3 .4,3 .3,3 0,3 0,3 0,3 0,3 0,3 0,3 0,3 0,3 0,3 0,3 0,3 0,3 0,3 0,3 0,3 0,3-.1,3-.6,3-.6,3-.7,3-.6,3-.6,3-.5,3-.4,3-.4,3-.2,3 0,3 .1,3 .2,3 .4,3 .5,3 .7,3 .7,3 .8,3 .8,3 .5,3 0,3 0,3 0,3 0,3 0,3 0,3 0,3 0,3 0,3 0,3 0,3 0,3 0,3 0,3 0,3 0,3 0,3 0,3 0,3-.1,3-.3,3-.2,3-.1,3 .1,3 .2,3 .3,3 .1,3 0,3 0,3 0,3 0,3 0,3 0,3 0,3 0,3 0,3 0,3 0,3 0,3-.8,3-1,3-.9,3-.8,3-.8,3-.7,3-.6,3-.5,3-.3,3-.1,3 0,3 .1,3 .3,3 .4,3 .4,3 .5,3 .4,3 .4,3 .4,3 .3,3 .2,3 .2,3 .1,3-.1,3 0,3-.1,3-.1,3-.1,3-.1,3 0,3 0,3 .2,3 .3,3 .4,3 .4,3 .6,3 .8,3 .6,3 0,3 0,3 0,3 0,3 0,3 0,3 0,3 0,3 0,3 0,3 0,3 0,3 0,3 0,3 0,3 0,3 0,3 0,3 0,3 0,3 0,3 0,3 0,3-.9,3 .9,1.4z" fill="#ff6868" stroke="none" stroke-width="1" />
<path d="M1149.7,142.1l.2,3 .3,3 .4,3 .5,3 .7,3 .7,3 .9,3 .9,3 1,3 .9,3 .8,3 .7,3 .5,3 .2,3 0,3-.3,3-.6,3-.8,3-1.1,3-1.1,3-1.3,3-1.3,3-1.2,3-1.3,3-1.1,3-.9,3-.8,3-.5,3-.3,3-.2,3 .1,3 .3,3 .4,3 .4,3 .6,3 .5,3 .6,3 .5,3 .6,3 .6,3 .6,3 .6,3 .7,3 .7,3 .6,3 .7,3 .6,3 .4,3 .4,3 .1,3-.1,3-.2,3-.5,3-.6,3-.8,3-.9,3-1,3-1,3-1.1,3-1.1,3-1.1,3-1.2,3-1.1,3-1.1,3-1.1,3-.9,3-.8,3-.5,3-.3,3 0,3 .3,3 .7,3 .9,3 1.2,3 1.4,3 1.5,3 1.5,3 1.4,3 1.3,3 1.1,3 1,3 .8,3 .7,3 .5,3 .5,3 .5,3 .5,3 .5,3 .5,3 .5,3 .4,3 .2,3 .1,3-.1,3-.4,3-.5,3-.7,3-.9,3-.9,3-1.1,3-1.1,3-1.1,3-1,3-1,3-1,3-.9,3-.7,3-.6,3-.5,3-.2,3-.1,3 .2,3 .4,3 .6,3 .7,3 .9,3 1,3 .9,3 1,3 1,3 .8,3 .7,3 .5,3 .3,3 .1,3-.1,3-.3,3-.5,3-.7,3-.8,3-.9,3-1,3-1,3-1.1,3-1,3-1,3-.8,3-.7,3-.5,3-.2,3 0,3 .3,3 .4,3 .6,3 .7,3 .9,3 .8,3 .9,3 .8,3 .9,3 .8,3 .8,3 .7,3 .6,3 .5,3 .4,3 .3,3 .1,3-.2,3-.3,3-.4,3-.6,3-.7,3-.8,3-.7,3-.7,3-.6,3-.5,3-.4,3-.2,3 0,3 .1,3 .2,3 .3,3 .4,3 .4,3 .5,3 .5,3 .5,3 .4,3 .4,3 .3,3 .3,3 .1,3 0,3-.1,3-.2,3-.3,3-.5,3-.4,3-.5,3-.6,3-.6,3-.6,3-.6,3-.7,3-.6,3-.6,3-.5,3-.4,3-.4,3-.2,3 0,3 .1,3 .2,3 .4,3 .5,3 .7,3 .7,3 .8,3 .8,3 .9,3 .9,3 .8,3 .8,3 .7,3 .6,3 .5,3 .3,3 .2,3 0,3-.2,3-.2,3-.5,3-.5,3-.6,3-.6,3-.6,3-.6,3-.6,3-.5,3-.4,3-.3,3-.2,3-.1,3 .1,3 .2,3 .3,3 .5,3 .5,3 .6,3 .5,3 .5,3 .4,3 .1,3 0,3-.2,3-.5,3-.6,3-.8,3-.8,3-.9,3-1,3-.9,3-.8,3-.8,3-.7,3-.6,3-.5,3-.3,3-.1,3 0,3 .1,3 .3,3 .4,3 .4,3 .5,3 .4,3 .4,3 .4,3 .3,3 .2,3 .2,3 .1,3-.1,3 0,3-.1,3-.1,3-.1,3-.1,3 0,3 0,3 .2,3 .3,3 .4,3 .4,3 .6,3 .8,3 .8,3 .9,3 1,3 1.1,3 1.3,3 1.3,3 1.4,3 1.5,3 1.4,3 1.5,3 1.3,3 1.2,3 1,3 .7,3 .5,3 .1,3-.1,3-.5,3-.8,3-1.2,3-1.6,3-2.1,3-2.8,3-3.8,3-4.4,3" fill="none" stroke="#111" stroke-width="1.8" stroke-linejoin="round"/>
<path d="M1171.8,142.1l.8,0 .3,3 .3,3 .5,3 .5,3 .6,3 .7,3 .8,3 .8,3 .8,3 .8,3 .7,3 .6,3 .3,3 .1,3-.1,3-.4,3-.6,3-.9,3-1,3-1.2,3-1.2,3-1.3,3-1.2,3-.7,3 0,3 0,3 0,3 0,3 0,3 0,3 0,3 0,3 0,3 0,3 0,3 0,3 0,3 0,3 0,3 .6,3 .6,3 .7,3 .7,3 .7,3 .7,3 .7,3 .6,3 .5,3 .3,3 .2,3-.1,3-.3,3-.5,3-.6,3-.8,3-1,3-1,3-1.1,3-.9,3 0,3 0,3 0,3 0,3 0,3 0,3 0,3 0,3 0,3 0,3 0,3 0,3 0,3 0,3 0,3 0,3 0,3 0,3 0,3 0,3 .1,3 1.3,3 1.1,3 1.1,3 .9,3 .9,3 1,3 .9,3 .9,3 .8,3 .8,3 .6,3 .5,3 .2,3 0,3-.4,3-.6,3-.8,3-1.1,3-1.2,3-1.3,3-1.4,3-1.4,3-1.4,3-1.3,3-.2,3 0,3 0,3 0,3 0,3 0,3 0,3 0,3 0,3 0,3 0,3 0,3 0,3 0,3 .8,3 1,3 .9,3 .7,3 .5,3 .3,3 .2,3-.1,3-.3,3-.5,3-.6,3-.8,3-1,3-1,3-.1,3 0,3 0,3 0,3 0,3 0,3 0,3 0,3 0,3 0,3 0,3 0,3 0,3 0,3 0,3 0,3 0,3 .4,3 .9,3 .8,3 .7,3 .7,3 .5,3 .4,3 .3,3 .1,3-.1,3-.3,3-.5,3-.6,3-.7,3-.7,3-.7,3-.7,3-.5,3 0,3 0,3 0,3 0,3 0,3 0,3 0,3 0,3 0,3 .4,3 .5,3 .4,3 .4,3 .3,3 .3,3 .2,3 .1,3 0,3-.1,3-.2,3-.2,3-.4,3-.3,3-.5,3-.4,3-.5,3 0,3 0,3 0,3 0,3 0,3 0,3 0,3 0,3 0,3 0,3 0,3 0,3 0,3 0,3 0,3 0,3 0,3 0,3 .3,3 .6,3 .7,3 .6,3 .5,3 .5,3 .3,3 .3,3 .1,3 0,3-.1,3-.2,3-.4,3-.4,3-.4,3-.5,3-.5,3-.5,3-.4,3-.4,3-.1,3 0,3 0,3 0,3 0,3 0,3 0,3 .2,3 .5,3 .5,3 .4,3 .4,3 .3,3 .2,3 0,3-.2,3-.4,3-.5,3-.6,3-.7,3-.1,3 0,3 0,3 0,3 0,3 0,3 0,3 0,3 0,3 0,3 0,3 0,3 0,3 0,3 0,3 0,3 0,3 0,3 0,3 0,3 0,3 0,3 0,3 0,3 0,3 0,3 0,3 0,3 0,3 0,3 0,3 0,3 0,3 0,3 0,3 0,3 0,3 0,3 .7,3 1.2,3 1.3,3 1.4,3 1.5,3 1.7,3 1.7,3 1.7,3 1.7,3 1.7,3 1.5,3 1.3,3 1,3 .7,3 .4,3 0,3-.3,3-.8,3-1.2,3-1.6,3-2.4,3-3.4,3-4.6,3-5.2,3 0,1.4z" fill="#6464ff" stroke="none" stroke-width="1" />
<path d="M1171.8,142.1l0,3 0,3 0,3 0,3 0,3 0,3 0,3 0,3 0,3 0,3 0,3 0,3 0,3 0,3 0,3 0,3 0,3 0,3 0,3 0,3 0,3 0,3 0,3-.5,3-1.1,3-.9,3-.7,3-.6,3-.3,3-.1,3 .1,3 .3,3 .4,3 .5,3 .5,3 .6,3 .6,3 .6,3 .6,3 0,3 0,3 0,3 0,3 0,3 0,3 0,3 0,3 0,3 0,3 0,3 0,3 0,3 0,3 0,3 0,3 0,3 0,3 0,3-.3,3-1.2,3-1.3,3-1.3,3-1.4,3-1.3,3-1.3,3-1.2,3-1,3-.8,3-.5,3-.2,3 .2,3 .5,3 .9,3 1.2,3 1.4,3 1.6,3 1.6,3 1.6,3 1.5,3 1.3,3 0,3 0,3 0,3 0,3 0,3 0,3 0,3 0,3 0,3 0,3 0,3 0,3 0,3 0,3 0,3 0,3 0,3 0,3 0,3 0,3 0,3 0,3 0,3 0,3-1.1,3-1.2,3-1,3-.9,3-.6,3-.4,3-.1,3 .1,3 .4,3 .7,3 .8,3 .9,3 1.1,3 1.1,3 .2,3 0,3 0,3 0,3 0,3 0,3 0,3 0,3 0,3 0,3 0,3 0,3 0,3 0,3-.9,3-1.1,3-1.1,3-1,3-.9,3-.8,3-.5,3-.2,3 0,3 .3,3 .5,3 .7,3 .8,3 .9,3 1,3 .9,3 .9,3 .5,3 0,3 0,3 0,3 0,3 0,3 0,3 0,3 0,3 0,3 0,3 0,3 0,3 0,3 0,3 0,3 0,3-.1,3-.5,3-.3,3-.2,3-.1,3 .1,3 .2,3 .2,3 .4,3 .3,3 0,3 0,3 0,3 0,3 0,3 0,3 0,3 0,3 0,3 0,3 0,3 0,3 0,3 0,3 0,3 0,3 0,3-.5,3-.5,3-.5,3-.4,3-.5,3-.4,3-.3,3-.3,3-.1,3-.1,3 .1,3 .2,3 .3,3 .4,3 .5,3 .5,3 .6,3 .6,3 .4,3 0,3 0,3 0,3 0,3 0,3 0,3 0,3 0,3 0,3 0,3 0,3 0,3 0,3 0,3 0,3 0,3 0,3 0,3 0,3-.3,3-.2,3-.2,3 0,3 0,3 .2,3 .3,3 .2,3 0,3 0,3 0,3 0,3 0,3 0,3 0,3 0,3 0,3 0,3 0,3 0,3-.6,3-.8,3-.7,3-.7,3-.7,3-.6,3-.5,3-.4,3-.3,3-.2,3 0,3 0,3 .1,3 .1,3 .2,3 .2,3 .2,3 .1,3 .1,3 0,3-.1,3 0,3-.1,3-.2,3-.1,3-.1,3-.1,3-.1,3 0,3 .2,3 .2,3 .3,3 .5,3 .5,3 .7,3 .7,3 .9,3 .9,3 .4,3 0,3 0,3 0,3 0,3 0,3 0,3 0,3 0,3 0,3 0,3 0,3 0,3 0,3 0,3 0,3 0,3 0,3 0,3 0,3 0,3 0,3 0,3-.4,3 .4,1.4z" fill="#ff6868" stroke="none" stroke-width="1" />
<path d="M1172.6,142.1l.3,3 .3,3 .5,3 .5,3 .6,3 .7,3 .8,3 .8,3 .8,3 .8,3 .7,3 .6,3 .3,3 .1,3-.1,3-.4,3-.6,3-.9,3-1,3-1.2,3-1.2,3-1.3,3-1.2,3-1.2,3-1.1,3-.9,3-.7,3-.6,3-.3,3-.1,3 .1,3 .3,3 .4,3 .5,3 .5,3 .6,3 .6,3 .6,3 .6,3 .6,3 .6,3 .7,3 .7,3 .7,3 .7,3 .7,3 .6,3 .5,3 .3,3 .2,3-.1,3-.3,3-.5,3-.6,3-.8,3-1,3-1,3-1.1,3-1.2,3-1.2,3-1.3,3-1.3,3-1.4,3-1.3,3-1.3,3-1.2,3-1,3-.8,3-.5,3-.2,3 .2,3 .5,3 .9,3 1.2,3 1.4,3 1.6,3 1.6,3 1.6,3 1.5,3 1.4,3 1.3,3 1.1,3 1.1,3 .9,3 .9,3 1,3 .9,3 .9,3 .8,3 .8,3 .6,3 .5,3 .2,3 0,3-.4,3-.6,3-.8,3-1.1,3-1.2,3-1.3,3-1.4,3-1.4,3-1.4,3-1.3,3-1.3,3-1.2,3-1,3-.9,3-.6,3-.4,3-.1,3 .1,3 .4,3 .7,3 .8,3 .9,3 1.1,3 1.1,3 1,3 1,3 .9,3 .7,3 .5,3 .3,3 .2,3-.1,3-.3,3-.5,3-.6,3-.8,3-1,3-1,3-1,3-1.1,3-1.1,3-1,3-.9,3-.8,3-.5,3-.2,3 0,3 .3,3 .5,3 .7,3 .8,3 .9,3 1,3 .9,3 .9,3 .9,3 .9,3 .8,3 .7,3 .7,3 .5,3 .4,3 .3,3 .1,3-.1,3-.3,3-.5,3-.6,3-.7,3-.7,3-.7,3-.7,3-.6,3-.5,3-.3,3-.2,3-.1,3 .1,3 .2,3 .2,3 .4,3 .3,3 .4,3 .5,3 .4,3 .4,3 .3,3 .3,3 .2,3 .1,3 0,3-.1,3-.2,3-.2,3-.4,3-.3,3-.5,3-.4,3-.5,3-.5,3-.5,3-.5,3-.4,3-.5,3-.4,3-.3,3-.3,3-.1,3-.1,3 .1,3 .2,3 .3,3 .4,3 .5,3 .5,3 .6,3 .6,3 .7,3 .6,3 .7,3 .6,3 .5,3 .5,3 .3,3 .3,3 .1,3 0,3-.1,3-.2,3-.4,3-.4,3-.4,3-.5,3-.5,3-.5,3-.4,3-.4,3-.4,3-.2,3-.2,3 0,3 0,3 .2,3 .3,3 .4,3 .5,3 .5,3 .4,3 .4,3 .3,3 .2,3 0,3-.2,3-.4,3-.5,3-.6,3-.7,3-.7,3-.8,3-.7,3-.7,3-.7,3-.6,3-.5,3-.4,3-.3,3-.2,3 0,3 0,3 .1,3 .1,3 .2,3 .2,3 .2,3 .1,3 .1,3 0,3-.1,3 0,3-.1,3-.2,3-.1,3-.1,3-.1,3-.1,3 0,3 .2,3 .2,3 .3,3 .5,3 .5,3 .7,3 .7,3 .9,3 .9,3 1.1,3 1.2,3 1.3,3 1.4,3 1.5,3 1.7,3 1.7,3 1.7,3 1.7,3 1.7,3 1.5,3 1.3,3 1,3 .7,3 .4,3 0,3-.3,3-.8,3-1.2,3-1.6,3-2.4,3-3.4,3-4.6,3-5.6,3" fill="none" stroke="#111" stroke-width="1.8" stroke-linejoin="round"/>
<path d="M1194,142.1l1.5,0 .4,3 .4,3 .5,3 .5,3 .6,3 .6,3 .7,3 .7,3 .7,3 .7,3 .5,3 .4,3 .2,3 0,3-.2,3-.5,3-.7,3-.9,3-1,3-1.1,3-1.3,3-1.2,3-1.2,3-.3,3 0,3 0,3 0,3 0,3 0,3 0,3 0,3 0,3 0,3 0,3 0,3 0,3 0,3 0,3 0,3 .6,3 .7,3 .7,3 .7,3 .8,3 .7,3 .8,3 .6,3 .5,3 .4,3 .1,3-.1,3-.3,3-.5,3-.7,3-.9,3-1,3-1.1,3-1.2,3-.8,3 0,3 0,3 0,3 0,3 0,3 0,3 0,3 0,3 0,3 0,3 0,3 0,3 0,3 0,3 0,3 0,3 0,3 0,3 0,3 0,3 0,3 0,3 1.3,3 1.4,3 1.4,3 1.4,3 1.3,3 1.4,3 1.3,3 1.3,3 1.1,3 .9,3 .7,3 .4,3 0,3-.4,3-.6,3-1,3-1.3,3-1.5,3-1.6,3-1.7,3-1.7,3-1.8,3-1.7,3-.6,3 0,3 0,3 0,3 0,3 0,3 0,3 0,3 0,3 0,3 0,3 0,3 0,3 0,3 .1,3 1,3 .9,3 .7,3 .6,3 .3,3 .1,3 0,3-.3,3-.4,3-.7,3-.7,3-1,3-.6,3 0,3 0,3 0,3 0,3 0,3 0,3 0,3 0,3 0,3 0,3 0,3 0,3 0,3 0,3 0,3 0,3 0,3 .3,3 .9,3 .8,3 .8,3 .6,3 .6,3 .4,3 .3,3 .1,3-.1,3-.3,3-.4,3-.6,3-.7,3-.7,3-.7,3-.7,3-.6,3 0,3 0,3 0,3 0,3 0,3 0,3 0,3 0,3 0,3 .3,3 .3,3 .4,3 .3,3 .3,3 .2,3 .1,3 .1,3 0,3 0,3-.1,3-.2,3-.3,3-.3,3-.3,3-.3,3-.4,3-.1,3 0,3 0,3 0,3 0,3 0,3 0,3 0,3 0,3 0,3 0,3 0,3 0,3 0,3 0,3 0,3 0,3 0,3 .2,3 .4,3 .4,3 .4,3 .3,3 .3,3 .2,3 .2,3 .1,3 0,3-.1,3-.1,3-.2,3-.3,3-.3,3-.3,3-.4,3-.3,3-.4,3-.1,3 0,3 0,3 0,3 0,3 0,3 0,3 0,3 0,3 .4,3 .4,3 .4,3 .3,3 .3,3 .1,3 0,3-.1,3-.3,3-.4,3-.4,3-.6,3-.1,3 0,3 0,3 0,3 0,3 0,3 0,3 0,3 0,3 0,3 0,3 0,3 0,3 0,3 0,3 0,3 0,3 0,3 0,3 0,3 0,3 0,3 0,3 0,3 0,3 0,3 0,3 0,3 0,3 0,3 0,3 0,3 0,3 0,3 0,3 0,3 0,3 0,3 .3,3 1.3,3 1.5,3 1.6,3 1.8,3 1.9,3 2,3 2,3 2,3 2,3 1.8,3 1.7,3 1.3,3 1.1,3 .6,3 .2,3-.2,3-.7,3-1.2,3-1.8,3-2.7,3-3.9,3-5.6,3-6.8,3-.2,1.4z" fill="#6464ff" stroke="none" stroke-width="1" />
<path d="M1194,142.1l0,3 0,3 0,3 0,3 0,3 0,3 0,3 0,3 0,3 0,3 0,3 0,3 0,3 0,3 0,3 0,3 0,3 0,3 0,3 0,3 0,3 0,3 0,3-.9,3-1,3-.9,3-.8,3-.5,3-.3,3-.1,3 .1,3 .3,3 .5,3 .5,3 .6,3 .6,3 .7,3 .6,3 .6,3 0,3 0,3 0,3 0,3 0,3 0,3 0,3 0,3 0,3 0,3 0,3 0,3 0,3 0,3 0,3 0,3 0,3 0,3 0,3-.4,3-1.4,3-1.4,3-1.5,3-1.6,3-1.6,3-1.5,3-1.5,3-1.3,3-1,3-.8,3-.4,3 0,3 .4,3 .8,3 1.2,3 1.5,3 1.6,3 1.8,3 1.8,3 1.8,3 1.7,3 1.6,3 .2,3 0,3 0,3 0,3 0,3 0,3 0,3 0,3 0,3 0,3 0,3 0,3 0,3 0,3 0,3 0,3 0,3 0,3 0,3 0,3 0,3 0,3 0,3-1,3-1.5,3-1.3,3-1.2,3-.8,3-.5,3-.3,3 .1,3 .5,3 .6,3 1,3 1,3 1.2,3 1.1,3 1.1,3 0,3 0,3 0,3 0,3 0,3 0,3 0,3 0,3 0,3 0,3 0,3 0,3-.4,3-1.1,3-1.1,3-1.2,3-1.1,3-.9,3-.8,3-.5,3-.3,3 0,3 .3,3 .6,3 .8,3 .9,3 1,3 1.1,3 1,3 1,3 .7,3 0,3 0,3 0,3 0,3 0,3 0,3 0,3 0,3 0,3 0,3 0,3 0,3 0,3 0,3 0,3 0,3 0,3-.4,3-.4,3-.2,3-.1,3 .1,3 .1,3 .2,3 .3,3 .3,3 .1,3 0,3 0,3 0,3 0,3 0,3 0,3 0,3 0,3 0,3 0,3 0,3 0,3 0,3 0,3 0,3 0,3-.2,3-.4,3-.3,3-.3,3-.3,3-.3,3-.2,3-.2,3-.1,3 0,3 0,3 .1,3 .2,3 .3,3 .3,3 .4,3 .3,3 .5,3 .2,3 0,3 0,3 0,3 0,3 0,3 0,3 0,3 0,3 0,3 0,3 0,3 0,3 0,3 0,3 0,3 0,3 0,3 0,3-.2,3-.2,3-.2,3-.2,3 0,3 .1,3 .1,3 .3,3 .3,3 0,3 0,3 0,3 0,3 0,3 0,3 0,3 0,3 0,3 0,3 0,3 0,3-.4,3-.6,3-.5,3-.6,3-.5,3-.4,3-.4,3-.4,3-.3,3-.2,3-.2,3-.1,3-.1,3-.1,3-.1,3-.1,3-.1,3-.2,3-.3,3-.3,3-.3,3-.3,3-.3,3-.3,3-.2,3-.2,3 0,3 0,3 .1,3 .3,3 .4,3 .5,3 .6,3 .7,3 .9,3 .9,3 1,3 1.1,3 1,3 0,3 0,3 0,3 0,3 0,3 0,3 0,3 0,3 0,3 0,3 0,3 0,3 0,3 0,3 0,3 0,3 0,3 0,3 0,3 0,3 0,3 0,3 0,3 0,1.4z" fill="#ff6868" stroke="none" stroke-width="1" />
<path d="M1195.5,142.1l.4,3 .4,3 .5,3 .5,3 .6,3 .6,3 .7,3 .7,3 .7,3 .7,3 .5,3 .4,3 .2,3 0,3-.2,3-.5,3-.7,3-.9,3-1,3-1.1,3-1.3,3-1.2,3-1.2,3-1.2,3-1,3-.9,3-.8,3-.5,3-.3,3-.1,3 .1,3 .3,3 .5,3 .5,3 .6,3 .6,3 .7,3 .6,3 .6,3 .6,3 .7,3 .7,3 .7,3 .8,3 .7,3 .8,3 .6,3 .5,3 .4,3 .1,3-.1,3-.3,3-.5,3-.7,3-.9,3-1,3-1.1,3-1.2,3-1.2,3-1.4,3-1.4,3-1.5,3-1.6,3-1.6,3-1.5,3-1.5,3-1.3,3-1,3-.8,3-.4,3 0,3 .4,3 .8,3 1.2,3 1.5,3 1.6,3 1.8,3 1.8,3 1.8,3 1.7,3 1.6,3 1.5,3 1.4,3 1.4,3 1.4,3 1.3,3 1.4,3 1.3,3 1.3,3 1.1,3 .9,3 .7,3 .4,3 0,3-.4,3-.6,3-1,3-1.3,3-1.5,3-1.6,3-1.7,3-1.7,3-1.8,3-1.7,3-1.6,3-1.5,3-1.3,3-1.2,3-.8,3-.5,3-.3,3 .1,3 .5,3 .6,3 1,3 1,3 1.2,3 1.1,3 1.2,3 1,3 .9,3 .7,3 .6,3 .3,3 .1,3 0,3-.3,3-.4,3-.7,3-.7,3-1,3-1,3-1.1,3-1.1,3-1.2,3-1.1,3-.9,3-.8,3-.5,3-.3,3 0,3 .3,3 .6,3 .8,3 .9,3 1,3 1.1,3 1,3 1,3 1,3 .9,3 .8,3 .8,3 .6,3 .6,3 .4,3 .3,3 .1,3-.1,3-.3,3-.4,3-.6,3-.7,3-.7,3-.7,3-.7,3-.6,3-.4,3-.4,3-.2,3-.1,3 .1,3 .1,3 .2,3 .3,3 .3,3 .4,3 .3,3 .4,3 .3,3 .3,3 .2,3 .1,3 .1,3 0,3 0,3-.1,3-.2,3-.3,3-.3,3-.3,3-.3,3-.4,3-.3,3-.4,3-.3,3-.3,3-.3,3-.3,3-.2,3-.2,3-.1,3 0,3 0,3 .1,3 .2,3 .3,3 .3,3 .4,3 .3,3 .5,3 .4,3 .4,3 .4,3 .4,3 .3,3 .3,3 .2,3 .2,3 .1,3 0,3-.1,3-.1,3-.2,3-.3,3-.3,3-.3,3-.4,3-.3,3-.4,3-.3,3-.2,3-.2,3-.2,3 0,3 .1,3 .1,3 .3,3 .3,3 .4,3 .4,3 .4,3 .3,3 .3,3 .1,3 0,3-.1,3-.3,3-.4,3-.4,3-.6,3-.5,3-.6,3-.5,3-.6,3-.5,3-.4,3-.4,3-.4,3-.3,3-.2,3-.2,3-.1,3-.1,3-.1,3-.1,3-.1,3-.1,3-.2,3-.3,3-.3,3-.3,3-.3,3-.3,3-.3,3-.2,3-.2,3 0,3 0,3 .1,3 .3,3 .4,3 .5,3 .6,3 .7,3 .9,3 .9,3 1,3 1.1,3 1.3,3 1.3,3 1.5,3 1.6,3 1.8,3 1.9,3 2,3 2,3 2,3 2,3 1.8,3 1.7,3 1.3,3 1.1,3 .6,3 .2,3-.2,3-.7,3-1.2,3-1.8,3-2.7,3-3.9,3-5.6,3-6.8,3" fill="none" stroke="#111" stroke-width="1.8" stroke-linejoin="round"/>
<path d="M1216.2,142.1l2.3,0 .5,3 .5,3 .5,3 .5,3 .6,3 .5,3 .6,3 .6,3 .6,3 .5,3 .4,3 .2,3 .1,3-.2,3-.3,3-.6,3-.8,3-.9,3-1,3-1.2,3-1.2,3-1.2,3-1,3 0,3 0,3 0,3 0,3 0,3 0,3 0,3 0,3 0,3 0,3 0,3 0,3 0,3 0,3 0,3 0,3 .7,3 .7,3 .7,3 .8,3 .8,3 .8,3 .7,3 .7,3 .5,3 .4,3 .1,3 0,3-.4,3-.5,3-.7,3-1,3-1,3-1.2,3-1.3,3-.8,3 0,3 0,3 0,3 0,3 0,3 0,3 0,3 0,3 0,3 0,3 0,3 0,3 0,3 0,3 0,3 0,3 0,3 0,3 0,3 0,3 0,3 0,3 0,3 1.8,3 1.8,3 1.9,3 1.8,3 1.9,3 1.8,3 1.6,3 1.5,3 1.3,3 .9,3 .5,3 .1,3-.3,3-.8,3-1.1,3-1.5,3-1.8,3-1.9,3-2.1,3-2.1,3-2.1,3-2.1,3-1.1,3 0,3 0,3 0,3 0,3 0,3 0,3 0,3 0,3 0,3 0,3 0,3 0,3 0,3 0,3 .3,3 1,3 .7,3 .6,3 .3,3 .2,3-.1,3-.2,3-.4,3-.6,3-.8,3-.9,3-.1,3 0,3 0,3 0,3 0,3 0,3 0,3 0,3 0,3 0,3 0,3 0,3 0,3 0,3 0,3 0,3 0,3 0,3 .1,3 .9,3 .9,3 .8,3 .7,3 .6,3 .4,3 .3,3 .1,3-.1,3-.3,3-.4,3-.5,3-.7,3-.7,3-.7,3-.6,3-.6,3-.2,3 0,3 0,3 0,3 0,3 0,3 0,3 0,3 0,3 .1,3 .3,3 .2,3 .3,3 .2,3 .2,3 .1,3 .1,3 0,3-.1,3-.1,3-.1,3-.2,3-.1,3-.2,3-.2,3-.2,3-.2,3-.1,3 0,3 0,3 0,3 0,3 0,3 0,3 0,3 0,3 0,3 0,3 0,3 0,3 0,3 0,3 0,3 0,3 0,3 .2,3 .2,3 .1,3 .2,3 .1,3 .1,3 0,3 .1,3 0,3-.1,3 0,3-.1,3-.1,3-.2,3-.2,3-.1,3-.2,3 0,3 0,3 0,3 0,3 0,3 0,3 0,3 0,3 0,3 0,3 .1,3 .3,3 .3,3 .3,3 .2,3 .1,3 0,3-.1,3-.1,3-.3,3-.3,3-.3,3-.2,3 0,3 0,3 0,3 0,3 0,3 0,3 0,3 0,3 0,3 0,3 0,3 0,3 0,3 0,3 0,3 0,3 0,3 0,3 0,3 0,3 0,3 0,3 0,3 0,3 0,3 0,3 0,3 0,3 0,3 0,3 0,3 0,3 0,3 0,3 0,3 0,3 0,3 0,3 1.4,3 1.7,3 1.8,3 2,3 2.1,3 2.3,3 2.3,3 2.4,3 2.4,3 2.2,3 2,3 1.7,3 1.3,3 .9,3 .4,3-.1,3-.6,3-1.2,3-1.9,3-2.9,3-4.6,3-6.6,3-8.2,3-.8,1.4z" fill="#6464ff" stroke="none" stroke-width="1" />
<path d="M1216.2,142.1l0,3 0,3 0,3 0,3 0,3 0,3 0,3 0,3 0,3 0,3 0,3 0,3 0,3 0,3 0,3 0,3 0,3 0,3 0,3 0,3 0,3 0,3-.1,3-1.2,3-1,3-.9,3-.7,3-.5,3-.3,3-.1,3 .2,3 .3,3 .5,3 .5,3 .7,3 .6,3 .7,3 .6,3 .7,3 0,3 0,3 0,3 0,3 0,3 0,3 0,3 0,3 0,3 0,3 0,3 0,3 0,3 0,3 0,3 0,3 0,3 0,3 0,3-.6,3-1.5,3-1.6,3-1.7,3-1.8,3-1.8,3-1.8,3-1.8,3-1.6,3-1.3,3-1.1,3-.6,3-.2,3 .3,3 .7,3 1.2,3 1.5,3 1.8,3 1.9,3 2,3 2.1,3 2,3 1.9,3 1.9,3 .1,3 0,3 0,3 0,3 0,3 0,3 0,3 0,3 0,3 0,3 0,3 0,3 0,3 0,3 0,3 0,3 0,3 0,3 0,3 0,3 0,3 0,3-.9,3-1.9,3-1.6,3-1.4,3-1.1,3-.7,3-.3,3 .1,3 .4,3 .7,3 1,3 1.2,3 1.3,3 1.2,3 1.2,3 .8,3 0,3 0,3 0,3 0,3 0,3 0,3 0,3 0,3 0,3 0,3 0,3-.9,3-1.2,3-1.2,3-1.2,3-1.1,3-1.1,3-.8,3-.6,3-.3,3 .1,3 .3,3 .7,3 .8,3 1.1,3 1.1,3 1.1,3 1.2,3 1.1,3 .9,3 0,3 0,3 0,3 0,3 0,3 0,3 0,3 0,3 0,3 0,3 0,3 0,3 0,3 0,3 0,3 0,3 0,3-.3,3-.3,3-.2,3-.1,3 0,3 .1,3 .1,3 .3,3 .2,3 .2,3 0,3 0,3 0,3 0,3 0,3 0,3 0,3 0,3 0,3 0,3 0,3 0,3 0,3 0,3 0,3 0,3 0,3-.1,3-.2,3-.2,3-.1,3-.1,3-.1,3-.1,3-.1,3 0,3 0,3 .1,3 .1,3 .1,3 .1,3 .1,3 .2,3 .2,3 .1,3 0,3 0,3 0,3 0,3 0,3 0,3 0,3 0,3 0,3 0,3 0,3 0,3 0,3 0,3 0,3 0,3 0,3-.2,3-.2,3-.2,3-.1,3-.1,3 0,3 0,3 .2,3 .2,3 .2,3 .2,3 0,3 0,3 0,3 0,3 0,3 0,3 0,3 0,3 0,3 0,3 0,3-.2,3-.3,3-.4,3-.3,3-.4,3-.3,3-.3,3-.3,3-.3,3-.2,3-.3,3-.3,3-.3,3-.3,3-.4,3-.4,3-.5,3-.6,3-.6,3-.6,3-.6,3-.6,3-.5,3-.4,3-.4,3-.2,3 0,3 .1,3 .3,3 .4,3 .6,3 .7,3 .8,3 .9,3 1,3 1.1,3 1.2,3 1.3,3 1.4,3 .2,3 0,3 0,3 0,3 0,3 0,3 0,3 0,3 0,3 0,3 0,3 0,3 0,3 0,3 0,3 0,3 0,3 0,3 0,3 0,3 0,3 0,3 0,3 0,1.4z" fill="#ff6868" stroke="none" stroke-width="1" />
<path d="M1218.5,142.1l.5,3 .5,3 .5,3 .5,3 .6,3 .5,3 .6,3 .6,3 .6,3 .5,3 .4,3 .2,3 .1,3-.2,3-.3,3-.6,3-.8,3-.9,3-1,3-1.2,3-1.2,3-1.2,3-1.1,3-1.2,3-1,3-.9,3-.7,3-.5,3-.3,3-.1,3 .2,3 .3,3 .5,3 .5,3 .7,3 .6,3 .7,3 .6,3 .7,3 .7,3 .7,3 .7,3 .8,3 .8,3 .8,3 .7,3 .7,3 .5,3 .4,3 .1,3 0,3-.4,3-.5,3-.7,3-1,3-1,3-1.2,3-1.3,3-1.4,3-1.5,3-1.6,3-1.7,3-1.8,3-1.8,3-1.8,3-1.8,3-1.6,3-1.3,3-1.1,3-.6,3-.2,3 .3,3 .7,3 1.2,3 1.5,3 1.8,3 1.9,3 2,3 2.1,3 2,3 1.9,3 1.9,3 1.9,3 1.8,3 1.9,3 1.8,3 1.9,3 1.8,3 1.6,3 1.5,3 1.3,3 .9,3 .5,3 .1,3-.3,3-.8,3-1.1,3-1.5,3-1.8,3-1.9,3-2.1,3-2.1,3-2.1,3-2.1,3-2,3-1.9,3-1.6,3-1.4,3-1.1,3-.7,3-.3,3 .1,3 .4,3 .7,3 1,3 1.2,3 1.3,3 1.2,3 1.2,3 1.1,3 1,3 .7,3 .6,3 .3,3 .2,3-.1,3-.2,3-.4,3-.6,3-.8,3-.9,3-1,3-1.2,3-1.2,3-1.2,3-1.1,3-1.1,3-.8,3-.6,3-.3,3 .1,3 .3,3 .7,3 .8,3 1.1,3 1.1,3 1.1,3 1.2,3 1.1,3 1,3 .9,3 .9,3 .8,3 .7,3 .6,3 .4,3 .3,3 .1,3-.1,3-.3,3-.4,3-.5,3-.7,3-.7,3-.7,3-.6,3-.6,3-.5,3-.3,3-.2,3-.1,3 0,3 .1,3 .1,3 .3,3 .2,3 .3,3 .3,3 .2,3 .3,3 .2,3 .2,3 .1,3 .1,3 0,3-.1,3-.1,3-.1,3-.2,3-.1,3-.2,3-.2,3-.2,3-.2,3-.2,3-.2,3-.2,3-.1,3-.1,3-.1,3-.1,3-.1,3 0,3 0,3 .1,3 .1,3 .1,3 .1,3 .1,3 .2,3 .2,3 .1,3 .2,3 .2,3 .1,3 .2,3 .1,3 .1,3 0,3 .1,3 0,3-.1,3 0,3-.1,3-.1,3-.2,3-.2,3-.1,3-.2,3-.2,3-.2,3-.2,3-.1,3-.1,3 0,3 0,3 .2,3 .2,3 .2,3 .3,3 .3,3 .3,3 .3,3 .2,3 .1,3 0,3-.1,3-.1,3-.3,3-.3,3-.3,3-.4,3-.3,3-.4,3-.3,3-.4,3-.3,3-.3,3-.3,3-.3,3-.2,3-.3,3-.3,3-.3,3-.3,3-.4,3-.4,3-.5,3-.6,3-.6,3-.6,3-.6,3-.6,3-.5,3-.4,3-.4,3-.2,3 0,3 .1,3 .3,3 .4,3 .6,3 .7,3 .8,3 .9,3 1,3 1.1,3 1.2,3 1.3,3 1.4,3 1.6,3 1.7,3 1.8,3 2,3 2.1,3 2.3,3 2.3,3 2.4,3 2.4,3 2.2,3 2,3 1.7,3 1.3,3 .9,3 .4,3-.1,3-.6,3-1.2,3-1.9,3-2.9,3-4.6,3-6.6,3-8.2,3" fill="none" stroke="#111" stroke-width="1.8" stroke-linejoin="round"/>
<line x1="924.0" y1="374.4" x2="1332.0" y2="374.4" stroke="#ff1010" stroke-width="5.0" />
<line x1="924.0" y1="439.3" x2="1332.0" y2="439.3" stroke="#1010ff" stroke-width="5.4" />
<line x1="924.0" y1="976.0" x2="1332.0" y2="976.0" stroke="#ff1010" stroke-width="5.0" />
<line x1="924.0" y1="1068.7" x2="1332.0" y2="1068.7" stroke="#1010ff" stroke-width="5.4" />
<text x="943.8" y="361.5" font-size="21" fill="#ff2020" font-family='"Liberation Sans", sans-serif' textLength="35.5" lengthAdjust="spacingAndGlyphs">Top</text>
<text x="938.8" y="467.7" font-size="20.5" fill="#1c1cff" font-family='"Liberation Sans", sans-serif' textLength="46.6" lengthAdjust="spacingAndGlyphs">Base</text>
<text x="943.8" y="964.5" font-size="21" fill="#ff2020" font-family='"Liberation Sans", sans-serif' textLength="35.5" lengthAdjust="spacingAndGlyphs">Top</text>
<text x="938.8" y="1095.3" font-size="20.5" fill="#1c1cff" font-family='"Liberation Sans", sans-serif' textLength="46.6" lengthAdjust="spacingAndGlyphs">Base</text>
<text x="962.0" y="432.5" font-size="53" fill="#1212f0" font-family='"Liberation Sans", sans-serif' textLength="27.0" lengthAdjust="spacingAndGlyphs">1</text>
<text x="962.5" y="1033.0" font-size="53" fill="#1212f0" font-family='"Liberation Sans", sans-serif' textLength="27.0" lengthAdjust="spacingAndGlyphs">2</text>
<line x1="440.8" y1="141.6" x2="440.8" y2="149.6" stroke="#555" stroke-width="1.6" />
<line x1="475.4" y1="141.6" x2="475.4" y2="149.6" stroke="#555" stroke-width="1.6" />
<line x1="510.0" y1="141.6" x2="510.0" y2="149.6" stroke="#555" stroke-width="1.6" />
<line x1="544.8" y1="141.6" x2="544.8" y2="149.6" stroke="#555" stroke-width="1.6" />
<line x1="613.3" y1="141.6" x2="613.3" y2="149.6" stroke="#555" stroke-width="1.6" />
<line x1="647.8" y1="141.6" x2="647.8" y2="149.6" stroke="#555" stroke-width="1.6" />
<line x1="682.3" y1="141.6" x2="682.3" y2="149.6" stroke="#555" stroke-width="1.6" />
<line x1="716.6" y1="141.6" x2="716.6" y2="149.6" stroke="#555" stroke-width="1.6" />
<line x1="785.7" y1="141.6" x2="785.7" y2="149.6" stroke="#555" stroke-width="1.6" />
<line x1="820.3" y1="141.6" x2="820.3" y2="149.6" stroke="#555" stroke-width="1.6" />
<line x1="854.6" y1="141.6" x2="854.6" y2="149.6" stroke="#555" stroke-width="1.6" />
<line x1="889.0" y1="141.6" x2="889.0" y2="149.6" stroke="#555" stroke-width="1.6" />
<line x1="407.2" y1="270.2" x2="416.2" y2="270.2" stroke="#444" stroke-width="1.6" />
<line x1="578.0" y1="270.2" x2="587.0" y2="270.2" stroke="#444" stroke-width="1.6" />
<line x1="751.0" y1="270.2" x2="760.0" y2="270.2" stroke="#444" stroke-width="1.6" />
<line x1="924.0" y1="270.2" x2="933.0" y2="270.2" stroke="#444" stroke-width="1.6" />
<line x1="569.0" y1="270.2" x2="578.0" y2="270.2" stroke="#444" stroke-width="1.6" />
<line x1="742.0" y1="270.2" x2="751.0" y2="270.2" stroke="#444" stroke-width="1.6" />
<line x1="915.0" y1="270.2" x2="924.0" y2="270.2" stroke="#444" stroke-width="1.6" />
<line x1="1323.0" y1="270.2" x2="1332.0" y2="270.2" stroke="#444" stroke-width="1.6" />
<text x="395.5" y="280.2" font-size="26" fill="#111" font-family='"Liberation Sans", sans-serif' text-anchor="end" textLength="65.0" lengthAdjust="spacingAndGlyphs">3550</text>
<line x1="407.2" y1="402.7" x2="416.2" y2="402.7" stroke="#444" stroke-width="1.6" />
<line x1="578.0" y1="402.7" x2="587.0" y2="402.7" stroke="#444" stroke-width="1.6" />
<line x1="751.0" y1="402.7" x2="760.0" y2="402.7" stroke="#444" stroke-width="1.6" />
<line x1="924.0" y1="402.7" x2="933.0" y2="402.7" stroke="#444" stroke-width="1.6" />
<line x1="569.0" y1="402.7" x2="578.0" y2="402.7" stroke="#444" stroke-width="1.6" />
<line x1="742.0" y1="402.7" x2="751.0" y2="402.7" stroke="#444" stroke-width="1.6" />
<line x1="915.0" y1="402.7" x2="924.0" y2="402.7" stroke="#444" stroke-width="1.6" />
<line x1="1323.0" y1="402.7" x2="1332.0" y2="402.7" stroke="#444" stroke-width="1.6" />
<text x="395.5" y="412.7" font-size="26" fill="#111" font-family='"Liberation Sans", sans-serif' text-anchor="end" textLength="65.0" lengthAdjust="spacingAndGlyphs">3600</text>
<line x1="407.2" y1="535.2" x2="416.2" y2="535.2" stroke="#444" stroke-width="1.6" />
<line x1="578.0" y1="535.2" x2="587.0" y2="535.2" stroke="#444" stroke-width="1.6" />
<line x1="751.0" y1="535.2" x2="760.0" y2="535.2" stroke="#444" stroke-width="1.6" />
<line x1="924.0" y1="535.2" x2="933.0" y2="535.2" stroke="#444" stroke-width="1.6" />
<line x1="569.0" y1="535.2" x2="578.0" y2="535.2" stroke="#444" stroke-width="1.6" />
<line x1="742.0" y1="535.2" x2="751.0" y2="535.2" stroke="#444" stroke-width="1.6" />
<line x1="915.0" y1="535.2" x2="924.0" y2="535.2" stroke="#444" stroke-width="1.6" />
<line x1="1323.0" y1="535.2" x2="1332.0" y2="535.2" stroke="#444" stroke-width="1.6" />
<text x="395.5" y="545.2" font-size="26" fill="#111" font-family='"Liberation Sans", sans-serif' text-anchor="end" textLength="65.0" lengthAdjust="spacingAndGlyphs">3650</text>
<line x1="407.2" y1="667.8" x2="416.2" y2="667.8" stroke="#444" stroke-width="1.6" />
<line x1="578.0" y1="667.8" x2="587.0" y2="667.8" stroke="#444" stroke-width="1.6" />
<line x1="751.0" y1="667.8" x2="760.0" y2="667.8" stroke="#444" stroke-width="1.6" />
<line x1="924.0" y1="667.8" x2="933.0" y2="667.8" stroke="#444" stroke-width="1.6" />
<line x1="569.0" y1="667.8" x2="578.0" y2="667.8" stroke="#444" stroke-width="1.6" />
<line x1="742.0" y1="667.8" x2="751.0" y2="667.8" stroke="#444" stroke-width="1.6" />
<line x1="915.0" y1="667.8" x2="924.0" y2="667.8" stroke="#444" stroke-width="1.6" />
<line x1="1323.0" y1="667.8" x2="1332.0" y2="667.8" stroke="#444" stroke-width="1.6" />
<text x="395.5" y="677.8" font-size="26" fill="#111" font-family='"Liberation Sans", sans-serif' text-anchor="end" textLength="65.0" lengthAdjust="spacingAndGlyphs">3700</text>
<line x1="407.2" y1="800.3" x2="416.2" y2="800.3" stroke="#444" stroke-width="1.6" />
<line x1="578.0" y1="800.3" x2="587.0" y2="800.3" stroke="#444" stroke-width="1.6" />
<line x1="751.0" y1="800.3" x2="760.0" y2="800.3" stroke="#444" stroke-width="1.6" />
<line x1="924.0" y1="800.3" x2="933.0" y2="800.3" stroke="#444" stroke-width="1.6" />
<line x1="569.0" y1="800.3" x2="578.0" y2="800.3" stroke="#444" stroke-width="1.6" />
<line x1="742.0" y1="800.3" x2="751.0" y2="800.3" stroke="#444" stroke-width="1.6" />
<line x1="915.0" y1="800.3" x2="924.0" y2="800.3" stroke="#444" stroke-width="1.6" />
<line x1="1323.0" y1="800.3" x2="1332.0" y2="800.3" stroke="#444" stroke-width="1.6" />
<text x="395.5" y="810.3" font-size="26" fill="#111" font-family='"Liberation Sans", sans-serif' text-anchor="end" textLength="65.0" lengthAdjust="spacingAndGlyphs">3750</text>
<line x1="407.2" y1="932.8" x2="416.2" y2="932.8" stroke="#444" stroke-width="1.6" />
<line x1="578.0" y1="932.8" x2="587.0" y2="932.8" stroke="#444" stroke-width="1.6" />
<line x1="751.0" y1="932.8" x2="760.0" y2="932.8" stroke="#444" stroke-width="1.6" />
<line x1="924.0" y1="932.8" x2="933.0" y2="932.8" stroke="#444" stroke-width="1.6" />
<line x1="569.0" y1="932.8" x2="578.0" y2="932.8" stroke="#444" stroke-width="1.6" />
<line x1="742.0" y1="932.8" x2="751.0" y2="932.8" stroke="#444" stroke-width="1.6" />
<line x1="915.0" y1="932.8" x2="924.0" y2="932.8" stroke="#444" stroke-width="1.6" />
<line x1="1323.0" y1="932.8" x2="1332.0" y2="932.8" stroke="#444" stroke-width="1.6" />
<text x="395.5" y="942.8" font-size="26" fill="#111" font-family='"Liberation Sans", sans-serif' text-anchor="end" textLength="65.0" lengthAdjust="spacingAndGlyphs">3800</text>
<line x1="407.2" y1="1065.3" x2="416.2" y2="1065.3" stroke="#444" stroke-width="1.6" />
<line x1="578.0" y1="1065.3" x2="587.0" y2="1065.3" stroke="#444" stroke-width="1.6" />
<line x1="751.0" y1="1065.3" x2="760.0" y2="1065.3" stroke="#444" stroke-width="1.6" />
<line x1="924.0" y1="1065.3" x2="933.0" y2="1065.3" stroke="#444" stroke-width="1.6" />
<line x1="569.0" y1="1065.3" x2="578.0" y2="1065.3" stroke="#444" stroke-width="1.6" />
<line x1="742.0" y1="1065.3" x2="751.0" y2="1065.3" stroke="#444" stroke-width="1.6" />
<line x1="915.0" y1="1065.3" x2="924.0" y2="1065.3" stroke="#444" stroke-width="1.6" />
<line x1="1323.0" y1="1065.3" x2="1332.0" y2="1065.3" stroke="#444" stroke-width="1.6" />
<text x="395.5" y="1075.3" font-size="26" fill="#111" font-family='"Liberation Sans", sans-serif' text-anchor="end" textLength="65.0" lengthAdjust="spacingAndGlyphs">3850</text>
<rect x="299.2" y="81.8" width="1032.8" height="59.8" fill="none" stroke="#3a3a3a" stroke-width="2" />
<line x1="299.2" y1="141.6" x2="299.2" y2="1101.0" stroke="#3a3a3a" stroke-width="2" />
<line x1="403.2" y1="81.8" x2="403.2" y2="141.6" stroke="#3a3a3a" stroke-width="2" />
<line x1="578.0" y1="81.8" x2="578.0" y2="141.6" stroke="#3a3a3a" stroke-width="2" />
<line x1="751.0" y1="81.8" x2="751.0" y2="141.6" stroke="#3a3a3a" stroke-width="2" />
<line x1="924.0" y1="81.8" x2="924.0" y2="141.6" stroke="#3a3a3a" stroke-width="2" />
<line x1="578.0" y1="141.6" x2="578.0" y2="1117.6" stroke="#3a3a3a" stroke-width="2.2" />
<line x1="751.0" y1="141.6" x2="751.0" y2="1117.6" stroke="#3a3a3a" stroke-width="2.2" />
<line x1="924.0" y1="141.6" x2="924.0" y2="1117.6" stroke="#3a3a3a" stroke-width="2.2" />
<line x1="1332.0" y1="141.6" x2="1332.0" y2="1117.6" stroke="#3a3a3a" stroke-width="2.2" />
<text x="346.0" y="117.9" font-size="21.5" fill="#111" font-family='"Liberation Sans", sans-serif' font-weight="bold" text-anchor="middle" textLength="62.8" lengthAdjust="spacingAndGlyphs">Depth</text>
<text x="496.1" y="104.6" font-size="21.5" fill="#111" font-family='"Liberation Sans", sans-serif' font-weight="bold" text-anchor="middle" textLength="77.6" lengthAdjust="spacingAndGlyphs">Volume</text>
<text x="496.5" y="133.7" font-size="21.5" fill="#111" font-family='"Liberation Sans", sans-serif' font-weight="bold" text-anchor="middle" textLength="90.7" lengthAdjust="spacingAndGlyphs">Fractions</text>
<text x="598.8" y="104.1" font-size="11.5" fill="#3c3c2c" font-family='"Liberation Sans", sans-serif' textLength="142.8" lengthAdjust="spacingAndGlyphs" text-decoration="underline" xml:space="preserve">2.45   RHOZ (g/cm3) 2.95</text>
<text x="598.8" y="130.1" font-size="11.5" fill="#3c3c2c" font-family='"Liberation Sans", sans-serif' textLength="141.1" lengthAdjust="spacingAndGlyphs" text-decoration="underline" xml:space="preserve">0.75   APLC(Fract)   -0.15</text>
<text x="786.3" y="107.9" font-size="24.5" fill="#1a1aee" font-family='"Liberation Sans", sans-serif' textLength="21.5" lengthAdjust="spacingAndGlyphs">AI</text>
<text x="816.2" y="107.9" font-size="13.5" fill="#2a2aee" font-family='"Liberation Sans", sans-serif' textLength="78.8" lengthAdjust="spacingAndGlyphs" text-decoration="underline">(g/cm3 m/s)</text>
<text x="778.4" y="129.2" font-size="15" fill="#2a2aee" font-family='"Liberation Sans", sans-serif' textLength="35.0" lengthAdjust="spacingAndGlyphs">4000</text>
<text x="897.8" y="129.2" font-size="15" fill="#2a2aee" font-family='"Liberation Sans", sans-serif' text-anchor="end" textLength="43.5" lengthAdjust="spacingAndGlyphs">12000</text>
<line x1="778.4" y1="132.3" x2="897.8" y2="132.3" stroke="#2a2aee" stroke-width="1.2" />
<text x="1119.9" y="103.2" font-size="21.5" fill="#111" font-family='"Liberation Sans", sans-serif' font-weight="bold" text-anchor="middle" textLength="71.0" lengthAdjust="spacingAndGlyphs">Gather</text>
<text x="1012.0" y="126.2" font-size="17.5" fill="#2020ee" font-family='"Liberation Sans", sans-serif'>0</text>
<text x="1085.5" y="126.2" font-size="17.5" fill="#2020ee" font-family='"Liberation Sans", sans-serif' textLength="24.0" lengthAdjust="spacingAndGlyphs">20</text>
<text x="1176.9" y="126.2" font-size="17.5" fill="#2020ee" font-family='"Liberation Sans", sans-serif' textLength="52.5" lengthAdjust="spacingAndGlyphs">40 45</text>
<line x1="1012.0" y1="129.6" x2="1229.4" y2="129.6" stroke="#2020ee" stroke-width="1.3" />
<rect x="298.3" y="1101.0" width="212.2" height="240.3" fill="#e1e7c6" stroke="none" stroke-width="1" />
<rect x="357.5" y="1107.8" width="132.1" height="179.2" fill="#fff" stroke="none" stroke-width="1" />
<line x1="357.5" y1="1110.9" x2="489.6" y2="1110.9" stroke="#d4d4d4" stroke-width="1.4" />
<line x1="357.5" y1="1132.5" x2="489.6" y2="1132.5" stroke="#d4d4d4" stroke-width="1.4" />
<line x1="357.5" y1="1154.0" x2="489.6" y2="1154.0" stroke="#d4d4d4" stroke-width="1.4" />
<line x1="357.5" y1="1175.4" x2="489.6" y2="1175.4" stroke="#d4d4d4" stroke-width="1.4" />
<line x1="357.5" y1="1197.0" x2="489.6" y2="1197.0" stroke="#d4d4d4" stroke-width="1.4" />
<line x1="357.5" y1="1219.0" x2="489.6" y2="1219.0" stroke="#d4d4d4" stroke-width="1.4" />
<line x1="357.5" y1="1240.5" x2="489.6" y2="1240.5" stroke="#d4d4d4" stroke-width="1.4" />
<line x1="357.5" y1="1262.3" x2="489.6" y2="1262.3" stroke="#d4d4d4" stroke-width="1.4" />
<line x1="357.5" y1="1283.8" x2="489.6" y2="1283.8" stroke="#d4d4d4" stroke-width="1.4" />
<line x1="357.5" y1="1107.8" x2="357.5" y2="1287.0" stroke="#d4d4d4" stroke-width="1.4" />
<line x1="379.6" y1="1107.8" x2="379.6" y2="1287.0" stroke="#d4d4d4" stroke-width="1.4" />
<line x1="401.2" y1="1107.8" x2="401.2" y2="1287.0" stroke="#d4d4d4" stroke-width="1.4" />
<line x1="423.0" y1="1107.8" x2="423.0" y2="1287.0" stroke="#d4d4d4" stroke-width="1.4" />
<line x1="445.6" y1="1107.8" x2="445.6" y2="1287.0" stroke="#d4d4d4" stroke-width="1.4" />
<line x1="467.4" y1="1107.8" x2="467.4" y2="1287.0" stroke="#d4d4d4" stroke-width="1.4" />
<line x1="489.4" y1="1107.8" x2="489.4" y2="1287.0" stroke="#d4d4d4" stroke-width="1.4" />
<line x1="368.6" y1="1107.8" x2="368.6" y2="1287.0" stroke="#ececec" stroke-width="0.8" />
<line x1="390.4" y1="1107.8" x2="390.4" y2="1287.0" stroke="#ececec" stroke-width="0.8" />
<line x1="412.1" y1="1107.8" x2="412.1" y2="1287.0" stroke="#ececec" stroke-width="0.8" />
<line x1="434.3" y1="1107.8" x2="434.3" y2="1287.0" stroke="#ececec" stroke-width="0.8" />
<line x1="456.5" y1="1107.8" x2="456.5" y2="1287.0" stroke="#ececec" stroke-width="0.8" />
<line x1="478.4" y1="1107.8" x2="478.4" y2="1287.0" stroke="#ececec" stroke-width="0.8" />
<rect x="357.5" y="1107.8" width="132.1" height="179.2" fill="none" stroke="#777" stroke-width="1.4" />
<line x1="353.5" y1="1110.9" x2="357.5" y2="1110.9" stroke="#555" stroke-width="1.2" />
<line x1="489.6" y1="1110.9" x2="493.6" y2="1110.9" stroke="#555" stroke-width="1.2" />
<text x="351.0" y="1114.2" font-size="9.4" fill="#444" font-family='"Liberation Sans", sans-serif' font-weight="bold" text-anchor="end">-200</text>
<line x1="353.5" y1="1132.5" x2="357.5" y2="1132.5" stroke="#555" stroke-width="1.2" />
<line x1="489.6" y1="1132.5" x2="493.6" y2="1132.5" stroke="#555" stroke-width="1.2" />
<text x="351.0" y="1135.8" font-size="9.4" fill="#444" font-family='"Liberation Sans", sans-serif' font-weight="bold" text-anchor="end">-150</text>
<line x1="353.5" y1="1154.0" x2="357.5" y2="1154.0" stroke="#555" stroke-width="1.2" />
<line x1="489.6" y1="1154.0" x2="493.6" y2="1154.0" stroke="#555" stroke-width="1.2" />
<text x="351.0" y="1157.3" font-size="9.4" fill="#444" font-family='"Liberation Sans", sans-serif' font-weight="bold" text-anchor="end">-100</text>
<line x1="353.5" y1="1175.4" x2="357.5" y2="1175.4" stroke="#555" stroke-width="1.2" />
<line x1="489.6" y1="1175.4" x2="493.6" y2="1175.4" stroke="#555" stroke-width="1.2" />
<text x="351.0" y="1178.7" font-size="9.4" fill="#444" font-family='"Liberation Sans", sans-serif' font-weight="bold" text-anchor="end">-50</text>
<line x1="353.5" y1="1197.0" x2="357.5" y2="1197.0" stroke="#555" stroke-width="1.2" />
<line x1="489.6" y1="1197.0" x2="493.6" y2="1197.0" stroke="#555" stroke-width="1.2" />
<text x="351.0" y="1200.3" font-size="9.4" fill="#444" font-family='"Liberation Sans", sans-serif' font-weight="bold" text-anchor="end">0</text>
<line x1="353.5" y1="1219.0" x2="357.5" y2="1219.0" stroke="#555" stroke-width="1.2" />
<line x1="489.6" y1="1219.0" x2="493.6" y2="1219.0" stroke="#555" stroke-width="1.2" />
<text x="351.0" y="1222.3" font-size="9.4" fill="#444" font-family='"Liberation Sans", sans-serif' font-weight="bold" text-anchor="end">50</text>
<line x1="353.5" y1="1240.5" x2="357.5" y2="1240.5" stroke="#555" stroke-width="1.2" />
<line x1="489.6" y1="1240.5" x2="493.6" y2="1240.5" stroke="#555" stroke-width="1.2" />
<text x="351.0" y="1243.8" font-size="9.4" fill="#444" font-family='"Liberation Sans", sans-serif' font-weight="bold" text-anchor="end">100</text>
<line x1="353.5" y1="1262.3" x2="357.5" y2="1262.3" stroke="#555" stroke-width="1.2" />
<line x1="489.6" y1="1262.3" x2="493.6" y2="1262.3" stroke="#555" stroke-width="1.2" />
<text x="351.0" y="1265.6" font-size="9.4" fill="#444" font-family='"Liberation Sans", sans-serif' font-weight="bold" text-anchor="end">150</text>
<line x1="353.5" y1="1283.8" x2="357.5" y2="1283.8" stroke="#555" stroke-width="1.2" />
<line x1="489.6" y1="1283.8" x2="493.6" y2="1283.8" stroke="#555" stroke-width="1.2" />
<text x="351.0" y="1287.1" font-size="9.4" fill="#444" font-family='"Liberation Sans", sans-serif' font-weight="bold" text-anchor="end">200</text>
<line x1="357.5" y1="1287.0" x2="357.5" y2="1291.0" stroke="#555" stroke-width="1.2" />
<line x1="357.5" y1="1103.8" x2="357.5" y2="1107.8" stroke="#555" stroke-width="1.2" />
<text x="360.8" y="1293.0" font-size="9.4" fill="#444" font-family='"Liberation Sans", sans-serif' font-weight="bold" text-anchor="end" transform="rotate(-90 360.8 1293.0)">-0.5</text>
<line x1="379.6" y1="1287.0" x2="379.6" y2="1291.0" stroke="#555" stroke-width="1.2" />
<line x1="379.6" y1="1103.8" x2="379.6" y2="1107.8" stroke="#555" stroke-width="1.2" />
<text x="382.9" y="1293.0" font-size="9.4" fill="#444" font-family='"Liberation Sans", sans-serif' font-weight="bold" text-anchor="end" transform="rotate(-90 382.9 1293.0)">-0.25</text>
<line x1="401.2" y1="1287.0" x2="401.2" y2="1291.0" stroke="#555" stroke-width="1.2" />
<line x1="401.2" y1="1103.8" x2="401.2" y2="1107.8" stroke="#555" stroke-width="1.2" />
<text x="404.5" y="1293.0" font-size="9.4" fill="#444" font-family='"Liberation Sans", sans-serif' font-weight="bold" text-anchor="end" transform="rotate(-90 404.5 1293.0)">0</text>
<line x1="423.0" y1="1287.0" x2="423.0" y2="1291.0" stroke="#555" stroke-width="1.2" />
<line x1="423.0" y1="1103.8" x2="423.0" y2="1107.8" stroke="#555" stroke-width="1.2" />
<text x="426.3" y="1293.0" font-size="9.4" fill="#444" font-family='"Liberation Sans", sans-serif' font-weight="bold" text-anchor="end" transform="rotate(-90 426.3 1293.0)">0.25</text>
<line x1="445.6" y1="1287.0" x2="445.6" y2="1291.0" stroke="#555" stroke-width="1.2" />
<line x1="445.6" y1="1103.8" x2="445.6" y2="1107.8" stroke="#555" stroke-width="1.2" />
<text x="448.9" y="1293.0" font-size="9.4" fill="#444" font-family='"Liberation Sans", sans-serif' font-weight="bold" text-anchor="end" transform="rotate(-90 448.9 1293.0)">0.5</text>
<line x1="467.4" y1="1287.0" x2="467.4" y2="1291.0" stroke="#555" stroke-width="1.2" />
<line x1="467.4" y1="1103.8" x2="467.4" y2="1107.8" stroke="#555" stroke-width="1.2" />
<text x="470.7" y="1293.0" font-size="9.4" fill="#444" font-family='"Liberation Sans", sans-serif' font-weight="bold" text-anchor="end" transform="rotate(-90 470.7 1293.0)">0.75</text>
<line x1="489.4" y1="1287.0" x2="489.4" y2="1291.0" stroke="#555" stroke-width="1.2" />
<line x1="489.4" y1="1103.8" x2="489.4" y2="1107.8" stroke="#555" stroke-width="1.2" />
<text x="492.7" y="1293.0" font-size="9.4" fill="#444" font-family='"Liberation Sans", sans-serif' font-weight="bold" text-anchor="end" transform="rotate(-90 492.7 1293.0)">1</text>
<line x1="401.2" y1="1107.8" x2="401.2" y2="1287.0" stroke="#666" stroke-width="1.5" />
<path d="M401.2,1191.8l-1.8-.3-8.8-.9-4-1.6-.4-2.5 .9-1.5 2.6-4 4.4-4 3.6-2.5 2.4-3.5 1.1-4 0-1z" fill="#ff6262" stroke="#7a1010" stroke-width="0.7" />
<path d="M401.2,1160l-1.8-4-.8-5 .4-4 2.2-4z" fill="#e03030" stroke="#7a1010" stroke-width="0.6" />
<path d="M401.2,1165.5l2.2-2.5-2.2-2.5z" fill="#3030ff" stroke="#2020a0" stroke-width="0.5" />
<path d="M401.2,1142.5l1.9-3.5-.1-5-1.8-5z" fill="#3030ff" stroke="#2020a0" stroke-width="0.5" />
<path d="M401.2,1202.2l-1.8,.3-8.8,.9-4,1.6-.4,2.5 .9,1.5 2.6,4 4.4,4 3.6,2.5 2.4,3.5 1.1,4 0,1z" fill="#ff6262" stroke="#7a1010" stroke-width="0.7" />
<path d="M401.2,1234l-1.8,4-.8,5 .4,4 2.2,4z" fill="#e03030" stroke="#7a1010" stroke-width="0.6" />
<path d="M401.2,1228.5l2.2,2.5-2.2,2.5z" fill="#3030ff" stroke="#2020a0" stroke-width="0.5" />
<path d="M401.2,1251.5l1.9,3.5-.1,5-1.8,5z" fill="#3030ff" stroke="#2020a0" stroke-width="0.5" />
<path d="M401.2,1191.5l17.6,1.9 35.3,2 34.4,1.6-34.4,1.8-35.3,2.2-17.6,1.5z" fill="#2828f0" stroke="#1515a0" stroke-width="0.6" />
<line x1="353.5" y1="1197.0" x2="494.6" y2="1197.0" stroke="#333" stroke-width="1.5" />
<text x="314.5" y="1193.0" font-size="9.4" fill="#222" font-family='"Liberation Sans", sans-serif' font-weight="bold" text-anchor="middle" transform="rotate(-90 314.5 1193.0)">Time (ms)</text>
<text x="432.8" y="1336.5" font-size="9.4" fill="#222" font-family='"Liberation Sans", sans-serif' font-weight="bold" text-anchor="middle">Amplitude</text>
<rect x="517.6" y="1116.6" width="406.0" height="223.0" fill="#dfdfdf" stroke="none" stroke-width="1" />
<rect x="608.5" y="1131.0" width="225.7" height="135.5" fill="#fff" stroke="none" stroke-width="1" />
<line x1="631.1" y1="1131.0" x2="631.1" y2="1266.5" stroke="#c4c4c4" stroke-width="1.5" />
<line x1="653.6" y1="1131.0" x2="653.6" y2="1266.5" stroke="#c4c4c4" stroke-width="1.5" />
<line x1="676.2" y1="1131.0" x2="676.2" y2="1266.5" stroke="#c4c4c4" stroke-width="1.5" />
<line x1="698.8" y1="1131.0" x2="698.8" y2="1266.5" stroke="#c4c4c4" stroke-width="1.5" />
<line x1="721.4" y1="1131.0" x2="721.4" y2="1266.5" stroke="#c4c4c4" stroke-width="1.5" />
<line x1="743.9" y1="1131.0" x2="743.9" y2="1266.5" stroke="#c4c4c4" stroke-width="1.5" />
<line x1="766.5" y1="1131.0" x2="766.5" y2="1266.5" stroke="#c4c4c4" stroke-width="1.5" />
<line x1="789.1" y1="1131.0" x2="789.1" y2="1266.5" stroke="#c4c4c4" stroke-width="1.5" />
<line x1="811.6" y1="1131.0" x2="811.6" y2="1266.5" stroke="#c4c4c4" stroke-width="1.5" />
<line x1="608.5" y1="1147.9" x2="834.2" y2="1147.9" stroke="#c4c4c4" stroke-width="1.5" />
<line x1="608.5" y1="1164.9" x2="834.2" y2="1164.9" stroke="#c4c4c4" stroke-width="1.5" />
<line x1="608.5" y1="1181.8" x2="834.2" y2="1181.8" stroke="#c4c4c4" stroke-width="1.5" />
<line x1="608.5" y1="1198.8" x2="834.2" y2="1198.8" stroke="#c4c4c4" stroke-width="1.5" />
<line x1="608.5" y1="1215.7" x2="834.2" y2="1215.7" stroke="#c4c4c4" stroke-width="1.5" />
<line x1="608.5" y1="1232.6" x2="834.2" y2="1232.6" stroke="#c4c4c4" stroke-width="1.5" />
<line x1="608.5" y1="1249.6" x2="834.2" y2="1249.6" stroke="#c4c4c4" stroke-width="1.5" />
<line x1="608.5" y1="1131.0" x2="834.2" y2="1131.0" stroke="#222" stroke-width="2" />
<line x1="608.5" y1="1266.5" x2="834.2" y2="1266.5" stroke="#222" stroke-width="2" />
<line x1="608.5" y1="1130.0" x2="608.5" y2="1267.5" stroke="#ff2020" stroke-width="2" />
<line x1="834.2" y1="1130.0" x2="834.2" y2="1267.5" stroke="#2020ff" stroke-width="2" />
<line x1="600.5" y1="1131.0" x2="608.5" y2="1131.0" stroke="#ff2020" stroke-width="1.6" />
<text x="596.5" y="1137.4" font-size="18.6" fill="#ff2a2a" font-family='"Liberation Sans", sans-serif' text-anchor="end">0.2</text>
<line x1="600.5" y1="1147.9" x2="608.5" y2="1147.9" stroke="#ff2020" stroke-width="1.6" />
<text x="596.5" y="1154.3" font-size="18.6" fill="#ff2a2a" font-family='"Liberation Sans", sans-serif' text-anchor="end">0.15</text>
<line x1="600.5" y1="1164.9" x2="608.5" y2="1164.9" stroke="#ff2020" stroke-width="1.6" />
<text x="596.5" y="1171.3" font-size="18.6" fill="#ff2a2a" font-family='"Liberation Sans", sans-serif' text-anchor="end">0.1</text>
<line x1="600.5" y1="1181.8" x2="608.5" y2="1181.8" stroke="#ff2020" stroke-width="1.6" />
<text x="596.5" y="1188.2" font-size="18.6" fill="#ff2a2a" font-family='"Liberation Sans", sans-serif' text-anchor="end">0.05</text>
<line x1="600.5" y1="1198.8" x2="608.5" y2="1198.8" stroke="#ff2020" stroke-width="1.6" />
<text x="596.5" y="1205.2" font-size="18.6" fill="#ff2a2a" font-family='"Liberation Sans", sans-serif' text-anchor="end">0</text>
<line x1="600.5" y1="1215.7" x2="608.5" y2="1215.7" stroke="#ff2020" stroke-width="1.6" />
<text x="596.5" y="1222.1" font-size="18.6" fill="#ff2a2a" font-family='"Liberation Sans", sans-serif' text-anchor="end">-0.05</text>
<line x1="600.5" y1="1232.6" x2="608.5" y2="1232.6" stroke="#ff2020" stroke-width="1.6" />
<text x="596.5" y="1239.0" font-size="18.6" fill="#ff2a2a" font-family='"Liberation Sans", sans-serif' text-anchor="end">-0.1</text>
<line x1="600.5" y1="1249.6" x2="608.5" y2="1249.6" stroke="#ff2020" stroke-width="1.6" />
<text x="596.5" y="1256.0" font-size="18.6" fill="#ff2a2a" font-family='"Liberation Sans", sans-serif' text-anchor="end">-0.15</text>
<line x1="600.5" y1="1266.5" x2="608.5" y2="1266.5" stroke="#ff2020" stroke-width="1.6" />
<text x="596.5" y="1272.9" font-size="18.6" fill="#ff2a2a" font-family='"Liberation Sans", sans-serif' text-anchor="end">-0.2</text>
<line x1="834.2" y1="1154.1" x2="842.2" y2="1154.1" stroke="#2020ff" stroke-width="1.6" />
<text x="846.7" y="1160.5" font-size="18.6" fill="#2626ff" font-family='"Liberation Sans", sans-serif'>0.2</text>
<line x1="834.2" y1="1176.9" x2="842.2" y2="1176.9" stroke="#2020ff" stroke-width="1.6" />
<text x="846.7" y="1183.3" font-size="18.6" fill="#2626ff" font-family='"Liberation Sans", sans-serif'>0.1</text>
<line x1="834.2" y1="1199.0" x2="842.2" y2="1199.0" stroke="#2020ff" stroke-width="1.6" />
<text x="846.7" y="1205.4" font-size="18.6" fill="#2626ff" font-family='"Liberation Sans", sans-serif'>0</text>
<line x1="834.2" y1="1221.6" x2="842.2" y2="1221.6" stroke="#2020ff" stroke-width="1.6" />
<text x="846.7" y="1228.0" font-size="18.6" fill="#2626ff" font-family='"Liberation Sans", sans-serif'>-0.1</text>
<line x1="834.2" y1="1244.1" x2="842.2" y2="1244.1" stroke="#2020ff" stroke-width="1.6" />
<text x="846.7" y="1250.5" font-size="18.6" fill="#2626ff" font-family='"Liberation Sans", sans-serif'>-0.2</text>
<line x1="834.2" y1="1266.5" x2="842.2" y2="1266.5" stroke="#2020ff" stroke-width="1.6" />
<text x="846.7" y="1272.9" font-size="18.6" fill="#2626ff" font-family='"Liberation Sans", sans-serif'>-0.3</text>
<line x1="608.5" y1="1125.0" x2="608.5" y2="1131.0" stroke="#222" stroke-width="1.6" />
<line x1="608.5" y1="1266.5" x2="608.5" y2="1272.5" stroke="#222" stroke-width="1.6" />
<text x="615.1" y="1275.5" font-size="18.6" fill="#222" font-family='"Liberation Sans", sans-serif' text-anchor="end" transform="rotate(-90 615.1 1275.5)">0</text>
<line x1="631.1" y1="1125.0" x2="631.1" y2="1131.0" stroke="#222" stroke-width="1.6" />
<line x1="631.1" y1="1266.5" x2="631.1" y2="1272.5" stroke="#222" stroke-width="1.6" />
<text x="637.7" y="1275.5" font-size="18.6" fill="#222" font-family='"Liberation Sans", sans-serif' text-anchor="end" transform="rotate(-90 637.7 1275.5)">5.0</text>
<line x1="653.6" y1="1125.0" x2="653.6" y2="1131.0" stroke="#222" stroke-width="1.6" />
<line x1="653.6" y1="1266.5" x2="653.6" y2="1272.5" stroke="#222" stroke-width="1.6" />
<text x="660.2" y="1275.5" font-size="18.6" fill="#222" font-family='"Liberation Sans", sans-serif' text-anchor="end" transform="rotate(-90 660.2 1275.5)">10</text>
<line x1="676.2" y1="1125.0" x2="676.2" y2="1131.0" stroke="#222" stroke-width="1.6" />
<line x1="676.2" y1="1266.5" x2="676.2" y2="1272.5" stroke="#222" stroke-width="1.6" />
<text x="682.8" y="1275.5" font-size="18.6" fill="#222" font-family='"Liberation Sans", sans-serif' text-anchor="end" transform="rotate(-90 682.8 1275.5)">15</text>
<line x1="698.8" y1="1125.0" x2="698.8" y2="1131.0" stroke="#222" stroke-width="1.6" />
<line x1="698.8" y1="1266.5" x2="698.8" y2="1272.5" stroke="#222" stroke-width="1.6" />
<text x="705.4" y="1275.5" font-size="18.6" fill="#222" font-family='"Liberation Sans", sans-serif' text-anchor="end" transform="rotate(-90 705.4 1275.5)">20</text>
<line x1="721.4" y1="1125.0" x2="721.4" y2="1131.0" stroke="#222" stroke-width="1.6" />
<line x1="721.4" y1="1266.5" x2="721.4" y2="1272.5" stroke="#222" stroke-width="1.6" />
<text x="728.0" y="1275.5" font-size="18.6" fill="#222" font-family='"Liberation Sans", sans-serif' text-anchor="end" transform="rotate(-90 728.0 1275.5)">25</text>
<line x1="743.9" y1="1125.0" x2="743.9" y2="1131.0" stroke="#222" stroke-width="1.6" />
<line x1="743.9" y1="1266.5" x2="743.9" y2="1272.5" stroke="#222" stroke-width="1.6" />
<text x="750.5" y="1275.5" font-size="18.6" fill="#222" font-family='"Liberation Sans", sans-serif' text-anchor="end" transform="rotate(-90 750.5 1275.5)">30</text>
<line x1="766.5" y1="1125.0" x2="766.5" y2="1131.0" stroke="#222" stroke-width="1.6" />
<line x1="766.5" y1="1266.5" x2="766.5" y2="1272.5" stroke="#222" stroke-width="1.6" />
<text x="773.1" y="1275.5" font-size="18.6" fill="#222" font-family='"Liberation Sans", sans-serif' text-anchor="end" transform="rotate(-90 773.1 1275.5)">35</text>
<line x1="789.1" y1="1125.0" x2="789.1" y2="1131.0" stroke="#222" stroke-width="1.6" />
<line x1="789.1" y1="1266.5" x2="789.1" y2="1272.5" stroke="#222" stroke-width="1.6" />
<text x="795.7" y="1275.5" font-size="18.6" fill="#222" font-family='"Liberation Sans", sans-serif' text-anchor="end" transform="rotate(-90 795.7 1275.5)">40</text>
<line x1="811.6" y1="1125.0" x2="811.6" y2="1131.0" stroke="#222" stroke-width="1.6" />
<line x1="811.6" y1="1266.5" x2="811.6" y2="1272.5" stroke="#222" stroke-width="1.6" />
<text x="818.2" y="1275.5" font-size="18.6" fill="#222" font-family='"Liberation Sans", sans-serif' text-anchor="end" transform="rotate(-90 818.2 1275.5)">45</text>
<line x1="834.2" y1="1125.0" x2="834.2" y2="1131.0" stroke="#222" stroke-width="1.6" />
<line x1="834.2" y1="1266.5" x2="834.2" y2="1272.5" stroke="#222" stroke-width="1.6" />
<text x="840.8" y="1275.5" font-size="18.6" fill="#222" font-family='"Liberation Sans", sans-serif' text-anchor="end" transform="rotate(-90 840.8 1275.5)">50</text>
<line x1="608.5" y1="1199.2" x2="834.2" y2="1199.2" stroke="#333" stroke-width="2.2" />
<clipPath id="clip1"><rect x="608.5" y="1131.0" width="225.7" height="135.5"/></clipPath>
<path d="M608.5,1199.6l22.6,.3 22.5-.1 22.6-.9 22.6-1 22.6-1.4 22.5-1.5 22.6-1.7 22.6-1.7 22.5-2.4" fill="none" stroke="#4a4aff" stroke-width="1.8" />
<circle cx="631.1" cy="1199.9" r="4.7" fill="#0a0ae6" stroke="#050560" stroke-width="0.8"/>
<circle cx="653.6" cy="1199.8" r="4.7" fill="#0a0ae6" stroke="#050560" stroke-width="0.8"/>
<circle cx="676.2" cy="1198.9" r="4.7" fill="#0a0ae6" stroke="#050560" stroke-width="0.8"/>
<circle cx="698.8" cy="1197.9" r="4.7" fill="#0a0ae6" stroke="#050560" stroke-width="0.8"/>
<circle cx="721.4" cy="1196.5" r="4.7" fill="#0a0ae6" stroke="#050560" stroke-width="0.8"/>
<circle cx="743.9" cy="1195.0" r="4.7" fill="#0a0ae6" stroke="#050560" stroke-width="0.8"/>
<circle cx="766.5" cy="1193.3" r="4.7" fill="#0a0ae6" stroke="#050560" stroke-width="0.8"/>
<circle cx="789.1" cy="1191.6" r="4.7" fill="#0a0ae6" stroke="#050560" stroke-width="0.8"/>
<circle cx="811.6" cy="1189.2" r="4.7" fill="#0a0ae6" stroke="#050560" stroke-width="0.8"/>
<path d="M608.5,1195l22.6,0 22.5,1.5 22.6,1.7 22.6,1.6 22.6,3.2 22.5,2.7 22.6,2.9 22.6,4.6 22.5,3.1" fill="none" stroke="#ff4a4a" stroke-width="1.8" />
<circle cx="631.1" cy="1195.0" r="4.7" fill="#f00a0a" stroke="#200" stroke-width="1.2"/>
<circle cx="653.6" cy="1196.5" r="4.7" fill="#f00a0a" stroke="#200" stroke-width="1.2"/>
<circle cx="676.2" cy="1198.2" r="4.7" fill="#f00a0a" stroke="#200" stroke-width="1.2"/>
<circle cx="698.8" cy="1199.8" r="4.7" fill="#f00a0a" stroke="#200" stroke-width="1.2"/>
<circle cx="721.4" cy="1203.0" r="4.7" fill="#f00a0a" stroke="#200" stroke-width="1.2"/>
<circle cx="743.9" cy="1205.7" r="4.7" fill="#f00a0a" stroke="#200" stroke-width="1.2"/>
<circle cx="766.5" cy="1208.6" r="4.7" fill="#f00a0a" stroke="#200" stroke-width="1.2"/>
<circle cx="789.1" cy="1213.2" r="4.7" fill="#f00a0a" stroke="#200" stroke-width="1.2"/>
<circle cx="811.6" cy="1216.3" r="4.7" fill="#f00a0a" stroke="#200" stroke-width="1.2"/>
<g clip-path="url(#clip1)"><circle cx="608.5" cy="1199.6" r="4.7" fill="#0a0ae6"/><circle cx="608.5" cy="1196.0" r="5.2" fill="#111"/><circle cx="834.7" cy="1199.2" r="5.2" fill="#111"/></g>
<line x1="608.5" y1="1130.0" x2="608.5" y2="1267.5" stroke="#ff2020" stroke-width="2" />
<rect x="517.6" y="1116.6" width="406.0" height="223.0" fill="none" stroke="#3a3a3a" stroke-width="2.4" />
<rect x="524.5" y="1324.7" width="4.5" height="4.5" fill="#111" stroke="none" stroke-width="1" />
<text x="533.0" y="1333.2" font-size="17.5" fill="#222" font-family='"Liberation Sans", sans-serif' textLength="40.0" lengthAdjust="spacingAndGlyphs">Near</text>
<rect x="586.0" y="1324.7" width="4.5" height="4.5" fill="#ff20ff" stroke="none" stroke-width="1" />
<text x="592.3" y="1333.2" font-size="17.5" fill="#222" font-family='"Liberation Sans", sans-serif' textLength="27.7" lengthAdjust="spacingAndGlyphs">Far</text>
<rect x="646.7" y="1324.7" width="4.5" height="4.5" fill="#20f0f0" stroke="none" stroke-width="1" />
<text x="652.8" y="1333.2" font-size="17.5" fill="#222" font-family='"Liberation Sans", sans-serif' textLength="29.5" lengthAdjust="spacingAndGlyphs">Full</text>
<text x="755.6" y="1336.0" font-size="38" fill="#1212f0" font-family='"Liberation Sans", sans-serif' text-anchor="middle">1</text>
<rect x="923.6" y="1116.6" width="408.4" height="223.0" fill="#dfdfdf" stroke="none" stroke-width="1" />
<rect x="1014.0" y="1131.0" width="225.7" height="135.5" fill="#fff" stroke="none" stroke-width="1" />
<line x1="1036.6" y1="1131.0" x2="1036.6" y2="1266.5" stroke="#c4c4c4" stroke-width="1.5" />
<line x1="1059.1" y1="1131.0" x2="1059.1" y2="1266.5" stroke="#c4c4c4" stroke-width="1.5" />
<line x1="1081.7" y1="1131.0" x2="1081.7" y2="1266.5" stroke="#c4c4c4" stroke-width="1.5" />
<line x1="1104.3" y1="1131.0" x2="1104.3" y2="1266.5" stroke="#c4c4c4" stroke-width="1.5" />
<line x1="1126.8" y1="1131.0" x2="1126.8" y2="1266.5" stroke="#c4c4c4" stroke-width="1.5" />
<line x1="1149.4" y1="1131.0" x2="1149.4" y2="1266.5" stroke="#c4c4c4" stroke-width="1.5" />
<line x1="1172.0" y1="1131.0" x2="1172.0" y2="1266.5" stroke="#c4c4c4" stroke-width="1.5" />
<line x1="1194.6" y1="1131.0" x2="1194.6" y2="1266.5" stroke="#c4c4c4" stroke-width="1.5" />
<line x1="1217.1" y1="1131.0" x2="1217.1" y2="1266.5" stroke="#c4c4c4" stroke-width="1.5" />
<line x1="1014.0" y1="1147.9" x2="1239.7" y2="1147.9" stroke="#c4c4c4" stroke-width="1.5" />
<line x1="1014.0" y1="1164.9" x2="1239.7" y2="1164.9" stroke="#c4c4c4" stroke-width="1.5" />
<line x1="1014.0" y1="1181.8" x2="1239.7" y2="1181.8" stroke="#c4c4c4" stroke-width="1.5" />
<line x1="1014.0" y1="1198.8" x2="1239.7" y2="1198.8" stroke="#c4c4c4" stroke-width="1.5" />
<line x1="1014.0" y1="1215.7" x2="1239.7" y2="1215.7" stroke="#c4c4c4" stroke-width="1.5" />
<line x1="1014.0" y1="1232.6" x2="1239.7" y2="1232.6" stroke="#c4c4c4" stroke-width="1.5" />
<line x1="1014.0" y1="1249.6" x2="1239.7" y2="1249.6" stroke="#c4c4c4" stroke-width="1.5" />
<line x1="1014.0" y1="1131.0" x2="1239.7" y2="1131.0" stroke="#222" stroke-width="2" />
<line x1="1014.0" y1="1266.5" x2="1239.7" y2="1266.5" stroke="#222" stroke-width="2" />
<line x1="1014.0" y1="1130.0" x2="1014.0" y2="1267.5" stroke="#ff2020" stroke-width="2" />
<line x1="1239.7" y1="1130.0" x2="1239.7" y2="1267.5" stroke="#2020ff" stroke-width="2" />
<line x1="1006.0" y1="1131.0" x2="1014.0" y2="1131.0" stroke="#ff2020" stroke-width="1.6" />
<text x="1002.0" y="1137.4" font-size="18.6" fill="#ff2a2a" font-family='"Liberation Sans", sans-serif' text-anchor="end">0.2</text>
<line x1="1006.0" y1="1147.9" x2="1014.0" y2="1147.9" stroke="#ff2020" stroke-width="1.6" />
<text x="1002.0" y="1154.3" font-size="18.6" fill="#ff2a2a" font-family='"Liberation Sans", sans-serif' text-anchor="end">0.15</text>
<line x1="1006.0" y1="1164.9" x2="1014.0" y2="1164.9" stroke="#ff2020" stroke-width="1.6" />
<text x="1002.0" y="1171.3" font-size="18.6" fill="#ff2a2a" font-family='"Liberation Sans", sans-serif' text-anchor="end">0.1</text>
<line x1="1006.0" y1="1181.8" x2="1014.0" y2="1181.8" stroke="#ff2020" stroke-width="1.6" />
<text x="1002.0" y="1188.2" font-size="18.6" fill="#ff2a2a" font-family='"Liberation Sans", sans-serif' text-anchor="end">0.05</text>
<line x1="1006.0" y1="1198.8" x2="1014.0" y2="1198.8" stroke="#ff2020" stroke-width="1.6" />
<text x="1002.0" y="1205.2" font-size="18.6" fill="#ff2a2a" font-family='"Liberation Sans", sans-serif' text-anchor="end">0</text>
<line x1="1006.0" y1="1215.7" x2="1014.0" y2="1215.7" stroke="#ff2020" stroke-width="1.6" />
<text x="1002.0" y="1222.1" font-size="18.6" fill="#ff2a2a" font-family='"Liberation Sans", sans-serif' text-anchor="end">-0.05</text>
<line x1="1006.0" y1="1232.6" x2="1014.0" y2="1232.6" stroke="#ff2020" stroke-width="1.6" />
<text x="1002.0" y="1239.0" font-size="18.6" fill="#ff2a2a" font-family='"Liberation Sans", sans-serif' text-anchor="end">-0.1</text>
<line x1="1006.0" y1="1249.6" x2="1014.0" y2="1249.6" stroke="#ff2020" stroke-width="1.6" />
<text x="1002.0" y="1256.0" font-size="18.6" fill="#ff2a2a" font-family='"Liberation Sans", sans-serif' text-anchor="end">-0.15</text>
<line x1="1006.0" y1="1266.5" x2="1014.0" y2="1266.5" stroke="#ff2020" stroke-width="1.6" />
<text x="1002.0" y="1272.9" font-size="18.6" fill="#ff2a2a" font-family='"Liberation Sans", sans-serif' text-anchor="end">-0.2</text>
<line x1="1239.7" y1="1131.4" x2="1247.7" y2="1131.4" stroke="#2020ff" stroke-width="1.6" />
<text x="1252.2" y="1137.8" font-size="18.6" fill="#2626ff" font-family='"Liberation Sans", sans-serif'>0.4</text>
<line x1="1239.7" y1="1148.3" x2="1247.7" y2="1148.3" stroke="#2020ff" stroke-width="1.6" />
<text x="1252.2" y="1154.7" font-size="18.6" fill="#2626ff" font-family='"Liberation Sans", sans-serif'>0.3</text>
<line x1="1239.7" y1="1165.2" x2="1247.7" y2="1165.2" stroke="#2020ff" stroke-width="1.6" />
<text x="1252.2" y="1171.6" font-size="18.6" fill="#2626ff" font-family='"Liberation Sans", sans-serif'>0.2</text>
<line x1="1239.7" y1="1182.1" x2="1247.7" y2="1182.1" stroke="#2020ff" stroke-width="1.6" />
<text x="1252.2" y="1188.5" font-size="18.6" fill="#2626ff" font-family='"Liberation Sans", sans-serif'>0.1</text>
<line x1="1239.7" y1="1199.0" x2="1247.7" y2="1199.0" stroke="#2020ff" stroke-width="1.6" />
<text x="1252.2" y="1205.4" font-size="18.6" fill="#2626ff" font-family='"Liberation Sans", sans-serif'>0</text>
<line x1="1239.7" y1="1215.9" x2="1247.7" y2="1215.9" stroke="#2020ff" stroke-width="1.6" />
<text x="1252.2" y="1222.3" font-size="18.6" fill="#2626ff" font-family='"Liberation Sans", sans-serif'>-0.1</text>
<line x1="1239.7" y1="1232.8" x2="1247.7" y2="1232.8" stroke="#2020ff" stroke-width="1.6" />
<text x="1252.2" y="1239.2" font-size="18.6" fill="#2626ff" font-family='"Liberation Sans", sans-serif'>-0.2</text>
<line x1="1239.7" y1="1249.7" x2="1247.7" y2="1249.7" stroke="#2020ff" stroke-width="1.6" />
<text x="1252.2" y="1256.1" font-size="18.6" fill="#2626ff" font-family='"Liberation Sans", sans-serif'>-0.3</text>
<line x1="1239.7" y1="1266.5" x2="1247.7" y2="1266.5" stroke="#2020ff" stroke-width="1.6" />
<text x="1252.2" y="1272.9" font-size="18.6" fill="#2626ff" font-family='"Liberation Sans", sans-serif'>-0.4</text>
<line x1="1014.0" y1="1125.0" x2="1014.0" y2="1131.0" stroke="#222" stroke-width="1.6" />
<line x1="1014.0" y1="1266.5" x2="1014.0" y2="1272.5" stroke="#222" stroke-width="1.6" />
<text x="1020.6" y="1275.5" font-size="18.6" fill="#222" font-family='"Liberation Sans", sans-serif' text-anchor="end" transform="rotate(-90 1020.6 1275.5)">0</text>
<line x1="1036.6" y1="1125.0" x2="1036.6" y2="1131.0" stroke="#222" stroke-width="1.6" />
<line x1="1036.6" y1="1266.5" x2="1036.6" y2="1272.5" stroke="#222" stroke-width="1.6" />
<text x="1043.2" y="1275.5" font-size="18.6" fill="#222" font-family='"Liberation Sans", sans-serif' text-anchor="end" transform="rotate(-90 1043.2 1275.5)">5.0</text>
<line x1="1059.1" y1="1125.0" x2="1059.1" y2="1131.0" stroke="#222" stroke-width="1.6" />
<line x1="1059.1" y1="1266.5" x2="1059.1" y2="1272.5" stroke="#222" stroke-width="1.6" />
<text x="1065.7" y="1275.5" font-size="18.6" fill="#222" font-family='"Liberation Sans", sans-serif' text-anchor="end" transform="rotate(-90 1065.7 1275.5)">10</text>
<line x1="1081.7" y1="1125.0" x2="1081.7" y2="1131.0" stroke="#222" stroke-width="1.6" />
<line x1="1081.7" y1="1266.5" x2="1081.7" y2="1272.5" stroke="#222" stroke-width="1.6" />
<text x="1088.3" y="1275.5" font-size="18.6" fill="#222" font-family='"Liberation Sans", sans-serif' text-anchor="end" transform="rotate(-90 1088.3 1275.5)">15</text>
<line x1="1104.3" y1="1125.0" x2="1104.3" y2="1131.0" stroke="#222" stroke-width="1.6" />
<line x1="1104.3" y1="1266.5" x2="1104.3" y2="1272.5" stroke="#222" stroke-width="1.6" />
<text x="1110.9" y="1275.5" font-size="18.6" fill="#222" font-family='"Liberation Sans", sans-serif' text-anchor="end" transform="rotate(-90 1110.9 1275.5)">20</text>
<line x1="1126.8" y1="1125.0" x2="1126.8" y2="1131.0" stroke="#222" stroke-width="1.6" />
<line x1="1126.8" y1="1266.5" x2="1126.8" y2="1272.5" stroke="#222" stroke-width="1.6" />
<text x="1133.4" y="1275.5" font-size="18.6" fill="#222" font-family='"Liberation Sans", sans-serif' text-anchor="end" transform="rotate(-90 1133.4 1275.5)">25</text>
<line x1="1149.4" y1="1125.0" x2="1149.4" y2="1131.0" stroke="#222" stroke-width="1.6" />
<line x1="1149.4" y1="1266.5" x2="1149.4" y2="1272.5" stroke="#222" stroke-width="1.6" />
<text x="1156.0" y="1275.5" font-size="18.6" fill="#222" font-family='"Liberation Sans", sans-serif' text-anchor="end" transform="rotate(-90 1156.0 1275.5)">30</text>
<line x1="1172.0" y1="1125.0" x2="1172.0" y2="1131.0" stroke="#222" stroke-width="1.6" />
<line x1="1172.0" y1="1266.5" x2="1172.0" y2="1272.5" stroke="#222" stroke-width="1.6" />
<text x="1178.6" y="1275.5" font-size="18.6" fill="#222" font-family='"Liberation Sans", sans-serif' text-anchor="end" transform="rotate(-90 1178.6 1275.5)">35</text>
<line x1="1194.6" y1="1125.0" x2="1194.6" y2="1131.0" stroke="#222" stroke-width="1.6" />
<line x1="1194.6" y1="1266.5" x2="1194.6" y2="1272.5" stroke="#222" stroke-width="1.6" />
<text x="1201.2" y="1275.5" font-size="18.6" fill="#222" font-family='"Liberation Sans", sans-serif' text-anchor="end" transform="rotate(-90 1201.2 1275.5)">40</text>
<line x1="1217.1" y1="1125.0" x2="1217.1" y2="1131.0" stroke="#222" stroke-width="1.6" />
<line x1="1217.1" y1="1266.5" x2="1217.1" y2="1272.5" stroke="#222" stroke-width="1.6" />
<text x="1223.7" y="1275.5" font-size="18.6" fill="#222" font-family='"Liberation Sans", sans-serif' text-anchor="end" transform="rotate(-90 1223.7 1275.5)">45</text>
<line x1="1239.7" y1="1125.0" x2="1239.7" y2="1131.0" stroke="#222" stroke-width="1.6" />
<line x1="1239.7" y1="1266.5" x2="1239.7" y2="1272.5" stroke="#222" stroke-width="1.6" />
<text x="1246.3" y="1275.5" font-size="18.6" fill="#222" font-family='"Liberation Sans", sans-serif' text-anchor="end" transform="rotate(-90 1246.3 1275.5)">50</text>
<line x1="1014.0" y1="1199.2" x2="1239.7" y2="1199.2" stroke="#333" stroke-width="2.2" />
<clipPath id="clip2"><rect x="1014.0" y="1131.0" width="225.7" height="135.5"/></clipPath>
<path d="M1014,1201.2l22.6-1 22.5-.3 22.6-1.5 22.6-1.6 22.5-2.1 22.6-2.1 22.6-2.4 22.6-2.7 22.5-1.8" fill="none" stroke="#4a4aff" stroke-width="1.8" />
<circle cx="1036.6" cy="1200.2" r="4.7" fill="#0a0ae6" stroke="#050560" stroke-width="0.8"/>
<circle cx="1059.1" cy="1199.9" r="4.7" fill="#0a0ae6" stroke="#050560" stroke-width="0.8"/>
<circle cx="1081.7" cy="1198.4" r="4.7" fill="#0a0ae6" stroke="#050560" stroke-width="0.8"/>
<circle cx="1104.3" cy="1196.8" r="4.7" fill="#0a0ae6" stroke="#050560" stroke-width="0.8"/>
<circle cx="1126.8" cy="1194.7" r="4.7" fill="#0a0ae6" stroke="#050560" stroke-width="0.8"/>
<circle cx="1149.4" cy="1192.6" r="4.7" fill="#0a0ae6" stroke="#050560" stroke-width="0.8"/>
<circle cx="1172.0" cy="1190.2" r="4.7" fill="#0a0ae6" stroke="#050560" stroke-width="0.8"/>
<circle cx="1194.6" cy="1187.5" r="4.7" fill="#0a0ae6" stroke="#050560" stroke-width="0.8"/>
<circle cx="1217.1" cy="1185.7" r="4.7" fill="#0a0ae6" stroke="#050560" stroke-width="0.8"/>
<path d="M1014,1195.3l22.6,.3 22.5-.3 22.6,1.3 22.6,1.6 22.5,1.3 22.6,1.9 22.6,2.9 22.6,2.7 22.5,1.3" fill="none" stroke="#ff4a4a" stroke-width="1.8" />
<circle cx="1036.6" cy="1195.6" r="4.7" fill="#f00a0a" stroke="#200" stroke-width="1.2"/>
<circle cx="1059.1" cy="1195.3" r="4.7" fill="#f00a0a" stroke="#200" stroke-width="1.2"/>
<circle cx="1081.7" cy="1196.6" r="4.7" fill="#f00a0a" stroke="#200" stroke-width="1.2"/>
<circle cx="1104.3" cy="1198.2" r="4.7" fill="#f00a0a" stroke="#200" stroke-width="1.2"/>
<circle cx="1126.8" cy="1199.5" r="4.7" fill="#f00a0a" stroke="#200" stroke-width="1.2"/>
<circle cx="1149.4" cy="1201.4" r="4.7" fill="#f00a0a" stroke="#200" stroke-width="1.2"/>
<circle cx="1172.0" cy="1204.3" r="4.7" fill="#f00a0a" stroke="#200" stroke-width="1.2"/>
<circle cx="1194.6" cy="1207.0" r="4.7" fill="#f00a0a" stroke="#200" stroke-width="1.2"/>
<circle cx="1217.1" cy="1208.3" r="4.7" fill="#f00a0a" stroke="#200" stroke-width="1.2"/>
<g clip-path="url(#clip2)"><circle cx="1014.0" cy="1201.2" r="4.7" fill="#0a0ae6"/><circle cx="1014.0" cy="1196.0" r="5.2" fill="#111"/><circle cx="1240.2" cy="1199.2" r="5.2" fill="#111"/></g>
<line x1="1014.0" y1="1130.0" x2="1014.0" y2="1267.5" stroke="#ff2020" stroke-width="2" />
<rect x="923.6" y="1116.6" width="408.4" height="223.0" fill="none" stroke="#3a3a3a" stroke-width="2.4" />
<rect x="929.0" y="1324.7" width="4.5" height="4.5" fill="#111" stroke="none" stroke-width="1" />
<text x="937.5" y="1333.2" font-size="17.5" fill="#222" font-family='"Liberation Sans", sans-serif' textLength="40.0" lengthAdjust="spacingAndGlyphs">Near</text>
<rect x="990.5" y="1324.7" width="4.5" height="4.5" fill="#ff20ff" stroke="none" stroke-width="1" />
<text x="996.8" y="1333.2" font-size="17.5" fill="#222" font-family='"Liberation Sans", sans-serif' textLength="27.7" lengthAdjust="spacingAndGlyphs">Far</text>
<rect x="1051.2" y="1324.7" width="4.5" height="4.5" fill="#20f0f0" stroke="none" stroke-width="1" />
<text x="1057.3" y="1333.2" font-size="17.5" fill="#222" font-family='"Liberation Sans", sans-serif' textLength="29.5" lengthAdjust="spacingAndGlyphs">Full</text>
<text x="1195.4" y="1336.0" font-size="38" fill="#1212f0" font-family='"Liberation Sans", sans-serif' text-anchor="middle">2</text>
<rect x="1345.0" y="335.4" width="266.2" height="142.2" fill="#d9d9d9" stroke="none" stroke-width="1" />
<text x="1369.0" y="378.3" font-size="27.5" fill="#1414ff" font-family='"Liberation Sans", sans-serif' font-weight="bold" textLength="111.6" lengthAdjust="spacingAndGlyphs">Zone (1)</text>
<text x="1369.5" y="418.1" font-size="27.5" fill="#222" font-family='"Liberation Sans", sans-serif' textLength="217.0" lengthAdjust="spacingAndGlyphs">Thickness = 27m</text>
<text x="1368.8" y="456.7" font-size="27.5" fill="#222" font-family='"Liberation Sans", sans-serif' textLength="184.2" lengthAdjust="spacingAndGlyphs">Avg Phi =25 %</text>
<rect x="1345.0" y="956.7" width="260.0" height="142.5" fill="#d9d9d9" stroke="none" stroke-width="1" />
<text x="1369.0" y="998.3" font-size="27.5" fill="#1414ff" font-family='"Liberation Sans", sans-serif' font-weight="bold" textLength="111.6" lengthAdjust="spacingAndGlyphs">Zone (2)</text>
<text x="1369.5" y="1038.0" font-size="27.5" fill="#222" font-family='"Liberation Sans", sans-serif' textLength="209.5" lengthAdjust="spacingAndGlyphs">Thickness =34m</text>
<text x="1368.8" y="1076.7" font-size="27.5" fill="#222" font-family='"Liberation Sans", sans-serif' textLength="209.2" lengthAdjust="spacingAndGlyphs">Avg Phi =23.5 %</text>
<text x="832.5" y="1399.2" font-size="42" fill="#000" font-family='"Liberation Sans", sans-serif' font-weight="bold" text-anchor="middle" textLength="57.0" lengthAdjust="spacingAndGlyphs">(A)</text>
<rect x="6.6" y="1477.0" width="1107.0" height="746.6" fill="#e2e7c8" stroke="none" stroke-width="1" />
<rect x="124.4" y="1493.7" width="773.9" height="616.9" fill="#fff" stroke="none" stroke-width="1" />
<line x1="235.0" y1="1493.7" x2="235.0" y2="2110.6" stroke="#cdcdcd" stroke-width="1.8" />
<line x1="345.5" y1="1493.7" x2="345.5" y2="2110.6" stroke="#cdcdcd" stroke-width="1.8" />
<line x1="456.1" y1="1493.7" x2="456.1" y2="2110.6" stroke="#cdcdcd" stroke-width="1.8" />
<line x1="566.6" y1="1493.7" x2="566.6" y2="2110.6" stroke="#cdcdcd" stroke-width="1.8" />
<line x1="677.2" y1="1493.7" x2="677.2" y2="2110.6" stroke="#cdcdcd" stroke-width="1.8" />
<line x1="787.7" y1="1493.7" x2="787.7" y2="2110.6" stroke="#cdcdcd" stroke-width="1.8" />
<line x1="124.4" y1="2033.5" x2="898.3" y2="2033.5" stroke="#cdcdcd" stroke-width="1.8" />
<line x1="124.4" y1="1956.4" x2="898.3" y2="1956.4" stroke="#cdcdcd" stroke-width="1.8" />
<line x1="124.4" y1="1879.3" x2="898.3" y2="1879.3" stroke="#cdcdcd" stroke-width="1.8" />
<line x1="124.4" y1="1802.2" x2="898.3" y2="1802.2" stroke="#cdcdcd" stroke-width="1.8" />
<line x1="124.4" y1="1725.0" x2="898.3" y2="1725.0" stroke="#cdcdcd" stroke-width="1.8" />
<line x1="124.4" y1="1647.9" x2="898.3" y2="1647.9" stroke="#cdcdcd" stroke-width="1.8" />
<line x1="124.4" y1="1570.8" x2="898.3" y2="1570.8" stroke="#cdcdcd" stroke-width="1.8" />
<g stroke="#111" stroke-width="1.2">
<circle cx="496.6" cy="1732.9" r="3.7" fill="#00ebff"/>
<circle cx="485.1" cy="1744.6" r="3.7" fill="#00fbff"/>
<circle cx="437.5" cy="1726.0" r="3.7" fill="#00c2ff"/>
<circle cx="424.0" cy="1711.1" r="3.7" fill="#00c4ff"/>
<circle cx="426.4" cy="1689.6" r="3.7" fill="#04fffb"/>
<circle cx="434.4" cy="1718.2" r="3.7" fill="#36ffc9"/>
<circle cx="522.6" cy="1750.3" r="3.7" fill="#05fffa"/>
<circle cx="459.0" cy="1759.4" r="3.7" fill="#26ffd9"/>
<circle cx="529.7" cy="1774.9" r="3.7" fill="#2bffd4"/>
<circle cx="485.4" cy="1747.2" r="3.7" fill="#00d1ff"/>
<circle cx="506.7" cy="1724.1" r="3.7" fill="#00f9ff"/>
<circle cx="403.3" cy="1690.0" r="3.7" fill="#00c7ff"/>
<circle cx="467.2" cy="1710.5" r="3.7" fill="#00c6ff"/>
<circle cx="444.8" cy="1700.0" r="3.7" fill="#04fffb"/>
<circle cx="484.6" cy="1720.0" r="3.7" fill="#00faff"/>
<circle cx="529.6" cy="1767.3" r="3.7" fill="#1bffe4"/>
<circle cx="403.6" cy="1704.0" r="3.7" fill="#00f4ff"/>
<circle cx="476.9" cy="1731.0" r="3.7" fill="#1affe5"/>
<circle cx="408.6" cy="1714.3" r="3.7" fill="#25ffda"/>
<circle cx="432.0" cy="1736.4" r="3.7" fill="#00feff"/>
<circle cx="402.3" cy="1677.5" r="3.7" fill="#00d6ff"/>
<circle cx="454.1" cy="1720.7" r="3.7" fill="#1affe5"/>
<circle cx="398.7" cy="1706.4" r="3.7" fill="#00d4ff"/>
<circle cx="400.9" cy="1696.1" r="3.7" fill="#26ffd9"/>
<circle cx="497.9" cy="1724.0" r="3.7" fill="#2cffd3"/>
<circle cx="489.3" cy="1733.7" r="3.7" fill="#00bdff"/>
<circle cx="397.8" cy="1694.3" r="3.7" fill="#20ffdf"/>
<circle cx="413.2" cy="1710.7" r="3.7" fill="#00f9ff"/>
<circle cx="492.4" cy="1772.1" r="3.7" fill="#00d8ff"/>
<circle cx="415.6" cy="1707.9" r="3.7" fill="#10ffef"/>
<circle cx="510.7" cy="1741.3" r="3.7" fill="#00fbff"/>
<circle cx="531.4" cy="1748.9" r="3.7" fill="#00b7ff"/>
<circle cx="456.9" cy="1749.6" r="3.7" fill="#21ffde"/>
<circle cx="439.9" cy="1717.3" r="3.7" fill="#0afff5"/>
<circle cx="418.2" cy="1717.1" r="3.7" fill="#00c5ff"/>
<circle cx="516.5" cy="1731.7" r="3.7" fill="#00edff"/>
<circle cx="476.4" cy="1744.6" r="3.7" fill="#00f3ff"/>
<circle cx="468.9" cy="1751.3" r="3.7" fill="#ffe700"/>
<circle cx="481.8" cy="1762.2" r="3.7" fill="#e2ff1d"/>
<circle cx="512.4" cy="1760.0" r="3.7" fill="#d1ff2e"/>
<circle cx="471.4" cy="1732.9" r="3.7" fill="#f4ff0b"/>
<circle cx="479.1" cy="1767.2" r="3.7" fill="#ffe400"/>
<circle cx="421.0" cy="1709.6" r="3.7" fill="#82ff7d"/>
<circle cx="390.2" cy="1716.3" r="3.7" fill="#b1ff4e"/>
<circle cx="396.6" cy="1729.9" r="3.7" fill="#c9ff36"/>
<circle cx="417.4" cy="1704.8" r="3.7" fill="#cdff32"/>
<circle cx="501.0" cy="1722.3" r="3.7" fill="#eaff15"/>
<circle cx="501.5" cy="1730.0" r="3.7" fill="#c8ff37"/>
<circle cx="548.9" cy="1757.0" r="3.7" fill="#f5ff0a"/>
<circle cx="420.7" cy="1751.3" r="3.7" fill="#ebff14"/>
<circle cx="409.4" cy="1721.9" r="3.7" fill="#d1ff2e"/>
<circle cx="513.0" cy="1771.6" r="3.7" fill="#d0ff2f"/>
<circle cx="475.4" cy="1777.7" r="3.7" fill="#fff300"/>
<circle cx="489.1" cy="1778.7" r="3.7" fill="#ffe700"/>
<circle cx="519.1" cy="1804.0" r="3.7" fill="#ffbe00"/>
<circle cx="494.9" cy="1761.4" r="3.7" fill="#f3ff0c"/>
<circle cx="478.6" cy="1759.8" r="3.7" fill="#fff500"/>
<circle cx="415.1" cy="1691.1" r="3.7" fill="#b9ff46"/>
<circle cx="464.3" cy="1789.4" r="3.7" fill="#ffff00"/>
<circle cx="554.3" cy="1774.7" r="3.7" fill="#ffe700"/>
<circle cx="430.8" cy="1698.0" r="3.7" fill="#deff21"/>
<circle cx="400.7" cy="1735.1" r="3.7" fill="#d6ff29"/>
<circle cx="467.7" cy="1762.2" r="3.7" fill="#f0ff0f"/>
<circle cx="430.2" cy="1718.3" r="3.7" fill="#fff600"/>
<circle cx="572.4" cy="1776.4" r="3.7" fill="#ffe300"/>
<circle cx="560.9" cy="1787.9" r="3.7" fill="#fff900"/>
<circle cx="527.0" cy="1791.3" r="3.7" fill="#ffe300"/>
<circle cx="487.2" cy="1787.0" r="3.7" fill="#ffd700"/>
<circle cx="490.0" cy="1783.5" r="3.7" fill="#b8ff47"/>
<circle cx="552.4" cy="1771.4" r="3.7" fill="#fffd00"/>
<circle cx="419.2" cy="1746.2" r="3.7" fill="#dfff20"/>
<circle cx="486.9" cy="1742.6" r="3.7" fill="#e0ff1f"/>
<circle cx="544.1" cy="1751.8" r="3.7" fill="#fffb00"/>
<circle cx="464.9" cy="1790.9" r="3.7" fill="#ffe700"/>
<circle cx="413.3" cy="1700.0" r="3.7" fill="#c7ff38"/>
<circle cx="414.1" cy="1746.8" r="3.7" fill="#c5ff3a"/>
<circle cx="509.0" cy="1746.7" r="3.7" fill="#ffd900"/>
<circle cx="462.3" cy="1786.9" r="3.7" fill="#ffd700"/>
<circle cx="534.8" cy="1742.5" r="3.7" fill="#e1ff1e"/>
<circle cx="411.2" cy="1696.4" r="3.7" fill="#b4ff4b"/>
<circle cx="471.0" cy="1783.0" r="3.7" fill="#ffd600"/>
<circle cx="469.3" cy="1779.1" r="3.7" fill="#fff700"/>
<circle cx="563.9" cy="1788.7" r="3.7" fill="#f9ff06"/>
<circle cx="531.9" cy="1785.0" r="3.7" fill="#ffd300"/>
<circle cx="521.2" cy="1783.4" r="3.7" fill="#ff0000"/>
<circle cx="509.1" cy="1761.3" r="3.7" fill="#f9ff06"/>
<circle cx="513.6" cy="1752.9" r="3.7" fill="#ffb200"/>
<circle cx="504.1" cy="1779.0" r="3.7" fill="#dcff23"/>
<circle cx="490.0" cy="1743.3" r="3.7" fill="#ffbc00"/>
<circle cx="500.2" cy="1782.1" r="3.7" fill="#ffcb00"/>
<circle cx="407.9" cy="1741.4" r="3.7" fill="#9fff60"/>
<circle cx="500.3" cy="1721.4" r="3.7" fill="#e6ff19"/>
<circle cx="464.0" cy="1738.7" r="3.7" fill="#f4ff0b"/>
<circle cx="547.4" cy="1758.1" r="3.7" fill="#e9ff16"/>
<circle cx="496.9" cy="1729.7" r="3.7" fill="#ffb900"/>
<circle cx="540.4" cy="1761.4" r="3.7" fill="#ffea00"/>
<circle cx="498.9" cy="1762.7" r="3.7" fill="#fff700"/>
<circle cx="380.0" cy="1674.3" r="3.7" fill="#81ff7e"/>
<circle cx="387.1" cy="1678.3" r="3.7" fill="#b7ff48"/>
<circle cx="416.9" cy="1718.0" r="3.7" fill="#d4ff2b"/>
<circle cx="505.9" cy="1783.6" r="3.7" fill="#ffd800"/>
<circle cx="489.7" cy="1780.1" r="3.7" fill="#fff000"/>
<circle cx="475.9" cy="1770.7" r="3.7" fill="#fff300"/>
<circle cx="389.1" cy="1711.8" r="3.7" fill="#b6ff49"/>
<circle cx="402.3" cy="1720.2" r="3.7" fill="#c6ff39"/>
<circle cx="439.9" cy="1726.6" r="3.7" fill="#d8ff27"/>
<circle cx="449.4" cy="1721.4" r="3.7" fill="#f4ff0b"/>
<circle cx="543.2" cy="1748.4" r="3.7" fill="#f2ff0d"/>
<circle cx="488.7" cy="1752.5" r="3.7" fill="#efff10"/>
<circle cx="532.1" cy="1765.1" r="3.7" fill="#ffd500"/>
<circle cx="536.2" cy="1725.8" r="3.7" fill="#d7ff28"/>
<circle cx="524.0" cy="1806.2" r="3.7" fill="#ffd800"/>
<circle cx="545.1" cy="1793.7" r="3.7" fill="#f8ff07"/>
<circle cx="462.3" cy="1729.8" r="3.7" fill="#f8ff07"/>
<circle cx="415.5" cy="1730.5" r="3.7" fill="#c8ff37"/>
<circle cx="511.1" cy="1784.7" r="3.7" fill="#eeff11"/>
<circle cx="379.3" cy="1681.7" r="3.7" fill="#8fff70"/>
<circle cx="419.7" cy="1693.5" r="3.7" fill="#b2ff4d"/>
<circle cx="438.6" cy="1749.6" r="3.7" fill="#fbff04"/>
<circle cx="445.2" cy="1749.4" r="3.7" fill="#edff12"/>
<circle cx="543.1" cy="1775.0" r="3.7" fill="#fff000"/>
<circle cx="482.7" cy="1763.3" r="3.7" fill="#ff2d00"/>
<circle cx="553.8" cy="1791.8" r="3.7" fill="#f8ff07"/>
<circle cx="474.9" cy="1737.3" r="3.7" fill="#ffdf00"/>
<circle cx="416.4" cy="1748.8" r="3.7" fill="#efff10"/>
<circle cx="438.6" cy="1712.9" r="3.7" fill="#e1ff1e"/>
<circle cx="456.4" cy="1736.2" r="3.7" fill="#d9ff26"/>
<circle cx="493.0" cy="1735.6" r="3.7" fill="#d9ff26"/>
<circle cx="452.5" cy="1748.3" r="3.7" fill="#f5ff0a"/>
<circle cx="492.7" cy="1776.7" r="3.7" fill="#f3ff0c"/>
<circle cx="410.2" cy="1727.0" r="3.7" fill="#d2ff2d"/>
<circle cx="420.3" cy="1689.2" r="3.7" fill="#c6ff39"/>
<circle cx="481.7" cy="1764.9" r="3.7" fill="#fff600"/>
<circle cx="457.8" cy="1773.0" r="3.7" fill="#fc0000"/>
<circle cx="445.2" cy="1765.4" r="3.7" fill="#ffe900"/>
<circle cx="541.4" cy="1792.3" r="3.7" fill="#fffc00"/>
<circle cx="525.6" cy="1793.9" r="3.7" fill="#fbff04"/>
<circle cx="389.4" cy="1702.7" r="3.7" fill="#b0ff4f"/>
<circle cx="566.2" cy="1748.8" r="3.7" fill="#fff600"/>
<circle cx="495.0" cy="1793.2" r="3.7" fill="#fffa00"/>
<circle cx="516.1" cy="1778.8" r="3.7" fill="#f00000"/>
<circle cx="454.7" cy="1752.9" r="3.7" fill="#fff700"/>
<circle cx="460.1" cy="1761.2" r="3.7" fill="#fffe00"/>
<circle cx="552.1" cy="1796.9" r="3.7" fill="#ffd000"/>
<circle cx="464.6" cy="1804.5" r="3.7" fill="#ffac00"/>
<circle cx="500.2" cy="1781.0" r="3.7" fill="#f2ff0d"/>
<circle cx="514.9" cy="1798.7" r="3.7" fill="#ffe600"/>
<circle cx="457.1" cy="1720.0" r="3.7" fill="#e3ff1c"/>
<circle cx="558.8" cy="1775.0" r="3.7" fill="#fff800"/>
<circle cx="388.5" cy="1699.4" r="3.7" fill="#aaff55"/>
<circle cx="514.7" cy="1787.0" r="3.7" fill="#ffd900"/>
<circle cx="420.8" cy="1711.4" r="3.7" fill="#d3ff2c"/>
<circle cx="485.3" cy="1746.9" r="3.7" fill="#ffeb00"/>
<circle cx="424.5" cy="1708.0" r="3.7" fill="#bbff44"/>
<circle cx="470.9" cy="1780.8" r="3.7" fill="#e5ff1a"/>
<circle cx="449.0" cy="1766.6" r="3.7" fill="#ffeb00"/>
<circle cx="422.2" cy="1732.9" r="3.7" fill="#d9ff26"/>
<circle cx="422.3" cy="1740.4" r="3.7" fill="#f0ff0f"/>
<circle cx="525.5" cy="1753.3" r="3.7" fill="#ffed00"/>
<circle cx="478.4" cy="1732.0" r="3.7" fill="#feff01"/>
<circle cx="494.0" cy="1748.8" r="3.7" fill="#e0ff1f"/>
<circle cx="402.0" cy="1725.6" r="3.7" fill="#e2ff1d"/>
<circle cx="535.9" cy="1778.3" r="3.7" fill="#ffee00"/>
<circle cx="449.9" cy="1717.0" r="3.7" fill="#c7ff38"/>
<circle cx="458.3" cy="1765.2" r="3.7" fill="#ffed00"/>
<circle cx="456.1" cy="1795.1" r="3.7" fill="#f1ff0e"/>
<circle cx="406.8" cy="1696.4" r="3.7" fill="#c9ff36"/>
<circle cx="517.8" cy="1798.1" r="3.7" fill="#ffe500"/>
<circle cx="449.6" cy="1707.3" r="3.7" fill="#d6ff29"/>
<circle cx="536.4" cy="1776.6" r="3.7" fill="#daff25"/>
<circle cx="537.5" cy="1745.1" r="3.7" fill="#edff12"/>
<circle cx="438.8" cy="1730.4" r="3.7" fill="#d8ff27"/>
<circle cx="415.6" cy="1708.2" r="3.7" fill="#d6ff29"/>
<circle cx="493.4" cy="1789.8" r="3.7" fill="#ffdb00"/>
<circle cx="422.0" cy="1762.6" r="3.7" fill="#ff9400"/>
<circle cx="442.2" cy="1741.7" r="3.7" fill="#ddff22"/>
<circle cx="391.5" cy="1717.7" r="3.7" fill="#a2ff5d"/>
<circle cx="478.2" cy="1755.4" r="3.7" fill="#fffa00"/>
<circle cx="563.6" cy="1752.3" r="3.7" fill="#fffd00"/>
<circle cx="449.6" cy="1753.9" r="3.7" fill="#fffe00"/>
<circle cx="505.2" cy="1728.4" r="3.7" fill="#fffb00"/>
<circle cx="379.7" cy="1685.9" r="3.7" fill="#6eff91"/>
<circle cx="412.9" cy="1700.2" r="3.7" fill="#beff41"/>
<circle cx="423.0" cy="1741.1" r="3.7" fill="#dbff24"/>
<circle cx="492.3" cy="1793.2" r="3.7" fill="#ffd900"/>
<circle cx="521.3" cy="1770.9" r="3.7" fill="#feff01"/>
<circle cx="477.2" cy="1752.0" r="3.7" fill="#fff200"/>
<circle cx="425.2" cy="1715.1" r="3.7" fill="#aeff51"/>
<circle cx="385.1" cy="1675.5" r="3.7" fill="#9aff65"/>
<circle cx="558.1" cy="1799.2" r="3.7" fill="#ffe000"/>
<circle cx="456.0" cy="1775.5" r="3.7" fill="#fff800"/>
<circle cx="553.0" cy="1792.8" r="3.7" fill="#ffd900"/>
<circle cx="550.5" cy="1788.6" r="3.7" fill="#ff1600"/>
<circle cx="461.8" cy="1762.4" r="3.7" fill="#eaff15"/>
<circle cx="397.0" cy="1671.5" r="3.7" fill="#aaff55"/>
<circle cx="475.5" cy="1722.6" r="3.7" fill="#ffc700"/>
<circle cx="432.6" cy="1725.4" r="3.7" fill="#d5ff2a"/>
<circle cx="489.1" cy="1788.5" r="3.7" fill="#ffaa00"/>
<circle cx="425.6" cy="1740.3" r="3.7" fill="#dfff20"/>
<circle cx="420.5" cy="1739.4" r="3.7" fill="#d5ff2a"/>
<circle cx="475.8" cy="1728.9" r="3.7" fill="#fdff02"/>
<circle cx="551.1" cy="1776.8" r="3.7" fill="#e7ff18"/>
<circle cx="448.8" cy="1781.3" r="3.7" fill="#fffa00"/>
<circle cx="546.0" cy="1787.2" r="3.7" fill="#ffec00"/>
<circle cx="458.1" cy="1773.8" r="3.7" fill="#ffff00"/>
<circle cx="455.2" cy="1721.9" r="3.7" fill="#eaff15"/>
<circle cx="508.9" cy="1719.6" r="3.7" fill="#c2ff3d"/>
<circle cx="531.6" cy="1749.3" r="3.7" fill="#fff100"/>
<circle cx="447.0" cy="1731.4" r="3.7" fill="#fcff03"/>
<circle cx="459.4" cy="1773.9" r="3.7" fill="#fffa00"/>
<circle cx="411.0" cy="1720.1" r="3.7" fill="#b5ff4a"/>
<circle cx="556.0" cy="1762.0" r="3.7" fill="#eaff15"/>
<circle cx="520.1" cy="1734.9" r="3.7" fill="#ffef00"/>
<circle cx="506.6" cy="1733.9" r="3.7" fill="#f5ff0a"/>
<circle cx="458.1" cy="1798.8" r="3.7" fill="#ffb500"/>
<circle cx="550.1" cy="1788.1" r="3.7" fill="#ffec00"/>
<circle cx="545.4" cy="1735.0" r="3.7" fill="#efff10"/>
<circle cx="491.0" cy="1786.4" r="3.7" fill="#ffdb00"/>
<circle cx="537.5" cy="1749.7" r="3.7" fill="#feff01"/>
<circle cx="410.6" cy="1724.9" r="3.7" fill="#d4ff2b"/>
<circle cx="560.3" cy="1777.3" r="3.7" fill="#edff12"/>
<circle cx="431.5" cy="1758.0" r="3.7" fill="#feff01"/>
<circle cx="520.9" cy="1736.9" r="3.7" fill="#d9ff26"/>
<circle cx="507.5" cy="1730.5" r="3.7" fill="#dcff23"/>
<circle cx="555.6" cy="1769.4" r="3.7" fill="#f3ff0c"/>
<circle cx="432.1" cy="1733.0" r="3.7" fill="#e7ff18"/>
<circle cx="462.1" cy="1717.7" r="3.7" fill="#d9ff26"/>
<circle cx="449.8" cy="1722.7" r="3.7" fill="#fbff04"/>
<circle cx="472.6" cy="1720.8" r="3.7" fill="#feff01"/>
<circle cx="456.6" cy="1792.9" r="3.7" fill="#efff10"/>
<circle cx="457.9" cy="1766.2" r="3.7" fill="#f1ff0e"/>
<circle cx="456.5" cy="1779.4" r="3.7" fill="#fff800"/>
<circle cx="505.7" cy="1779.5" r="3.7" fill="#fff500"/>
<circle cx="486.9" cy="1747.3" r="3.7" fill="#ffda00"/>
<circle cx="399.4" cy="1678.6" r="3.7" fill="#b2ff4d"/>
<circle cx="383.2" cy="1698.5" r="3.7" fill="#7cff83"/>
<circle cx="388.4" cy="1705.2" r="3.7" fill="#99ff66"/>
<circle cx="493.8" cy="1742.3" r="3.7" fill="#fff200"/>
<circle cx="427.1" cy="1721.7" r="3.7" fill="#e9ff16"/>
<circle cx="489.4" cy="1726.6" r="3.7" fill="#d0ff2f"/>
<circle cx="500.3" cy="1721.9" r="3.7" fill="#ffef00"/>
<circle cx="391.5" cy="1703.8" r="3.7" fill="#bfff40"/>
<circle cx="433.0" cy="1769.9" r="3.7" fill="#c9ff36"/>
<circle cx="548.0" cy="1786.6" r="3.7" fill="#ddff22"/>
<circle cx="533.6" cy="1754.4" r="3.7" fill="#fff800"/>
<circle cx="466.4" cy="1781.0" r="3.7" fill="#ffdd00"/>
<circle cx="396.9" cy="1714.3" r="3.7" fill="#aeff51"/>
<circle cx="397.0" cy="1712.8" r="3.7" fill="#b2ff4d"/>
<circle cx="417.0" cy="1729.0" r="3.7" fill="#cbff34"/>
<circle cx="452.8" cy="1769.0" r="3.7" fill="#fff800"/>
<circle cx="455.1" cy="1785.1" r="3.7" fill="#fff700"/>
<circle cx="498.9" cy="1745.2" r="3.7" fill="#ffed00"/>
<circle cx="497.3" cy="1739.1" r="3.7" fill="#ffed00"/>
<circle cx="452.8" cy="1775.5" r="3.7" fill="#e4ff1b"/>
<circle cx="469.7" cy="1740.1" r="3.7" fill="#f9ff06"/>
<circle cx="493.9" cy="1750.1" r="3.7" fill="#ffee00"/>
<circle cx="414.4" cy="1747.5" r="3.7" fill="#bdff42"/>
<circle cx="570.5" cy="1771.3" r="3.7" fill="#e5ff1a"/>
<circle cx="556.2" cy="1777.1" r="3.7" fill="#fff400"/>
<circle cx="426.0" cy="1685.2" r="3.7" fill="#beff41"/>
<circle cx="431.3" cy="1743.5" r="3.7" fill="#cdff32"/>
<circle cx="488.6" cy="1778.2" r="3.7" fill="#f1ff0e"/>
<circle cx="469.0" cy="1722.1" r="3.7" fill="#d9ff26"/>
<circle cx="540.6" cy="1745.4" r="3.7" fill="#fff700"/>
<circle cx="447.8" cy="1742.0" r="3.7" fill="#f3ff0c"/>
<circle cx="476.4" cy="1751.0" r="3.7" fill="#ffe600"/>
<circle cx="436.2" cy="1716.7" r="3.7" fill="#a3ff5c"/>
<circle cx="498.7" cy="1770.8" r="3.7" fill="#ffd700"/>
<circle cx="519.8" cy="1745.2" r="3.7" fill="#e5ff1a"/>
<circle cx="443.8" cy="1718.5" r="3.7" fill="#fff900"/>
<circle cx="497.6" cy="1746.2" r="3.7" fill="#ffef00"/>
<circle cx="403.8" cy="1704.1" r="3.7" fill="#cdff32"/>
<circle cx="422.8" cy="1765.9" r="3.7" fill="#f8ff07"/>
<circle cx="436.4" cy="1715.8" r="3.7" fill="#dbff24"/>
<circle cx="418.4" cy="1728.9" r="3.7" fill="#dfff20"/>
<circle cx="541.6" cy="1785.7" r="3.7" fill="#fffb00"/>
<circle cx="499.3" cy="1779.4" r="3.7" fill="#ffea00"/>
<circle cx="561.6" cy="1777.1" r="3.7" fill="#fff300"/>
<circle cx="386.9" cy="1693.5" r="3.7" fill="#91ff6e"/>
<circle cx="485.0" cy="1748.3" r="3.7" fill="#fffe00"/>
<circle cx="389.0" cy="1699.3" r="3.7" fill="#b5ff4a"/>
<circle cx="406.0" cy="1715.9" r="3.7" fill="#9fff60"/>
<circle cx="501.4" cy="1795.5" r="3.7" fill="#fff300"/>
<circle cx="406.6" cy="1691.6" r="3.7" fill="#85ff7a"/>
<circle cx="479.0" cy="1765.7" r="3.7" fill="#fff300"/>
<circle cx="427.6" cy="1760.5" r="3.7" fill="#e6ff19"/>
<circle cx="439.8" cy="1720.0" r="3.7" fill="#f0ff0f"/>
<circle cx="555.2" cy="1801.1" r="3.7" fill="#ffde00"/>
<circle cx="422.1" cy="1755.0" r="3.7" fill="#d1ff2e"/>
<circle cx="446.3" cy="1751.3" r="3.7" fill="#f6ff09"/>
<circle cx="495.2" cy="1762.5" r="3.7" fill="#f8ff07"/>
<circle cx="431.8" cy="1733.3" r="3.7" fill="#d1ff2e"/>
<circle cx="550.1" cy="1788.1" r="3.7" fill="#fcff03"/>
<circle cx="477.0" cy="1739.4" r="3.7" fill="#fff200"/>
<circle cx="445.3" cy="1695.3" r="3.7" fill="#c1ff3e"/>
<circle cx="519.1" cy="1788.0" r="3.7" fill="#ffc600"/>
<circle cx="438.4" cy="1693.6" r="3.7" fill="#ccff33"/>
<circle cx="558.4" cy="1783.6" r="3.7" fill="#ffb500"/>
<circle cx="509.2" cy="1740.9" r="3.7" fill="#fff900"/>
<circle cx="512.3" cy="1784.6" r="3.7" fill="#ffeb00"/>
<circle cx="519.3" cy="1810.4" r="3.7" fill="#f9ff06"/>
<circle cx="431.6" cy="1745.6" r="3.7" fill="#f9ff06"/>
<circle cx="486.8" cy="1738.0" r="3.7" fill="#fffe00"/>
<circle cx="386.5" cy="1673.0" r="3.7" fill="#89ff76"/>
<circle cx="509.3" cy="1728.9" r="3.7" fill="#faff05"/>
<circle cx="519.2" cy="1782.6" r="3.7" fill="#fdff02"/>
<circle cx="425.6" cy="1748.5" r="3.7" fill="#efff10"/>
<circle cx="523.6" cy="1735.4" r="3.7" fill="#d4ff2b"/>
<circle cx="383.6" cy="1675.9" r="3.7" fill="#9dff62"/>
<circle cx="495.0" cy="1779.8" r="3.7" fill="#ffd400"/>
<circle cx="399.2" cy="1673.4" r="3.7" fill="#9dff62"/>
<circle cx="555.0" cy="1740.1" r="3.7" fill="#f7ff08"/>
<circle cx="437.0" cy="1699.0" r="3.7" fill="#e6ff19"/>
<circle cx="524.0" cy="1734.2" r="3.7" fill="#fdff02"/>
<circle cx="505.9" cy="1728.4" r="3.7" fill="#f9ff06"/>
<circle cx="458.0" cy="1768.5" r="3.7" fill="#ffe700"/>
<circle cx="576.1" cy="1766.2" r="3.7" fill="#ffeb00"/>
<circle cx="461.1" cy="1783.2" r="3.7" fill="#fdff02"/>
<circle cx="548.4" cy="1794.2" r="3.7" fill="#ffce00"/>
<circle cx="492.4" cy="1749.0" r="3.7" fill="#e0ff1f"/>
<circle cx="493.7" cy="1746.5" r="3.7" fill="#f6ff09"/>
<circle cx="545.1" cy="1729.8" r="3.7" fill="#dcff23"/>
<circle cx="436.2" cy="1771.7" r="3.7" fill="#eaff15"/>
<circle cx="452.2" cy="1766.4" r="3.7" fill="#fff000"/>
<circle cx="409.8" cy="1683.1" r="3.7" fill="#aaff55"/>
<circle cx="547.9" cy="1797.6" r="3.7" fill="#ffc700"/>
<circle cx="546.5" cy="1752.9" r="3.7" fill="#f1ff0e"/>
<circle cx="466.3" cy="1731.5" r="3.7" fill="#f4ff0b"/>
<circle cx="408.4" cy="1719.8" r="3.7" fill="#bbff44"/>
<circle cx="488.5" cy="1755.0" r="3.7" fill="#b7ff48"/>
<circle cx="409.5" cy="1707.0" r="3.7" fill="#c5ff3a"/>
<circle cx="492.4" cy="1719.9" r="3.7" fill="#fff500"/>
<circle cx="472.5" cy="1743.9" r="3.7" fill="#e2ff1d"/>
<circle cx="520.6" cy="1742.2" r="3.7" fill="#ffe600"/>
<circle cx="433.0" cy="1694.5" r="3.7" fill="#d5ff2a"/>
<circle cx="520.5" cy="1779.9" r="3.7" fill="#ffd500"/>
<circle cx="488.6" cy="1744.4" r="3.7" fill="#f3ff0c"/>
<circle cx="535.7" cy="1756.3" r="3.7" fill="#faff05"/>
<circle cx="467.8" cy="1748.8" r="3.7" fill="#e8ff17"/>
<circle cx="546.9" cy="1776.7" r="3.7" fill="#fff700"/>
<circle cx="377.9" cy="1690.2" r="3.7" fill="#93ff6c"/>
<circle cx="504.0" cy="1809.3" r="3.7" fill="#ffc700"/>
<circle cx="423.2" cy="1708.0" r="3.7" fill="#d3ff2c"/>
<circle cx="411.6" cy="1701.5" r="3.7" fill="#acff53"/>
<circle cx="451.5" cy="1715.9" r="3.7" fill="#fff500"/>
<circle cx="479.1" cy="1783.2" r="3.7" fill="#ffcf00"/>
<circle cx="412.3" cy="1737.1" r="3.7" fill="#eaff15"/>
<circle cx="501.1" cy="1806.4" r="3.7" fill="#ffe900"/>
<circle cx="407.8" cy="1747.6" r="3.7" fill="#ffa100"/>
<circle cx="562.7" cy="1755.6" r="3.7" fill="#fff900"/>
<circle cx="523.7" cy="1805.1" r="3.7" fill="#ffd200"/>
<circle cx="540.4" cy="1772.9" r="3.7" fill="#fffa00"/>
<circle cx="449.5" cy="1758.4" r="3.7" fill="#e3ff1c"/>
<circle cx="552.3" cy="1766.2" r="3.7" fill="#f8ff07"/>
<circle cx="431.7" cy="1714.8" r="3.7" fill="#c4ff3b"/>
<circle cx="428.0" cy="1721.4" r="3.7" fill="#c7ff38"/>
<circle cx="442.2" cy="1707.4" r="3.7" fill="#b2ff4d"/>
<circle cx="475.2" cy="1776.5" r="3.7" fill="#faff05"/>
<circle cx="438.9" cy="1779.4" r="3.7" fill="#ff8200"/>
<circle cx="494.8" cy="1769.1" r="3.7" fill="#dcff23"/>
<circle cx="489.5" cy="1797.1" r="3.7" fill="#e8ff17"/>
<circle cx="377.9" cy="1689.9" r="3.7" fill="#9fff60"/>
<circle cx="516.1" cy="1777.4" r="3.7" fill="#ffe900"/>
<circle cx="517.4" cy="1815.4" r="3.7" fill="#ffdd00"/>
<circle cx="428.2" cy="1757.8" r="3.7" fill="#fff800"/>
<circle cx="469.6" cy="1743.0" r="3.7" fill="#ffde00"/>
<circle cx="403.9" cy="1688.0" r="3.7" fill="#93ff6c"/>
<circle cx="400.0" cy="1685.9" r="3.7" fill="#b5ff4a"/>
<circle cx="467.5" cy="1758.3" r="3.7" fill="#f0ff0f"/>
<circle cx="501.5" cy="1737.6" r="3.7" fill="#fff600"/>
<circle cx="575.9" cy="1760.3" r="3.7" fill="#fcff03"/>
<circle cx="425.1" cy="1750.1" r="3.7" fill="#ffef00"/>
<circle cx="462.0" cy="1772.5" r="3.7" fill="#ffef00"/>
<circle cx="549.5" cy="1741.5" r="3.7" fill="#f8ff07"/>
<circle cx="500.3" cy="1759.6" r="3.7" fill="#ffd100"/>
<circle cx="452.1" cy="1728.3" r="3.7" fill="#fffa00"/>
<circle cx="543.8" cy="1769.3" r="3.7" fill="#ffde00"/>
<circle cx="543.5" cy="1807.2" r="3.7" fill="#fff600"/>
<circle cx="509.0" cy="1802.6" r="3.7" fill="#ffdd00"/>
<circle cx="434.1" cy="1730.5" r="3.7" fill="#bbff44"/>
<circle cx="509.1" cy="1788.8" r="3.7" fill="#ff0900"/>
<circle cx="500.5" cy="1714.2" r="3.7" fill="#ebff14"/>
<circle cx="558.5" cy="1753.6" r="3.7" fill="#faff05"/>
<circle cx="534.8" cy="1764.6" r="3.7" fill="#ffec00"/>
<circle cx="485.7" cy="1728.8" r="3.7" fill="#fffb00"/>
<circle cx="391.4" cy="1687.3" r="3.7" fill="#c4ff3b"/>
<circle cx="438.2" cy="1732.7" r="3.7" fill="#f2ff0d"/>
<circle cx="553.6" cy="1789.0" r="3.7" fill="#ffe700"/>
<circle cx="386.4" cy="1706.2" r="3.7" fill="#c2ff3d"/>
<circle cx="415.3" cy="1736.3" r="3.7" fill="#e3ff1c"/>
<circle cx="401.1" cy="1695.4" r="3.7" fill="#b3ff4c"/>
<circle cx="416.4" cy="1683.5" r="3.7" fill="#baff45"/>
<circle cx="398.9" cy="1719.4" r="3.7" fill="#d0ff2f"/>
<circle cx="469.9" cy="1737.2" r="3.7" fill="#ffeb00"/>
<circle cx="450.9" cy="1713.0" r="3.7" fill="#fffc00"/>
<circle cx="412.2" cy="1713.6" r="3.7" fill="#daff25"/>
<circle cx="468.8" cy="1719.7" r="3.7" fill="#eaff15"/>
<circle cx="397.6" cy="1711.7" r="3.7" fill="#c6ff39"/>
<circle cx="557.9" cy="1743.6" r="3.7" fill="#fdff02"/>
<circle cx="457.6" cy="1752.2" r="3.7" fill="#d8ff27"/>
<circle cx="452.8" cy="1706.6" r="3.7" fill="#dbff24"/>
<circle cx="449.1" cy="1733.4" r="3.7" fill="#e0ff1f"/>
<circle cx="479.9" cy="1787.2" r="3.7" fill="#ffe800"/>
<circle cx="470.9" cy="1747.3" r="3.7" fill="#ffda00"/>
<circle cx="533.5" cy="1760.1" r="3.7" fill="#fff000"/>
<circle cx="476.8" cy="1778.5" r="3.7" fill="#ffef00"/>
<circle cx="560.8" cy="1784.9" r="3.7" fill="#d9ff26"/>
<circle cx="398.2" cy="1733.7" r="3.7" fill="#ff9500"/>
<circle cx="567.0" cy="1792.9" r="3.7" fill="#ffea00"/>
<circle cx="391.0" cy="1697.3" r="3.7" fill="#a6ff59"/>
<circle cx="540.9" cy="1803.5" r="3.7" fill="#e0ff1f"/>
<circle cx="473.3" cy="1780.2" r="3.7" fill="#ffde00"/>
<circle cx="441.3" cy="1763.6" r="3.7" fill="#f4ff0b"/>
<circle cx="552.7" cy="1795.9" r="3.7" fill="#ffe300"/>
<circle cx="467.8" cy="1769.2" r="3.7" fill="#fff400"/>
<circle cx="565.4" cy="1776.6" r="3.7" fill="#ffec00"/>
<circle cx="457.2" cy="1702.7" r="3.7" fill="#dcff23"/>
<circle cx="521.2" cy="1805.9" r="3.7" fill="#f6ff09"/>
<circle cx="447.8" cy="1717.3" r="3.7" fill="#dbff24"/>
<circle cx="518.2" cy="1805.6" r="3.7" fill="#ffbf00"/>
<circle cx="503.8" cy="1763.5" r="3.7" fill="#ff2e00"/>
<circle cx="499.3" cy="1796.6" r="3.7" fill="#fc0000"/>
<circle cx="456.5" cy="1707.3" r="3.7" fill="#e3ff1c"/>
<circle cx="500.3" cy="1730.2" r="3.7" fill="#ffe200"/>
<circle cx="476.7" cy="1745.8" r="3.7" fill="#cfff30"/>
<circle cx="446.7" cy="1708.9" r="3.7" fill="#d8ff27"/>
<circle cx="493.7" cy="1761.3" r="3.7" fill="#edff12"/>
<circle cx="427.4" cy="1698.6" r="3.7" fill="#d9ff26"/>
<circle cx="562.5" cy="1791.3" r="3.7" fill="#ffe400"/>
<circle cx="570.8" cy="1769.6" r="3.7" fill="#fffb00"/>
<circle cx="460.6" cy="1746.1" r="3.7" fill="#ffe700"/>
<circle cx="446.8" cy="1784.0" r="3.7" fill="#fffe00"/>
<circle cx="384.9" cy="1690.1" r="3.7" fill="#9dff62"/>
<circle cx="421.7" cy="1699.1" r="3.7" fill="#aeff51"/>
<circle cx="549.7" cy="1747.1" r="3.7" fill="#c7ff38"/>
<circle cx="519.5" cy="1793.5" r="3.7" fill="#ffe400"/>
<circle cx="385.9" cy="1710.5" r="3.7" fill="#9dff62"/>
<circle cx="389.2" cy="1719.9" r="3.7" fill="#cdff32"/>
<circle cx="466.6" cy="1789.7" r="3.7" fill="#fffa00"/>
<circle cx="456.2" cy="1787.3" r="3.7" fill="#ffdd00"/>
<circle cx="414.4" cy="1739.3" r="3.7" fill="#dcff23"/>
<circle cx="521.0" cy="1729.3" r="3.7" fill="#d6ff29"/>
<circle cx="527.9" cy="1810.3" r="3.7" fill="#e2ff1d"/>
<circle cx="502.1" cy="1738.5" r="3.7" fill="#d8ff27"/>
<circle cx="518.3" cy="1789.7" r="3.7" fill="#ffdd00"/>
<circle cx="536.1" cy="1738.0" r="3.7" fill="#fffd00"/>
<circle cx="430.0" cy="1760.1" r="3.7" fill="#d5ff2a"/>
<circle cx="461.4" cy="1791.2" r="3.7" fill="#ffff00"/>
<circle cx="541.5" cy="1752.9" r="3.7" fill="#e9ff16"/>
<circle cx="502.9" cy="1798.8" r="3.7" fill="#ffe800"/>
<circle cx="414.5" cy="1731.5" r="3.7" fill="#c1ff3e"/>
<circle cx="491.9" cy="1728.1" r="3.7" fill="#deff21"/>
<circle cx="503.9" cy="1805.7" r="3.7" fill="#ffe900"/>
<circle cx="558.8" cy="1769.7" r="3.7" fill="#ffdb00"/>
<circle cx="430.3" cy="1721.0" r="3.7" fill="#acff53"/>
<circle cx="573.0" cy="1761.0" r="3.7" fill="#fffe00"/>
<circle cx="557.6" cy="1776.1" r="3.7" fill="#cfff30"/>
<circle cx="489.3" cy="1744.9" r="3.7" fill="#ffdc00"/>
<circle cx="495.3" cy="1745.0" r="3.7" fill="#fff000"/>
<circle cx="420.6" cy="1708.0" r="3.7" fill="#c6ff39"/>
<circle cx="509.9" cy="1757.6" r="3.7" fill="#fffc00"/>
<circle cx="471.4" cy="1771.2" r="3.7" fill="#fff100"/>
<circle cx="489.7" cy="1783.5" r="3.7" fill="#ffcb00"/>
<circle cx="505.3" cy="1724.3" r="3.7" fill="#deff21"/>
<circle cx="465.4" cy="1779.5" r="3.7" fill="#fff700"/>
<circle cx="515.2" cy="1751.4" r="3.7" fill="#ffe900"/>
<circle cx="407.3" cy="1743.9" r="3.7" fill="#ffb800"/>
<circle cx="508.9" cy="1735.9" r="3.7" fill="#fff000"/>
<circle cx="473.0" cy="1750.3" r="3.7" fill="#efff10"/>
<circle cx="577.2" cy="1757.4" r="3.7" fill="#e8ff17"/>
<circle cx="405.8" cy="1700.7" r="3.7" fill="#c5ff3a"/>
<circle cx="429.7" cy="1760.6" r="3.7" fill="#e0ff1f"/>
<circle cx="489.2" cy="1716.6" r="3.7" fill="#ffe400"/>
<circle cx="465.9" cy="1726.8" r="3.7" fill="#fff300"/>
<circle cx="375.7" cy="1690.5" r="3.7" fill="#93ff6c"/>
<circle cx="511.1" cy="1796.9" r="3.7" fill="#fffb00"/>
<circle cx="477.4" cy="1789.2" r="3.7" fill="#ffd700"/>
<circle cx="423.5" cy="1693.9" r="3.7" fill="#cbff34"/>
<circle cx="469.5" cy="1743.6" r="3.7" fill="#fff500"/>
<circle cx="393.7" cy="1670.3" r="3.7" fill="#acff53"/>
<circle cx="505.5" cy="1733.6" r="3.7" fill="#fffb00"/>
<circle cx="393.8" cy="1684.7" r="3.7" fill="#9bff64"/>
<circle cx="464.8" cy="1790.8" r="3.7" fill="#f7ff08"/>
<circle cx="477.5" cy="1726.6" r="3.7" fill="#ffed00"/>
<circle cx="426.1" cy="1727.2" r="3.7" fill="#eaff15"/>
<circle cx="540.3" cy="1750.0" r="3.7" fill="#fff100"/>
<circle cx="419.2" cy="1684.6" r="3.7" fill="#8fff70"/>
<circle cx="481.0" cy="1788.5" r="3.7" fill="#fff800"/>
<circle cx="470.6" cy="1763.1" r="3.7" fill="#fff700"/>
<circle cx="552.9" cy="1747.0" r="3.7" fill="#d4ff2b"/>
<circle cx="424.9" cy="1759.5" r="3.7" fill="#eaff15"/>
<circle cx="423.1" cy="1711.8" r="3.7" fill="#bfff40"/>
<circle cx="463.9" cy="1762.6" r="3.7" fill="#fff100"/>
<circle cx="467.7" cy="1765.5" r="3.7" fill="#faff05"/>
<circle cx="431.4" cy="1738.4" r="3.7" fill="#f4ff0b"/>
<circle cx="516.6" cy="1792.1" r="3.7" fill="#e7ff18"/>
<circle cx="433.8" cy="1767.8" r="3.7" fill="#daff25"/>
<circle cx="496.6" cy="1755.4" r="3.7" fill="#ffc900"/>
<circle cx="410.2" cy="1710.0" r="3.7" fill="#a9ff56"/>
<circle cx="506.8" cy="1796.9" r="3.7" fill="#ffdf00"/>
<circle cx="576.6" cy="1770.4" r="3.7" fill="#faff05"/>
<circle cx="524.9" cy="1731.0" r="3.7" fill="#fff700"/>
<circle cx="460.5" cy="1756.5" r="3.7" fill="#ff2700"/>
<circle cx="476.0" cy="1794.9" r="3.7" fill="#fff400"/>
<circle cx="422.1" cy="1760.2" r="3.7" fill="#ceff31"/>
<circle cx="423.8" cy="1747.5" r="3.7" fill="#e6ff19"/>
<circle cx="442.4" cy="1776.5" r="3.7" fill="#fff800"/>
<circle cx="409.7" cy="1711.9" r="3.7" fill="#dfff20"/>
<circle cx="388.6" cy="1686.6" r="3.7" fill="#acff53"/>
<circle cx="464.6" cy="1748.2" r="3.7" fill="#d7ff28"/>
<circle cx="488.8" cy="1778.1" r="3.7" fill="#ffdd00"/>
<circle cx="380.5" cy="1710.3" r="3.7" fill="#a0ff5f"/>
<circle cx="487.7" cy="1770.2" r="3.7" fill="#ffd300"/>
<circle cx="502.8" cy="1778.2" r="3.7" fill="#ff0b00"/>
<circle cx="430.0" cy="1750.9" r="3.7" fill="#eaff15"/>
<circle cx="513.6" cy="1808.4" r="3.7" fill="#ffc200"/>
<circle cx="542.7" cy="1744.5" r="3.7" fill="#fcff03"/>
<circle cx="410.7" cy="1743.4" r="3.7" fill="#c9ff36"/>
<circle cx="511.3" cy="1736.8" r="3.7" fill="#f1ff0e"/>
<circle cx="529.2" cy="1780.4" r="3.7" fill="#f8ff07"/>
<circle cx="450.1" cy="1778.1" r="3.7" fill="#e9ff16"/>
<circle cx="555.2" cy="1762.1" r="3.7" fill="#e0ff1f"/>
<circle cx="530.9" cy="1765.2" r="3.7" fill="#fff500"/>
<circle cx="508.8" cy="1786.6" r="3.7" fill="#ffcd00"/>
<circle cx="527.5" cy="1782.2" r="3.7" fill="#ffdf00"/>
<circle cx="529.8" cy="1750.2" r="3.7" fill="#deff21"/>
<circle cx="501.7" cy="1748.6" r="3.7" fill="#ffeb00"/>
<circle cx="419.5" cy="1689.0" r="3.7" fill="#d2ff2d"/>
<circle cx="499.5" cy="1778.6" r="3.7" fill="#fffe00"/>
<circle cx="428.9" cy="1761.6" r="3.7" fill="#e6ff19"/>
<circle cx="570.0" cy="1789.4" r="3.7" fill="#ffff00"/>
<circle cx="388.4" cy="1678.3" r="3.7" fill="#70ff8f"/>
<circle cx="538.9" cy="1743.2" r="3.7" fill="#fff000"/>
<circle cx="418.8" cy="1756.8" r="3.7" fill="#ff9100"/>
<circle cx="451.6" cy="1757.7" r="3.7" fill="#e3ff1c"/>
<circle cx="417.3" cy="1755.0" r="3.7" fill="#d3ff2c"/>
<circle cx="434.2" cy="1761.9" r="3.7" fill="#e1ff1e"/>
<circle cx="411.7" cy="1692.4" r="3.7" fill="#c1ff3e"/>
<circle cx="418.7" cy="1758.2" r="3.7" fill="#c0ff3f"/>
<circle cx="417.3" cy="1712.8" r="3.7" fill="#c3ff3c"/>
<circle cx="422.9" cy="1678.0" r="3.7" fill="#c4ff3b"/>
<circle cx="468.1" cy="1739.3" r="3.7" fill="#d1ff2e"/>
<circle cx="447.6" cy="1781.1" r="3.7" fill="#ffea00"/>
<circle cx="425.7" cy="1741.7" r="3.7" fill="#fffa00"/>
<circle cx="531.1" cy="1771.5" r="3.7" fill="#ffd600"/>
<circle cx="486.5" cy="1810.2" r="3.7" fill="#ffac00"/>
<circle cx="504.9" cy="1726.1" r="3.7" fill="#e4ff1b"/>
<circle cx="504.2" cy="1759.6" r="3.7" fill="#ffd900"/>
<circle cx="546.7" cy="1768.0" r="3.7" fill="#fff500"/>
<circle cx="476.1" cy="1802.3" r="3.7" fill="#ffbc00"/>
<circle cx="503.8" cy="1781.2" r="3.7" fill="#ffd000"/>
<circle cx="506.4" cy="1779.1" r="3.7" fill="#f8ff07"/>
<circle cx="441.0" cy="1687.9" r="3.7" fill="#dfff20"/>
<circle cx="486.7" cy="1790.1" r="3.7" fill="#fffe00"/>
<circle cx="412.1" cy="1735.9" r="3.7" fill="#e9ff16"/>
<circle cx="382.6" cy="1695.7" r="3.7" fill="#9fff60"/>
<circle cx="460.8" cy="1716.4" r="3.7" fill="#f1ff0e"/>
<circle cx="401.0" cy="1732.5" r="3.7" fill="#d2ff2d"/>
<circle cx="391.6" cy="1708.4" r="3.7" fill="#cdff32"/>
<circle cx="450.6" cy="1697.6" r="3.7" fill="#e1ff1e"/>
<circle cx="465.8" cy="1790.5" r="3.7" fill="#ffe000"/>
<circle cx="426.0" cy="1709.8" r="3.7" fill="#d7ff28"/>
<circle cx="380.2" cy="1701.7" r="3.7" fill="#8dff72"/>
<circle cx="400.1" cy="1693.9" r="3.7" fill="#8cff73"/>
<circle cx="551.3" cy="1797.7" r="3.7" fill="#fffc00"/>
<circle cx="416.8" cy="1714.1" r="3.7" fill="#c6ff39"/>
<circle cx="525.4" cy="1778.6" r="3.7" fill="#dcff23"/>
<circle cx="488.8" cy="1740.0" r="3.7" fill="#fff500"/>
<circle cx="542.9" cy="1779.2" r="3.7" fill="#ddff22"/>
<circle cx="476.7" cy="1746.2" r="3.7" fill="#f9ff06"/>
<circle cx="446.7" cy="1714.5" r="3.7" fill="#e0ff1f"/>
<circle cx="463.5" cy="1754.2" r="3.7" fill="#fcff03"/>
<circle cx="547.0" cy="1801.3" r="3.7" fill="#f1ff0e"/>
<circle cx="493.6" cy="1724.7" r="3.7" fill="#ffe000"/>
<circle cx="539.7" cy="1775.0" r="3.7" fill="#fbff04"/>
<circle cx="413.3" cy="1727.9" r="3.7" fill="#beff41"/>
<circle cx="529.5" cy="1778.7" r="3.7" fill="#e9ff16"/>
<circle cx="508.1" cy="1731.3" r="3.7" fill="#bcff43"/>
<circle cx="480.5" cy="1728.3" r="3.7" fill="#edff12"/>
<circle cx="439.9" cy="1751.5" r="3.7" fill="#e7ff18"/>
<circle cx="487.6" cy="1798.5" r="3.7" fill="#ffe800"/>
<circle cx="506.1" cy="1801.1" r="3.7" fill="#fffa00"/>
<circle cx="429.3" cy="1723.8" r="3.7" fill="#bcff43"/>
<circle cx="391.0" cy="1715.8" r="3.7" fill="#bdff42"/>
<circle cx="507.1" cy="1805.6" r="3.7" fill="#ffde00"/>
<circle cx="447.8" cy="1788.2" r="3.7" fill="#faff05"/>
<circle cx="498.6" cy="1772.4" r="3.7" fill="#ffdd00"/>
<circle cx="515.6" cy="1779.4" r="3.7" fill="#ffdb00"/>
<circle cx="378.4" cy="1682.8" r="3.7" fill="#9fff60"/>
<circle cx="522.7" cy="1730.2" r="3.7" fill="#b7ff48"/>
<circle cx="522.6" cy="1799.2" r="3.7" fill="#ffd600"/>
<circle cx="436.9" cy="1698.5" r="3.7" fill="#c8ff37"/>
<circle cx="433.3" cy="1726.9" r="3.7" fill="#f9ff06"/>
<circle cx="559.5" cy="1746.8" r="3.7" fill="#efff10"/>
<circle cx="554.8" cy="1781.8" r="3.7" fill="#ffda00"/>
<circle cx="522.5" cy="1749.8" r="3.7" fill="#ffe500"/>
<circle cx="527.3" cy="1811.6" r="3.7" fill="#ffe400"/>
<circle cx="552.2" cy="1741.1" r="3.7" fill="#edff12"/>
<circle cx="448.5" cy="1783.2" r="3.7" fill="#ffff00"/>
<circle cx="462.7" cy="1735.9" r="3.7" fill="#fbff04"/>
<circle cx="401.2" cy="1706.9" r="3.7" fill="#cbff34"/>
<circle cx="579.3" cy="1772.8" r="3.7" fill="#f9ff06"/>
<circle cx="519.0" cy="1762.2" r="3.7" fill="#ffda00"/>
<circle cx="477.1" cy="1734.4" r="3.7" fill="#f3ff0c"/>
<circle cx="457.7" cy="1734.5" r="3.7" fill="#ffe600"/>
<circle cx="407.2" cy="1692.5" r="3.7" fill="#cbff34"/>
<circle cx="517.5" cy="1756.4" r="3.7" fill="#fff400"/>
<circle cx="471.2" cy="1782.4" r="3.7" fill="#ffed00"/>
<circle cx="453.3" cy="1755.1" r="3.7" fill="#ffea00"/>
<circle cx="511.1" cy="1756.2" r="3.7" fill="#ffe200"/>
<circle cx="503.0" cy="1743.8" r="3.7" fill="#fdff02"/>
<circle cx="543.8" cy="1748.8" r="3.7" fill="#ffd700"/>
<circle cx="462.3" cy="1772.0" r="3.7" fill="#eeff11"/>
<circle cx="454.9" cy="1775.3" r="3.7" fill="#edff12"/>
<circle cx="407.5" cy="1710.9" r="3.7" fill="#b1ff4e"/>
<circle cx="557.5" cy="1763.9" r="3.7" fill="#fffd00"/>
<circle cx="419.7" cy="1685.0" r="3.7" fill="#d2ff2d"/>
<circle cx="502.5" cy="1747.8" r="3.7" fill="#ffdb00"/>
<circle cx="549.7" cy="1737.5" r="3.7" fill="#deff21"/>
<circle cx="433.8" cy="1740.8" r="3.7" fill="#d7ff28"/>
<circle cx="449.5" cy="1717.9" r="3.7" fill="#e4ff1b"/>
<circle cx="466.0" cy="1794.5" r="3.7" fill="#fff100"/>
<circle cx="427.4" cy="1720.9" r="3.7" fill="#98ff67"/>
<circle cx="473.7" cy="1737.3" r="3.7" fill="#ffe800"/>
<circle cx="436.9" cy="1729.3" r="3.7" fill="#e3ff1c"/>
<circle cx="436.7" cy="1749.4" r="3.7" fill="#daff25"/>
<circle cx="528.8" cy="1796.8" r="3.7" fill="#dfff20"/>
<circle cx="455.2" cy="1772.4" r="3.7" fill="#ffd400"/>
<circle cx="524.1" cy="1744.6" r="3.7" fill="#fffe00"/>
<circle cx="436.6" cy="1742.9" r="3.7" fill="#fcff03"/>
<circle cx="431.3" cy="1695.5" r="3.7" fill="#d2ff2d"/>
<circle cx="480.1" cy="1783.0" r="3.7" fill="#ffe700"/>
<circle cx="530.4" cy="1779.1" r="3.7" fill="#fff600"/>
<circle cx="565.7" cy="1762.5" r="3.7" fill="#fff800"/>
<circle cx="442.6" cy="1712.5" r="3.7" fill="#d7ff28"/>
<circle cx="561.3" cy="1749.9" r="3.7" fill="#ffe500"/>
<circle cx="500.2" cy="1780.1" r="3.7" fill="#fbff04"/>
<circle cx="582.4" cy="1763.7" r="3.7" fill="#fff500"/>
<circle cx="475.5" cy="1792.8" r="3.7" fill="#fffb00"/>
<circle cx="449.8" cy="1735.6" r="3.7" fill="#fcff03"/>
<circle cx="388.1" cy="1721.3" r="3.7" fill="#b6ff49"/>
<circle cx="510.0" cy="1720.6" r="3.7" fill="#fffe00"/>
<circle cx="494.3" cy="1752.5" r="3.7" fill="#ffcc00"/>
<circle cx="485.8" cy="1785.0" r="3.7" fill="#ffec00"/>
<circle cx="526.7" cy="1792.1" r="3.7" fill="#d0ff2f"/>
<circle cx="560.6" cy="1787.9" r="3.7" fill="#ffea00"/>
<circle cx="511.7" cy="1782.8" r="3.7" fill="#fff400"/>
<circle cx="446.7" cy="1786.8" r="3.7" fill="#f8ff07"/>
<circle cx="514.3" cy="1737.3" r="3.7" fill="#fff500"/>
<circle cx="501.6" cy="1780.2" r="3.7" fill="#ffd200"/>
<circle cx="379.9" cy="1698.1" r="3.7" fill="#8cff73"/>
<circle cx="424.4" cy="1759.2" r="3.7" fill="#dbff24"/>
<circle cx="425.7" cy="1730.4" r="3.7" fill="#d8ff27"/>
<circle cx="526.8" cy="1774.5" r="3.7" fill="#ffee00"/>
<circle cx="531.0" cy="1772.3" r="3.7" fill="#ffea00"/>
<circle cx="484.1" cy="1781.2" r="3.7" fill="#fffd00"/>
<circle cx="522.0" cy="1753.5" r="3.7" fill="#fcff03"/>
<circle cx="519.5" cy="1806.0" r="3.7" fill="#daff25"/>
<circle cx="490.4" cy="1737.1" r="3.7" fill="#b9ff46"/>
<circle cx="412.1" cy="1692.5" r="3.7" fill="#abff54"/>
<circle cx="432.2" cy="1712.7" r="3.7" fill="#e4ff1b"/>
<circle cx="407.2" cy="1697.5" r="3.7" fill="#beff41"/>
<circle cx="439.0" cy="1710.0" r="3.7" fill="#caff35"/>
<circle cx="426.1" cy="1694.0" r="3.7" fill="#c3ff3c"/>
<circle cx="531.0" cy="1788.6" r="3.7" fill="#ffc700"/>
<circle cx="439.9" cy="1744.6" r="3.7" fill="#ffee00"/>
<circle cx="523.5" cy="1746.1" r="3.7" fill="#d1ff2e"/>
<circle cx="440.6" cy="1715.7" r="3.7" fill="#eaff15"/>
<circle cx="468.3" cy="1721.0" r="3.7" fill="#e1ff1e"/>
<circle cx="547.0" cy="1747.9" r="3.7" fill="#daff25"/>
<circle cx="409.7" cy="1711.3" r="3.7" fill="#d4ff2b"/>
<circle cx="562.0" cy="1743.0" r="3.7" fill="#ceff31"/>
<circle cx="474.8" cy="1786.0" r="3.7" fill="#ffed00"/>
<circle cx="436.6" cy="1762.7" r="3.7" fill="#fff000"/>
<circle cx="546.1" cy="1770.3" r="3.7" fill="#fff500"/>
<circle cx="453.6" cy="1751.7" r="3.7" fill="#f8ff07"/>
<circle cx="404.4" cy="1728.8" r="3.7" fill="#d3ff2c"/>
<circle cx="467.4" cy="1742.3" r="3.7" fill="#faff05"/>
<circle cx="409.6" cy="1687.0" r="3.7" fill="#abff54"/>
<circle cx="439.3" cy="1707.6" r="3.7" fill="#e1ff1e"/>
<circle cx="431.8" cy="1767.7" r="3.7" fill="#f4ff0b"/>
<circle cx="556.2" cy="1747.8" r="3.7" fill="#fff000"/>
<circle cx="484.8" cy="1753.6" r="3.7" fill="#f0ff0f"/>
<circle cx="518.4" cy="1793.8" r="3.7" fill="#ffeb00"/>
<circle cx="571.5" cy="1790.5" r="3.7" fill="#fff800"/>
<circle cx="416.5" cy="1697.4" r="3.7" fill="#8cff73"/>
<circle cx="492.2" cy="1741.5" r="3.7" fill="#f3ff0c"/>
<circle cx="543.8" cy="1762.0" r="3.7" fill="#eeff11"/>
<circle cx="510.5" cy="1775.9" r="3.7" fill="#ffe900"/>
<circle cx="493.3" cy="1766.0" r="3.7" fill="#fffd00"/>
<circle cx="429.2" cy="1690.8" r="3.7" fill="#c4ff3b"/>
<circle cx="476.8" cy="1770.7" r="3.7" fill="#fffc00"/>
<circle cx="513.7" cy="1752.1" r="3.7" fill="#f2ff0d"/>
<circle cx="520.4" cy="1766.3" r="3.7" fill="#fff900"/>
<circle cx="574.5" cy="1775.9" r="3.7" fill="#91ff6e"/>
<circle cx="415.7" cy="1717.7" r="3.7" fill="#beff41"/>
<circle cx="440.3" cy="1714.7" r="3.7" fill="#c8ff37"/>
<circle cx="442.4" cy="1711.3" r="3.7" fill="#e7ff18"/>
<circle cx="435.7" cy="1706.7" r="3.7" fill="#b6ff49"/>
<circle cx="584.1" cy="1774.1" r="3.7" fill="#e6ff19"/>
<circle cx="515.5" cy="1769.2" r="3.7" fill="#fff100"/>
<circle cx="542.2" cy="1748.8" r="3.7" fill="#aaff55"/>
<circle cx="550.1" cy="1775.5" r="3.7" fill="#bfff40"/>
<circle cx="446.6" cy="1706.5" r="3.7" fill="#a0ff5f"/>
<circle cx="406.8" cy="1736.3" r="3.7" fill="#cbff34"/>
<circle cx="536.5" cy="1762.0" r="3.7" fill="#ecff13"/>
<circle cx="534.8" cy="1799.1" r="3.7" fill="#fffe00"/>
<circle cx="448.6" cy="1772.7" r="3.7" fill="#fff700"/>
<circle cx="523.7" cy="1765.1" r="3.7" fill="#ffe600"/>
<circle cx="449.5" cy="1727.8" r="3.7" fill="#e6ff19"/>
<circle cx="457.7" cy="1751.1" r="3.7" fill="#fff900"/>
<circle cx="392.9" cy="1697.4" r="3.7" fill="#85ff7a"/>
<circle cx="491.9" cy="1735.1" r="3.7" fill="#fffa00"/>
<circle cx="422.9" cy="1693.7" r="3.7" fill="#d4ff2b"/>
<circle cx="465.9" cy="1734.7" r="3.7" fill="#f9ff06"/>
<circle cx="433.6" cy="1740.0" r="3.7" fill="#ebff14"/>
<circle cx="434.6" cy="1707.3" r="3.7" fill="#eeff11"/>
<circle cx="399.2" cy="1674.3" r="3.7" fill="#c6ff39"/>
<circle cx="503.1" cy="1741.4" r="3.7" fill="#ffd000"/>
<circle cx="474.7" cy="1777.5" r="3.7" fill="#ffed00"/>
<circle cx="474.6" cy="1746.8" r="3.7" fill="#ecff13"/>
<circle cx="397.1" cy="1723.5" r="3.7" fill="#afff50"/>
<circle cx="551.7" cy="1772.6" r="3.7" fill="#ffd500"/>
<circle cx="450.6" cy="1748.1" r="3.7" fill="#d0ff2f"/>
<circle cx="439.8" cy="1767.5" r="3.7" fill="#fff200"/>
<circle cx="474.5" cy="1772.0" r="3.7" fill="#fff800"/>
<circle cx="505.2" cy="1791.6" r="3.7" fill="#ffd400"/>
<circle cx="572.6" cy="1793.2" r="3.7" fill="#beff41"/>
<circle cx="457.5" cy="1767.0" r="3.7" fill="#f1ff0e"/>
<circle cx="582.1" cy="1771.2" r="3.7" fill="#eaff15"/>
<circle cx="418.9" cy="1687.6" r="3.7" fill="#a7ff58"/>
<circle cx="435.8" cy="1728.9" r="3.7" fill="#c8ff37"/>
<circle cx="545.0" cy="1739.3" r="3.7" fill="#ebff14"/>
<circle cx="397.2" cy="1704.5" r="3.7" fill="#aaff55"/>
<circle cx="479.5" cy="1749.8" r="3.7" fill="#f9ff06"/>
<circle cx="413.9" cy="1714.7" r="3.7" fill="#d0ff2f"/>
<circle cx="455.6" cy="1765.3" r="3.7" fill="#fff200"/>
<circle cx="442.5" cy="1744.9" r="3.7" fill="#fff600"/>
<circle cx="433.2" cy="1749.5" r="3.7" fill="#f3ff0c"/>
<circle cx="380.9" cy="1708.7" r="3.7" fill="#b8ff47"/>
<circle cx="488.3" cy="1777.6" r="3.7" fill="#ffc400"/>
<circle cx="492.6" cy="1806.2" r="3.7" fill="#ffd900"/>
<circle cx="500.2" cy="1738.2" r="3.7" fill="#ffdc00"/>
<circle cx="489.2" cy="1732.1" r="3.7" fill="#fff700"/>
<circle cx="534.3" cy="1732.9" r="3.7" fill="#ffdd00"/>
<circle cx="398.2" cy="1687.7" r="3.7" fill="#b3ff4c"/>
<circle cx="538.4" cy="1726.7" r="3.7" fill="#ffce00"/>
<circle cx="501.8" cy="1733.6" r="3.7" fill="#a3ff5c"/>
<circle cx="422.5" cy="1724.3" r="3.7" fill="#d7ff28"/>
<circle cx="434.2" cy="1690.9" r="3.7" fill="#c8ff37"/>
<circle cx="461.0" cy="1758.9" r="3.7" fill="#fdff02"/>
<circle cx="537.4" cy="1733.6" r="3.7" fill="#e7ff18"/>
<circle cx="522.8" cy="1751.6" r="3.7" fill="#fffd00"/>
<circle cx="418.7" cy="1696.3" r="3.7" fill="#b1ff4e"/>
<circle cx="532.3" cy="1764.0" r="3.7" fill="#fff000"/>
<circle cx="560.0" cy="1791.9" r="3.7" fill="#ffeb00"/>
<circle cx="408.8" cy="1718.7" r="3.7" fill="#baff45"/>
<circle cx="446.2" cy="1702.0" r="3.7" fill="#ebff14"/>
<circle cx="501.7" cy="1753.3" r="3.7" fill="#fff200"/>
<circle cx="581.1" cy="1764.9" r="3.7" fill="#f1ff0e"/>
<circle cx="477.5" cy="1761.2" r="3.7" fill="#ffee00"/>
<circle cx="420.8" cy="1682.5" r="3.7" fill="#c2ff3d"/>
<circle cx="561.4" cy="1775.1" r="3.7" fill="#f7ff08"/>
<circle cx="476.3" cy="1784.1" r="3.7" fill="#fcff03"/>
<circle cx="435.7" cy="1763.5" r="3.7" fill="#fff200"/>
<circle cx="535.9" cy="1764.8" r="3.7" fill="#fff600"/>
<circle cx="480.0" cy="1741.7" r="3.7" fill="#baff45"/>
<circle cx="501.0" cy="1724.4" r="3.7" fill="#fffc00"/>
<circle cx="450.1" cy="1741.2" r="3.7" fill="#d4ff2b"/>
<circle cx="496.1" cy="1771.7" r="3.7" fill="#ffea00"/>
<circle cx="508.7" cy="1748.5" r="3.7" fill="#f3ff0c"/>
<circle cx="508.4" cy="1787.4" r="3.7" fill="#ffc700"/>
<circle cx="395.9" cy="1679.9" r="3.7" fill="#92ff6d"/>
<circle cx="427.0" cy="1721.6" r="3.7" fill="#d0ff2f"/>
<circle cx="472.0" cy="1754.5" r="3.7" fill="#ffef00"/>
<circle cx="405.9" cy="1739.5" r="3.7" fill="#daff25"/>
<circle cx="541.4" cy="1734.0" r="3.7" fill="#ffff00"/>
<circle cx="459.4" cy="1780.9" r="3.7" fill="#ffdb00"/>
<circle cx="509.4" cy="1789.0" r="3.7" fill="#ffec00"/>
<circle cx="458.4" cy="1801.8" r="3.7" fill="#ffaa00"/>
<circle cx="535.3" cy="1761.1" r="3.7" fill="#efff10"/>
<circle cx="497.1" cy="1737.1" r="3.7" fill="#d1ff2e"/>
<circle cx="556.4" cy="1786.4" r="3.7" fill="#e9ff16"/>
<circle cx="532.1" cy="1786.6" r="3.7" fill="#ffe100"/>
<circle cx="503.5" cy="1800.6" r="3.7" fill="#e40000"/>
<circle cx="470.9" cy="1741.5" r="3.7" fill="#f9ff06"/>
<circle cx="527.3" cy="1803.1" r="3.7" fill="#ffe100"/>
<circle cx="448.9" cy="1708.4" r="3.7" fill="#eeff11"/>
<circle cx="423.1" cy="1701.3" r="3.7" fill="#b8ff47"/>
<circle cx="449.3" cy="1716.2" r="3.7" fill="#ddff22"/>
<circle cx="541.5" cy="1787.6" r="3.7" fill="#bcff43"/>
<circle cx="452.4" cy="1762.5" r="3.7" fill="#ceff31"/>
<circle cx="484.5" cy="1736.0" r="3.7" fill="#fffc00"/>
<circle cx="561.5" cy="1751.9" r="3.7" fill="#ffde00"/>
<circle cx="455.9" cy="1699.1" r="3.7" fill="#e7ff18"/>
<circle cx="477.9" cy="1732.1" r="3.7" fill="#f7ff08"/>
<circle cx="557.2" cy="1762.4" r="3.7" fill="#f7ff08"/>
<circle cx="416.7" cy="1706.0" r="3.7" fill="#d2ff2d"/>
<circle cx="472.2" cy="1785.3" r="3.7" fill="#ffd000"/>
<circle cx="448.0" cy="1737.5" r="3.7" fill="#deff21"/>
<circle cx="536.6" cy="1743.7" r="3.7" fill="#fff000"/>
<circle cx="429.6" cy="1768.1" r="3.7" fill="#f9ff06"/>
<circle cx="384.5" cy="1676.3" r="3.7" fill="#a9ff56"/>
<circle cx="493.8" cy="1756.1" r="3.7" fill="#fff000"/>
<circle cx="410.8" cy="1696.5" r="3.7" fill="#e9ff16"/>
<circle cx="451.5" cy="1738.1" r="3.7" fill="#eeff11"/>
<circle cx="429.5" cy="1703.9" r="3.7" fill="#c4ff3b"/>
<circle cx="430.9" cy="1687.1" r="3.7" fill="#d1ff2e"/>
<circle cx="479.8" cy="1728.6" r="3.7" fill="#ddff22"/>
<circle cx="413.8" cy="1687.3" r="3.7" fill="#7aff85"/>
<circle cx="464.9" cy="1750.4" r="3.7" fill="#ffda00"/>
<circle cx="456.6" cy="1766.3" r="3.7" fill="#e5ff1a"/>
<circle cx="493.7" cy="1785.1" r="3.7" fill="#ffdc00"/>
<circle cx="497.1" cy="1733.9" r="3.7" fill="#ffdf00"/>
<circle cx="417.2" cy="1684.4" r="3.7" fill="#adff52"/>
<circle cx="388.7" cy="1700.6" r="3.7" fill="#79ff86"/>
<circle cx="404.9" cy="1711.7" r="3.7" fill="#c6ff39"/>
<circle cx="505.5" cy="1720.9" r="3.7" fill="#e9ff16"/>
<circle cx="486.6" cy="1787.8" r="3.7" fill="#ebff14"/>
<circle cx="431.9" cy="1692.4" r="3.7" fill="#c2ff3d"/>
<circle cx="523.2" cy="1808.4" r="3.7" fill="#fdff02"/>
<circle cx="484.6" cy="1800.2" r="3.7" fill="#ffd100"/>
<circle cx="512.1" cy="1787.5" r="3.7" fill="#ff3c00"/>
<circle cx="540.9" cy="1797.4" r="3.7" fill="#ffd800"/>
<circle cx="524.5" cy="1772.7" r="3.7" fill="#ffd900"/>
<circle cx="408.1" cy="1738.8" r="3.7" fill="#ceff31"/>
<circle cx="460.3" cy="1717.1" r="3.7" fill="#dcff23"/>
<circle cx="386.8" cy="1710.8" r="3.7" fill="#abff54"/>
<circle cx="389.9" cy="1695.1" r="3.7" fill="#b1ff4e"/>
<circle cx="535.8" cy="1783.8" r="3.7" fill="#ffd800"/>
<circle cx="523.5" cy="1732.5" r="3.7" fill="#f2ff0d"/>
<circle cx="464.0" cy="1758.5" r="3.7" fill="#fffa00"/>
<circle cx="519.2" cy="1808.4" r="3.7" fill="#ffd200"/>
<circle cx="567.1" cy="1758.3" r="3.7" fill="#fff800"/>
<circle cx="515.4" cy="1730.0" r="3.7" fill="#fffe00"/>
<circle cx="443.2" cy="1734.5" r="3.7" fill="#f9ff06"/>
<circle cx="545.0" cy="1784.7" r="3.7" fill="#ffe100"/>
<circle cx="572.0" cy="1787.6" r="3.7" fill="#ffec00"/>
<circle cx="504.1" cy="1805.1" r="3.7" fill="#ffd900"/>
<circle cx="473.1" cy="1771.2" r="3.7" fill="#ffd900"/>
<circle cx="405.4" cy="1743.4" r="3.7" fill="#caff35"/>
<circle cx="510.7" cy="1767.4" r="3.7" fill="#ffc300"/>
<circle cx="430.4" cy="1731.4" r="3.7" fill="#cdff32"/>
<circle cx="470.8" cy="1721.6" r="3.7" fill="#fff000"/>
<circle cx="503.9" cy="1761.1" r="3.7" fill="#ffdf00"/>
<circle cx="440.9" cy="1721.1" r="3.7" fill="#e0ff1f"/>
<circle cx="465.4" cy="1789.0" r="3.7" fill="#fffc00"/>
<circle cx="401.2" cy="1668.1" r="3.7" fill="#7bff84"/>
<circle cx="441.1" cy="1752.9" r="3.7" fill="#fcff03"/>
<circle cx="462.0" cy="1775.1" r="3.7" fill="#ffec00"/>
<circle cx="492.1" cy="1803.1" r="3.7" fill="#ffd100"/>
<circle cx="510.0" cy="1746.9" r="3.7" fill="#feff01"/>
<circle cx="451.7" cy="1780.4" r="3.7" fill="#fff700"/>
<circle cx="450.9" cy="1708.8" r="3.7" fill="#c1ff3e"/>
<circle cx="549.9" cy="1773.7" r="3.7" fill="#ffe600"/>
<circle cx="538.2" cy="1741.4" r="3.7" fill="#c5ff3a"/>
<circle cx="413.4" cy="1731.7" r="3.7" fill="#c0ff3f"/>
<circle cx="427.4" cy="1727.5" r="3.7" fill="#dbff24"/>
<circle cx="515.6" cy="1765.9" r="3.7" fill="#ffe700"/>
<circle cx="529.1" cy="1792.8" r="3.7" fill="#ffd700"/>
<circle cx="514.6" cy="1740.3" r="3.7" fill="#e1ff1e"/>
<circle cx="494.5" cy="1783.8" r="3.7" fill="#ffdd00"/>
<circle cx="515.4" cy="1747.2" r="3.7" fill="#fffd00"/>
<circle cx="543.5" cy="1807.5" r="3.7" fill="#fff100"/>
<circle cx="533.2" cy="1789.7" r="3.7" fill="#fff800"/>
<circle cx="541.4" cy="1753.0" r="3.7" fill="#fbff04"/>
<circle cx="451.7" cy="1757.6" r="3.7" fill="#fffd00"/>
<circle cx="450.0" cy="1772.2" r="3.7" fill="#d2ff2d"/>
<circle cx="403.6" cy="1733.6" r="3.7" fill="#b5ff4a"/>
<circle cx="423.0" cy="1725.0" r="3.7" fill="#c1ff3e"/>
<circle cx="449.8" cy="1779.7" r="3.7" fill="#caff35"/>
<circle cx="567.4" cy="1788.7" r="3.7" fill="#fff300"/>
<circle cx="395.0" cy="1730.8" r="3.7" fill="#ff7f00"/>
<circle cx="469.7" cy="1736.3" r="3.7" fill="#e6ff19"/>
<circle cx="470.2" cy="1719.1" r="3.7" fill="#fffb00"/>
<circle cx="420.1" cy="1752.7" r="3.7" fill="#ebff14"/>
<circle cx="537.5" cy="1798.0" r="3.7" fill="#ffe500"/>
<circle cx="540.6" cy="1762.3" r="3.7" fill="#ffe100"/>
<circle cx="454.8" cy="1704.1" r="3.7" fill="#efff10"/>
<circle cx="422.1" cy="1741.6" r="3.7" fill="#d3ff2c"/>
<circle cx="505.5" cy="1783.3" r="3.7" fill="#ffeb00"/>
<circle cx="470.9" cy="1741.2" r="3.7" fill="#e0ff1f"/>
<circle cx="515.8" cy="1785.4" r="3.7" fill="#ceff31"/>
<circle cx="572.8" cy="1783.3" r="3.7" fill="#fbff04"/>
<circle cx="540.6" cy="1745.2" r="3.7" fill="#fff100"/>
<circle cx="450.0" cy="1719.8" r="3.7" fill="#e1ff1e"/>
<circle cx="481.6" cy="1729.7" r="3.7" fill="#f2ff0d"/>
<circle cx="499.9" cy="1808.6" r="3.7" fill="#ffc900"/>
<circle cx="396.1" cy="1709.8" r="3.7" fill="#96ff69"/>
<circle cx="417.3" cy="1685.3" r="3.7" fill="#aeff51"/>
<circle cx="442.0" cy="1713.7" r="3.7" fill="#f6ff09"/>
<circle cx="482.1" cy="1791.6" r="3.7" fill="#ffe600"/>
<circle cx="508.8" cy="1727.8" r="3.7" fill="#c9ff36"/>
<circle cx="428.9" cy="1696.6" r="3.7" fill="#beff41"/>
<circle cx="446.0" cy="1721.8" r="3.7" fill="#e6ff19"/>
<circle cx="467.0" cy="1742.3" r="3.7" fill="#fff800"/>
<circle cx="488.8" cy="1799.5" r="3.7" fill="#ffe500"/>
<circle cx="416.6" cy="1725.0" r="3.7" fill="#d7ff28"/>
<circle cx="477.6" cy="1787.8" r="3.7" fill="#fffd00"/>
<circle cx="490.2" cy="1799.4" r="3.7" fill="#ffbd00"/>
<circle cx="529.0" cy="1747.6" r="3.7" fill="#bcff43"/>
<circle cx="463.2" cy="1750.5" r="3.7" fill="#fffd00"/>
<circle cx="444.9" cy="1719.9" r="3.7" fill="#e3ff1c"/>
<circle cx="432.2" cy="1776.7" r="3.7" fill="#ffa700"/>
<circle cx="497.7" cy="1766.5" r="3.7" fill="#ffd900"/>
<circle cx="477.8" cy="1729.1" r="3.7" fill="#f2ff0d"/>
<circle cx="393.5" cy="1709.5" r="3.7" fill="#a8ff57"/>
<circle cx="476.6" cy="1776.4" r="3.7" fill="#ffe800"/>
<circle cx="441.6" cy="1749.7" r="3.7" fill="#c4ff3b"/>
<circle cx="524.8" cy="1799.5" r="3.7" fill="#ffdd00"/>
<circle cx="524.0" cy="1799.6" r="3.7" fill="#ffc800"/>
<circle cx="484.1" cy="1736.2" r="3.7" fill="#fff300"/>
<circle cx="455.5" cy="1739.2" r="3.7" fill="#edff12"/>
<circle cx="552.9" cy="1782.7" r="3.7" fill="#fff300"/>
<circle cx="502.0" cy="1773.7" r="3.7" fill="#ffc700"/>
<circle cx="413.6" cy="1742.6" r="3.7" fill="#d7ff28"/>
<circle cx="415.3" cy="1724.4" r="3.7" fill="#e3ff1c"/>
<circle cx="378.3" cy="1702.6" r="3.7" fill="#88ff77"/>
<circle cx="521.1" cy="1800.7" r="3.7" fill="#fbff04"/>
<circle cx="536.9" cy="1798.3" r="3.7" fill="#ffe200"/>
<circle cx="462.9" cy="1802.4" r="3.7" fill="#ff8900"/>
<circle cx="497.6" cy="1764.0" r="3.7" fill="#f80000"/>
<circle cx="429.6" cy="1726.2" r="3.7" fill="#cbff34"/>
<circle cx="471.8" cy="1781.3" r="3.7" fill="#fff300"/>
<circle cx="498.3" cy="1720.8" r="3.7" fill="#dfff20"/>
<circle cx="403.2" cy="1733.5" r="3.7" fill="#d0ff2f"/>
<circle cx="510.4" cy="1791.3" r="3.7" fill="#fffb00"/>
<circle cx="554.5" cy="1793.6" r="3.7" fill="#fff700"/>
<circle cx="406.5" cy="1690.8" r="3.7" fill="#acff53"/>
<circle cx="457.4" cy="1774.6" r="3.7" fill="#f7ff08"/>
<circle cx="444.7" cy="1741.2" r="3.7" fill="#fffa00"/>
<circle cx="487.2" cy="1808.9" r="3.7" fill="#ff9700"/>
<circle cx="421.3" cy="1674.8" r="3.7" fill="#daff25"/>
<circle cx="507.1" cy="1797.2" r="3.7" fill="#ffce00"/>
<circle cx="584.4" cy="1776.4" r="3.7" fill="#d3ff2c"/>
<circle cx="556.2" cy="1767.9" r="3.7" fill="#bfff40"/>
<circle cx="444.3" cy="1699.7" r="3.7" fill="#dfff20"/>
<circle cx="472.0" cy="1794.6" r="3.7" fill="#fdff02"/>
<circle cx="382.3" cy="1710.3" r="3.7" fill="#9cff63"/>
<circle cx="444.4" cy="1735.3" r="3.7" fill="#f7ff08"/>
<circle cx="462.0" cy="1782.8" r="3.7" fill="#fff200"/>
<circle cx="516.3" cy="1801.1" r="3.7" fill="#fffb00"/>
<circle cx="471.9" cy="1773.7" r="3.7" fill="#fbff04"/>
<circle cx="503.5" cy="1734.4" r="3.7" fill="#b7ff48"/>
<circle cx="543.0" cy="1757.6" r="3.7" fill="#f1ff0e"/>
<circle cx="432.3" cy="1746.7" r="3.7" fill="#e6ff19"/>
<circle cx="461.1" cy="1776.9" r="3.7" fill="#ffd200"/>
<circle cx="504.9" cy="1747.5" r="3.7" fill="#feff01"/>
<circle cx="440.0" cy="1765.7" r="3.7" fill="#fff400"/>
<circle cx="500.6" cy="1776.6" r="3.7" fill="#fffa00"/>
<circle cx="432.1" cy="1734.3" r="3.7" fill="#dbff24"/>
<circle cx="455.8" cy="1789.9" r="3.7" fill="#fa0000"/>
<circle cx="442.2" cy="1767.5" r="3.7" fill="#ffe800"/>
<circle cx="451.6" cy="1716.7" r="3.7" fill="#f7ff08"/>
<circle cx="518.9" cy="1795.3" r="3.7" fill="#fcff03"/>
<circle cx="462.5" cy="1760.9" r="3.7" fill="#ebff14"/>
<circle cx="487.9" cy="1736.2" r="3.7" fill="#f8ff07"/>
<circle cx="417.0" cy="1693.9" r="3.7" fill="#a8ff57"/>
<circle cx="448.2" cy="1747.6" r="3.7" fill="#ffea00"/>
<circle cx="414.9" cy="1742.4" r="3.7" fill="#e8ff17"/>
<circle cx="518.2" cy="1788.0" r="3.7" fill="#fffe00"/>
<circle cx="545.2" cy="1774.9" r="3.7" fill="#fff500"/>
<circle cx="485.4" cy="1741.3" r="3.7" fill="#b5ff4a"/>
<circle cx="424.3" cy="1760.1" r="3.7" fill="#e3ff1c"/>
<circle cx="446.2" cy="1733.5" r="3.7" fill="#fff800"/>
<circle cx="381.2" cy="1693.7" r="3.7" fill="#bfff40"/>
<circle cx="416.0" cy="1710.4" r="3.7" fill="#b3ff4c"/>
<circle cx="443.5" cy="1767.4" r="3.7" fill="#fff900"/>
<circle cx="504.8" cy="1786.8" r="3.7" fill="#f90000"/>
<circle cx="475.6" cy="1757.9" r="3.7" fill="#eaff15"/>
<circle cx="464.8" cy="1757.1" r="3.7" fill="#eaff15"/>
<circle cx="477.4" cy="1786.5" r="3.7" fill="#ffe000"/>
<circle cx="459.8" cy="1719.2" r="3.7" fill="#e5ff1a"/>
<circle cx="548.7" cy="1772.8" r="3.7" fill="#ffe200"/>
<circle cx="486.0" cy="1803.4" r="3.7" fill="#ffd200"/>
<circle cx="477.8" cy="1757.8" r="3.7" fill="#f4ff0b"/>
<circle cx="457.0" cy="1716.7" r="3.7" fill="#daff25"/>
<circle cx="394.0" cy="1676.6" r="3.7" fill="#98ff67"/>
<circle cx="510.2" cy="1791.1" r="3.7" fill="#ffca00"/>
<circle cx="439.8" cy="1716.9" r="3.7" fill="#cfff30"/>
<circle cx="399.1" cy="1703.4" r="3.7" fill="#cdff32"/>
<circle cx="412.3" cy="1694.9" r="3.7" fill="#bbff44"/>
<circle cx="511.8" cy="1743.6" r="3.7" fill="#fffd00"/>
<circle cx="577.5" cy="1778.1" r="3.7" fill="#ffe800"/>
<circle cx="470.5" cy="1776.6" r="3.7" fill="#fff100"/>
<circle cx="489.2" cy="1783.2" r="3.7" fill="#fff500"/>
<circle cx="491.4" cy="1729.9" r="3.7" fill="#e7ff18"/>
<circle cx="466.9" cy="1798.3" r="3.7" fill="#ffda00"/>
<circle cx="439.5" cy="1733.5" r="3.7" fill="#e90000"/>
<circle cx="564.8" cy="1784.5" r="3.7" fill="#e3ff1c"/>
<circle cx="417.1" cy="1761.6" r="3.7" fill="#cbff34"/>
<circle cx="438.0" cy="1739.6" r="3.7" fill="#e2ff1d"/>
<circle cx="386.4" cy="1674.7" r="3.7" fill="#91ff6e"/>
<circle cx="408.5" cy="1699.5" r="3.7" fill="#aeff51"/>
<circle cx="544.1" cy="1747.1" r="3.7" fill="#ffec00"/>
<circle cx="463.7" cy="1753.6" r="3.7" fill="#feff01"/>
<circle cx="524.9" cy="1759.7" r="3.7" fill="#f6ff09"/>
<circle cx="515.0" cy="1736.9" r="3.7" fill="#e4ff1b"/>
<circle cx="472.8" cy="1766.0" r="3.7" fill="#e0ff1f"/>
<circle cx="445.9" cy="1708.9" r="3.7" fill="#f5ff0a"/>
<circle cx="565.2" cy="1844.0" r="3.7" fill="#d30000"/>
<circle cx="463.4" cy="1847.5" r="3.7" fill="#fd0000"/>
<circle cx="574.6" cy="1851.0" r="3.7" fill="#db0000"/>
<circle cx="433.8" cy="1805.7" r="3.7" fill="#e70000"/>
<circle cx="471.0" cy="1845.4" r="3.7" fill="#ff8600"/>
<circle cx="567.3" cy="1828.3" r="3.7" fill="#ff9200"/>
<circle cx="472.1" cy="1832.7" r="3.7" fill="#ff1300"/>
<circle cx="510.2" cy="1848.1" r="3.7" fill="#ff1c00"/>
<circle cx="514.5" cy="1828.6" r="3.7" fill="#ff0700"/>
<circle cx="469.1" cy="1824.3" r="3.7" fill="#ff8400"/>
<circle cx="544.2" cy="1843.5" r="3.7" fill="#ff1c00"/>
<circle cx="553.6" cy="1854.0" r="3.7" fill="#d50000"/>
<circle cx="497.6" cy="1842.1" r="3.7" fill="#d80000"/>
<circle cx="461.1" cy="1812.4" r="3.7" fill="#e20000"/>
<circle cx="554.1" cy="1850.2" r="3.7" fill="#ff5f00"/>
<circle cx="500.6" cy="1831.5" r="3.7" fill="#ff1400"/>
<circle cx="475.2" cy="1814.2" r="3.7" fill="#d20000"/>
<circle cx="493.9" cy="1826.0" r="3.7" fill="#e00000"/>
<circle cx="463.5" cy="1833.8" r="3.7" fill="#fa0000"/>
<circle cx="560.6" cy="1823.8" r="3.7" fill="#d70000"/>
<circle cx="495.0" cy="1806.6" r="3.7" fill="#ff2500"/>
<circle cx="431.0" cy="1825.7" r="3.7" fill="#ff7800"/>
<circle cx="501.8" cy="1827.8" r="3.7" fill="#ff2000"/>
<circle cx="577.4" cy="1825.5" r="3.7" fill="#ff6f00"/>
<circle cx="494.2" cy="1839.2" r="3.7" fill="#ee0000"/>
<circle cx="464.0" cy="1828.4" r="3.7" fill="#ea0000"/>
<circle cx="526.8" cy="1843.3" r="3.7" fill="#e30000"/>
<circle cx="442.4" cy="1819.7" r="3.7" fill="#f80000"/>
<circle cx="453.6" cy="1809.1" r="3.7" fill="#f90000"/>
<circle cx="484.6" cy="1842.9" r="3.7" fill="#ff0200"/>
<circle cx="478.6" cy="1839.8" r="3.7" fill="#e00000"/>
<circle cx="578.0" cy="1861.5" r="3.7" fill="#ff1400"/>
<circle cx="559.8" cy="1863.4" r="3.7" fill="#cd0000"/>
<circle cx="567.5" cy="1834.4" r="3.7" fill="#f60000"/>
<circle cx="494.4" cy="1854.5" r="3.7" fill="#eb0000"/>
<circle cx="457.4" cy="1816.9" r="3.7" fill="#ff7a00"/>
<circle cx="506.0" cy="1814.5" r="3.7" fill="#ff2600"/>
<circle cx="566.0" cy="1827.8" r="3.7" fill="#ff0300"/>
<circle cx="506.0" cy="1842.6" r="3.7" fill="#dc0000"/>
<circle cx="564.1" cy="1840.8" r="3.7" fill="#f50000"/>
<circle cx="546.8" cy="1840.4" r="3.7" fill="#ff1300"/>
<circle cx="470.6" cy="1829.1" r="3.7" fill="#ff2400"/>
<circle cx="488.9" cy="1837.4" r="3.7" fill="#ff6600"/>
<circle cx="482.1" cy="1836.1" r="3.7" fill="#f00000"/>
<circle cx="465.6" cy="1838.3" r="3.7" fill="#d50000"/>
<circle cx="447.5" cy="1818.1" r="3.7" fill="#f60000"/>
<circle cx="428.7" cy="1815.8" r="3.7" fill="#ea0000"/>
<circle cx="482.8" cy="1844.4" r="3.7" fill="#d80000"/>
<circle cx="565.8" cy="1841.0" r="3.7" fill="#ff7200"/>
<circle cx="429.0" cy="1811.8" r="3.7" fill="#d80000"/>
<circle cx="559.6" cy="1815.6" r="3.7" fill="#e30000"/>
<circle cx="552.7" cy="1819.3" r="3.7" fill="#d10000"/>
<circle cx="572.5" cy="1827.7" r="3.7" fill="#d30000"/>
<circle cx="487.0" cy="1841.7" r="3.7" fill="#ff7200"/>
<circle cx="471.3" cy="1834.3" r="3.7" fill="#ff2200"/>
<circle cx="484.7" cy="1850.6" r="3.7" fill="#ff1000"/>
<circle cx="428.7" cy="1827.7" r="3.7" fill="#ff9700"/>
<circle cx="548.8" cy="1853.6" r="3.7" fill="#ff0c00"/>
<circle cx="511.2" cy="1823.7" r="3.7" fill="#ff1900"/>
<circle cx="446.1" cy="1811.6" r="3.7" fill="#ff1d00"/>
<circle cx="486.4" cy="1853.6" r="3.7" fill="#ff1700"/>
<circle cx="503.6" cy="1849.4" r="3.7" fill="#ff7a00"/>
<circle cx="430.0" cy="1808.0" r="3.7" fill="#ee0000"/>
<circle cx="567.0" cy="1842.2" r="3.7" fill="#d10000"/>
<circle cx="497.5" cy="1823.9" r="3.7" fill="#ff6000"/>
<circle cx="466.0" cy="1830.0" r="3.7" fill="#d90000"/>
<circle cx="424.5" cy="1815.6" r="3.7" fill="#f40000"/>
<circle cx="463.7" cy="1821.4" r="3.7" fill="#cf0000"/>
<circle cx="476.4" cy="1817.0" r="3.7" fill="#e70000"/>
<circle cx="517.6" cy="1838.2" r="3.7" fill="#ff1900"/>
<circle cx="489.2" cy="1816.7" r="3.7" fill="#ff1300"/>
<circle cx="505.8" cy="1843.4" r="3.7" fill="#ff2100"/>
<circle cx="468.3" cy="1831.0" r="3.7" fill="#f40000"/>
<circle cx="554.3" cy="1856.0" r="3.7" fill="#d80000"/>
<circle cx="486.2" cy="1829.3" r="3.7" fill="#f30000"/>
<circle cx="477.0" cy="1831.1" r="3.7" fill="#d70000"/>
<circle cx="580.1" cy="1845.4" r="3.7" fill="#d90000"/>
<circle cx="490.3" cy="1811.5" r="3.7" fill="#ff1a00"/>
<circle cx="542.0" cy="1845.7" r="3.7" fill="#ff1900"/>
<circle cx="549.3" cy="1828.1" r="3.7" fill="#ff1800"/>
<circle cx="548.1" cy="1849.2" r="3.7" fill="#da0000"/>
<circle cx="556.5" cy="1849.6" r="3.7" fill="#c20000"/>
<circle cx="547.3" cy="1843.5" r="3.7" fill="#be0000"/>
<circle cx="560.1" cy="1806.2" r="3.7" fill="#be0000"/>
<circle cx="553.7" cy="1808.2" r="3.7" fill="#c70000"/>
<circle cx="558.2" cy="1832.4" r="3.7" fill="#c90000"/>
<circle cx="564.4" cy="1844.6" r="3.7" fill="#ff1600"/>
<circle cx="547.4" cy="1845.7" r="3.7" fill="#ff1200"/>
<circle cx="549.9" cy="1800.1" r="3.7" fill="#bc0000"/>
<circle cx="551.0" cy="1814.7" r="3.7" fill="#e60000"/>
<circle cx="548.3" cy="1799.9" r="3.7" fill="#e30000"/>
<circle cx="542.8" cy="1832.6" r="3.7" fill="#f60000"/>
<circle cx="557.7" cy="1834.9" r="3.7" fill="#cd0000"/>
<circle cx="551.3" cy="1814.7" r="3.7" fill="#ff0900"/>
<circle cx="553.4" cy="1799.2" r="3.7" fill="#d20000"/>
<circle cx="545.0" cy="1837.7" r="3.7" fill="#ff0600"/>
<circle cx="554.2" cy="1818.4" r="3.7" fill="#eb0000"/>
<circle cx="555.3" cy="1814.2" r="3.7" fill="#c00000"/>
<circle cx="542.9" cy="1845.8" r="3.7" fill="#bc0000"/>
<circle cx="555.9" cy="1839.6" r="3.7" fill="#e40000"/>
<circle cx="553.7" cy="1795.5" r="3.7" fill="#d00000"/>
<circle cx="562.8" cy="1820.2" r="3.7" fill="#da0000"/>
<circle cx="550.1" cy="1823.8" r="3.7" fill="#c50000"/>
<circle cx="548.2" cy="1796.6" r="3.7" fill="#d00000"/>
<circle cx="553.1" cy="1815.8" r="3.7" fill="#ff1e00"/>
<circle cx="552.3" cy="1849.4" r="3.7" fill="#d40000"/>
<circle cx="550.5" cy="1805.7" r="3.7" fill="#ff0500"/>
<circle cx="557.4" cy="1821.6" r="3.7" fill="#f80000"/>
<circle cx="545.4" cy="1802.8" r="3.7" fill="#cb0000"/>
<circle cx="552.2" cy="1816.6" r="3.7" fill="#eb0000"/>
<circle cx="557.6" cy="1807.9" r="3.7" fill="#ff0000"/>
<circle cx="551.7" cy="1847.0" r="3.7" fill="#e60000"/>
<circle cx="558.9" cy="1827.8" r="3.7" fill="#e40000"/>
<circle cx="553.8" cy="1826.3" r="3.7" fill="#ff0e00"/>
<circle cx="550.6" cy="1836.4" r="3.7" fill="#c20000"/>
<circle cx="557.0" cy="1833.1" r="3.7" fill="#cc0000"/>
<circle cx="547.3" cy="1837.8" r="3.7" fill="#e40000"/>
<circle cx="563.1" cy="1836.1" r="3.7" fill="#cd0000"/>
<circle cx="542.6" cy="1846.7" r="3.7" fill="#ff1100"/>
<circle cx="544.2" cy="1824.0" r="3.7" fill="#d30000"/>
<circle cx="558.3" cy="1800.9" r="3.7" fill="#d60000"/>
<circle cx="566.1" cy="1826.3" r="3.7" fill="#c00000"/>
<circle cx="560.4" cy="1842.6" r="3.7" fill="#e80000"/>
<circle cx="545.5" cy="1832.0" r="3.7" fill="#bc0000"/>
<circle cx="523.7" cy="1808.9" r="3.7" fill="#ec0000"/>
<circle cx="485.2" cy="1804.9" r="3.7" fill="#ff0600"/>
<circle cx="481.8" cy="1801.5" r="3.7" fill="#ec0000"/>
<circle cx="534.4" cy="1798.1" r="3.7" fill="#fff900"/>
<circle cx="470.1" cy="1807.8" r="3.7" fill="#ff0600"/>
<circle cx="493.1" cy="1808.8" r="3.7" fill="#ff0600"/>
<circle cx="467.3" cy="1809.6" r="3.7" fill="#ff8000"/>
<circle cx="459.6" cy="1808.8" r="3.7" fill="#ff8000"/>
<circle cx="496.9" cy="1803.3" r="3.7" fill="#ff8000"/>
<circle cx="532.3" cy="1806.2" r="3.7" fill="#fff900"/>
<circle cx="471.4" cy="1799.3" r="3.7" fill="#ff8000"/>
<circle cx="521.1" cy="1810.1" r="3.7" fill="#ff0600"/>
<circle cx="497.8" cy="1807.5" r="3.7" fill="#fff900"/>
<circle cx="503.8" cy="1797.1" r="3.7" fill="#fff900"/>
<circle cx="473.9" cy="1799.8" r="3.7" fill="#ff0600"/>
<circle cx="479.0" cy="1801.3" r="3.7" fill="#ff0600"/>
<circle cx="493.9" cy="1810.2" r="3.7" fill="#ec0000"/>
<circle cx="479.1" cy="1800.1" r="3.7" fill="#ff8000"/>
<circle cx="475.5" cy="1797.7" r="3.7" fill="#ff8000"/>
<circle cx="508.8" cy="1801.4" r="3.7" fill="#ff8000"/>
<circle cx="536.2" cy="1800.9" r="3.7" fill="#ff0600"/>
<circle cx="499.6" cy="1798.9" r="3.7" fill="#ff8000"/>
<circle cx="503.6" cy="1803.1" r="3.7" fill="#ec0000"/>
<circle cx="493.9" cy="1799.6" r="3.7" fill="#ff9000"/>
<circle cx="509.8" cy="1799.1" r="3.7" fill="#ff9000"/>
<circle cx="469.0" cy="1805.6" r="3.7" fill="#ff0600"/>
<circle cx="471.8" cy="1808.0" r="3.7" fill="#ec0000"/>
<circle cx="535.3" cy="1808.0" r="3.7" fill="#fff900"/>
<circle cx="496.1" cy="1807.0" r="3.7" fill="#ec0000"/>
<circle cx="479.9" cy="1796.8" r="3.7" fill="#ec0000"/>
<circle cx="393.4" cy="1661.0" r="3.7" fill="#5affa5"/>
<circle cx="380.7" cy="1674.6" r="3.7" fill="#5affa5"/>
<circle cx="437.8" cy="1667.7" r="3.7" fill="#5affa5"/>
<circle cx="446.4" cy="1667.7" r="3.7" fill="#5affa5"/>
<circle cx="456.7" cy="1674.6" r="3.7" fill="#bcff43"/>
<circle cx="370.3" cy="1712.6" r="3.7" fill="#5affa5"/>
<circle cx="464.3" cy="1693.7" r="3.7" fill="#fff900"/>
<circle cx="491.3" cy="1689.1" r="3.7" fill="#fff900"/>
<circle cx="527.0" cy="1682.9" r="3.7" fill="#fff900"/>
<circle cx="491.3" cy="1700.6" r="3.7" fill="#fff900"/>
<circle cx="495.9" cy="1701.8" r="3.7" fill="#fff900"/>
<circle cx="477.5" cy="1708.7" r="3.7" fill="#fff900"/>
<circle cx="505.1" cy="1712.2" r="3.7" fill="#fff900"/>
<circle cx="495.9" cy="1719.1" r="3.7" fill="#fff900"/>
<circle cx="530.5" cy="1722.5" r="3.7" fill="#fff900"/>
<circle cx="536.2" cy="1732.9" r="3.7" fill="#fff900"/>
<circle cx="574.2" cy="1726.5" r="3.7" fill="#fd0000"/>
<circle cx="567.3" cy="1734.1" r="3.7" fill="#ab0000"/>
<circle cx="558.1" cy="1736.4" r="3.7" fill="#fff900"/>
<circle cx="601.9" cy="1743.7" r="3.7" fill="#ffc000"/>
<circle cx="570.8" cy="1744.4" r="3.7" fill="#fd0000"/>
<circle cx="574.2" cy="1751.3" r="3.7" fill="#fd0000"/>
<circle cx="583.5" cy="1764.0" r="3.7" fill="#fff900"/>
<circle cx="581.2" cy="1774.4" r="3.7" fill="#fff900"/>
<circle cx="613.4" cy="1774.4" r="3.7" fill="#fff900"/>
<circle cx="620.8" cy="1776.7" r="3.7" fill="#fd0000"/>
<circle cx="639.9" cy="1783.1" r="3.7" fill="#fff900"/>
<circle cx="577.7" cy="1797.0" r="3.7" fill="#fff900"/>
<circle cx="599.6" cy="1796.3" r="3.7" fill="#ff9000"/>
<circle cx="607.6" cy="1791.7" r="3.7" fill="#ab0000"/>
<circle cx="613.4" cy="1796.3" r="3.7" fill="#fff900"/>
<circle cx="627.2" cy="1799.7" r="3.7" fill="#fd0000"/>
<circle cx="633.0" cy="1798.6" r="3.7" fill="#fff900"/>
<circle cx="583.5" cy="1802.0" r="3.7" fill="#ff9000"/>
<circle cx="605.3" cy="1805.5" r="3.7" fill="#fd0000"/>
<circle cx="582.3" cy="1807.8" r="3.7" fill="#fd0000"/>
<circle cx="612.3" cy="1817.7" r="3.7" fill="#ab0000"/>
<circle cx="613.9" cy="1821.6" r="3.7" fill="#fff900"/>
<circle cx="636.0" cy="1816.3" r="3.7" fill="#fd0000"/>
<circle cx="595.0" cy="1833.1" r="3.7" fill="#fd0000"/>
<circle cx="588.1" cy="1841.7" r="3.7" fill="#fd0000"/>
<circle cx="582.3" cy="1847.0" r="3.7" fill="#fd0000"/>
<circle cx="612.3" cy="1843.5" r="3.7" fill="#fd0000"/>
<circle cx="600.0" cy="1853.9" r="3.7" fill="#ff9000"/>
<circle cx="571.9" cy="1855.0" r="3.7" fill="#fd0000"/>
<circle cx="398.0" cy="1745.6" r="3.7" fill="#ff9000"/>
<circle cx="392.2" cy="1750.9" r="3.7" fill="#ff9000"/>
<circle cx="391.1" cy="1767.5" r="3.7" fill="#ff9000"/>
<circle cx="399.1" cy="1772.1" r="3.7" fill="#ff9000"/>
<circle cx="410.6" cy="1779.0" r="3.7" fill="#ff9000"/>
<circle cx="417.1" cy="1774.8" r="3.7" fill="#ffd100"/>
<circle cx="398.0" cy="1790.0" r="3.7" fill="#ff9000"/>
<circle cx="410.2" cy="1800.2" r="3.7" fill="#fff900"/>
<circle cx="401.4" cy="1805.5" r="3.7" fill="#ff9000"/>
<circle cx="415.7" cy="1814.0" r="3.7" fill="#ff9000"/>
<circle cx="422.2" cy="1798.6" r="3.7" fill="#fff900"/>
<circle cx="398.0" cy="1837.7" r="3.7" fill="#ff9000"/>
<circle cx="406.7" cy="1848.8" r="3.7" fill="#ff9000"/>
<circle cx="417.1" cy="1862.4" r="3.7" fill="#ff9000"/>
<circle cx="448.0" cy="1866.1" r="3.7" fill="#ff9000"/>
<circle cx="455.1" cy="1877.6" r="3.7" fill="#ff9000"/>
<circle cx="453.3" cy="1885.4" r="3.7" fill="#fd0000"/>
<circle cx="455.1" cy="1836.6" r="3.7" fill="#ff9000"/>
<circle cx="483.9" cy="1873.0" r="3.7" fill="#fd0000"/>
<circle cx="490.1" cy="1874.6" r="3.7" fill="#fd0000"/>
<circle cx="480.9" cy="1882.7" r="3.7" fill="#fd0000"/>
<circle cx="487.8" cy="1887.3" r="3.7" fill="#fd0000"/>
<circle cx="495.9" cy="1889.6" r="3.7" fill="#fd0000"/>
<circle cx="505.1" cy="1879.9" r="3.7" fill="#fd0000"/>
<circle cx="512.0" cy="1892.4" r="3.7" fill="#fd0000"/>
<circle cx="536.2" cy="1897.0" r="3.7" fill="#fd0000"/>
<circle cx="541.5" cy="1875.8" r="3.7" fill="#ff9000"/>
<circle cx="595.0" cy="1896.5" r="3.7" fill="#fd0000"/>
<circle cx="623.8" cy="1905.7" r="3.7" fill="#fd0000"/>
<circle cx="468.9" cy="1914.9" r="3.7" fill="#fd0000"/>
<circle cx="482.5" cy="1919.5" r="3.7" fill="#fd0000"/>
<circle cx="491.3" cy="1914.5" r="3.7" fill="#fd0000"/>
<circle cx="463.6" cy="1852.7" r="3.7" fill="#fd0000"/>
<circle cx="472.4" cy="1857.3" r="3.7" fill="#fd0000"/>
<circle cx="509.7" cy="1866.1" r="3.7" fill="#fd0000"/>
<circle cx="529.3" cy="1866.1" r="3.7" fill="#fd0000"/>
<circle cx="546.6" cy="1866.5" r="3.7" fill="#fd0000"/>
<circle cx="558.1" cy="1866.1" r="3.7" fill="#fd0000"/>
<circle cx="563.9" cy="1758.2" r="3.7" fill="#fd0000"/>
<circle cx="567.3" cy="1739.8" r="3.7" fill="#fd0000"/>
<circle cx="562.7" cy="1749.0" r="3.7" fill="#ab0000"/>
<circle cx="438.3" cy="1822.8" r="3.7" fill="#fd0000"/>
<circle cx="429.1" cy="1827.4" r="3.7" fill="#fd0000"/>
<circle cx="424.5" cy="1822.8" r="3.7" fill="#fd0000"/>
<circle cx="427.9" cy="1836.6" r="3.7" fill="#fd0000"/>
<circle cx="431.4" cy="1818.2" r="3.7" fill="#fd0000"/>
<circle cx="446.4" cy="1820.5" r="3.7" fill="#fd0000"/>
<circle cx="462.5" cy="1822.8" r="3.7" fill="#fd0000"/>
<circle cx="471.7" cy="1830.8" r="3.7" fill="#fd0000"/>
<circle cx="479.8" cy="1840.0" r="3.7" fill="#fd0000"/>
<circle cx="467.1" cy="1842.4" r="3.7" fill="#fd0000"/>
<circle cx="476.3" cy="1848.1" r="3.7" fill="#fd0000"/>
<circle cx="485.5" cy="1847.0" r="3.7" fill="#ff9000"/>
</g>
<path d="M124.4,1692.3C133.6,1699.2 161.3,1721.3 179.7,1733.7C198.1,1746.0 216.5,1756.7 235.0,1766.4C253.4,1776.0 271.8,1784.1 290.2,1791.7C308.7,1799.3 327.1,1806.3 345.5,1812.0C363.9,1817.8 382.4,1821.9 400.8,1826.2C419.2,1830.5 437.6,1834.3 456.1,1837.9C474.5,1841.5 492.9,1844.8 511.4,1847.8C529.8,1850.8 548.2,1853.6 566.6,1856.1C585.1,1858.7 603.5,1861.1 621.9,1863.2C640.3,1865.4 658.8,1867.2 677.2,1869.1C695.6,1870.9 714.0,1872.7 732.5,1874.3C750.9,1876.0 769.3,1877.6 787.7,1879.0C806.2,1880.3 824.6,1881.7 843.0,1882.7C861.4,1883.6 889.1,1884.5 898.3,1884.8" fill="none" stroke="#b83848" stroke-width="2.0" />
<text x="150.5" y="1703.5" font-size="17.5" fill="#b03040" font-family='"Liberation Sans", sans-serif' textLength="133.0" lengthAdjust="spacingAndGlyphs" transform="rotate(31.5 150.5 1703.5)">Han Dual Input</text>
<circle cx="447.0" cy="1807.8" r="13.2" fill="none" stroke="#ff1a1a" stroke-width="2.6"/>
<path d="M442,1801l10,12M452,1801l-10,12" fill="none" stroke="#ff1a1a" stroke-width="1.6" />
<text x="665.0" y="1843.6" font-size="43" fill="#1010ee" font-family='"Liberation Sans", sans-serif' textLength="108.0" lengthAdjust="spacingAndGlyphs">Brine</text>
<text x="664.0" y="1903.5" font-size="43" fill="#1010ee" font-family='"Liberation Sans", sans-serif' textLength="99.0" lengthAdjust="spacingAndGlyphs">Sand</text>
<line x1="124.4" y1="1492.7" x2="124.4" y2="2111.6" stroke="#222" stroke-width="2.2" />
<line x1="123.4" y1="2110.6" x2="899.3" y2="2110.6" stroke="#222" stroke-width="2.2" />
<line x1="123.4" y1="1493.7" x2="899.3" y2="1493.7" stroke="#222" stroke-width="2.2" />
<line x1="898.3" y1="1492.7" x2="898.3" y2="2111.6" stroke="#222" stroke-width="2.2" />
<line x1="115.4" y1="1493.7" x2="124.4" y2="1493.7" stroke="#222" stroke-width="1.8" />
<line x1="898.3" y1="1493.7" x2="907.3" y2="1493.7" stroke="#222" stroke-width="1.8" />
<text x="110.9" y="1499.9" font-size="20.5" fill="#222" font-family='"Liberation Sans", sans-serif' text-anchor="end">3.0</text>
<line x1="115.4" y1="1570.8" x2="124.4" y2="1570.8" stroke="#222" stroke-width="1.8" />
<line x1="898.3" y1="1570.8" x2="907.3" y2="1570.8" stroke="#222" stroke-width="1.8" />
<text x="110.9" y="1577.0" font-size="20.5" fill="#222" font-family='"Liberation Sans", sans-serif' text-anchor="end">2.75</text>
<line x1="115.4" y1="1647.9" x2="124.4" y2="1647.9" stroke="#222" stroke-width="1.8" />
<line x1="898.3" y1="1647.9" x2="907.3" y2="1647.9" stroke="#222" stroke-width="1.8" />
<text x="110.9" y="1654.1" font-size="20.5" fill="#222" font-family='"Liberation Sans", sans-serif' text-anchor="end">2.5</text>
<line x1="115.4" y1="1725.0" x2="124.4" y2="1725.0" stroke="#222" stroke-width="1.8" />
<line x1="898.3" y1="1725.0" x2="907.3" y2="1725.0" stroke="#222" stroke-width="1.8" />
<text x="110.9" y="1731.2" font-size="20.5" fill="#222" font-family='"Liberation Sans", sans-serif' text-anchor="end">2.25</text>
<line x1="115.4" y1="1802.2" x2="124.4" y2="1802.2" stroke="#222" stroke-width="1.8" />
<line x1="898.3" y1="1802.2" x2="907.3" y2="1802.2" stroke="#222" stroke-width="1.8" />
<text x="110.9" y="1808.4" font-size="20.5" fill="#222" font-family='"Liberation Sans", sans-serif' text-anchor="end">2.0</text>
<line x1="115.4" y1="1879.3" x2="124.4" y2="1879.3" stroke="#222" stroke-width="1.8" />
<line x1="898.3" y1="1879.3" x2="907.3" y2="1879.3" stroke="#222" stroke-width="1.8" />
<text x="110.9" y="1885.5" font-size="20.5" fill="#222" font-family='"Liberation Sans", sans-serif' text-anchor="end">1.75</text>
<line x1="115.4" y1="1956.4" x2="124.4" y2="1956.4" stroke="#222" stroke-width="1.8" />
<line x1="898.3" y1="1956.4" x2="907.3" y2="1956.4" stroke="#222" stroke-width="1.8" />
<text x="110.9" y="1962.6" font-size="20.5" fill="#222" font-family='"Liberation Sans", sans-serif' text-anchor="end">1.5</text>
<line x1="115.4" y1="2033.5" x2="124.4" y2="2033.5" stroke="#222" stroke-width="1.8" />
<line x1="898.3" y1="2033.5" x2="907.3" y2="2033.5" stroke="#222" stroke-width="1.8" />
<text x="110.9" y="2039.7" font-size="20.5" fill="#222" font-family='"Liberation Sans", sans-serif' text-anchor="end">1.25</text>
<line x1="115.4" y1="2110.6" x2="124.4" y2="2110.6" stroke="#222" stroke-width="1.8" />
<line x1="898.3" y1="2110.6" x2="907.3" y2="2110.6" stroke="#222" stroke-width="1.8" />
<text x="110.9" y="2116.8" font-size="20.5" fill="#222" font-family='"Liberation Sans", sans-serif' text-anchor="end">1</text>
<line x1="124.4" y1="2110.6" x2="124.4" y2="2118.6" stroke="#222" stroke-width="1.8" />
<line x1="124.4" y1="1484.7" x2="124.4" y2="1493.7" stroke="#222" stroke-width="1.8" />
<text x="131.8" y="2122.5" font-size="20.5" fill="#222" font-family='"Liberation Sans", sans-serif' text-anchor="end" transform="rotate(-90 131.8 2122.5)">3000</text>
<line x1="235.0" y1="2110.6" x2="235.0" y2="2118.6" stroke="#222" stroke-width="1.8" />
<line x1="235.0" y1="1484.7" x2="235.0" y2="1493.7" stroke="#222" stroke-width="1.8" />
<text x="242.4" y="2122.5" font-size="20.5" fill="#222" font-family='"Liberation Sans", sans-serif' text-anchor="end" transform="rotate(-90 242.4 2122.5)">4000</text>
<line x1="345.5" y1="2110.6" x2="345.5" y2="2118.6" stroke="#222" stroke-width="1.8" />
<line x1="345.5" y1="1484.7" x2="345.5" y2="1493.7" stroke="#222" stroke-width="1.8" />
<text x="352.9" y="2122.5" font-size="20.5" fill="#222" font-family='"Liberation Sans", sans-serif' text-anchor="end" transform="rotate(-90 352.9 2122.5)">5000</text>
<line x1="456.1" y1="2110.6" x2="456.1" y2="2118.6" stroke="#222" stroke-width="1.8" />
<line x1="456.1" y1="1484.7" x2="456.1" y2="1493.7" stroke="#222" stroke-width="1.8" />
<text x="463.5" y="2122.5" font-size="20.5" fill="#222" font-family='"Liberation Sans", sans-serif' text-anchor="end" transform="rotate(-90 463.5 2122.5)">6000</text>
<line x1="566.6" y1="2110.6" x2="566.6" y2="2118.6" stroke="#222" stroke-width="1.8" />
<line x1="566.6" y1="1484.7" x2="566.6" y2="1493.7" stroke="#222" stroke-width="1.8" />
<text x="574.0" y="2122.5" font-size="20.5" fill="#222" font-family='"Liberation Sans", sans-serif' text-anchor="end" transform="rotate(-90 574.0 2122.5)">7000</text>
<line x1="677.2" y1="2110.6" x2="677.2" y2="2118.6" stroke="#222" stroke-width="1.8" />
<line x1="677.2" y1="1484.7" x2="677.2" y2="1493.7" stroke="#222" stroke-width="1.8" />
<text x="684.6" y="2122.5" font-size="20.5" fill="#222" font-family='"Liberation Sans", sans-serif' text-anchor="end" transform="rotate(-90 684.6 2122.5)">8000</text>
<line x1="787.7" y1="2110.6" x2="787.7" y2="2118.6" stroke="#222" stroke-width="1.8" />
<line x1="787.7" y1="1484.7" x2="787.7" y2="1493.7" stroke="#222" stroke-width="1.8" />
<text x="795.1" y="2122.5" font-size="20.5" fill="#222" font-family='"Liberation Sans", sans-serif' text-anchor="end" transform="rotate(-90 795.1 2122.5)">9000</text>
<line x1="898.3" y1="2110.6" x2="898.3" y2="2118.6" stroke="#222" stroke-width="1.8" />
<line x1="898.3" y1="1484.7" x2="898.3" y2="1493.7" stroke="#222" stroke-width="1.8" />
<text x="905.7" y="2122.5" font-size="20.5" fill="#222" font-family='"Liberation Sans", sans-serif' text-anchor="end" transform="rotate(-90 905.7 2122.5)">10000</text>
<text x="37.0" y="1792.6" font-size="17.5" fill="#111" font-family='"Liberation Sans", sans-serif' font-weight="bold" text-anchor="middle" textLength="234.5" lengthAdjust="spacingAndGlyphs" transform="rotate(-90 37.0 1792.6)" xml:space="preserve">Velocity_Ratio  (unitless)</text>
<text x="532.0" y="2217.0" font-size="17.5" fill="#111" font-family='"Liberation Sans", sans-serif' font-weight="bold" text-anchor="middle" textLength="146.5" lengthAdjust="spacingAndGlyphs" xml:space="preserve">AI  (g/cm3_m/s)</text>
<rect x="940.5" y="1476.1" width="41.5" height="39.4" fill="#d8dfa8" stroke="none" stroke-width="1" />
<rect x="942.0" y="1477.6" width="38.5" height="36.4" fill="#fffbd0" stroke="none" stroke-width="1" />
<rect x="982.0" y="1476.1" width="41.0" height="39.4" fill="#d8dfa8" stroke="none" stroke-width="1" />
<rect x="983.5" y="1477.6" width="38.0" height="36.4" fill="#fffbd0" stroke="none" stroke-width="1" />
<rect x="1025.4" y="1477.6" width="38.0" height="36.4" fill="#a8b384" stroke="none" stroke-width="1" />
<rect x="942.0" y="1518.8" width="38.5" height="38.2" fill="#a8b384" stroke="none" stroke-width="1" />
<rect x="982.0" y="1517.3" width="41.0" height="41.2" fill="#d8dfa8" stroke="none" stroke-width="1" />
<rect x="983.5" y="1518.8" width="38.0" height="38.2" fill="#fffbd0" stroke="none" stroke-width="1" />
<rect x="1023.9" y="1517.3" width="41.0" height="41.2" fill="#d8dfa8" stroke="none" stroke-width="1" />
<rect x="1025.4" y="1518.8" width="38.0" height="38.2" fill="#fffbd0" stroke="none" stroke-width="1" />
<defs><linearGradient id="ga" x1="0" y1="0" x2="0" y2="1"><stop offset="0" stop-color="#b8e0b0"/><stop offset="1" stop-color="#3f9a4c"/></linearGradient><linearGradient id="mini" x1="0" y1="0" x2="0" y2="1"><stop offset="0" stop-color="#c00000"/><stop offset="0.15" stop-color="#ff2000"/><stop offset="0.4" stop-color="#ffee00"/><stop offset="0.6" stop-color="#40ffb0"/><stop offset="0.8" stop-color="#00a0ff"/><stop offset="1" stop-color="#0000c0"/></linearGradient><linearGradient id="cbar" x1="0" y1="0" x2="0" y2="1"><stop offset="0" stop-color="#000084"/><stop offset="0.125" stop-color="#0000ff"/><stop offset="0.375" stop-color="#00ffff"/><stop offset="0.5" stop-color="#80ff80"/><stop offset="0.625" stop-color="#ffff00"/><stop offset="0.875" stop-color="#ff0000"/><stop offset="1" stop-color="#800000"/></linearGradient></defs>
<path d="M949.0,1496.0 l8,-5.8 v3.2 h16 v5.2 h-16 v3.2 z" fill="url(#ga)" stroke="#5aa866" stroke-width="0.6" />
<path d="M1014.5,1496.0 l-8,-5.8 v3.2 h-16 v5.2 h16 v3.2 z" fill="url(#ga)" stroke="#5aa866" stroke-width="0.6" />
<path d="M1043.7,1484 l6,7.5 h-3.4 v9.5 h3.4 l-6,7.5 l-6,-7.5 h3.4 v-9.5 h-3.4 z" fill="url(#ga)" stroke="#5aa866" stroke-width="0.6" />
<rect x="947.0" y="1524.5" width="28.5" height="27.0" fill="#fff" stroke="none" stroke-width="1" />
<rect x="947.0" y="1524.5" width="11.5" height="27.0" fill="url(#mini)" stroke="none" stroke-width="1" />
<text x="968.0" y="1544.5" font-size="20" fill="#2a7a3a" font-family='"Liberation Sans", sans-serif' font-weight="bold" text-anchor="middle">a</text>
<rect x="988.5" y="1524.5" width="28.5" height="27.0" fill="#fff" stroke="none" stroke-width="1" />
<rect x="988.5" y="1524.5" width="11.5" height="27.0" fill="url(#mini)" stroke="none" stroke-width="1" />
<text x="1009.5" y="1544.5" font-size="20" fill="#111" font-family='"Liberation Sans", sans-serif' font-weight="bold" text-anchor="middle">s</text>
<rect x="1030.4" y="1524.5" width="28.5" height="27.0" fill="#fff" stroke="none" stroke-width="1" />
<rect x="1030.4" y="1524.5" width="11.5" height="27.0" fill="url(#mini)" stroke="none" stroke-width="1" />
<text x="1051.4" y="1544.5" font-size="20" fill="#2a7a3a" font-family='"Liberation Sans", sans-serif' font-weight="bold" text-anchor="middle">m</text>
<rect x="949.2" y="1575.6" width="82.8" height="466.8" fill="url(#cbar)" stroke="#181818" stroke-width="1.4" />
<line x1="1041.0" y1="1575.6" x2="1041.0" y2="2042.4" stroke="#333" stroke-width="2.0" />
<line x1="1041.0" y1="1639.6" x2="1050.0" y2="1639.6" stroke="#222" stroke-width="2.0" />
<text x="1056.0" y="1646.9" font-size="20.5" fill="#111" font-family='"Liberation Sans", sans-serif' font-weight="bold" textLength="34.5" lengthAdjust="spacingAndGlyphs">125</text>
<line x1="1041.0" y1="1729.9" x2="1050.0" y2="1729.9" stroke="#222" stroke-width="2.0" />
<text x="1056.0" y="1737.2" font-size="20.5" fill="#111" font-family='"Liberation Sans", sans-serif' font-weight="bold" textLength="34.5" lengthAdjust="spacingAndGlyphs">100</text>
<line x1="1041.0" y1="1823.9" x2="1050.0" y2="1823.9" stroke="#222" stroke-width="2.0" />
<text x="1056.0" y="1831.2" font-size="20.5" fill="#111" font-family='"Liberation Sans", sans-serif' font-weight="bold" textLength="23.0" lengthAdjust="spacingAndGlyphs">75</text>
<line x1="1041.0" y1="1916.9" x2="1050.0" y2="1916.9" stroke="#222" stroke-width="2.0" />
<text x="1056.0" y="1924.2" font-size="20.5" fill="#111" font-family='"Liberation Sans", sans-serif' font-weight="bold" textLength="23.0" lengthAdjust="spacingAndGlyphs">50</text>
<line x1="1041.0" y1="2011.2" x2="1050.0" y2="2011.2" stroke="#222" stroke-width="2.0" />
<text x="1056.0" y="2018.5" font-size="20.5" fill="#111" font-family='"Liberation Sans", sans-serif' font-weight="bold" textLength="23.0" lengthAdjust="spacingAndGlyphs">25</text>
<rect x="941.2" y="2050.6" width="173.0" height="170.0" fill="#e2e7c8" stroke="#c9d2a0" stroke-width="1.6" />
<text x="1024.3" y="2120.8" font-size="26.5" fill="#111" font-family='"Liberation Sans", sans-serif' font-weight="bold" text-anchor="middle" textLength="39.0" lengthAdjust="spacingAndGlyphs">GR</text>
<rect x="1113.6" y="1477.0" width="3.0" height="746.6" fill="#fff" stroke="none" stroke-width="1" />
<text x="807.5" y="2290.4" font-size="42" fill="#000" font-family='"Liberation Sans", sans-serif' font-weight="bold" text-anchor="middle" textLength="56.0" lengthAdjust="spacingAndGlyphs">(B)</text>
<line x1="1251.0" y1="1530.5" x2="1251.0" y2="2098.1" stroke="#111" stroke-width="3.2" />
<line x1="1249.5" y1="2096.6" x2="1859.5" y2="2096.6" stroke="#111" stroke-width="3.2" />
<line x1="1251.0" y1="1983.4" x2="1257.0" y2="1983.4" stroke="#111" stroke-width="2" />
<line x1="1251.0" y1="1870.2" x2="1257.0" y2="1870.2" stroke="#111" stroke-width="2" />
<line x1="1251.0" y1="1757.0" x2="1257.0" y2="1757.0" stroke="#111" stroke-width="2" />
<line x1="1251.0" y1="1643.8" x2="1257.0" y2="1643.8" stroke="#111" stroke-width="2" />
<line x1="1251.0" y1="1530.6" x2="1257.0" y2="1530.6" stroke="#111" stroke-width="2" />
<line x1="1403.1" y1="2089.6" x2="1403.1" y2="2096.6" stroke="#111" stroke-width="2" />
<line x1="1555.2" y1="2089.6" x2="1555.2" y2="2096.6" stroke="#111" stroke-width="2" />
<line x1="1707.3" y1="2089.6" x2="1707.3" y2="2096.6" stroke="#111" stroke-width="2" />
<line x1="1859.4" y1="2089.6" x2="1859.4" y2="2096.6" stroke="#111" stroke-width="2" />
<text x="1242.0" y="1541.1" font-size="27" fill="#111" font-family='"Liberation Sans", sans-serif' font-weight="bold" text-anchor="end">3.5</text>
<text x="1242.0" y="1654.3" font-size="27" fill="#111" font-family='"Liberation Sans", sans-serif' font-weight="bold" text-anchor="end">3</text>
<text x="1242.0" y="1767.5" font-size="27" fill="#111" font-family='"Liberation Sans", sans-serif' font-weight="bold" text-anchor="end">2.5</text>
<text x="1242.0" y="1880.7" font-size="27" fill="#111" font-family='"Liberation Sans", sans-serif' font-weight="bold" text-anchor="end">2</text>
<text x="1242.0" y="1993.9" font-size="27" fill="#111" font-family='"Liberation Sans", sans-serif' font-weight="bold" text-anchor="end">1.5</text>
<text x="1242.0" y="2107.1" font-size="27" fill="#111" font-family='"Liberation Sans", sans-serif' font-weight="bold" text-anchor="end">1</text>
<text x="1251.0" y="2133.0" font-size="27" fill="#111" font-family='"Liberation Sans", sans-serif' font-weight="bold" text-anchor="middle">0</text>
<text x="1403.1" y="2133.0" font-size="27" fill="#111" font-family='"Liberation Sans", sans-serif' font-weight="bold" text-anchor="middle">0.5</text>
<text x="1555.2" y="2133.0" font-size="27" fill="#111" font-family='"Liberation Sans", sans-serif' font-weight="bold" text-anchor="middle">1</text>
<text x="1707.3" y="2133.0" font-size="27" fill="#111" font-family='"Liberation Sans", sans-serif' font-weight="bold" text-anchor="middle">1.5</text>
<text x="1859.4" y="2133.0" font-size="27" fill="#111" font-family='"Liberation Sans", sans-serif' font-weight="bold" text-anchor="middle">2</text>
<text x="1194.8" y="1815.0" font-size="33.5" fill="#111" font-family='"Liberation Sans", sans-serif' font-weight="bold" text-anchor="middle" textLength="86.5" lengthAdjust="spacingAndGlyphs" transform="rotate(-90 1194.8 1815.0)">Vp/Vs</text>
<text x="1555.5" y="2164.0" font-size="30" fill="#111" font-family='"Liberation Sans", sans-serif' font-weight="bold" text-anchor="middle" textLength="306.5" lengthAdjust="spacingAndGlyphs">Acoustic impedance</text>
<text x="1776.7" y="2180.0" font-size="29" fill="#111" font-family='"Liberation Sans", sans-serif' font-weight="bold" textLength="67.8" lengthAdjust="spacingAndGlyphs">x 10</text>
<text x="1848.2" y="2165.3" font-size="20" fill="#111" font-family='"Liberation Sans", sans-serif' font-weight="bold">4</text>
<text x="1582.5" y="2082.5" font-size="31" fill="#111" font-family='"Liberation Sans", sans-serif' textLength="274.8" lengthAdjust="spacingAndGlyphs">Theoretical Model</text>
<circle cx="1369.0" cy="1594.0" r="3.0" fill="#800000" opacity="0.82"/>
<circle cx="1370.3" cy="1609.7" r="3.0" fill="#b60000" opacity="0.82"/>
<circle cx="1372.1" cy="1625.4" r="3.0" fill="#ed0000" opacity="0.82"/>
<circle cx="1375.6" cy="1640.8" r="3.0" fill="#ff2500" opacity="0.82"/>
<circle cx="1379.1" cy="1656.2" r="3.0" fill="#ff5c00" opacity="0.82"/>
<circle cx="1383.9" cy="1671.3" r="3.0" fill="#ff9300" opacity="0.82"/>
<circle cx="1388.6" cy="1686.3" r="3.0" fill="#ffca00" opacity="0.82"/>
<circle cx="1393.5" cy="1701.3" r="3.0" fill="#fdff02" opacity="0.82"/>
<circle cx="1398.6" cy="1716.3" r="3.0" fill="#c6ff39" opacity="0.82"/>
<circle cx="1403.8" cy="1731.2" r="3.0" fill="#8fff70" opacity="0.82"/>
<circle cx="1410.9" cy="1745.3" r="3.0" fill="#58ffa7" opacity="0.82"/>
<circle cx="1418.0" cy="1759.4" r="3.0" fill="#21ffde" opacity="0.82"/>
<circle cx="1426.6" cy="1772.6" r="3.0" fill="#00e9ff" opacity="0.82"/>
<circle cx="1436.6" cy="1784.8" r="3.0" fill="#00b3ff" opacity="0.82"/>
<circle cx="1366.9" cy="1653.5" r="3.0" fill="#800000" opacity="0.82"/>
<circle cx="1369.5" cy="1666.9" r="3.0" fill="#bb0000" opacity="0.82"/>
<circle cx="1372.7" cy="1680.0" r="3.0" fill="#f60000" opacity="0.82"/>
<circle cx="1377.0" cy="1692.9" r="3.0" fill="#ff3200" opacity="0.82"/>
<circle cx="1381.3" cy="1705.7" r="3.0" fill="#ff6d00" opacity="0.82"/>
<circle cx="1387.0" cy="1718.1" r="3.0" fill="#ffa800" opacity="0.82"/>
<circle cx="1392.9" cy="1730.3" r="3.0" fill="#ffe300" opacity="0.82"/>
<circle cx="1399.1" cy="1742.3" r="3.0" fill="#dfff20" opacity="0.82"/>
<circle cx="1406.2" cy="1753.9" r="3.0" fill="#a4ff5b" opacity="0.82"/>
<circle cx="1413.2" cy="1765.5" r="3.0" fill="#69ff96" opacity="0.82"/>
<circle cx="1419.8" cy="1777.4" r="3.0" fill="#2effd1" opacity="0.82"/>
<circle cx="1368.1" cy="1686.8" r="3.0" fill="#800000" opacity="0.82"/>
<circle cx="1372.3" cy="1700.4" r="3.0" fill="#c00000" opacity="0.82"/>
<circle cx="1376.7" cy="1713.8" r="3.0" fill="#ff0200" opacity="0.82"/>
<circle cx="1382.4" cy="1726.7" r="3.0" fill="#ff4200" opacity="0.82"/>
<circle cx="1388.3" cy="1739.6" r="3.0" fill="#ff8300" opacity="0.82"/>
<circle cx="1395.7" cy="1751.7" r="3.0" fill="#ffc300" opacity="0.82"/>
<circle cx="1403.1" cy="1763.8" r="3.0" fill="#faff05" opacity="0.82"/>
<circle cx="1403.1" cy="1707.2" r="3.0" fill="#b3ff4c" opacity="0.82"/>
<circle cx="1408.8" cy="1721.2" r="3.0" fill="#80ff80" opacity="0.82"/>
<circle cx="1414.7" cy="1735.1" r="3.0" fill="#4dffb2" opacity="0.82"/>
<circle cx="1421.2" cy="1748.8" r="3.0" fill="#1affe5" opacity="0.82"/>
<circle cx="1428.5" cy="1762.0" r="3.0" fill="#00e6ff" opacity="0.82"/>
<circle cx="1436.4" cy="1774.9" r="3.0" fill="#00b2ff" opacity="0.82"/>
<circle cx="1444.9" cy="1787.5" r="3.0" fill="#0080ff" opacity="0.82"/>
<circle cx="1447.2" cy="1802.3" r="3.0" fill="#004dff" opacity="0.82"/>
<circle cx="1387.9" cy="1759.3" r="3.0" fill="#b30000" opacity="0.82"/>
<circle cx="1393.9" cy="1772.6" r="3.0" fill="#e40000" opacity="0.82"/>
<circle cx="1400.3" cy="1785.8" r="3.0" fill="#ff1600" opacity="0.82"/>
<circle cx="1407.2" cy="1798.7" r="3.0" fill="#ff4700" opacity="0.82"/>
<circle cx="1415.1" cy="1811.0" r="3.0" fill="#ff7800" opacity="0.82"/>
<circle cx="1423.2" cy="1823.2" r="3.0" fill="#ffa900" opacity="0.82"/>
<circle cx="1432.2" cy="1834.7" r="3.0" fill="#ffda00" opacity="0.82"/>
<circle cx="1441.9" cy="1845.6" r="3.0" fill="#f3ff0c" opacity="0.82"/>
<circle cx="1451.7" cy="1856.5" r="3.0" fill="#c2ff3d" opacity="0.82"/>
<circle cx="1462.2" cy="1866.7" r="3.0" fill="#91ff6e" opacity="0.82"/>
<circle cx="1472.8" cy="1876.9" r="3.0" fill="#60ff9f" opacity="0.82"/>
<circle cx="1483.4" cy="1887.0" r="3.0" fill="#2fffd0" opacity="0.82"/>
<circle cx="1494.7" cy="1896.3" r="3.0" fill="#00fcff" opacity="0.82"/>
<circle cx="1506.0" cy="1905.6" r="3.0" fill="#00cbff" opacity="0.82"/>
<circle cx="1517.9" cy="1914.1" r="3.0" fill="#009aff" opacity="0.82"/>
<circle cx="1530.5" cy="1921.6" r="3.0" fill="#0069ff" opacity="0.82"/>
<circle cx="1543.0" cy="1929.1" r="3.0" fill="#0038ff" opacity="0.82"/>
<circle cx="1394.0" cy="1802.3" r="3.0" fill="#b30000" opacity="0.82"/>
<circle cx="1400.4" cy="1815.0" r="3.0" fill="#e60000" opacity="0.82"/>
<circle cx="1407.6" cy="1827.2" r="3.0" fill="#ff1a00" opacity="0.82"/>
<circle cx="1415.6" cy="1839.0" r="3.0" fill="#ff4d00" opacity="0.82"/>
<circle cx="1424.4" cy="1850.1" r="3.0" fill="#ff8000" opacity="0.82"/>
<circle cx="1433.6" cy="1860.9" r="3.0" fill="#ffb300" opacity="0.82"/>
<circle cx="1443.1" cy="1871.5" r="3.0" fill="#ffe600" opacity="0.82"/>
<circle cx="1453.0" cy="1881.7" r="3.0" fill="#e5ff1a" opacity="0.82"/>
<circle cx="1462.9" cy="1891.8" r="3.0" fill="#b2ff4d" opacity="0.82"/>
<circle cx="1474.2" cy="1900.5" r="3.0" fill="#7fff80" opacity="0.82"/>
<circle cx="1485.6" cy="1909.0" r="3.0" fill="#4cffb3" opacity="0.82"/>
<circle cx="1497.2" cy="1917.2" r="3.0" fill="#19ffe6" opacity="0.82"/>
<circle cx="1509.4" cy="1924.4" r="3.0" fill="#00e5ff" opacity="0.82"/>
<circle cx="1521.6" cy="1931.7" r="3.0" fill="#00b2ff" opacity="0.82"/>
<circle cx="1535.1" cy="1935.5" r="3.0" fill="#0080ff" opacity="0.82"/>
<circle cx="1549.1" cy="1938.1" r="3.0" fill="#004cff" opacity="0.82"/>
<circle cx="1387.9" cy="1822.7" r="3.0" fill="#800000" opacity="0.82"/>
<circle cx="1394.9" cy="1833.1" r="3.0" fill="#af0000" opacity="0.82"/>
<circle cx="1402.2" cy="1843.2" r="3.0" fill="#de0000" opacity="0.82"/>
<circle cx="1409.7" cy="1853.3" r="3.0" fill="#ff0f00" opacity="0.82"/>
<circle cx="1418.0" cy="1862.7" r="3.0" fill="#ff3e00" opacity="0.82"/>
<circle cx="1426.5" cy="1871.8" r="3.0" fill="#ff6d00" opacity="0.82"/>
<circle cx="1435.3" cy="1880.8" r="3.0" fill="#ff9d00" opacity="0.82"/>
<circle cx="1444.9" cy="1888.8" r="3.0" fill="#ffcc00" opacity="0.82"/>
<circle cx="1454.6" cy="1896.9" r="3.0" fill="#fffb00" opacity="0.82"/>
<circle cx="1464.7" cy="1904.2" r="3.0" fill="#d3ff2c" opacity="0.82"/>
<circle cx="1475.1" cy="1911.2" r="3.0" fill="#a4ff5b" opacity="0.82"/>
<circle cx="1485.5" cy="1918.2" r="3.0" fill="#75ff8a" opacity="0.82"/>
<circle cx="1496.5" cy="1924.3" r="3.0" fill="#45ffba" opacity="0.82"/>
<circle cx="1507.6" cy="1930.1" r="3.0" fill="#16ffe9" opacity="0.82"/>
<circle cx="1518.7" cy="1935.9" r="3.0" fill="#00e5ff" opacity="0.82"/>
<circle cx="1394.0" cy="1858.9" r="3.0" fill="#800000" opacity="0.82"/>
<circle cx="1401.2" cy="1867.8" r="3.0" fill="#b30000" opacity="0.82"/>
<circle cx="1409.0" cy="1876.3" r="3.0" fill="#e50000" opacity="0.82"/>
<circle cx="1416.9" cy="1884.6" r="3.0" fill="#ff1a00" opacity="0.82"/>
<circle cx="1426.0" cy="1891.7" r="3.0" fill="#ff4c00" opacity="0.82"/>
<circle cx="1435.2" cy="1898.6" r="3.0" fill="#ff8000" opacity="0.82"/>
<circle cx="1444.6" cy="1905.2" r="3.0" fill="#ffb300" opacity="0.82"/>
<circle cx="1454.3" cy="1911.5" r="3.0" fill="#ffe600" opacity="0.82"/>
<circle cx="1463.9" cy="1917.7" r="3.0" fill="#e5ff1a" opacity="0.82"/>
<circle cx="1400.1" cy="1872.5" r="3.0" fill="#800000" opacity="0.82"/>
<circle cx="1407.0" cy="1881.0" r="3.0" fill="#ac0000" opacity="0.82"/>
<circle cx="1415.2" cy="1888.2" r="3.0" fill="#d90000" opacity="0.82"/>
<circle cx="1424.0" cy="1894.8" r="3.0" fill="#ff0700" opacity="0.82"/>
<circle cx="1433.3" cy="1900.6" r="3.0" fill="#ff3400" opacity="0.82"/>
<circle cx="1442.6" cy="1906.4" r="3.0" fill="#ff6100" opacity="0.82"/>
<circle cx="1442.6" cy="1784.2" r="3.0" fill="#004dff" opacity="0.82"/>
<circle cx="1454.0" cy="1806.0" r="3.0" fill="#003cff" opacity="0.82"/>
<circle cx="1465.9" cy="1827.4" r="3.0" fill="#002cff" opacity="0.82"/>
<circle cx="1481.2" cy="1846.7" r="3.0" fill="#001cff" opacity="0.82"/>
<circle cx="1497.2" cy="1865.0" r="3.0" fill="#000bff" opacity="0.82"/>
<circle cx="1518.7" cy="1877.0" r="3.0" fill="#0000fa" opacity="0.82"/>
<circle cx="1518.7" cy="1877.0" r="3.0" fill="#0000fa" opacity="0.82"/>
<circle cx="1526.3" cy="1888.3" r="3.0" fill="#0000f5" opacity="0.82"/>
<circle cx="1534.0" cy="1899.7" r="3.0" fill="#0000f0" opacity="0.82"/>
<circle cx="1545.6" cy="1906.9" r="3.0" fill="#0000eb" opacity="0.82"/>
<circle cx="1558.2" cy="1912.1" r="3.0" fill="#0000e6" opacity="0.82"/>
<circle cx="1543.0" cy="1927.9" r="3.0" fill="#faff05" opacity="0.82"/>
<circle cx="1553.7" cy="1931.9" r="3.0" fill="#dbff24" opacity="0.82"/>
<circle cx="1564.5" cy="1935.9" r="3.0" fill="#bbff44" opacity="0.82"/>
<circle cx="1575.4" cy="1939.1" r="3.0" fill="#9cff63" opacity="0.82"/>
<circle cx="1586.6" cy="1941.3" r="3.0" fill="#7dff82" opacity="0.82"/>
<circle cx="1597.8" cy="1943.6" r="3.0" fill="#5effa1" opacity="0.82"/>
<circle cx="1609.0" cy="1945.8" r="3.0" fill="#3effc1" opacity="0.82"/>
<circle cx="1620.3" cy="1948.0" r="3.0" fill="#1fffe0" opacity="0.82"/>
<circle cx="1631.5" cy="1950.2" r="3.0" fill="#00ffff" opacity="0.82"/>
<circle cx="1642.7" cy="1952.5" r="3.0" fill="#00e0ff" opacity="0.82"/>
<circle cx="1653.9" cy="1954.7" r="3.0" fill="#00c1ff" opacity="0.82"/>
<circle cx="1665.1" cy="1956.7" r="3.0" fill="#00a1ff" opacity="0.82"/>
<circle cx="1676.5" cy="1958.0" r="3.0" fill="#0082ff" opacity="0.82"/>
<circle cx="1687.8" cy="1959.4" r="3.0" fill="#0063ff" opacity="0.82"/>
<circle cx="1699.2" cy="1960.7" r="3.0" fill="#0044ff" opacity="0.82"/>
<circle cx="1710.6" cy="1962.1" r="3.0" fill="#0024ff" opacity="0.82"/>
<circle cx="1721.9" cy="1963.5" r="3.0" fill="#0005ff" opacity="0.82"/>
<circle cx="1549.1" cy="1938.1" r="3.0" fill="#e5ff1a" opacity="0.82"/>
<circle cx="1562.9" cy="1940.2" r="3.0" fill="#beff41" opacity="0.82"/>
<circle cx="1576.7" cy="1942.2" r="3.0" fill="#96ff69" opacity="0.82"/>
<circle cx="1590.4" cy="1944.7" r="3.0" fill="#6eff91" opacity="0.82"/>
<circle cx="1604.1" cy="1947.2" r="3.0" fill="#46ffb9" opacity="0.82"/>
<circle cx="1617.8" cy="1949.8" r="3.0" fill="#1effe1" opacity="0.82"/>
<circle cx="1631.5" cy="1952.3" r="3.0" fill="#00f5ff" opacity="0.82"/>
<circle cx="1645.1" cy="1954.9" r="3.0" fill="#00cdff" opacity="0.82"/>
<circle cx="1658.8" cy="1957.4" r="3.0" fill="#00a5ff" opacity="0.82"/>
<circle cx="1672.5" cy="1960.0" r="3.0" fill="#007dff" opacity="0.82"/>
<circle cx="1686.2" cy="1962.8" r="3.0" fill="#0055ff" opacity="0.82"/>
<circle cx="1699.8" cy="1965.7" r="3.0" fill="#002dff" opacity="0.82"/>
<circle cx="1713.4" cy="1968.7" r="3.0" fill="#0005ff" opacity="0.82"/>
<circle cx="1321.3" cy="1997.9" r="3.0" fill="#800000" opacity="0.82"/>
<circle cx="1326.7" cy="1996.7" r="3.0" fill="#980000" opacity="0.82"/>
<circle cx="1332.1" cy="1995.6" r="3.0" fill="#b00000" opacity="0.82"/>
<circle cx="1337.5" cy="1994.4" r="3.0" fill="#c80000" opacity="0.82"/>
<circle cx="1342.9" cy="1993.3" r="3.0" fill="#e10000" opacity="0.82"/>
<circle cx="1348.3" cy="1992.1" r="3.0" fill="#f90000" opacity="0.82"/>
<circle cx="1353.7" cy="1991.0" r="3.0" fill="#ff1200" opacity="0.82"/>
<circle cx="1359.1" cy="1989.8" r="3.0" fill="#ff2a00" opacity="0.82"/>
<circle cx="1364.4" cy="1988.5" r="3.0" fill="#ff4300" opacity="0.82"/>
<circle cx="1369.8" cy="1987.1" r="3.0" fill="#ff5b00" opacity="0.82"/>
<circle cx="1375.2" cy="1985.8" r="3.0" fill="#ff7300" opacity="0.82"/>
<circle cx="1380.5" cy="1984.5" r="3.0" fill="#ff8b00" opacity="0.82"/>
<circle cx="1385.9" cy="1983.1" r="3.0" fill="#ffa400" opacity="0.82"/>
<circle cx="1391.3" cy="1981.8" r="3.0" fill="#ffbc00" opacity="0.82"/>
<circle cx="1396.6" cy="1980.5" r="3.0" fill="#ffd400" opacity="0.82"/>
<circle cx="1402.0" cy="1979.2" r="3.0" fill="#ffec00" opacity="0.82"/>
<circle cx="1407.4" cy="1978.0" r="3.0" fill="#f9ff06" opacity="0.82"/>
<circle cx="1412.8" cy="1976.9" r="3.0" fill="#e1ff1e" opacity="0.82"/>
<circle cx="1418.2" cy="1975.8" r="3.0" fill="#c9ff36" opacity="0.82"/>
<circle cx="1423.6" cy="1974.7" r="3.0" fill="#b1ff4e" opacity="0.82"/>
<circle cx="1429.0" cy="1973.6" r="3.0" fill="#98ff67" opacity="0.82"/>
<circle cx="1434.4" cy="1972.5" r="3.0" fill="#80ff7f" opacity="0.82"/>
<circle cx="1439.8" cy="1971.4" r="3.0" fill="#68ff97" opacity="0.82"/>
<circle cx="1445.3" cy="1970.2" r="3.0" fill="#50ffaf" opacity="0.82"/>
<circle cx="1450.7" cy="1969.1" r="3.0" fill="#37ffc8" opacity="0.82"/>
<circle cx="1456.1" cy="1968.0" r="3.0" fill="#1fffe0" opacity="0.82"/>
<circle cx="1461.5" cy="1966.9" r="3.0" fill="#07fff8" opacity="0.82"/>
<circle cx="1466.9" cy="1965.9" r="3.0" fill="#00edff" opacity="0.82"/>
<circle cx="1472.4" cy="1965.0" r="3.0" fill="#00d5ff" opacity="0.82"/>
<circle cx="1477.8" cy="1964.1" r="3.0" fill="#00bdff" opacity="0.82"/>
<circle cx="1483.3" cy="1963.2" r="3.0" fill="#00a5ff" opacity="0.82"/>
<circle cx="1488.7" cy="1962.3" r="3.0" fill="#008cff" opacity="0.82"/>
<circle cx="1494.2" cy="1961.4" r="3.0" fill="#0074ff" opacity="0.82"/>
<circle cx="1499.6" cy="1960.5" r="3.0" fill="#005cff" opacity="0.82"/>
<circle cx="1505.1" cy="1959.6" r="3.0" fill="#0044ff" opacity="0.82"/>
<circle cx="1510.5" cy="1958.7" r="3.0" fill="#002bff" opacity="0.82"/>
<circle cx="1516.0" cy="1957.8" r="3.0" fill="#0013ff" opacity="0.82"/>
<circle cx="1521.4" cy="1956.9" r="3.0" fill="#0000fa" opacity="0.82"/>
<circle cx="1327.0" cy="2000.4" r="3.0" fill="#800000" opacity="0.82"/>
<circle cx="1333.6" cy="1999.4" r="3.0" fill="#980000" opacity="0.82"/>
<circle cx="1340.2" cy="1998.4" r="3.0" fill="#b10000" opacity="0.82"/>
<circle cx="1346.7" cy="1997.4" r="3.0" fill="#c90000" opacity="0.82"/>
<circle cx="1353.3" cy="1996.5" r="3.0" fill="#e20000" opacity="0.82"/>
<circle cx="1359.9" cy="1995.5" r="3.0" fill="#fb0000" opacity="0.82"/>
<circle cx="1366.4" cy="1994.5" r="3.0" fill="#ff1400" opacity="0.82"/>
<circle cx="1373.0" cy="1993.5" r="3.0" fill="#ff2d00" opacity="0.82"/>
<circle cx="1379.6" cy="1992.7" r="3.0" fill="#ff4500" opacity="0.82"/>
<circle cx="1386.1" cy="1991.8" r="3.0" fill="#ff5e00" opacity="0.82"/>
<circle cx="1392.7" cy="1991.0" r="3.0" fill="#ff7700" opacity="0.82"/>
<circle cx="1399.3" cy="1990.1" r="3.0" fill="#ff8f00" opacity="0.82"/>
<circle cx="1405.9" cy="1989.3" r="3.0" fill="#ffa800" opacity="0.82"/>
<circle cx="1412.5" cy="1988.4" r="3.0" fill="#ffc100" opacity="0.82"/>
<circle cx="1419.0" cy="1987.6" r="3.0" fill="#ffd900" opacity="0.82"/>
<circle cx="1425.6" cy="1986.7" r="3.0" fill="#fff200" opacity="0.82"/>
<circle cx="1432.2" cy="1985.8" r="3.0" fill="#f4ff0b" opacity="0.82"/>
<circle cx="1438.8" cy="1985.5" r="3.0" fill="#dbff24" opacity="0.82"/>
<circle cx="1445.4" cy="1985.4" r="3.0" fill="#c2ff3d" opacity="0.82"/>
<circle cx="1452.1" cy="1985.2" r="3.0" fill="#aaff55" opacity="0.82"/>
<circle cx="1458.7" cy="1985.1" r="3.0" fill="#91ff6e" opacity="0.82"/>
<circle cx="1465.3" cy="1984.9" r="3.0" fill="#78ff87" opacity="0.82"/>
<circle cx="1472.0" cy="1984.7" r="3.0" fill="#60ff9f" opacity="0.82"/>
<circle cx="1478.6" cy="1984.6" r="3.0" fill="#47ffb8" opacity="0.82"/>
<circle cx="1485.2" cy="1984.4" r="3.0" fill="#2fffd0" opacity="0.82"/>
<circle cx="1491.9" cy="1984.3" r="3.0" fill="#16ffe9" opacity="0.82"/>
<circle cx="1498.5" cy="1984.1" r="3.0" fill="#00fcff" opacity="0.82"/>
<circle cx="1505.1" cy="1983.9" r="3.0" fill="#00e4ff" opacity="0.82"/>
<circle cx="1511.8" cy="1983.8" r="3.0" fill="#00cbff" opacity="0.82"/>
<circle cx="1518.4" cy="1983.6" r="3.0" fill="#00b3ff" opacity="0.82"/>
<circle cx="1330.1" cy="2001.5" r="3.0" fill="#800000" opacity="0.82"/>
<circle cx="1334.4" cy="2000.9" r="3.0" fill="#870000" opacity="0.82"/>
<circle cx="1338.8" cy="2000.2" r="3.0" fill="#8e0000" opacity="0.82"/>
<circle cx="1343.1" cy="1999.6" r="3.0" fill="#950000" opacity="0.82"/>
<circle cx="1347.5" cy="1998.9" r="3.0" fill="#9d0000" opacity="0.82"/>
<circle cx="1351.8" cy="1998.3" r="3.0" fill="#a40000" opacity="0.82"/>
<circle cx="1356.2" cy="1997.6" r="3.0" fill="#ab0000" opacity="0.82"/>
<circle cx="1360.5" cy="1997.0" r="3.0" fill="#b30000" opacity="0.82"/>
<circle cx="1348.3" cy="2021.9" r="3.0" fill="#9e0000" opacity="0.82"/>
<circle cx="1412.2" cy="1949.4" r="3.0" fill="#c70000" opacity="0.82"/>
<circle cx="1445.7" cy="1938.1" r="3.0" fill="#e50000" opacity="0.82"/>
<circle cx="1473.1" cy="1935.9" r="3.0" fill="#ff4c00" opacity="0.82"/>
<circle cx="1497.4" cy="1935.9" r="3.0" fill="#ff9e00" opacity="0.82"/>
<circle cx="1521.7" cy="1935.9" r="3.0" fill="#ffdb00" opacity="0.82"/>
<line x1="1331.7" y1="1615.2" x2="1347.6" y2="1722.8" stroke="#111" stroke-width="2.4" />
<path d="M1350.1,1739.6l-11.2-17.6 16.8-2.4z" fill="#111" stroke="none" stroke-width="1" />
<line x1="1571.6" y1="1846.7" x2="1466.7" y2="1646.0" stroke="#111" stroke-width="4.4" />
<path d="M1456.1,1625.6l21.3,17.1-19.5,10.2z" fill="#111" stroke="none" stroke-width="1" />
<line x1="1532.2" y1="1846.7" x2="1390.7" y2="1780.1" stroke="#111" stroke-width="3.6" />
<path d="M1370.8,1770.7l26.4,.3-9.4,19.9z" fill="#111" stroke="none" stroke-width="1" />
<line x1="1397.8" y1="1887.9" x2="1361.8" y2="1952.6" stroke="#111" stroke-width="4.2" />
<path d="M1351.1,1971.8l2.1-26.3 19.2,10.7z" fill="#111" stroke="none" stroke-width="1" />
<line x1="1560.6" y1="1914.6" x2="1732.2" y2="1950.0" stroke="#111" stroke-width="3.0" />
<path d="M1751.8,1954l-23.5,4.9 3.9-18.6z" fill="#111" stroke="none" stroke-width="1" />
<text x="1266.5" y="1603.7" font-size="30" fill="#1c2a50" font-family='"Liberation Serif", serif' font-style="italic" textLength="113.5" lengthAdjust="spacingAndGlyphs">Pressure</text>
<text x="1506.8" y="1710.2" font-size="30" fill="#1c2a50" font-family='"Liberation Serif", serif' font-style="italic" textLength="162.3" lengthAdjust="spacingAndGlyphs">Clay content</text>
<text x="1411.2" y="1776.5" font-size="30" fill="#1c2a50" font-family='"Liberation Serif", serif' font-style="italic" textLength="107.0" lengthAdjust="spacingAndGlyphs">Porosity</text>
<text x="1287.5" y="1928.6" font-size="30" fill="#1c2a50" font-family='"Liberation Serif", serif' font-style="italic" textLength="48.4" lengthAdjust="spacingAndGlyphs">Gas</text>
<text x="1660.6" y="1899.7" font-size="30" fill="#1c2a50" font-family='"Liberation Serif", serif' font-style="italic" textLength="96.3" lengthAdjust="spacingAndGlyphs">Cement</text>
<text x="1373.1" y="1705.8" font-size="25" fill="#111" font-family='"Liberation Sans", sans-serif' font-weight="bold" textLength="74.5" lengthAdjust="spacingAndGlyphs">Shale</text>
<text x="1440.6" y="1860.6" font-size="25" fill="#111" font-family='"Liberation Sans", sans-serif' font-weight="bold" textLength="70.8" lengthAdjust="spacingAndGlyphs">Brine</text>
<text x="1440.6" y="1892.4" font-size="25" fill="#111" font-family='"Liberation Sans", sans-serif' font-weight="bold" textLength="78.8" lengthAdjust="spacingAndGlyphs">sands</text>
<text x="1392.3" y="1998.1" font-size="25" fill="#111" font-family='"Liberation Sans", sans-serif' font-weight="bold" textLength="52.1" lengthAdjust="spacingAndGlyphs">Gas</text>
<text x="1392.3" y="2032.0" font-size="25" fill="#111" font-family='"Liberation Sans", sans-serif' font-weight="bold" textLength="80.5" lengthAdjust="spacingAndGlyphs">sands</text>
</svg>
</body></html>
